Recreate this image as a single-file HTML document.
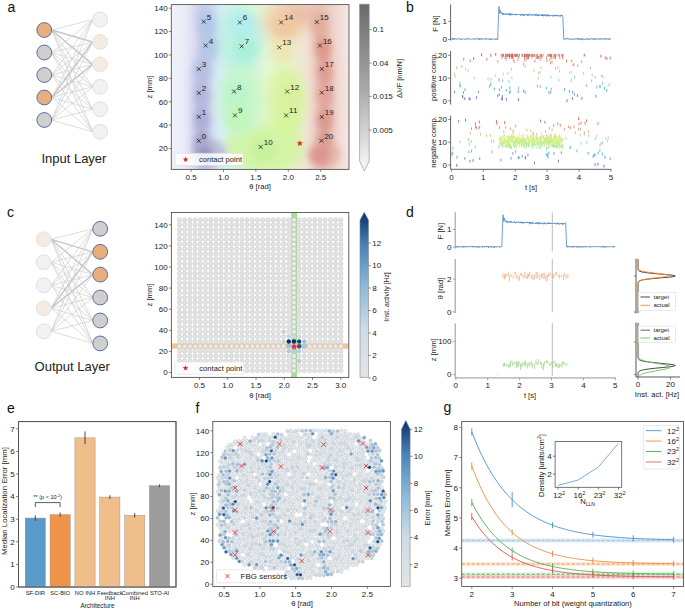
<!DOCTYPE html>
<html><head><meta charset="utf-8"><style>
html,body{margin:0;padding:0;background:#fff;width:685px;height:609px;overflow:hidden;}
svg{display:block;font-family:"Liberation Sans", sans-serif;}
</style></head><body>
<svg width="685" height="609" viewBox="0 0 685 609">
<defs><clipPath id="clipA"><rect x="171.3" y="4.6" width="177.7" height="164.8"/></clipPath>
<filter id="blurA" x="-50%" y="-50%" width="200%" height="200%"><feGaussianBlur stdDeviation="6"/></filter>
<filter id="blurA2" x="-50%" y="-50%" width="200%" height="200%"><feGaussianBlur stdDeviation="3"/></filter>
<linearGradient id="gAbg" x1="171.3" y1="0" x2="349" y2="0" gradientUnits="userSpaceOnUse"><stop offset="0" stop-color="#f0f2fa"/><stop offset="0.08" stop-color="#e9eaf6"/><stop offset="0.17" stop-color="#d6d8ee"/><stop offset="0.27" stop-color="#d6eef6"/><stop offset="0.40" stop-color="#d2f6de"/><stop offset="0.53" stop-color="#e4f7d4"/><stop offset="0.64" stop-color="#e6f4c6"/><stop offset="0.76" stop-color="#f2e4d8"/><stop offset="0.85" stop-color="#ecc8c0"/><stop offset="1" stop-color="#f5e7e3"/></linearGradient>
<linearGradient id="gA" x1="0" y1="0" x2="0" y2="1"><stop offset="0" stop-color="#6a6a6a"/><stop offset="0.5" stop-color="#a8a8a8"/><stop offset="1" stop-color="#fafafa"/></linearGradient>
<clipPath id="clipC"><rect x="171.4" y="212.5" width="177.4" height="164.9"/></clipPath>
<linearGradient id="gC" x1="0" y1="1" x2="0" y2="0"><stop offset="0" stop-color="#e4e4e4"/><stop offset="0.3" stop-color="#cddbe4"/><stop offset="0.55" stop-color="#8cbada"/><stop offset="0.8" stop-color="#4a82b8"/><stop offset="1" stop-color="#08306b"/></linearGradient>
<linearGradient id="gF" x1="0" y1="1" x2="0" y2="0"><stop offset="0" stop-color="#e4e4e4"/><stop offset="0.3" stop-color="#cddbe4"/><stop offset="0.55" stop-color="#8cbada"/><stop offset="0.8" stop-color="#4a82b8"/><stop offset="1" stop-color="#08306b"/></linearGradient>
<clipPath id="clipG"><rect x="461.7" y="421.5" width="221.8" height="165"/></clipPath></defs>
<rect width="685" height="609" fill="#fff"/>
<line x1="51.7" y1="30" x2="92.7" y2="19.6" stroke="#d0d0d0" stroke-width="0.75"/>
<line x1="51.7" y1="30" x2="92.7" y2="42" stroke="#c6c6c6" stroke-width="1.4"/>
<line x1="51.7" y1="30" x2="92.7" y2="64.4" stroke="#c6c6c6" stroke-width="1.4"/>
<line x1="51.7" y1="30" x2="92.7" y2="86.8" stroke="#d0d0d0" stroke-width="0.75"/>
<line x1="51.7" y1="30" x2="92.7" y2="109.2" stroke="#d0d0d0" stroke-width="0.75"/>
<line x1="51.7" y1="30" x2="92.7" y2="131.8" stroke="#d0d0d0" stroke-width="0.75"/>
<line x1="51.7" y1="52.5" x2="92.7" y2="19.6" stroke="#d0d0d0" stroke-width="0.75"/>
<line x1="51.7" y1="52.5" x2="92.7" y2="42" stroke="#d0d0d0" stroke-width="0.75"/>
<line x1="51.7" y1="52.5" x2="92.7" y2="64.4" stroke="#d0d0d0" stroke-width="0.75"/>
<line x1="51.7" y1="52.5" x2="92.7" y2="86.8" stroke="#d0d0d0" stroke-width="0.75"/>
<line x1="51.7" y1="52.5" x2="92.7" y2="109.2" stroke="#d0d0d0" stroke-width="0.75"/>
<line x1="51.7" y1="52.5" x2="92.7" y2="131.8" stroke="#d0d0d0" stroke-width="0.75"/>
<line x1="51.7" y1="75" x2="92.7" y2="19.6" stroke="#d0d0d0" stroke-width="0.75"/>
<line x1="51.7" y1="75" x2="92.7" y2="42" stroke="#d0d0d0" stroke-width="0.75"/>
<line x1="51.7" y1="75" x2="92.7" y2="64.4" stroke="#d0d0d0" stroke-width="0.75"/>
<line x1="51.7" y1="75" x2="92.7" y2="86.8" stroke="#d0d0d0" stroke-width="0.75"/>
<line x1="51.7" y1="75" x2="92.7" y2="109.2" stroke="#d0d0d0" stroke-width="0.75"/>
<line x1="51.7" y1="75" x2="92.7" y2="131.8" stroke="#d0d0d0" stroke-width="0.75"/>
<line x1="51.7" y1="97.5" x2="92.7" y2="19.6" stroke="#d0d0d0" stroke-width="0.75"/>
<line x1="51.7" y1="97.5" x2="92.7" y2="42" stroke="#c6c6c6" stroke-width="1.4"/>
<line x1="51.7" y1="97.5" x2="92.7" y2="64.4" stroke="#c6c6c6" stroke-width="1.4"/>
<line x1="51.7" y1="97.5" x2="92.7" y2="86.8" stroke="#d0d0d0" stroke-width="0.75"/>
<line x1="51.7" y1="97.5" x2="92.7" y2="109.2" stroke="#d0d0d0" stroke-width="0.75"/>
<line x1="51.7" y1="97.5" x2="92.7" y2="131.8" stroke="#d0d0d0" stroke-width="0.75"/>
<line x1="51.7" y1="120" x2="92.7" y2="19.6" stroke="#d0d0d0" stroke-width="0.75"/>
<line x1="51.7" y1="120" x2="92.7" y2="42" stroke="#d0d0d0" stroke-width="0.75"/>
<line x1="51.7" y1="120" x2="92.7" y2="64.4" stroke="#d0d0d0" stroke-width="0.75"/>
<line x1="51.7" y1="120" x2="92.7" y2="86.8" stroke="#d0d0d0" stroke-width="0.75"/>
<line x1="51.7" y1="120" x2="92.7" y2="109.2" stroke="#d0d0d0" stroke-width="0.75"/>
<line x1="51.7" y1="120" x2="92.7" y2="131.8" stroke="#d0d0d0" stroke-width="0.75"/>
<circle cx="44.3" cy="30" r="7.4" fill="#e8ae7e" stroke="#5a6ea6" stroke-width="1"/>
<circle cx="44.3" cy="52.5" r="7.4" fill="#cfcfcf" stroke="#5a6ea6" stroke-width="1"/>
<circle cx="44.3" cy="75" r="7.4" fill="#cfcfcf" stroke="#5a6ea6" stroke-width="1"/>
<circle cx="44.3" cy="97.5" r="7.4" fill="#e8ae7e" stroke="#5a6ea6" stroke-width="1"/>
<circle cx="44.3" cy="120" r="7.4" fill="#cfcfcf" stroke="#5a6ea6" stroke-width="1"/>
<circle cx="100.1" cy="19.6" r="7.4" fill="#f2f2f4" stroke="#dadfea" stroke-width="1"/>
<circle cx="100.1" cy="42" r="7.4" fill="#f4ece2" stroke="#e6e2de" stroke-width="1"/>
<circle cx="100.1" cy="64.4" r="7.4" fill="#f4ece2" stroke="#e6e2de" stroke-width="1"/>
<circle cx="100.1" cy="86.8" r="7.4" fill="#f2f2f4" stroke="#dadfea" stroke-width="1"/>
<circle cx="100.1" cy="109.2" r="7.4" fill="#f2f2f4" stroke="#dadfea" stroke-width="1"/>
<circle cx="100.1" cy="131.8" r="7.4" fill="#f2f2f4" stroke="#dadfea" stroke-width="1"/>
<text x="73.9" y="163.28" font-size="13" text-anchor="middle" fill="#222">Input Layer</text>
<line x1="51.1" y1="239.3" x2="92.8" y2="228.8" stroke="#d0d0d0" stroke-width="0.75"/>
<line x1="51.1" y1="239.3" x2="92.8" y2="251.8" stroke="#c6c6c6" stroke-width="1.4"/>
<line x1="51.1" y1="239.3" x2="92.8" y2="274.6" stroke="#c6c6c6" stroke-width="1.4"/>
<line x1="51.1" y1="239.3" x2="92.8" y2="297.5" stroke="#d0d0d0" stroke-width="0.75"/>
<line x1="51.1" y1="239.3" x2="92.8" y2="320.5" stroke="#d0d0d0" stroke-width="0.75"/>
<line x1="51.1" y1="239.3" x2="92.8" y2="343.4" stroke="#d0d0d0" stroke-width="0.75"/>
<line x1="51.1" y1="262.3" x2="92.8" y2="228.8" stroke="#d0d0d0" stroke-width="0.75"/>
<line x1="51.1" y1="262.3" x2="92.8" y2="251.8" stroke="#d0d0d0" stroke-width="0.75"/>
<line x1="51.1" y1="262.3" x2="92.8" y2="274.6" stroke="#d0d0d0" stroke-width="0.75"/>
<line x1="51.1" y1="262.3" x2="92.8" y2="297.5" stroke="#d0d0d0" stroke-width="0.75"/>
<line x1="51.1" y1="262.3" x2="92.8" y2="320.5" stroke="#d0d0d0" stroke-width="0.75"/>
<line x1="51.1" y1="262.3" x2="92.8" y2="343.4" stroke="#d0d0d0" stroke-width="0.75"/>
<line x1="51.1" y1="285.3" x2="92.8" y2="228.8" stroke="#d0d0d0" stroke-width="0.75"/>
<line x1="51.1" y1="285.3" x2="92.8" y2="251.8" stroke="#d0d0d0" stroke-width="0.75"/>
<line x1="51.1" y1="285.3" x2="92.8" y2="274.6" stroke="#d0d0d0" stroke-width="0.75"/>
<line x1="51.1" y1="285.3" x2="92.8" y2="297.5" stroke="#d0d0d0" stroke-width="0.75"/>
<line x1="51.1" y1="285.3" x2="92.8" y2="320.5" stroke="#d0d0d0" stroke-width="0.75"/>
<line x1="51.1" y1="285.3" x2="92.8" y2="343.4" stroke="#d0d0d0" stroke-width="0.75"/>
<line x1="51.1" y1="308.3" x2="92.8" y2="228.8" stroke="#d0d0d0" stroke-width="0.75"/>
<line x1="51.1" y1="308.3" x2="92.8" y2="251.8" stroke="#c6c6c6" stroke-width="1.4"/>
<line x1="51.1" y1="308.3" x2="92.8" y2="274.6" stroke="#c6c6c6" stroke-width="1.4"/>
<line x1="51.1" y1="308.3" x2="92.8" y2="297.5" stroke="#d0d0d0" stroke-width="0.75"/>
<line x1="51.1" y1="308.3" x2="92.8" y2="320.5" stroke="#d0d0d0" stroke-width="0.75"/>
<line x1="51.1" y1="308.3" x2="92.8" y2="343.4" stroke="#d0d0d0" stroke-width="0.75"/>
<line x1="51.1" y1="331.3" x2="92.8" y2="228.8" stroke="#d0d0d0" stroke-width="0.75"/>
<line x1="51.1" y1="331.3" x2="92.8" y2="251.8" stroke="#d0d0d0" stroke-width="0.75"/>
<line x1="51.1" y1="331.3" x2="92.8" y2="274.6" stroke="#d0d0d0" stroke-width="0.75"/>
<line x1="51.1" y1="331.3" x2="92.8" y2="297.5" stroke="#d0d0d0" stroke-width="0.75"/>
<line x1="51.1" y1="331.3" x2="92.8" y2="320.5" stroke="#d0d0d0" stroke-width="0.75"/>
<line x1="51.1" y1="331.3" x2="92.8" y2="343.4" stroke="#d0d0d0" stroke-width="0.75"/>
<circle cx="43.7" cy="239.3" r="7.4" fill="#f4ece2" stroke="#e6e2de" stroke-width="1"/>
<circle cx="43.7" cy="262.3" r="7.4" fill="#f2f2f4" stroke="#dadfea" stroke-width="1"/>
<circle cx="43.7" cy="285.3" r="7.4" fill="#f2f2f4" stroke="#dadfea" stroke-width="1"/>
<circle cx="43.7" cy="308.3" r="7.4" fill="#f4ece2" stroke="#e6e2de" stroke-width="1"/>
<circle cx="43.7" cy="331.3" r="7.4" fill="#f2f2f4" stroke="#dadfea" stroke-width="1"/>
<circle cx="100.2" cy="228.8" r="7.4" fill="#cfcfcf" stroke="#5a6ea6" stroke-width="1"/>
<circle cx="100.2" cy="251.8" r="7.4" fill="#e8ae7e" stroke="#5a6ea6" stroke-width="1"/>
<circle cx="100.2" cy="274.6" r="7.4" fill="#e8ae7e" stroke="#5a6ea6" stroke-width="1"/>
<circle cx="100.2" cy="297.5" r="7.4" fill="#cfcfcf" stroke="#5a6ea6" stroke-width="1"/>
<circle cx="100.2" cy="320.5" r="7.4" fill="#cfcfcf" stroke="#5a6ea6" stroke-width="1"/>
<circle cx="100.2" cy="343.4" r="7.4" fill="#cfcfcf" stroke="#5a6ea6" stroke-width="1"/>
<text x="72.2" y="371.08" font-size="13" text-anchor="middle" fill="#222">Output Layer</text>
<text x="7.5" y="11.5" font-size="14" fill="#111">a</text>
<text x="7" y="216.5" font-size="14" fill="#111">c</text>
<text x="7" y="412.8" font-size="14" fill="#111">e</text>
<text x="195.5" y="412.8" font-size="14" fill="#111">f</text>
<text x="443.5" y="412" font-size="14" fill="#111">g</text>
<text x="406" y="12" font-size="14" fill="#111">b</text>
<text x="406" y="216.5" font-size="14" fill="#111">d</text>
<g clip-path="url(#clipA)">
<rect x="171.3" y="4.6" width="177.7" height="164.8" fill="url(#gAbg)" stroke="none" stroke-width="0.8"/>
<g filter="url(#blurA)">
<ellipse cx="284" cy="22" rx="22" ry="22" fill="#f2d2b0" fill-opacity="0.9"/>
<ellipse cx="300" cy="14" rx="16" ry="12" fill="#e8b8a0" fill-opacity="0.8"/>
<ellipse cx="265" cy="148" rx="40" ry="24" fill="#d2f4a0" fill-opacity="0.9"/>
<ellipse cx="240" cy="40" rx="24" ry="32" fill="#b8f0e2" fill-opacity="0.85"/>
<ellipse cx="240" cy="100" rx="22" ry="36" fill="#c4f6c8" fill-opacity="0.8"/>
<ellipse cx="286" cy="100" rx="20" ry="34" fill="#d8f49c" fill-opacity="0.8"/>
<path d="M205 4 L206 24 L208 48 L201.5 72 L201.5 96 L201.5 120 L202 144 L205 170" stroke="#b8bce2" stroke-width="15" fill="none" stroke-opacity="0.8"/>
<path d="M318 4 L319.5 25 L322.5 48 L324.5 72 L324.5 96 L324.5 120 L324 144 L322 170" stroke="#e6b6ae" stroke-width="15" fill="none" stroke-opacity="0.8"/>
</g>
<g filter="url(#blurA2)">
<ellipse cx="201.8" cy="143.8" rx="8" ry="12" fill="#9e9cc2" fill-opacity="0.85"/>
<ellipse cx="201.8" cy="119.9" rx="8" ry="12" fill="#aaaad4" fill-opacity="0.85"/>
<ellipse cx="201.8" cy="96" rx="8" ry="12" fill="#b0b4de" fill-opacity="0.85"/>
<ellipse cx="201.8" cy="72" rx="8" ry="12" fill="#b2c0e2" fill-opacity="0.85"/>
<ellipse cx="208.7" cy="48.5" rx="8" ry="12" fill="#b0c8e8" fill-opacity="0.85"/>
<ellipse cx="206.8" cy="24.6" rx="8" ry="12" fill="#acc8ea" fill-opacity="0.85"/>
<ellipse cx="242.8" cy="25.4" rx="12" ry="13" fill="#b0ecf0" fill-opacity="0.85"/>
<ellipse cx="244.7" cy="49.3" rx="12" ry="13" fill="#a8f0d8" fill-opacity="0.85"/>
<ellipse cx="237.1" cy="94.5" rx="12" ry="13" fill="#b8f4c8" fill-opacity="0.85"/>
<ellipse cx="237.9" cy="118.4" rx="12" ry="13" fill="#c0f6b8" fill-opacity="0.85"/>
<ellipse cx="263.7" cy="149.9" rx="12" ry="13" fill="#c6f09c" fill-opacity="0.85"/>
<ellipse cx="289.1" cy="118.4" rx="12" ry="13" fill="#d2f49c" fill-opacity="0.85"/>
<ellipse cx="290.2" cy="94.5" rx="12" ry="13" fill="#daf09c" fill-opacity="0.85"/>
<ellipse cx="282.3" cy="50.4" rx="12" ry="13" fill="#f0e4b4" fill-opacity="0.85"/>
<ellipse cx="284.2" cy="25.4" rx="12" ry="13" fill="#f0c8a0" fill-opacity="0.85"/>
<ellipse cx="319.8" cy="25" rx="8" ry="12" fill="#e4ac98" fill-opacity="0.85"/>
<ellipse cx="322.9" cy="48.5" rx="8" ry="12" fill="#dc9484" fill-opacity="0.85"/>
<ellipse cx="324.8" cy="72" rx="8" ry="12" fill="#dc9890" fill-opacity="0.85"/>
<ellipse cx="324.8" cy="95.6" rx="8" ry="12" fill="#e0a098" fill-opacity="0.85"/>
<ellipse cx="324.8" cy="119.9" rx="8" ry="12" fill="#d8948c" fill-opacity="0.85"/>
<ellipse cx="324.4" cy="143.8" rx="8" ry="12" fill="#d48c84" fill-opacity="0.85"/>
<ellipse cx="209" cy="153" rx="17" ry="14" fill="#b0aed2" fill-opacity="0.7"/>
<ellipse cx="205" cy="156" rx="9" ry="9" fill="#928eb4" fill-opacity="0.8"/>
<ellipse cx="324" cy="154" rx="17" ry="13" fill="#e2aca2" fill-opacity="0.7"/>
<ellipse cx="320" cy="156" rx="10" ry="9" fill="#d8908a" fill-opacity="0.8"/>
</g>
</g>
<rect x="171.3" y="4.6" width="177.7" height="164.8" fill="none" stroke="#555" stroke-width="0.9"/>
<path d="M196.8 138.8 L200.8 142.8 M196.8 142.8 L200.8 138.8" stroke="#222" stroke-width="0.8" fill="none"/>
<text x="201.8" y="138.88" font-size="8" text-anchor="start" fill="#222">0</text>
<path d="M196.8 114.9 L200.8 118.9 M196.8 118.9 L200.8 114.9" stroke="#222" stroke-width="0.8" fill="none"/>
<text x="201.8" y="114.98" font-size="8" text-anchor="start" fill="#222">1</text>
<path d="M196.8 91 L200.8 95 M196.8 95 L200.8 91" stroke="#222" stroke-width="0.8" fill="none"/>
<text x="201.8" y="91.08" font-size="8" text-anchor="start" fill="#222">2</text>
<path d="M196.8 67 L200.8 71 M196.8 71 L200.8 67" stroke="#222" stroke-width="0.8" fill="none"/>
<text x="201.8" y="67.08" font-size="8" text-anchor="start" fill="#222">3</text>
<path d="M203.7 43.5 L207.7 47.5 M203.7 47.5 L207.7 43.5" stroke="#222" stroke-width="0.8" fill="none"/>
<text x="208.7" y="43.58" font-size="8" text-anchor="start" fill="#222">4</text>
<path d="M201.8 19.6 L205.8 23.6 M201.8 23.6 L205.8 19.6" stroke="#222" stroke-width="0.8" fill="none"/>
<text x="206.8" y="19.68" font-size="8" text-anchor="start" fill="#222">5</text>
<path d="M237.8 20.4 L241.8 24.4 M237.8 24.4 L241.8 20.4" stroke="#222" stroke-width="0.8" fill="none"/>
<text x="242.8" y="20.48" font-size="8" text-anchor="start" fill="#222">6</text>
<path d="M239.7 44.3 L243.7 48.3 M239.7 48.3 L243.7 44.3" stroke="#222" stroke-width="0.8" fill="none"/>
<text x="244.7" y="44.38" font-size="8" text-anchor="start" fill="#222">7</text>
<path d="M232.1 89.5 L236.1 93.5 M232.1 93.5 L236.1 89.5" stroke="#222" stroke-width="0.8" fill="none"/>
<text x="237.1" y="89.58" font-size="8" text-anchor="start" fill="#222">8</text>
<path d="M232.9 113.4 L236.9 117.4 M232.9 117.4 L236.9 113.4" stroke="#222" stroke-width="0.8" fill="none"/>
<text x="237.9" y="113.48" font-size="8" text-anchor="start" fill="#222">9</text>
<path d="M258.7 144.9 L262.7 148.9 M258.7 148.9 L262.7 144.9" stroke="#222" stroke-width="0.8" fill="none"/>
<text x="263.7" y="144.98" font-size="8" text-anchor="start" fill="#222">10</text>
<path d="M284.1 113.4 L288.1 117.4 M284.1 117.4 L288.1 113.4" stroke="#222" stroke-width="0.8" fill="none"/>
<text x="289.1" y="113.48" font-size="8" text-anchor="start" fill="#222">11</text>
<path d="M285.2 89.5 L289.2 93.5 M285.2 93.5 L289.2 89.5" stroke="#222" stroke-width="0.8" fill="none"/>
<text x="290.2" y="89.58" font-size="8" text-anchor="start" fill="#222">12</text>
<path d="M277.3 45.4 L281.3 49.4 M277.3 49.4 L281.3 45.4" stroke="#222" stroke-width="0.8" fill="none"/>
<text x="282.3" y="45.48" font-size="8" text-anchor="start" fill="#222">13</text>
<path d="M279.2 20.4 L283.2 24.4 M279.2 24.4 L283.2 20.4" stroke="#222" stroke-width="0.8" fill="none"/>
<text x="284.2" y="20.48" font-size="8" text-anchor="start" fill="#222">14</text>
<path d="M314.8 20 L318.8 24 M314.8 24 L318.8 20" stroke="#222" stroke-width="0.8" fill="none"/>
<text x="319.8" y="20.08" font-size="8" text-anchor="start" fill="#222">15</text>
<path d="M317.9 43.5 L321.9 47.5 M317.9 47.5 L321.9 43.5" stroke="#222" stroke-width="0.8" fill="none"/>
<text x="322.9" y="43.58" font-size="8" text-anchor="start" fill="#222">16</text>
<path d="M319.8 67 L323.8 71 M319.8 71 L323.8 67" stroke="#222" stroke-width="0.8" fill="none"/>
<text x="324.8" y="67.08" font-size="8" text-anchor="start" fill="#222">17</text>
<path d="M319.8 90.6 L323.8 94.6 M319.8 94.6 L323.8 90.6" stroke="#222" stroke-width="0.8" fill="none"/>
<text x="324.8" y="90.68" font-size="8" text-anchor="start" fill="#222">18</text>
<path d="M319.8 114.9 L323.8 118.9 M319.8 118.9 L323.8 114.9" stroke="#222" stroke-width="0.8" fill="none"/>
<text x="324.8" y="114.98" font-size="8" text-anchor="start" fill="#222">19</text>
<path d="M319.4 138.8 L323.4 142.8 M319.4 142.8 L323.4 138.8" stroke="#222" stroke-width="0.8" fill="none"/>
<text x="324.4" y="138.88" font-size="8" text-anchor="start" fill="#222">20</text>
<polygon points="299.8,140 300.61,142.18 302.94,142.28 301.12,143.73 301.74,145.97 299.8,144.69 297.86,145.97 298.48,143.73 296.66,142.28 298.99,142.18" fill="#ee2222"/>
<rect x="175" y="153.3" width="68.5" height="12.3" fill="#ffffff" stroke="#d8d8d8" stroke-width="0.6" rx="1.5" fill-opacity="0.85"/>
<polygon points="185.6,156.5 186.34,158.48 188.45,158.57 186.8,159.89 187.36,161.93 185.6,160.76 183.84,161.93 184.4,159.89 182.75,158.57 184.86,158.48" fill="#ee2222"/>
<text x="199" y="162.14" font-size="7.6" text-anchor="start" fill="#222">contact point</text>
<line x1="168.8" y1="148.5" x2="171.3" y2="148.5" stroke="#555" stroke-width="0.7"/>
<text x="167.6" y="151.38" font-size="8" text-anchor="end" fill="#222">20</text>
<line x1="168.8" y1="125.12" x2="171.3" y2="125.12" stroke="#555" stroke-width="0.7"/>
<text x="167.6" y="128" font-size="8" text-anchor="end" fill="#222">40</text>
<line x1="168.8" y1="101.74" x2="171.3" y2="101.74" stroke="#555" stroke-width="0.7"/>
<text x="167.6" y="104.62" font-size="8" text-anchor="end" fill="#222">60</text>
<line x1="168.8" y1="78.36" x2="171.3" y2="78.36" stroke="#555" stroke-width="0.7"/>
<text x="167.6" y="81.24" font-size="8" text-anchor="end" fill="#222">80</text>
<line x1="168.8" y1="54.98" x2="171.3" y2="54.98" stroke="#555" stroke-width="0.7"/>
<text x="167.6" y="57.86" font-size="8" text-anchor="end" fill="#222">100</text>
<line x1="168.8" y1="31.6" x2="171.3" y2="31.6" stroke="#555" stroke-width="0.7"/>
<text x="167.6" y="34.48" font-size="8" text-anchor="end" fill="#222">120</text>
<line x1="168.8" y1="8.22" x2="171.3" y2="8.22" stroke="#555" stroke-width="0.7"/>
<text x="167.6" y="11.1" font-size="8" text-anchor="end" fill="#222">140</text>
<line x1="191.1" y1="169.4" x2="191.1" y2="171.9" stroke="#555" stroke-width="0.7"/>
<text x="191.1" y="179.78" font-size="8" text-anchor="middle" fill="#222">0.5</text>
<line x1="223.5" y1="169.4" x2="223.5" y2="171.9" stroke="#555" stroke-width="0.7"/>
<text x="223.5" y="179.78" font-size="8" text-anchor="middle" fill="#222">1.0</text>
<line x1="255.9" y1="169.4" x2="255.9" y2="171.9" stroke="#555" stroke-width="0.7"/>
<text x="255.9" y="179.78" font-size="8" text-anchor="middle" fill="#222">1.5</text>
<line x1="288.3" y1="169.4" x2="288.3" y2="171.9" stroke="#555" stroke-width="0.7"/>
<text x="288.3" y="179.78" font-size="8" text-anchor="middle" fill="#222">2.0</text>
<line x1="320.7" y1="169.4" x2="320.7" y2="171.9" stroke="#555" stroke-width="0.7"/>
<text x="320.7" y="179.78" font-size="8" text-anchor="middle" fill="#222">2.5</text>
<text x="149.6" y="89.74" font-size="7.6" text-anchor="middle" fill="#222" transform="rotate(-90 149.6 87)">z [mm]</text>
<text x="260" y="188.74" font-size="7.6" text-anchor="middle" fill="#222">&#952; [rad]</text>
<path d="M359.6 4.2 L369.2 4.2 L369.2 161 L364.4 171 L359.6 161 Z" stroke="#888" stroke-width="0.6" fill="url(#gA)"/>
<line x1="369.2" y1="29.6" x2="371.5" y2="29.6" stroke="#555" stroke-width="0.7"/>
<text x="372.8" y="32.48" font-size="8" text-anchor="start" fill="#222">0.1</text>
<line x1="369.2" y1="63" x2="371.5" y2="63" stroke="#555" stroke-width="0.7"/>
<text x="372.8" y="65.88" font-size="8" text-anchor="start" fill="#222">0.04</text>
<line x1="369.2" y1="96.4" x2="371.5" y2="96.4" stroke="#555" stroke-width="0.7"/>
<text x="372.8" y="99.28" font-size="8" text-anchor="start" fill="#222">0.015</text>
<line x1="369.2" y1="130" x2="371.5" y2="130" stroke="#555" stroke-width="0.7"/>
<text x="372.8" y="132.88" font-size="8" text-anchor="start" fill="#222">0.005</text>
<text x="399.4" y="81.16" font-size="7.4" text-anchor="middle" fill="#222" transform="rotate(-90 399.4 78.5)">&#916;&#955;/F [nm/N]</text>
<line x1="450.6" y1="4.4" x2="450.6" y2="40.5" stroke="#555" stroke-width="0.9"/>
<line x1="448.1" y1="21.4" x2="450.6" y2="21.4" stroke="#555" stroke-width="0.7"/>
<text x="446.9" y="24.28" font-size="8" text-anchor="end" fill="#222">1</text>
<line x1="448.1" y1="39.5" x2="450.6" y2="39.5" stroke="#555" stroke-width="0.7"/>
<text x="446.9" y="42.38" font-size="8" text-anchor="end" fill="#222">0</text>
<text x="435.2" y="26.24" font-size="7.6" text-anchor="middle" fill="#222" transform="rotate(-90 435.2 23.5)">F [N]</text>
<path d="M451.4 39.49 L451.63 38.82 L451.86 38.84 L452.08 38.68 L452.31 39.26 L452.54 38.31 L452.77 39.52 L453 38.77 L453.22 39.1 L453.45 38.93 L453.68 39.44 L453.91 38.38 L454.14 38.9 L454.36 38.88 L454.59 39.34 L454.82 38.67 L455.05 38.95 L455.28 38.74 L455.5 39.01 L455.73 39.17 L455.96 38.67 L456.19 39.34 L456.42 39.27 L456.64 39.15 L456.87 39.27 L457.1 38.79 L457.33 38.96 L457.56 38.72 L457.78 38.92 L458.01 39.16 L458.24 38.79 L458.47 38.88 L458.7 38.79 L458.92 38.75 L459.15 38.8 L459.38 39 L459.61 38.66 L459.84 39.07 L460.06 39.5 L460.29 39.22 L460.52 38.94 L460.75 38.73 L460.98 38.78 L461.2 39.51 L461.43 39.02 L461.66 38.81 L461.89 39.06 L462.12 39.63 L462.34 39.04 L462.57 39.19 L462.8 39.09 L463.03 38.89 L463.26 38.66 L463.48 38.9 L463.71 38.94 L463.94 39.18 L464.17 39.25 L464.4 39.28 L464.62 39.09 L464.85 39.27 L465.08 38.77 L465.31 39.38 L465.54 39.15 L465.76 38.91 L465.99 39.15 L466.22 38.98 L466.45 39.34 L466.68 39.46 L466.9 39.66 L467.13 38.58 L467.36 38.57 L467.59 38.85 L467.82 39.05 L468.04 39.26 L468.27 39.09 L468.5 38.39 L468.73 38.91 L468.96 39.25 L469.18 39.07 L469.41 39.23 L469.64 38.93 L469.87 38.94 L470.1 39.06 L470.32 39.12 L470.55 39.06 L470.78 39.04 L471.01 38.8 L471.24 39.11 L471.46 39.04 L471.69 39.34 L471.92 39.36 L472.15 39.06 L472.38 38.89 L472.6 38.81 L472.83 39.13 L473.06 39.02 L473.29 38.9 L473.52 39.01 L473.74 38.81 L473.97 39.21 L474.2 38.87 L474.43 39.37 L474.66 39.12 L474.88 39.18 L475.11 38.67 L475.34 39.05 L475.57 39.22 L475.8 38.71 L476.02 38.92 L476.25 39.01 L476.48 38.59 L476.71 39.09 L476.94 39.25 L477.16 38.74 L477.39 39.11 L477.62 38.61 L477.85 38.99 L478.08 38.52 L478.3 39.34 L478.53 39.12 L478.76 38.99 L478.99 38.77 L479.22 39.38 L479.44 39.59 L479.67 38.44 L479.9 39.37 L480.13 39.49 L480.36 39.1 L480.58 38.64 L480.81 39.26 L481.04 38.95 L481.27 38.82 L481.5 38.63 L481.72 39.17 L481.95 39.24 L482.18 38.81 L482.41 39.16 L482.64 38.66 L482.86 39.24 L483.09 39.01 L483.32 38.94 L483.55 38.97 L483.78 39.26 L484 39.23 L484.23 39.16 L484.46 39.04 L484.69 39.02 L484.92 39.19 L485.14 39.07 L485.37 39.2 L485.6 38.91 L485.83 38.27 L486.06 39.31 L486.28 39.66 L486.51 39.13 L486.74 38.97 L486.97 38.96 L487.2 38.96 L487.42 39.01 L487.65 38.66 L487.88 38.84 L488.11 38.7 L488.34 39.07 L488.56 38.91 L488.79 39.15 L489.02 38.95 L489.25 39.3 L489.48 39.06 L489.7 39.66 L489.93 38.43 L490.16 38.81 L490.39 39.27 L490.62 39.76 L490.84 38.93 L491.07 39.01 L491.3 38.93 L491.53 39.4 L491.76 38.91 L491.98 39.2 L492.21 38.9 L492.44 38.62 L492.67 39.09 L492.9 39.15 L493.12 39.39 L493.35 38.97 L493.58 38.81 L493.81 39.17 L494.04 39.07 L494.26 39.08 L494.49 38.98 L494.72 39.35 L494.95 39.11 L495.18 39.57 L495.4 39.33 L495.63 39.2 L495.86 38.51 L496.09 39.18 L496.32 39.13 L496.54 39.24 L496.77 39.31 L497 38.88 L497.23 39.25 L497.46 38.83 L497.68 39.59 L497.91 33.17 L498.14 26.9 L498.37 20.64 L498.6 14.38 L498.82 8.12 L499.05 6.39 L499.28 8.39 L499.51 11 L499.74 13.57 L499.96 11.63 L500.19 11.93 L500.42 10.6 L500.65 10.5 L500.88 12.41 L501.1 12.65 L501.33 13.35 L501.56 13.89 L501.79 13.27 L502.02 12.6 L502.24 13.51 L502.47 13.23 L502.7 14.29 L502.93 14.2 L503.16 14.68 L503.38 13.8 L503.61 13.09 L503.84 14.76 L504.07 13.51 L504.3 13.82 L504.52 13.77 L504.75 14.07 L504.98 14.17 L505.21 14.1 L505.44 14.3 L505.66 14.85 L505.89 14.05 L506.12 13.62 L506.35 13.71 L506.58 13.9 L506.8 13.42 L507.03 14.54 L507.26 13.96 L507.49 14.08 L507.72 14.25 L507.94 13.65 L508.17 13.89 L508.4 14.57 L508.63 14.55 L508.86 14.08 L509.08 15.11 L509.31 13.72 L509.54 14.17 L509.77 14.23 L510 13.07 L510.22 15.2 L510.45 14.5 L510.68 13.88 L510.91 15.28 L511.14 14.63 L511.36 14.57 L511.59 14.11 L511.82 14.43 L512.05 13.7 L512.28 14.76 L512.5 14.24 L512.73 14.47 L512.96 14.96 L513.19 14.56 L513.42 14.55 L513.64 14.56 L513.87 14.12 L514.1 14.83 L514.33 15.15 L514.56 14.81 L514.78 14.87 L515.01 14.08 L515.24 14.09 L515.47 13.84 L515.7 15.05 L515.92 14.39 L516.15 15.14 L516.38 14.16 L516.61 14.33 L516.84 14.57 L517.06 14.95 L517.29 14.57 L517.52 14.64 L517.75 14.56 L517.98 14.64 L518.2 14.06 L518.43 14.61 L518.66 14.5 L518.89 14.56 L519.12 14.81 L519.34 14.29 L519.57 14.57 L519.8 14.48 L520.03 14.81 L520.26 14.98 L520.48 14.2 L520.71 14.9 L520.94 15.57 L521.17 13.99 L521.4 14.28 L521.62 14.27 L521.85 14.54 L522.08 15.4 L522.31 14.69 L522.54 14.37 L522.76 14.97 L522.99 14.43 L523.22 15.21 L523.45 14.85 L523.68 15.34 L523.9 14.43 L524.13 16.09 L524.36 15.11 L524.59 15.04 L524.82 14.73 L525.04 14.43 L525.27 14.37 L525.5 14.71 L525.73 14.42 L525.96 14.91 L526.18 14.42 L526.41 15.07 L526.64 15.23 L526.87 14.49 L527.1 15.35 L527.32 14.71 L527.55 15.35 L527.78 15.03 L528.01 15.34 L528.24 14.4 L528.46 14.8 L528.69 15.51 L528.92 14.59 L529.15 13.95 L529.38 14 L529.6 13.75 L529.83 13.94 L530.06 14.71 L530.29 15.48 L530.52 14.71 L530.74 15.06 L530.97 14.87 L531.2 14.93 L531.43 14.86 L531.66 14.86 L531.88 15.15 L532.11 14.42 L532.34 15.41 L532.57 15.38 L532.8 14.88 L533.02 15.34 L533.25 14.67 L533.48 14.75 L533.71 15.07 L533.94 14.92 L534.16 14.81 L534.39 14.71 L534.62 14.77 L534.85 15.45 L535.08 14.16 L535.3 15.2 L535.53 14.94 L535.76 15.38 L535.99 15.29 L536.22 13.81 L536.44 15.33 L536.67 15.22 L536.9 15.09 L537.13 14.88 L537.36 15.48 L537.58 14.92 L537.81 15.93 L538.04 15.37 L538.27 16.08 L538.5 14.77 L538.72 14.34 L538.95 15.46 L539.18 15.53 L539.41 15.17 L539.64 14.47 L539.86 14.96 L540.09 15.45 L540.32 15.1 L540.55 15.13 L540.78 15.11 L541 14.78 L541.23 14.96 L541.46 14.57 L541.69 16.01 L541.92 15.01 L542.14 15.44 L542.37 14.78 L542.6 15.6 L542.83 14.4 L543.06 15.67 L543.28 15.24 L543.51 16.22 L543.74 14.69 L543.97 15.31 L544.2 15.45 L544.42 15.85 L544.65 15.11 L544.88 15.34 L545.11 14.35 L545.34 14.94 L545.56 15.53 L545.79 15.83 L546.02 15.21 L546.25 16.27 L546.48 16.14 L546.7 15.33 L546.93 14.28 L547.16 14.57 L547.39 15.02 L547.62 15.88 L547.84 15.53 L548.07 14.45 L548.3 15.3 L548.53 16.13 L548.76 15.24 L548.98 15.08 L549.21 16.35 L549.44 15.45 L549.67 15.22 L549.9 15.6 L550.12 15.46 L550.35 15.26 L550.58 16.01 L550.81 15.97 L551.04 15.85 L551.26 15.43 L551.49 16 L551.72 15.47 L551.95 15.71 L552.18 15.97 L552.4 15.88 L552.63 16.32 L552.86 15.73 L553.09 14.77 L553.32 15.02 L553.54 16.15 L553.77 15.4 L554 15.73 L554.23 15.18 L554.46 16.02 L554.68 15.4 L554.91 16.24 L555.14 15.35 L555.37 16.1 L555.6 15.9 L555.82 15.28 L556.05 16.11 L556.28 15.21 L556.51 15.26 L556.74 15.96 L556.96 15.36 L557.19 15.38 L557.42 15.5 L557.65 15.21 L557.88 16.13 L558.1 15.94 L558.33 15.65 L558.56 15.63 L558.79 15.89 L559.02 16.49 L559.24 16.09 L559.47 15.48 L559.7 16.06 L559.93 15.67 L560.16 15.64 L560.38 16.57 L560.61 15.55 L560.84 15.53 L561.07 14.87 L561.3 15.13 L561.52 15.97 L561.75 15.46 L561.98 16.01 L562.21 15.28 L562.44 15.44 L562.66 16.1 L562.89 17.93 L563.12 23.22 L563.35 28.51 L563.58 33.8 L563.8 39.44 L564.03 39.18 L564.26 39.36 L564.49 39.51 L564.72 39.31 L564.94 38.72 L565.17 38.97 L565.4 39.19 L565.63 38.88 L565.86 39.14 L566.08 38.53 L566.31 38.75 L566.54 39.16 L566.77 38.33 L567 38.67 L567.22 38.99 L567.45 38.48 L567.68 39.02 L567.91 38.76 L568.14 38.91 L568.36 38.92 L568.59 39.06 L568.82 38.83 L569.05 39.03 L569.28 38.82 L569.5 39.17 L569.73 39.51 L569.96 39.06 L570.19 39.05 L570.42 38.65 L570.64 39.21 L570.87 38.77 L571.1 38.76 L571.33 39.17 L571.56 39.05 L571.78 39.33 L572.01 39.43 L572.24 38.84 L572.47 39.04 L572.7 39.53 L572.92 39.29 L573.15 39.21 L573.38 39.39 L573.61 38.82 L573.84 39.19 L574.06 39.42 L574.29 39.49 L574.52 38.76 L574.75 38.92 L574.98 39.11 L575.2 38.91 L575.43 38.88 L575.66 39.21 L575.89 38.89 L576.12 38.46 L576.34 39.11 L576.57 38.87 L576.8 38.78 L577.03 38.53 L577.26 39.3 L577.48 38.33 L577.71 38.49 L577.94 38.92 L578.17 39.37 L578.4 39.39 L578.62 38.65 L578.85 38.95 L579.08 38.55 L579.31 39.3 L579.54 38.56 L579.76 38.96 L579.99 39.31 L580.22 38.93 L580.45 39.44 L580.68 38.74 L580.9 39.11 L581.13 39.26 L581.36 38.96 L581.59 39.42 L581.82 39.16 L582.04 38.51 L582.27 40.19 L582.5 39.19 L582.73 39.03 L582.96 38.58 L583.18 39.02 L583.41 38.86 L583.64 39.19 L583.87 39.11 L584.1 39.56 L584.32 39.04 L584.55 39.15 L584.78 39.11 L585.01 38.96 L585.24 38.94 L585.46 39.33 L585.69 39.23 L585.92 38.81 L586.15 38.67 L586.38 38.98 L586.6 39.35 L586.83 38.99 L587.06 39.52 L587.29 38.77 L587.52 39.04 L587.74 38.25 L587.97 38.82 L588.2 38.91 L588.43 39.15 L588.66 39.51 L588.88 39.01 L589.11 39.44 L589.34 39.2 L589.57 39.3 L589.8 38.86 L590.02 39.42 L590.25 38.68 L590.48 39.15 L590.71 38.71 L590.94 38.84 L591.16 38.56 L591.39 38.85 L591.62 39.11 L591.85 38.98 L592.08 38.6 L592.3 39.44 L592.53 39.1 L592.76 39.3 L592.99 39.24 L593.22 38.8 L593.44 38.42 L593.67 38.73 L593.9 39.37 L594.13 38.68 L594.36 39.24 L594.58 38.82 L594.81 39.12 L595.04 38.45 L595.27 39.35 L595.5 38.99 L595.72 39.27 L595.95 39.06 L596.18 39.24 L596.41 38.97 L596.64 39.22 L596.86 38.55 L597.09 38.68 L597.32 39.22 L597.55 38.99 L597.78 38.93 L598 38.95 L598.23 39.15 L598.46 38.82 L598.69 39.15 L598.92 38.73 L599.14 38.88 L599.37 39.3 L599.6 39.32 L599.83 38.67 L600.06 39.25 L600.28 38.69 L600.51 39.22 L600.74 38.43 L600.97 38.66 L601.2 38.85 L601.42 38.95 L601.65 39.43 L601.88 39.27 L602.11 39.47 L602.34 39.36 L602.56 38.92 L602.79 38.92 L603.02 39.32 L603.25 39.01 L603.48 38.95 L603.7 38.6 L603.93 38.97 L604.16 38.16 L604.39 38.86 L604.62 38.71 L604.84 39.21 L605.07 38.86 L605.3 38.9 L605.53 39.4 L605.76 38.69 L605.98 39.09 L606.21 38.43 L606.44 39.03 L606.67 39.12 L606.9 39.26 L607.12 38.73 L607.35 39.1 L607.58 39.1 L607.81 38.99 L608.04 39.05 L608.26 39.14 L608.49 39.12 L608.72 38.7 L608.95 38.64 L609.18 39.75 L609.4 39.58 L609.63 38.58 L609.86 39.14 L610.09 39.19 L610.32 39.23 L610.54 39.04 L610.77 38.72 L611 38.95" stroke="#4a86c0" stroke-width="0.8" fill="none"/>
<line x1="450.6" y1="51" x2="450.6" y2="104.5" stroke="#555" stroke-width="0.9"/>
<line x1="448.1" y1="55.3" x2="450.6" y2="55.3" stroke="#555" stroke-width="0.7"/>
<text x="446.9" y="58.18" font-size="8" text-anchor="end" fill="#222">20</text>
<line x1="448.1" y1="78.2" x2="450.6" y2="78.2" stroke="#555" stroke-width="0.7"/>
<text x="446.9" y="81.08" font-size="8" text-anchor="end" fill="#222">10</text>
<line x1="448.1" y1="100.8" x2="450.6" y2="100.8" stroke="#555" stroke-width="0.7"/>
<text x="446.9" y="103.68" font-size="8" text-anchor="end" fill="#222">0</text>
<text x="433" y="79.44" font-size="7.6" text-anchor="middle" fill="#222" transform="rotate(-90 433 76.7)">positive comp.</text>
<line x1="450.6" y1="115.6" x2="450.6" y2="169.3" stroke="#555" stroke-width="0.9"/>
<line x1="450.6" y1="169.3" x2="611.4" y2="169.3" stroke="#555" stroke-width="0.9"/>
<line x1="448.1" y1="119.6" x2="450.6" y2="119.6" stroke="#555" stroke-width="0.7"/>
<text x="446.9" y="122.48" font-size="8" text-anchor="end" fill="#222">20</text>
<line x1="448.1" y1="142.2" x2="450.6" y2="142.2" stroke="#555" stroke-width="0.7"/>
<text x="446.9" y="145.08" font-size="8" text-anchor="end" fill="#222">10</text>
<line x1="448.1" y1="165.1" x2="450.6" y2="165.1" stroke="#555" stroke-width="0.7"/>
<text x="446.9" y="167.98" font-size="8" text-anchor="end" fill="#222">0</text>
<text x="433" y="144.74" font-size="7.6" text-anchor="middle" fill="#222" transform="rotate(-90 433 142)">negative comp.</text>
<line x1="451.4" y1="169.3" x2="451.4" y2="171.8" stroke="#555" stroke-width="0.7"/>
<text x="451.4" y="179.68" font-size="8" text-anchor="middle" fill="#222">0</text>
<line x1="483.3" y1="169.3" x2="483.3" y2="171.8" stroke="#555" stroke-width="0.7"/>
<text x="483.3" y="179.68" font-size="8" text-anchor="middle" fill="#222">1</text>
<line x1="515.2" y1="169.3" x2="515.2" y2="171.8" stroke="#555" stroke-width="0.7"/>
<text x="515.2" y="179.68" font-size="8" text-anchor="middle" fill="#222">2</text>
<line x1="547.1" y1="169.3" x2="547.1" y2="171.8" stroke="#555" stroke-width="0.7"/>
<text x="547.1" y="179.68" font-size="8" text-anchor="middle" fill="#222">3</text>
<line x1="579" y1="169.3" x2="579" y2="171.8" stroke="#555" stroke-width="0.7"/>
<text x="579" y="179.68" font-size="8" text-anchor="middle" fill="#222">4</text>
<line x1="610.9" y1="169.3" x2="610.9" y2="171.8" stroke="#555" stroke-width="0.7"/>
<text x="610.9" y="179.68" font-size="8" text-anchor="middle" fill="#222">5</text>
<text x="531" y="189.54" font-size="7.6" text-anchor="middle" fill="#222">t [s]</text>
<path d="M567.03 99.37 v2.8 M518.42 98.23 v2.8" stroke="#8637d5" stroke-width="0.9" fill="none" stroke-opacity="0.9"/>
<path d="M470.02 97.64 v2.8 M501.86 97.36 v2.8 M476.59 96.06 v2.8 M572.46 97.08 v2.8 M581.91 96.89 v2.8 M506.37 97.96 v2.8 M502.25 97.65 v2.8 M469.21 97.37 v2.8 M464.79 97.25 v2.8" stroke="#7650d5" stroke-width="0.9" fill="none" stroke-opacity="0.9"/>
<path d="M462.57 95.55 v2.8 M502.34 95 v2.8 M462.63 95.13 v2.8 M497.7 94.52 v2.8 M577.42 94.06 v2.8 M595.81 94.7 v2.8" stroke="#6768d3" stroke-width="0.9" fill="none" stroke-opacity="0.9"/>
<path d="M574.3 93.06 v2.8 M499.24 93.14 v2.8" stroke="#577fd1" stroke-width="0.9" fill="none" stroke-opacity="0.9"/>
<path d="M548.96 91.01 v2.8 M509.72 91.1 v2.8 M525.02 90.86 v2.8 M463.36 91.2 v2.8 M454.49 90.66 v2.8 M572.56 90.77 v2.8 M523.62 89.56 v2.8 M550.74 90.94 v2.8 M569.42 89.9 v2.8 M518.18 90.15 v2.8 M510.04 89.87 v2.8 M478.36 90.46 v2.8" stroke="#4794cd" stroke-width="0.9" fill="none" stroke-opacity="0.9"/>
<path d="M499.41 88.4 v2.8 M465.07 88.33 v2.8 M506.22 88.81 v2.8 M564.53 88.11 v2.8 M606.75 89.01 v2.8 M551.12 87.82 v2.8 M494.35 87.51 v2.8" stroke="#37a7c9" stroke-width="0.9" fill="none" stroke-opacity="0.9"/>
<path d="M540.17 85.1 v2.8 M509.85 86.26 v2.8 M596.83 85.8 v2.8 M501.43 85.76 v2.8 M599.86 84.88 v2.8 M489.42 84.9 v2.8 M518.45 86.78 v2.8 M604.51 86.84 v2.8 M546.38 86.87 v2.8 M600.08 85.41 v2.8 M537.35 84.66 v2.8" stroke="#47b7c4" stroke-width="0.9" fill="none" stroke-opacity="0.9"/>
<path d="M460.19 84.63 v2.8 M586.42 84.12 v2.8 M609.16 83.37 v2.8 M490.92 83.42 v2.8 M460.03 84.47 v2.8" stroke="#57c4be" stroke-width="0.9" fill="none" stroke-opacity="0.9"/>
<path d="M602.6 82 v2.8 M508.91 80.19 v2.8 M490.8 82.29 v2.8 M459.85 81.69 v2.8" stroke="#67cdb7" stroke-width="0.9" fill="none" stroke-opacity="0.9"/>
<path d="M499.1 77.79 v2.8 M558.82 78.74 v2.8 M491.02 77.88 v2.8 M571.32 79.1 v2.8 M591.64 79.38 v2.8 M502.5 79.09 v2.8 M499.04 79.17 v2.8" stroke="#76d3af" stroke-width="0.9" fill="none" stroke-opacity="0.9"/>
<path d="M488.03 77.63 v2.8 M574.62 75.99 v2.8 M595.4 76.01 v2.8 M538.23 76.61 v2.8 M474.24 76.63 v2.8 M550.85 75.9 v2.8 M511.93 76.35 v2.8" stroke="#86d5a7" stroke-width="0.9" fill="none" stroke-opacity="0.9"/>
<path d="M455.2 75 v2.8 M495.1 74.22 v2.8 M602.99 75.43 v2.8 M592.24 73.9 v2.8 M601.44 74.6 v2.8" stroke="#96d39e" stroke-width="0.9" fill="none" stroke-opacity="0.9"/>
<path d="M507.88 72.11 v2.8 M503.21 72.77 v2.8 M583.55 72.09 v2.8 M538.45 71.65 v2.8 M454.33 72.91 v2.8 M569.68 71.32 v2.8" stroke="#a6cd94" stroke-width="0.9" fill="none" stroke-opacity="0.9"/>
<path d="M559.6 69.54 v2.8 M468.18 69.38 v2.8 M571.87 70.76 v2.8 M540.23 71.01 v2.8 M533.88 69.05 v2.8" stroke="#b6c48a" stroke-width="0.9" fill="none" stroke-opacity="0.9"/>
<path d="M511.42 67.96 v2.8 M541.12 66.65 v2.8 M590.57 66.58 v2.8 M456.67 66.42 v2.8 M465.7 67.91 v2.8 M555.58 67.02 v2.8" stroke="#c5b77f" stroke-width="0.9" fill="none" stroke-opacity="0.9"/>
<path d="M461.89 65.04 v2.8 M558.03 65.76 v2.8 M577.66 64.26 v2.8 M525.16 64.74 v2.8" stroke="#d5a774" stroke-width="0.9" fill="none" stroke-opacity="0.9"/>
<path d="M573.88 63.34 v2.8 M523.47 62.88 v2.8 M573.01 63.5 v2.8" stroke="#d59468" stroke-width="0.9" fill="none" stroke-opacity="0.9"/>
<path d="M550.54 61.5 v2.8 M581.65 60.3 v2.8 M497.87 59.93 v2.8 M514.26 60.18 v2.8 M551.99 60.58 v2.8" stroke="#d57f5c" stroke-width="0.9" fill="none" stroke-opacity="0.9"/>
<path d="M571.75 59.49 v2.8 M526.89 57.52 v2.8 M566.49 59.57 v2.8 M486.86 58.01 v2.8 M463.66 57.93 v2.8 M546.97 59.51 v2.8 M534.93 59.56 v2.8 M524.88 58.93 v2.8 M470.14 59.54 v2.8" stroke="#d56850" stroke-width="0.9" fill="none" stroke-opacity="0.9"/>
<path d="M549.78 58.42 v2.8 M540.2 58.18 v2.8 M506.08 58.25 v2.8 M513.26 58.5 v2.8 M517.86 58.1 v2.8" stroke="#d89078" stroke-width="0.9" fill="none" stroke-opacity="0.9"/>
<path d="M538.67 55.81 v2.8 M605.31 56.48 v2.8 M473.6 57.24 v2.8 M562.86 56.47 v2.8 M606.94 57.07 v2.8 M610.23 56.65 v2.8" stroke="#d55043" stroke-width="0.9" fill="none" stroke-opacity="0.9"/>
<path d="M526.94 56.07 v2.8 M518.7 55.93 v2.8 M509.44 56 v2.8 M541.92 55.79 v2.8 M524.47 56.07 v2.8 M555.53 56.28 v2.8 M502.01 56.45 v2.8 M555.03 55.96 v2.8 M505.14 56.34 v2.8 M551.79 56.38 v2.8 M528.47 56.33 v2.8 M546.47 56.55 v2.8 M528.02 56.24 v2.8 M509.36 56.13 v2.8 M559.74 56.2 v2.8 M540.24 55.78 v2.8 M512.96 55.78 v2.8 M537.31 56.17 v2.8 M512.62 56.08 v2.8 M524.89 55.88 v2.8 M537.23 56.06 v2.8 M538.19 56.29 v2.8 M506.14 56.19 v2.8 M511.54 56.09 v2.8 M528.49 56.39 v2.8 M532.18 55.82 v2.8 M553.94 56.48 v2.8 M536.05 56.32 v2.8 M551.02 56.11 v2.8" stroke="#cc8070" stroke-width="0.9" fill="none" stroke-opacity="0.9"/>
<path d="M495.71 53.01 v2.8 M509.46 53.55 v2.8 M490.87 54.02 v2.8 M524.34 54.55 v2.8 M601.01 54.77 v2.8 M481.6 53.31 v2.8 M512.25 54.99 v2.8 M584.27 53.74 v2.8" stroke="#d53737" stroke-width="0.9" fill="none" stroke-opacity="0.9"/>
<path d="M527.15 53.89 v2.8 M551.05 54.09 v2.8 M503.65 53.91 v2.8 M513.13 53.84 v2.8 M550.4 54.14 v2.8 M551.78 54.04 v2.8 M512.01 53.72 v2.8 M502.84 53.92 v2.8 M540.98 53.84 v2.8 M549.9 53.9 v2.8 M502.43 54.03 v2.8 M532.59 53.82 v2.8 M508.3 53.95 v2.8 M537.59 53.77 v2.8 M506.42 53.87 v2.8 M507.66 54.09 v2.8 M533.74 54.02 v2.8 M559.67 53.83 v2.8 M501.08 53.79 v2.8 M505.59 53.95 v2.8 M512.14 53.89 v2.8 M551.23 54.14 v2.8 M514.58 53.8 v2.8 M516.61 54.11 v2.8 M526.64 53.77 v2.8 M553.91 54.05 v2.8 M517.13 54.08 v2.8 M529.35 53.74 v2.8 M529.55 53.87 v2.8 M531.12 54.01 v2.8 M527.7 53.86 v2.8 M550.61 53.7 v2.8 M512 54.03 v2.8 M531.43 53.89 v2.8 M507.61 53.74 v2.8 M554.84 53.68 v2.8 M526.36 53.91 v2.8 M562.92 53.8 v2.8 M541.57 54.06 v2.8 M512.27 53.73 v2.8 M558.25 53.66 v2.8 M517.98 54.1 v2.8 M539.98 53.86 v2.8 M548.07 54.08 v2.8 M505.84 53.94 v2.8 M511 54.09 v2.8 M526.47 54.12 v2.8 M522.13 53.69 v2.8 M519.4 53.79 v2.8 M516.49 53.74 v2.8 M522.25 54.13 v2.8 M561.87 54 v2.8 M528.5 54.11 v2.8 M528.46 54.14 v2.8 M515.23 54.05 v2.8 M511.35 54.09 v2.8 M515.67 54.12 v2.8 M555.75 53.95 v2.8 M555.79 54.06 v2.8 M510.14 54.14 v2.8 M524.55 53.89 v2.8 M536.28 53.76 v2.8 M534.56 53.98 v2.8 M512.1 53.68 v2.8 M503.19 53.8 v2.8 M550.08 53.84 v2.8 M507.53 54.05 v2.8 M524.61 53.66 v2.8 M547.88 53.81 v2.8 M542.97 53.8 v2.8 M525.3 53.98 v2.8 M550.25 54.09 v2.8 M562.62 53.89 v2.8" stroke="#c87264" stroke-width="0.9" fill="none" stroke-opacity="0.9"/>
<path d="M597.94 162.83 v2.8 M595.06 163.18 v2.8 M456.73 163.95 v2.8 M604.03 164.77 v2.8" stroke="#8637d5" stroke-width="0.9" fill="none" stroke-opacity="0.9"/>
<path d="M534.54 161.55 v2.8" stroke="#7650d5" stroke-width="0.9" fill="none" stroke-opacity="0.9"/>
<path d="M472.97 159.08 v2.8 M469.95 159.91 v2.8 M500.83 158.65 v2.8 M558.5 159.71 v2.8" stroke="#6768d3" stroke-width="0.9" fill="none" stroke-opacity="0.9"/>
<path d="M610.12 157.43 v2.8 M479.72 157.2 v2.8 M604.93 155.74 v2.8 M518.27 156.4 v2.8 M519.04 156.21 v2.8 M525.27 155.81 v2.8 M511.01 156.93 v2.8 M525.65 156.67 v2.8 M457.01 155.79 v2.8 M464.84 157.05 v2.8" stroke="#577fd1" stroke-width="0.9" fill="none" stroke-opacity="0.9"/>
<path d="M594.11 153.9 v2.8 M548.02 155.67 v2.8 M547.64 153.58 v2.8 M522.2 154.83 v2.8 M527.97 153.47 v2.8 M593.11 155 v2.8" stroke="#4794cd" stroke-width="0.9" fill="none" stroke-opacity="0.9"/>
<path d="M602.38 152.56 v2.8 M588.12 151.87 v2.8 M561.28 151.29 v2.8 M451.92 153.05 v2.8 M594.97 153.31 v2.8 M598.12 151.59 v2.8 M452.34 151.63 v2.8 M553.95 152.03 v2.8 M512.84 152.09 v2.8 M546.42 153.25 v2.8 M548.82 151.61 v2.8" stroke="#37a7c9" stroke-width="0.9" fill="none" stroke-opacity="0.9"/>
<path d="M515.61 150.3 v2.8 M576.9 149.55 v2.8 M491.88 150.35 v2.8 M468.86 150.43 v2.8 M599.84 149.01 v2.8 M471.56 149.7 v2.8" stroke="#47b7c4" stroke-width="0.9" fill="none" stroke-opacity="0.9"/>
<path d="M453.06 146.78 v2.8 M546.69 147.33 v2.8" stroke="#57c4be" stroke-width="0.9" fill="none" stroke-opacity="0.9"/>
<path d="M569.81 146.67 v2.8 M554.08 145.13 v2.8 M556.57 145.12 v2.8 M475.2 145.77 v2.8 M570.48 145.78 v2.8 M553.71 144.33 v2.8 M498.97 145.68 v2.8 M511.34 146.17 v2.8" stroke="#67cdb7" stroke-width="0.9" fill="none" stroke-opacity="0.9"/>
<path d="M506.66 144.08 v2.8 M514.98 146.24 v2.8 M525.98 145.85 v2.8 M539.57 144.3 v2.8 M505.34 145.57 v2.8 M524.15 145.52 v2.8 M519.79 144.86 v2.8 M561.22 144.75 v2.8 M561.08 144.54 v2.8 M546.68 145.75 v2.8 M532.28 144.46 v2.8 M509.74 146.14 v2.8 M559.82 146.58 v2.8 M558.06 146.06 v2.8 M555.56 144.8 v2.8 M502.51 145.19 v2.8 M548.69 145.54 v2.8 M506.01 145.03 v2.8 M557.01 145.64 v2.8 M536.76 146.06 v2.8 M562.29 144.9 v2.8 M526.6 144.65 v2.8 M539.43 146.36 v2.8 M548.78 146.33 v2.8 M515.83 144.13 v2.8 M540.01 145.94 v2.8 M552 144.38 v2.8 M532.51 145.64 v2.8 M526.33 144.87 v2.8 M533.13 146.48 v2.8 M559.6 144.29 v2.8 M563 146.69 v2.8 M542.05 145.03 v2.8 M549.62 144.4 v2.8 M561.88 145.37 v2.8 M508.28 144.25 v2.8" stroke="#b0e8a0" stroke-width="0.9" fill="none" stroke-opacity="0.9"/>
<path d="M534.22 142.98 v2.8 M469.36 142.46 v2.8 M528.59 143.96 v2.8 M599.97 143.61 v2.8" stroke="#76d3af" stroke-width="0.9" fill="none" stroke-opacity="0.9"/>
<path d="M521.68 144.4 v2.8 M529.43 142.22 v2.8 M523.39 142.73 v2.8 M513.41 142.86 v2.8 M513.72 144.18 v2.8 M508.36 142.32 v2.8 M545.79 142.25 v2.8 M507.1 144.7 v2.8 M519.65 141.86 v2.8 M524.24 142.66 v2.8 M501.67 142.96 v2.8 M509.14 142.4 v2.8 M510.14 142.54 v2.8 M548.4 142.05 v2.8 M514.51 144.16 v2.8 M546.92 142.46 v2.8 M521.42 143.63 v2.8 M541.44 142.81 v2.8 M541.01 141.74 v2.8 M514.11 142.47 v2.8 M526.11 144.21 v2.8 M542.41 142.96 v2.8 M537.87 141.99 v2.8 M538.08 144.65 v2.8 M501.77 143.68 v2.8 M557.02 143.69 v2.8 M555.97 144.51 v2.8 M510.65 144.52 v2.8 M524 144.36 v2.8 M557.16 142.93 v2.8 M528.1 142.56 v2.8 M526.89 143.17 v2.8 M544.52 144 v2.8 M509.52 143.25 v2.8 M554.36 142.85 v2.8 M500.13 143.52 v2.8 M503.98 143.65 v2.8 M523.23 144.66 v2.8 M515.16 143.59 v2.8 M531.96 142.91 v2.8 M508.4 144.53 v2.8 M540.19 143.92 v2.8 M533.64 143.02 v2.8 M552.2 143.1 v2.8 M516.42 144.72 v2.8 M510.16 144.62 v2.8 M532.84 141.74 v2.8 M514.68 144.26 v2.8 M528.36 142.81 v2.8 M506.68 142.92 v2.8 M537.52 142.61 v2.8 M552.63 143.57 v2.8 M557.46 142.25 v2.8 M559.9 142.35 v2.8 M536.35 142.37 v2.8 M532.09 143.41 v2.8 M548.8 142.03 v2.8 M542.13 142.66 v2.8 M509.7 144.15 v2.8 M526.53 143.18 v2.8 M509.1 144.59 v2.8 M535.41 143.87 v2.8 M531.73 142.07 v2.8 M528.2 143.07 v2.8 M562.48 143.31 v2.8 M556.68 144.41 v2.8 M508.91 144.49 v2.8 M538.02 141.88 v2.8 M529.76 144.45 v2.8 M552.12 143.79 v2.8 M558.55 143.45 v2.8 M552.13 144.48 v2.8 M500.96 142.94 v2.8" stroke="#bcec90" stroke-width="0.9" fill="none" stroke-opacity="0.9"/>
<path d="M586.76 141.29 v2.8 M471.37 140.15 v2.8 M459.97 140.36 v2.8 M526.47 141.99 v2.8 M601.13 141.9 v2.8 M602.53 141.53 v2.8 M544.99 140.89 v2.8 M581.1 141.86 v2.8 M491.48 140.16 v2.8" stroke="#86d5a7" stroke-width="0.9" fill="none" stroke-opacity="0.9"/>
<path d="M501.63 142.45 v2.8 M551.28 142.03 v2.8 M517.22 140.88 v2.8 M558.28 142.45 v2.8 M558.78 140.66 v2.8 M549.51 140.75 v2.8 M552.01 141.52 v2.8 M518.59 140.24 v2.8 M509.37 140.77 v2.8 M522.63 141.47 v2.8 M524.34 140.18 v2.8 M558.96 140.79 v2.8 M552.2 139.74 v2.8 M552.87 142.3 v2.8 M543.49 141.29 v2.8 M550.16 139.87 v2.8 M528.89 141.12 v2.8 M556.66 139.67 v2.8 M561.16 140.8 v2.8 M525.48 141.96 v2.8 M557.03 141.39 v2.8 M544.71 140.64 v2.8 M540.21 141.38 v2.8 M532.8 142.23 v2.8 M559.49 140.13 v2.8 M522.38 142.14 v2.8 M508.18 140.22 v2.8 M503.1 141.32 v2.8 M550.81 139.89 v2.8 M533.56 140.93 v2.8 M514.52 142.29 v2.8 M521.08 140.8 v2.8 M541.21 141.64 v2.8 M547.01 140.88 v2.8 M504.7 139.62 v2.8 M538.95 140.89 v2.8 M537.79 140.24 v2.8 M549.98 142.37 v2.8 M513.56 141.81 v2.8 M509.56 142.1 v2.8 M547.14 141.19 v2.8 M524 142.39 v2.8 M507 142.14 v2.8 M527.18 140.84 v2.8 M550.18 141.24 v2.8 M521.31 140.34 v2.8 M511.94 140.71 v2.8 M548.1 139.59 v2.8 M503.44 141.63 v2.8 M505.35 140.48 v2.8 M501 140.77 v2.8 M550.4 140.64 v2.8 M521.8 142.04 v2.8 M512.41 140.28 v2.8 M499.41 141.28 v2.8 M516.34 140.11 v2.8 M508.33 140.37 v2.8 M555.05 141.65 v2.8 M506.38 141.02 v2.8 M548.07 140.71 v2.8 M532.23 140.24 v2.8 M501.76 139.64 v2.8 M511.96 139.55 v2.8 M521.13 141.92 v2.8 M522.52 141.51 v2.8 M518.2 141.75 v2.8 M540.21 141.3 v2.8 M505.12 139.62 v2.8 M504.54 141.48 v2.8 M533.65 139.9 v2.8 M519.01 142.35 v2.8 M542.1 142.31 v2.8 M517.23 142.34 v2.8 M542.59 140.75 v2.8 M555.39 141.38 v2.8 M521.36 139.69 v2.8 M515.66 142.11 v2.8 M546.82 141.63 v2.8 M507.99 140.42 v2.8 M532.63 140.97 v2.8 M558.27 140.04 v2.8 M517.88 141.34 v2.8 M547.15 142.42 v2.8 M525.18 140.27 v2.8 M552.75 139.62 v2.8 M546.84 139.73 v2.8 M500.96 140.93 v2.8 M556.29 142.11 v2.8 M510 139.6 v2.8 M555.41 140.94 v2.8 M524.49 140.71 v2.8 M502.59 141.5 v2.8 M555.56 141.31 v2.8 M539.61 141.25 v2.8 M517.74 140.98 v2.8 M554.6 141.02 v2.8 M515.78 139.74 v2.8 M520.26 140.85 v2.8 M534.6 140.25 v2.8 M537.65 140.61 v2.8 M529.27 141.18 v2.8 M549.75 141.8 v2.8 M533.78 141.53 v2.8 M541.51 140.18 v2.8 M504.27 142.05 v2.8 M556.96 141.1 v2.8 M504.41 139.93 v2.8 M543.26 141.36 v2.8 M538.66 142.09 v2.8 M515.62 141.21 v2.8" stroke="#c8f088" stroke-width="0.9" fill="none" stroke-opacity="0.9"/>
<path d="M540.09 138.49 v2.8 M493.74 139.67 v2.8 M468.86 138.73 v2.8 M523.76 139.11 v2.8 M549.03 139.51 v2.8 M562.04 138.69 v2.8 M607.49 139.46 v2.8 M468.19 137.99 v2.8" stroke="#96d39e" stroke-width="0.9" fill="none" stroke-opacity="0.9"/>
<path d="M550.47 138.38 v2.8 M521.48 138.82 v2.8 M543.8 138.93 v2.8 M551.95 139.7 v2.8 M552.96 138.07 v2.8 M515.08 139.59 v2.8 M562.76 138.1 v2.8 M499.52 138.06 v2.8 M525.21 139.7 v2.8 M520.3 137.59 v2.8 M560.13 139.98 v2.8 M535.33 139.24 v2.8 M546.71 138.86 v2.8 M522.38 138.07 v2.8 M511.11 139.24 v2.8 M500.95 139.71 v2.8 M507.53 139.25 v2.8 M521.14 139.66 v2.8 M545.67 138.93 v2.8 M528.77 138.29 v2.8 M543.98 138.58 v2.8 M536.28 138.37 v2.8 M521 139.18 v2.8 M530.34 140.09 v2.8 M530.95 139.71 v2.8 M510.11 137.78 v2.8 M531.67 138.67 v2.8 M558.19 139.9 v2.8 M538.54 140.17 v2.8 M552.23 140.04 v2.8 M559.96 137.43 v2.8 M499.55 138 v2.8 M541.42 139.35 v2.8 M523.77 137.2 v2.8 M556.92 139.32 v2.8 M538.08 137.27 v2.8 M522.55 137.68 v2.8 M506.78 139.31 v2.8 M502.44 140 v2.8 M545.02 137.28 v2.8 M559.79 137.34 v2.8 M524.77 138.9 v2.8 M517.25 138.85 v2.8 M504.07 139.84 v2.8 M546.97 139.79 v2.8 M506.87 139.37 v2.8 M534.63 139.21 v2.8 M533.74 139.62 v2.8 M516.68 139.72 v2.8 M554.59 139.44 v2.8 M527.41 137.79 v2.8 M528.58 138.88 v2.8 M551.24 138.26 v2.8 M550.67 139.04 v2.8 M525.43 140.12 v2.8 M516.22 139.57 v2.8 M546.25 139.96 v2.8 M533.02 138.3 v2.8 M544.14 138.93 v2.8 M560.77 137.57 v2.8 M547.7 137.18 v2.8 M510.89 139.3 v2.8 M528.69 137.75 v2.8 M555.04 139.89 v2.8 M515.67 138.13 v2.8 M549.1 137.62 v2.8 M535.84 140 v2.8 M517.26 137.75 v2.8 M545.18 139.86 v2.8 M504.85 137.61 v2.8 M515.59 138.49 v2.8 M513.92 139.76 v2.8 M513.92 139.74 v2.8 M516.72 139.31 v2.8 M516.97 139.92 v2.8 M560.74 139.56 v2.8 M522.13 139.59 v2.8 M520.54 138.51 v2.8 M546.09 139.05 v2.8 M528.73 139.97 v2.8 M530.73 137.67 v2.8 M552.19 139.42 v2.8 M507.9 138.39 v2.8 M532.36 138.89 v2.8 M501.74 137.43 v2.8 M515.43 139.03 v2.8 M514.54 139.64 v2.8 M522.74 138.6 v2.8 M520.32 140.07 v2.8 M519.35 138.9 v2.8 M562.9 138.14 v2.8 M536.03 139.21 v2.8 M523.14 139.71 v2.8 M532.67 139.44 v2.8 M558.2 137.48 v2.8 M549.26 138.16 v2.8 M529.27 139.83 v2.8 M508.73 139.82 v2.8 M503.91 137.36 v2.8 M499.4 137.7 v2.8 M557.02 138.24 v2.8 M509.94 137.77 v2.8 M546.68 139.04 v2.8 M561.68 139.68 v2.8 M536.46 137.27 v2.8 M553.73 139.76 v2.8 M551.67 137.37 v2.8 M559.33 139.51 v2.8 M546.32 138.4 v2.8 M525.4 138.51 v2.8 M518.9 138.24 v2.8 M532.91 138.37 v2.8 M519.9 139.82 v2.8 M559.53 138.16 v2.8 M504.81 139.2 v2.8 M511.8 139.36 v2.8" stroke="#d0f080" stroke-width="0.9" fill="none" stroke-opacity="0.9"/>
<path d="M566.1 136.78 v2.8 M554.96 136.29 v2.8 M595.4 137.17 v2.8 M545.29 136.89 v2.8 M608.29 136.49 v2.8 M606.01 136.85 v2.8" stroke="#a6cd94" stroke-width="0.9" fill="none" stroke-opacity="0.9"/>
<path d="M523.18 136.88 v2.8 M540.24 137.11 v2.8 M537.29 137.36 v2.8 M517.85 137.83 v2.8 M556.74 137.62 v2.8 M512.43 135.18 v2.8 M530.65 135.5 v2.8 M541.35 137.66 v2.8 M551.57 134.96 v2.8 M531.06 136.85 v2.8 M539.18 136.9 v2.8 M505.03 136.72 v2.8 M501.74 137.16 v2.8 M513.78 136.66 v2.8 M558.44 135.9 v2.8 M515.78 137.12 v2.8 M509.4 136.97 v2.8 M536.76 135.07 v2.8 M508.52 135.67 v2.8 M514.58 135.05 v2.8 M542.34 135.62 v2.8 M500.16 136.11 v2.8 M537.17 136.81 v2.8 M512.53 136.46 v2.8 M513.41 136.26 v2.8 M521.32 135.09 v2.8 M509.2 135.26 v2.8 M559.2 136.68 v2.8 M526.51 137.58 v2.8 M516.44 136.78 v2.8 M537.26 136.19 v2.8 M510.59 136.79 v2.8 M519.47 136.37 v2.8 M552.17 137.77 v2.8 M517.52 135.69 v2.8 M508.96 137.26 v2.8 M512.5 136.74 v2.8 M547.38 136.48 v2.8 M510.46 136.13 v2.8 M547.77 135 v2.8 M533.22 135.69 v2.8 M528.04 135.56 v2.8 M502.97 135.98 v2.8 M555.14 136.56 v2.8 M523.76 136.39 v2.8 M556.56 135.75 v2.8 M555.81 136.21 v2.8 M550.8 135.94 v2.8 M555.01 137.12 v2.8 M561.17 137.08 v2.8 M528.13 136.4 v2.8 M546.3 136.91 v2.8 M511.31 137.14 v2.8 M554.67 134.92 v2.8 M507.19 135.12 v2.8 M554.03 136.43 v2.8 M500.78 137.42 v2.8 M553.86 136.35 v2.8 M548.7 135.34 v2.8 M509.91 137.38 v2.8 M511.48 135.13 v2.8 M551.31 136.65 v2.8 M530.41 134.98 v2.8 M531.79 137.78 v2.8 M523.34 136.34 v2.8 M541.67 135.92 v2.8 M499.91 137.35 v2.8 M554.65 135.82 v2.8 M547.91 137.89 v2.8 M512.9 137.6 v2.8 M543.39 135.62 v2.8 M539.63 136.18 v2.8 M536.32 137.35 v2.8 M527.89 136.6 v2.8 M541.28 136.01 v2.8 M508.92 136.14 v2.8 M533.32 135.47 v2.8 M550.13 137.46 v2.8 M556.3 135.68 v2.8 M532.08 136.65 v2.8 M506.93 136.08 v2.8 M534.2 137.33 v2.8 M541.43 136.15 v2.8" stroke="#d8ec80" stroke-width="0.9" fill="none" stroke-opacity="0.9"/>
<path d="M588.73 134.13 v2.8 M550.85 133.42 v2.8 M536.48 133.03 v2.8 M596.87 134.66 v2.8 M580.07 133.47 v2.8 M490.41 133.93 v2.8 M486.54 134.21 v2.8" stroke="#b6c48a" stroke-width="0.9" fill="none" stroke-opacity="0.9"/>
<path d="M535.03 135.43 v2.8 M555.21 133.68 v2.8 M554.97 133.28 v2.8 M527.47 134.46 v2.8 M541.61 132.64 v2.8 M541.14 135.35 v2.8 M559.48 134.09 v2.8 M536.4 135.24 v2.8 M514.68 135.28 v2.8 M559.76 134.5 v2.8 M555.82 134.56 v2.8 M503.91 135.18 v2.8 M531.21 134.5 v2.8 M543.73 135.17 v2.8 M549.15 135.6 v2.8 M511.74 133.69 v2.8 M547.04 133.6 v2.8 M519.16 133.61 v2.8 M523.99 133.36 v2.8 M504.26 133.45 v2.8 M521.98 133.72 v2.8 M546.4 134.07 v2.8" stroke="#e0e088" stroke-width="0.9" fill="none" stroke-opacity="0.9"/>
<path d="M533.31 132.16 v2.8 M533.07 132.75 v2.8 M480.59 132.82 v2.8 M513.15 131.7 v2.8 M584.17 132.72 v2.8 M584.64 131.33 v2.8 M575.28 131.38 v2.8 M470.4 131.97 v2.8" stroke="#c5b77f" stroke-width="0.9" fill="none" stroke-opacity="0.9"/>
<path d="M552.11 128.51 v2.8 M530.77 129.6 v2.8 M545.7 130.04 v2.8 M503.79 130.47 v2.8 M513.13 129.25 v2.8 M526.92 128.78 v2.8 M588.63 130.19 v2.8" stroke="#d5a774" stroke-width="0.9" fill="none" stroke-opacity="0.9"/>
<path d="M510.43 127.37 v2.8 M570.5 126.54 v2.8 M499.47 126.23 v2.8 M564.36 128.04 v2.8 M549.33 126.95 v2.8 M578.4 127.76 v2.8 M580.42 127.7 v2.8 M478.72 126.82 v2.8 M476.37 126.73 v2.8 M471.51 127.25 v2.8 M505.74 126.13 v2.8" stroke="#d59468" stroke-width="0.9" fill="none" stroke-opacity="0.9"/>
<path d="M479.66 125.69 v2.8 M574 125.59 v2.8 M515.68 124.53 v2.8 M568.67 125.43 v2.8 M476.07 125.88 v2.8 M553.62 123.98 v2.8 M475.44 125.18 v2.8" stroke="#d57f5c" stroke-width="0.9" fill="none" stroke-opacity="0.9"/>
<path d="M578.96 122.41 v2.8 M581.05 121.57 v2.8 M597.97 122.03 v2.8 M475.3 122.34 v2.8 M560.27 123.79 v2.8 M496.92 122.27 v2.8 M557.71 122.43 v2.8 M585.02 122 v2.8" stroke="#d56850" stroke-width="0.9" fill="none" stroke-opacity="0.9"/>
<path d="M544.94 120.76 v2.8 M496.47 120.19 v2.8 M479.34 120.52 v2.8 M540.57 119.59 v2.8 M504.61 121.17 v2.8 M458.42 119.94 v2.8 M586.53 119.42 v2.8" stroke="#d55043" stroke-width="0.9" fill="none" stroke-opacity="0.9"/>
<path d="M578.69 117.36 v2.8 M465.48 118.73 v2.8" stroke="#d53737" stroke-width="0.9" fill="none" stroke-opacity="0.9"/>
<rect x="171.4" y="212.5" width="177.4" height="164.9" fill="#ffffff" stroke="none" stroke-width="0.8"/>
<g clip-path="url(#clipC)">
<rect x="291.2" y="212.5" width="5.8" height="164.9" fill="#a8dc98" stroke="none" stroke-width="0.8"/>
<rect x="171.4" y="343.4" width="177.4" height="5.3" fill="#f0c694" stroke="none" stroke-width="0.8"/>
</g>
<circle cx="179.5" cy="219.9" r="2.2" fill="#e3e3e3" stroke="#c6c6c6" stroke-width="0.5"/>
<circle cx="184.7" cy="219.9" r="2.2" fill="#e3e3e3" stroke="#c6c6c6" stroke-width="0.5"/>
<circle cx="189.91" cy="219.9" r="2.2" fill="#e3e3e3" stroke="#c6c6c6" stroke-width="0.5"/>
<circle cx="195.11" cy="219.9" r="2.2" fill="#e3e3e3" stroke="#c6c6c6" stroke-width="0.5"/>
<circle cx="200.31" cy="219.9" r="2.2" fill="#e3e3e3" stroke="#c6c6c6" stroke-width="0.5"/>
<circle cx="205.52" cy="219.9" r="2.2" fill="#e3e3e3" stroke="#c6c6c6" stroke-width="0.5"/>
<circle cx="210.72" cy="219.9" r="2.2" fill="#e3e3e3" stroke="#c6c6c6" stroke-width="0.5"/>
<circle cx="215.92" cy="219.9" r="2.2" fill="#e3e3e3" stroke="#c6c6c6" stroke-width="0.5"/>
<circle cx="221.13" cy="219.9" r="2.2" fill="#e3e3e3" stroke="#c6c6c6" stroke-width="0.5"/>
<circle cx="226.33" cy="219.9" r="2.2" fill="#e3e3e3" stroke="#c6c6c6" stroke-width="0.5"/>
<circle cx="231.53" cy="219.9" r="2.2" fill="#e3e3e3" stroke="#c6c6c6" stroke-width="0.5"/>
<circle cx="236.74" cy="219.9" r="2.2" fill="#e3e3e3" stroke="#c6c6c6" stroke-width="0.5"/>
<circle cx="241.94" cy="219.9" r="2.2" fill="#e3e3e3" stroke="#c6c6c6" stroke-width="0.5"/>
<circle cx="247.14" cy="219.9" r="2.2" fill="#e3e3e3" stroke="#c6c6c6" stroke-width="0.5"/>
<circle cx="252.35" cy="219.9" r="2.2" fill="#e3e3e3" stroke="#c6c6c6" stroke-width="0.5"/>
<circle cx="257.55" cy="219.9" r="2.2" fill="#e3e3e3" stroke="#c6c6c6" stroke-width="0.5"/>
<circle cx="262.75" cy="219.9" r="2.2" fill="#e3e3e3" stroke="#c6c6c6" stroke-width="0.5"/>
<circle cx="267.95" cy="219.9" r="2.2" fill="#e3e3e3" stroke="#c6c6c6" stroke-width="0.5"/>
<circle cx="273.16" cy="219.9" r="2.2" fill="#e3e3e3" stroke="#c6c6c6" stroke-width="0.5"/>
<circle cx="278.36" cy="219.9" r="2.2" fill="#e3e3e3" stroke="#c6c6c6" stroke-width="0.5"/>
<circle cx="283.56" cy="219.9" r="2.2" fill="#e3e3e3" stroke="#c6c6c6" stroke-width="0.5"/>
<circle cx="288.77" cy="219.9" r="2.2" fill="#e3e3e3" stroke="#c6c6c6" stroke-width="0.5"/>
<circle cx="293.97" cy="219.9" r="2.2" fill="#ebebeb" stroke="#c6c6c6" stroke-width="0.5"/>
<circle cx="299.17" cy="219.9" r="2.2" fill="#e3e3e3" stroke="#c6c6c6" stroke-width="0.5"/>
<circle cx="304.38" cy="219.9" r="2.2" fill="#e3e3e3" stroke="#c6c6c6" stroke-width="0.5"/>
<circle cx="309.58" cy="219.9" r="2.2" fill="#e3e3e3" stroke="#c6c6c6" stroke-width="0.5"/>
<circle cx="314.78" cy="219.9" r="2.2" fill="#e3e3e3" stroke="#c6c6c6" stroke-width="0.5"/>
<circle cx="319.99" cy="219.9" r="2.2" fill="#e3e3e3" stroke="#c6c6c6" stroke-width="0.5"/>
<circle cx="325.19" cy="219.9" r="2.2" fill="#e3e3e3" stroke="#c6c6c6" stroke-width="0.5"/>
<circle cx="330.39" cy="219.9" r="2.2" fill="#e3e3e3" stroke="#c6c6c6" stroke-width="0.5"/>
<circle cx="335.6" cy="219.9" r="2.2" fill="#e3e3e3" stroke="#c6c6c6" stroke-width="0.5"/>
<circle cx="340.8" cy="219.9" r="2.2" fill="#e3e3e3" stroke="#c6c6c6" stroke-width="0.5"/>
<circle cx="179.5" cy="224.76" r="2.2" fill="#e3e3e3" stroke="#c6c6c6" stroke-width="0.5"/>
<circle cx="184.7" cy="224.76" r="2.2" fill="#e3e3e3" stroke="#c6c6c6" stroke-width="0.5"/>
<circle cx="189.91" cy="224.76" r="2.2" fill="#e3e3e3" stroke="#c6c6c6" stroke-width="0.5"/>
<circle cx="195.11" cy="224.76" r="2.2" fill="#e3e3e3" stroke="#c6c6c6" stroke-width="0.5"/>
<circle cx="200.31" cy="224.76" r="2.2" fill="#e3e3e3" stroke="#c6c6c6" stroke-width="0.5"/>
<circle cx="205.52" cy="224.76" r="2.2" fill="#e3e3e3" stroke="#c6c6c6" stroke-width="0.5"/>
<circle cx="210.72" cy="224.76" r="2.2" fill="#e3e3e3" stroke="#c6c6c6" stroke-width="0.5"/>
<circle cx="215.92" cy="224.76" r="2.2" fill="#e3e3e3" stroke="#c6c6c6" stroke-width="0.5"/>
<circle cx="221.13" cy="224.76" r="2.2" fill="#e3e3e3" stroke="#c6c6c6" stroke-width="0.5"/>
<circle cx="226.33" cy="224.76" r="2.2" fill="#e3e3e3" stroke="#c6c6c6" stroke-width="0.5"/>
<circle cx="231.53" cy="224.76" r="2.2" fill="#e3e3e3" stroke="#c6c6c6" stroke-width="0.5"/>
<circle cx="236.74" cy="224.76" r="2.2" fill="#e3e3e3" stroke="#c6c6c6" stroke-width="0.5"/>
<circle cx="241.94" cy="224.76" r="2.2" fill="#e3e3e3" stroke="#c6c6c6" stroke-width="0.5"/>
<circle cx="247.14" cy="224.76" r="2.2" fill="#e3e3e3" stroke="#c6c6c6" stroke-width="0.5"/>
<circle cx="252.35" cy="224.76" r="2.2" fill="#e3e3e3" stroke="#c6c6c6" stroke-width="0.5"/>
<circle cx="257.55" cy="224.76" r="2.2" fill="#e3e3e3" stroke="#c6c6c6" stroke-width="0.5"/>
<circle cx="262.75" cy="224.76" r="2.2" fill="#e3e3e3" stroke="#c6c6c6" stroke-width="0.5"/>
<circle cx="267.95" cy="224.76" r="2.2" fill="#e3e3e3" stroke="#c6c6c6" stroke-width="0.5"/>
<circle cx="273.16" cy="224.76" r="2.2" fill="#e3e3e3" stroke="#c6c6c6" stroke-width="0.5"/>
<circle cx="278.36" cy="224.76" r="2.2" fill="#e3e3e3" stroke="#c6c6c6" stroke-width="0.5"/>
<circle cx="283.56" cy="224.76" r="2.2" fill="#e3e3e3" stroke="#c6c6c6" stroke-width="0.5"/>
<circle cx="288.77" cy="224.76" r="2.2" fill="#e3e3e3" stroke="#c6c6c6" stroke-width="0.5"/>
<circle cx="293.97" cy="224.76" r="2.2" fill="#ebebeb" stroke="#c6c6c6" stroke-width="0.5"/>
<circle cx="299.17" cy="224.76" r="2.2" fill="#e3e3e3" stroke="#c6c6c6" stroke-width="0.5"/>
<circle cx="304.38" cy="224.76" r="2.2" fill="#e3e3e3" stroke="#c6c6c6" stroke-width="0.5"/>
<circle cx="309.58" cy="224.76" r="2.2" fill="#e3e3e3" stroke="#c6c6c6" stroke-width="0.5"/>
<circle cx="314.78" cy="224.76" r="2.2" fill="#e3e3e3" stroke="#c6c6c6" stroke-width="0.5"/>
<circle cx="319.99" cy="224.76" r="2.2" fill="#e3e3e3" stroke="#c6c6c6" stroke-width="0.5"/>
<circle cx="325.19" cy="224.76" r="2.2" fill="#e3e3e3" stroke="#c6c6c6" stroke-width="0.5"/>
<circle cx="330.39" cy="224.76" r="2.2" fill="#e3e3e3" stroke="#c6c6c6" stroke-width="0.5"/>
<circle cx="335.6" cy="224.76" r="2.2" fill="#e3e3e3" stroke="#c6c6c6" stroke-width="0.5"/>
<circle cx="340.8" cy="224.76" r="2.2" fill="#e3e3e3" stroke="#c6c6c6" stroke-width="0.5"/>
<circle cx="179.5" cy="229.62" r="2.2" fill="#e3e3e3" stroke="#c6c6c6" stroke-width="0.5"/>
<circle cx="184.7" cy="229.62" r="2.2" fill="#e3e3e3" stroke="#c6c6c6" stroke-width="0.5"/>
<circle cx="189.91" cy="229.62" r="2.2" fill="#e3e3e3" stroke="#c6c6c6" stroke-width="0.5"/>
<circle cx="195.11" cy="229.62" r="2.2" fill="#e3e3e3" stroke="#c6c6c6" stroke-width="0.5"/>
<circle cx="200.31" cy="229.62" r="2.2" fill="#e3e3e3" stroke="#c6c6c6" stroke-width="0.5"/>
<circle cx="205.52" cy="229.62" r="2.2" fill="#e3e3e3" stroke="#c6c6c6" stroke-width="0.5"/>
<circle cx="210.72" cy="229.62" r="2.2" fill="#e3e3e3" stroke="#c6c6c6" stroke-width="0.5"/>
<circle cx="215.92" cy="229.62" r="2.2" fill="#e3e3e3" stroke="#c6c6c6" stroke-width="0.5"/>
<circle cx="221.13" cy="229.62" r="2.2" fill="#e3e3e3" stroke="#c6c6c6" stroke-width="0.5"/>
<circle cx="226.33" cy="229.62" r="2.2" fill="#e3e3e3" stroke="#c6c6c6" stroke-width="0.5"/>
<circle cx="231.53" cy="229.62" r="2.2" fill="#e3e3e3" stroke="#c6c6c6" stroke-width="0.5"/>
<circle cx="236.74" cy="229.62" r="2.2" fill="#e3e3e3" stroke="#c6c6c6" stroke-width="0.5"/>
<circle cx="241.94" cy="229.62" r="2.2" fill="#e3e3e3" stroke="#c6c6c6" stroke-width="0.5"/>
<circle cx="247.14" cy="229.62" r="2.2" fill="#e3e3e3" stroke="#c6c6c6" stroke-width="0.5"/>
<circle cx="252.35" cy="229.62" r="2.2" fill="#e3e3e3" stroke="#c6c6c6" stroke-width="0.5"/>
<circle cx="257.55" cy="229.62" r="2.2" fill="#e3e3e3" stroke="#c6c6c6" stroke-width="0.5"/>
<circle cx="262.75" cy="229.62" r="2.2" fill="#e3e3e3" stroke="#c6c6c6" stroke-width="0.5"/>
<circle cx="267.95" cy="229.62" r="2.2" fill="#e3e3e3" stroke="#c6c6c6" stroke-width="0.5"/>
<circle cx="273.16" cy="229.62" r="2.2" fill="#e3e3e3" stroke="#c6c6c6" stroke-width="0.5"/>
<circle cx="278.36" cy="229.62" r="2.2" fill="#e3e3e3" stroke="#c6c6c6" stroke-width="0.5"/>
<circle cx="283.56" cy="229.62" r="2.2" fill="#e3e3e3" stroke="#c6c6c6" stroke-width="0.5"/>
<circle cx="288.77" cy="229.62" r="2.2" fill="#e3e3e3" stroke="#c6c6c6" stroke-width="0.5"/>
<circle cx="293.97" cy="229.62" r="2.2" fill="#ebebeb" stroke="#c6c6c6" stroke-width="0.5"/>
<circle cx="299.17" cy="229.62" r="2.2" fill="#e3e3e3" stroke="#c6c6c6" stroke-width="0.5"/>
<circle cx="304.38" cy="229.62" r="2.2" fill="#e3e3e3" stroke="#c6c6c6" stroke-width="0.5"/>
<circle cx="309.58" cy="229.62" r="2.2" fill="#e3e3e3" stroke="#c6c6c6" stroke-width="0.5"/>
<circle cx="314.78" cy="229.62" r="2.2" fill="#e3e3e3" stroke="#c6c6c6" stroke-width="0.5"/>
<circle cx="319.99" cy="229.62" r="2.2" fill="#e3e3e3" stroke="#c6c6c6" stroke-width="0.5"/>
<circle cx="325.19" cy="229.62" r="2.2" fill="#e3e3e3" stroke="#c6c6c6" stroke-width="0.5"/>
<circle cx="330.39" cy="229.62" r="2.2" fill="#e3e3e3" stroke="#c6c6c6" stroke-width="0.5"/>
<circle cx="335.6" cy="229.62" r="2.2" fill="#e3e3e3" stroke="#c6c6c6" stroke-width="0.5"/>
<circle cx="340.8" cy="229.62" r="2.2" fill="#e3e3e3" stroke="#c6c6c6" stroke-width="0.5"/>
<circle cx="179.5" cy="234.48" r="2.2" fill="#e3e3e3" stroke="#c6c6c6" stroke-width="0.5"/>
<circle cx="184.7" cy="234.48" r="2.2" fill="#e3e3e3" stroke="#c6c6c6" stroke-width="0.5"/>
<circle cx="189.91" cy="234.48" r="2.2" fill="#e3e3e3" stroke="#c6c6c6" stroke-width="0.5"/>
<circle cx="195.11" cy="234.48" r="2.2" fill="#e3e3e3" stroke="#c6c6c6" stroke-width="0.5"/>
<circle cx="200.31" cy="234.48" r="2.2" fill="#e3e3e3" stroke="#c6c6c6" stroke-width="0.5"/>
<circle cx="205.52" cy="234.48" r="2.2" fill="#e3e3e3" stroke="#c6c6c6" stroke-width="0.5"/>
<circle cx="210.72" cy="234.48" r="2.2" fill="#e3e3e3" stroke="#c6c6c6" stroke-width="0.5"/>
<circle cx="215.92" cy="234.48" r="2.2" fill="#e3e3e3" stroke="#c6c6c6" stroke-width="0.5"/>
<circle cx="221.13" cy="234.48" r="2.2" fill="#e3e3e3" stroke="#c6c6c6" stroke-width="0.5"/>
<circle cx="226.33" cy="234.48" r="2.2" fill="#e3e3e3" stroke="#c6c6c6" stroke-width="0.5"/>
<circle cx="231.53" cy="234.48" r="2.2" fill="#e3e3e3" stroke="#c6c6c6" stroke-width="0.5"/>
<circle cx="236.74" cy="234.48" r="2.2" fill="#e3e3e3" stroke="#c6c6c6" stroke-width="0.5"/>
<circle cx="241.94" cy="234.48" r="2.2" fill="#e3e3e3" stroke="#c6c6c6" stroke-width="0.5"/>
<circle cx="247.14" cy="234.48" r="2.2" fill="#e3e3e3" stroke="#c6c6c6" stroke-width="0.5"/>
<circle cx="252.35" cy="234.48" r="2.2" fill="#e3e3e3" stroke="#c6c6c6" stroke-width="0.5"/>
<circle cx="257.55" cy="234.48" r="2.2" fill="#e3e3e3" stroke="#c6c6c6" stroke-width="0.5"/>
<circle cx="262.75" cy="234.48" r="2.2" fill="#e3e3e3" stroke="#c6c6c6" stroke-width="0.5"/>
<circle cx="267.95" cy="234.48" r="2.2" fill="#e3e3e3" stroke="#c6c6c6" stroke-width="0.5"/>
<circle cx="273.16" cy="234.48" r="2.2" fill="#e3e3e3" stroke="#c6c6c6" stroke-width="0.5"/>
<circle cx="278.36" cy="234.48" r="2.2" fill="#e3e3e3" stroke="#c6c6c6" stroke-width="0.5"/>
<circle cx="283.56" cy="234.48" r="2.2" fill="#e3e3e3" stroke="#c6c6c6" stroke-width="0.5"/>
<circle cx="288.77" cy="234.48" r="2.2" fill="#e3e3e3" stroke="#c6c6c6" stroke-width="0.5"/>
<circle cx="293.97" cy="234.48" r="2.2" fill="#ebebeb" stroke="#c6c6c6" stroke-width="0.5"/>
<circle cx="299.17" cy="234.48" r="2.2" fill="#e3e3e3" stroke="#c6c6c6" stroke-width="0.5"/>
<circle cx="304.38" cy="234.48" r="2.2" fill="#e3e3e3" stroke="#c6c6c6" stroke-width="0.5"/>
<circle cx="309.58" cy="234.48" r="2.2" fill="#e3e3e3" stroke="#c6c6c6" stroke-width="0.5"/>
<circle cx="314.78" cy="234.48" r="2.2" fill="#e3e3e3" stroke="#c6c6c6" stroke-width="0.5"/>
<circle cx="319.99" cy="234.48" r="2.2" fill="#e3e3e3" stroke="#c6c6c6" stroke-width="0.5"/>
<circle cx="325.19" cy="234.48" r="2.2" fill="#e3e3e3" stroke="#c6c6c6" stroke-width="0.5"/>
<circle cx="330.39" cy="234.48" r="2.2" fill="#e3e3e3" stroke="#c6c6c6" stroke-width="0.5"/>
<circle cx="335.6" cy="234.48" r="2.2" fill="#e3e3e3" stroke="#c6c6c6" stroke-width="0.5"/>
<circle cx="340.8" cy="234.48" r="2.2" fill="#e3e3e3" stroke="#c6c6c6" stroke-width="0.5"/>
<circle cx="179.5" cy="239.35" r="2.2" fill="#e3e3e3" stroke="#c6c6c6" stroke-width="0.5"/>
<circle cx="184.7" cy="239.35" r="2.2" fill="#e3e3e3" stroke="#c6c6c6" stroke-width="0.5"/>
<circle cx="189.91" cy="239.35" r="2.2" fill="#e3e3e3" stroke="#c6c6c6" stroke-width="0.5"/>
<circle cx="195.11" cy="239.35" r="2.2" fill="#e3e3e3" stroke="#c6c6c6" stroke-width="0.5"/>
<circle cx="200.31" cy="239.35" r="2.2" fill="#e3e3e3" stroke="#c6c6c6" stroke-width="0.5"/>
<circle cx="205.52" cy="239.35" r="2.2" fill="#e3e3e3" stroke="#c6c6c6" stroke-width="0.5"/>
<circle cx="210.72" cy="239.35" r="2.2" fill="#e3e3e3" stroke="#c6c6c6" stroke-width="0.5"/>
<circle cx="215.92" cy="239.35" r="2.2" fill="#e3e3e3" stroke="#c6c6c6" stroke-width="0.5"/>
<circle cx="221.13" cy="239.35" r="2.2" fill="#e3e3e3" stroke="#c6c6c6" stroke-width="0.5"/>
<circle cx="226.33" cy="239.35" r="2.2" fill="#e3e3e3" stroke="#c6c6c6" stroke-width="0.5"/>
<circle cx="231.53" cy="239.35" r="2.2" fill="#e3e3e3" stroke="#c6c6c6" stroke-width="0.5"/>
<circle cx="236.74" cy="239.35" r="2.2" fill="#e3e3e3" stroke="#c6c6c6" stroke-width="0.5"/>
<circle cx="241.94" cy="239.35" r="2.2" fill="#e3e3e3" stroke="#c6c6c6" stroke-width="0.5"/>
<circle cx="247.14" cy="239.35" r="2.2" fill="#e3e3e3" stroke="#c6c6c6" stroke-width="0.5"/>
<circle cx="252.35" cy="239.35" r="2.2" fill="#e3e3e3" stroke="#c6c6c6" stroke-width="0.5"/>
<circle cx="257.55" cy="239.35" r="2.2" fill="#e3e3e3" stroke="#c6c6c6" stroke-width="0.5"/>
<circle cx="262.75" cy="239.35" r="2.2" fill="#e3e3e3" stroke="#c6c6c6" stroke-width="0.5"/>
<circle cx="267.95" cy="239.35" r="2.2" fill="#e3e3e3" stroke="#c6c6c6" stroke-width="0.5"/>
<circle cx="273.16" cy="239.35" r="2.2" fill="#e3e3e3" stroke="#c6c6c6" stroke-width="0.5"/>
<circle cx="278.36" cy="239.35" r="2.2" fill="#e3e3e3" stroke="#c6c6c6" stroke-width="0.5"/>
<circle cx="283.56" cy="239.35" r="2.2" fill="#e3e3e3" stroke="#c6c6c6" stroke-width="0.5"/>
<circle cx="288.77" cy="239.35" r="2.2" fill="#e3e3e3" stroke="#c6c6c6" stroke-width="0.5"/>
<circle cx="293.97" cy="239.35" r="2.2" fill="#ebebeb" stroke="#c6c6c6" stroke-width="0.5"/>
<circle cx="299.17" cy="239.35" r="2.2" fill="#e3e3e3" stroke="#c6c6c6" stroke-width="0.5"/>
<circle cx="304.38" cy="239.35" r="2.2" fill="#e3e3e3" stroke="#c6c6c6" stroke-width="0.5"/>
<circle cx="309.58" cy="239.35" r="2.2" fill="#e3e3e3" stroke="#c6c6c6" stroke-width="0.5"/>
<circle cx="314.78" cy="239.35" r="2.2" fill="#e3e3e3" stroke="#c6c6c6" stroke-width="0.5"/>
<circle cx="319.99" cy="239.35" r="2.2" fill="#e3e3e3" stroke="#c6c6c6" stroke-width="0.5"/>
<circle cx="325.19" cy="239.35" r="2.2" fill="#e3e3e3" stroke="#c6c6c6" stroke-width="0.5"/>
<circle cx="330.39" cy="239.35" r="2.2" fill="#e3e3e3" stroke="#c6c6c6" stroke-width="0.5"/>
<circle cx="335.6" cy="239.35" r="2.2" fill="#e3e3e3" stroke="#c6c6c6" stroke-width="0.5"/>
<circle cx="340.8" cy="239.35" r="2.2" fill="#e3e3e3" stroke="#c6c6c6" stroke-width="0.5"/>
<circle cx="179.5" cy="244.21" r="2.2" fill="#e3e3e3" stroke="#c6c6c6" stroke-width="0.5"/>
<circle cx="184.7" cy="244.21" r="2.2" fill="#e3e3e3" stroke="#c6c6c6" stroke-width="0.5"/>
<circle cx="189.91" cy="244.21" r="2.2" fill="#e3e3e3" stroke="#c6c6c6" stroke-width="0.5"/>
<circle cx="195.11" cy="244.21" r="2.2" fill="#e3e3e3" stroke="#c6c6c6" stroke-width="0.5"/>
<circle cx="200.31" cy="244.21" r="2.2" fill="#e3e3e3" stroke="#c6c6c6" stroke-width="0.5"/>
<circle cx="205.52" cy="244.21" r="2.2" fill="#e3e3e3" stroke="#c6c6c6" stroke-width="0.5"/>
<circle cx="210.72" cy="244.21" r="2.2" fill="#e3e3e3" stroke="#c6c6c6" stroke-width="0.5"/>
<circle cx="215.92" cy="244.21" r="2.2" fill="#e3e3e3" stroke="#c6c6c6" stroke-width="0.5"/>
<circle cx="221.13" cy="244.21" r="2.2" fill="#e3e3e3" stroke="#c6c6c6" stroke-width="0.5"/>
<circle cx="226.33" cy="244.21" r="2.2" fill="#e3e3e3" stroke="#c6c6c6" stroke-width="0.5"/>
<circle cx="231.53" cy="244.21" r="2.2" fill="#e3e3e3" stroke="#c6c6c6" stroke-width="0.5"/>
<circle cx="236.74" cy="244.21" r="2.2" fill="#e3e3e3" stroke="#c6c6c6" stroke-width="0.5"/>
<circle cx="241.94" cy="244.21" r="2.2" fill="#e3e3e3" stroke="#c6c6c6" stroke-width="0.5"/>
<circle cx="247.14" cy="244.21" r="2.2" fill="#e3e3e3" stroke="#c6c6c6" stroke-width="0.5"/>
<circle cx="252.35" cy="244.21" r="2.2" fill="#e3e3e3" stroke="#c6c6c6" stroke-width="0.5"/>
<circle cx="257.55" cy="244.21" r="2.2" fill="#e3e3e3" stroke="#c6c6c6" stroke-width="0.5"/>
<circle cx="262.75" cy="244.21" r="2.2" fill="#e3e3e3" stroke="#c6c6c6" stroke-width="0.5"/>
<circle cx="267.95" cy="244.21" r="2.2" fill="#e3e3e3" stroke="#c6c6c6" stroke-width="0.5"/>
<circle cx="273.16" cy="244.21" r="2.2" fill="#e3e3e3" stroke="#c6c6c6" stroke-width="0.5"/>
<circle cx="278.36" cy="244.21" r="2.2" fill="#e3e3e3" stroke="#c6c6c6" stroke-width="0.5"/>
<circle cx="283.56" cy="244.21" r="2.2" fill="#e3e3e3" stroke="#c6c6c6" stroke-width="0.5"/>
<circle cx="288.77" cy="244.21" r="2.2" fill="#e3e3e3" stroke="#c6c6c6" stroke-width="0.5"/>
<circle cx="293.97" cy="244.21" r="2.2" fill="#ebebeb" stroke="#c6c6c6" stroke-width="0.5"/>
<circle cx="299.17" cy="244.21" r="2.2" fill="#e3e3e3" stroke="#c6c6c6" stroke-width="0.5"/>
<circle cx="304.38" cy="244.21" r="2.2" fill="#e3e3e3" stroke="#c6c6c6" stroke-width="0.5"/>
<circle cx="309.58" cy="244.21" r="2.2" fill="#e3e3e3" stroke="#c6c6c6" stroke-width="0.5"/>
<circle cx="314.78" cy="244.21" r="2.2" fill="#e3e3e3" stroke="#c6c6c6" stroke-width="0.5"/>
<circle cx="319.99" cy="244.21" r="2.2" fill="#e3e3e3" stroke="#c6c6c6" stroke-width="0.5"/>
<circle cx="325.19" cy="244.21" r="2.2" fill="#e3e3e3" stroke="#c6c6c6" stroke-width="0.5"/>
<circle cx="330.39" cy="244.21" r="2.2" fill="#e3e3e3" stroke="#c6c6c6" stroke-width="0.5"/>
<circle cx="335.6" cy="244.21" r="2.2" fill="#e3e3e3" stroke="#c6c6c6" stroke-width="0.5"/>
<circle cx="340.8" cy="244.21" r="2.2" fill="#e3e3e3" stroke="#c6c6c6" stroke-width="0.5"/>
<circle cx="179.5" cy="249.07" r="2.2" fill="#e3e3e3" stroke="#c6c6c6" stroke-width="0.5"/>
<circle cx="184.7" cy="249.07" r="2.2" fill="#e3e3e3" stroke="#c6c6c6" stroke-width="0.5"/>
<circle cx="189.91" cy="249.07" r="2.2" fill="#e3e3e3" stroke="#c6c6c6" stroke-width="0.5"/>
<circle cx="195.11" cy="249.07" r="2.2" fill="#e3e3e3" stroke="#c6c6c6" stroke-width="0.5"/>
<circle cx="200.31" cy="249.07" r="2.2" fill="#e3e3e3" stroke="#c6c6c6" stroke-width="0.5"/>
<circle cx="205.52" cy="249.07" r="2.2" fill="#e3e3e3" stroke="#c6c6c6" stroke-width="0.5"/>
<circle cx="210.72" cy="249.07" r="2.2" fill="#e3e3e3" stroke="#c6c6c6" stroke-width="0.5"/>
<circle cx="215.92" cy="249.07" r="2.2" fill="#e3e3e3" stroke="#c6c6c6" stroke-width="0.5"/>
<circle cx="221.13" cy="249.07" r="2.2" fill="#e3e3e3" stroke="#c6c6c6" stroke-width="0.5"/>
<circle cx="226.33" cy="249.07" r="2.2" fill="#e3e3e3" stroke="#c6c6c6" stroke-width="0.5"/>
<circle cx="231.53" cy="249.07" r="2.2" fill="#e3e3e3" stroke="#c6c6c6" stroke-width="0.5"/>
<circle cx="236.74" cy="249.07" r="2.2" fill="#e3e3e3" stroke="#c6c6c6" stroke-width="0.5"/>
<circle cx="241.94" cy="249.07" r="2.2" fill="#e3e3e3" stroke="#c6c6c6" stroke-width="0.5"/>
<circle cx="247.14" cy="249.07" r="2.2" fill="#e3e3e3" stroke="#c6c6c6" stroke-width="0.5"/>
<circle cx="252.35" cy="249.07" r="2.2" fill="#e3e3e3" stroke="#c6c6c6" stroke-width="0.5"/>
<circle cx="257.55" cy="249.07" r="2.2" fill="#e3e3e3" stroke="#c6c6c6" stroke-width="0.5"/>
<circle cx="262.75" cy="249.07" r="2.2" fill="#e3e3e3" stroke="#c6c6c6" stroke-width="0.5"/>
<circle cx="267.95" cy="249.07" r="2.2" fill="#e3e3e3" stroke="#c6c6c6" stroke-width="0.5"/>
<circle cx="273.16" cy="249.07" r="2.2" fill="#e3e3e3" stroke="#c6c6c6" stroke-width="0.5"/>
<circle cx="278.36" cy="249.07" r="2.2" fill="#e3e3e3" stroke="#c6c6c6" stroke-width="0.5"/>
<circle cx="283.56" cy="249.07" r="2.2" fill="#e3e3e3" stroke="#c6c6c6" stroke-width="0.5"/>
<circle cx="288.77" cy="249.07" r="2.2" fill="#e3e3e3" stroke="#c6c6c6" stroke-width="0.5"/>
<circle cx="293.97" cy="249.07" r="2.2" fill="#ebebeb" stroke="#c6c6c6" stroke-width="0.5"/>
<circle cx="299.17" cy="249.07" r="2.2" fill="#e3e3e3" stroke="#c6c6c6" stroke-width="0.5"/>
<circle cx="304.38" cy="249.07" r="2.2" fill="#e3e3e3" stroke="#c6c6c6" stroke-width="0.5"/>
<circle cx="309.58" cy="249.07" r="2.2" fill="#e3e3e3" stroke="#c6c6c6" stroke-width="0.5"/>
<circle cx="314.78" cy="249.07" r="2.2" fill="#e3e3e3" stroke="#c6c6c6" stroke-width="0.5"/>
<circle cx="319.99" cy="249.07" r="2.2" fill="#e3e3e3" stroke="#c6c6c6" stroke-width="0.5"/>
<circle cx="325.19" cy="249.07" r="2.2" fill="#e3e3e3" stroke="#c6c6c6" stroke-width="0.5"/>
<circle cx="330.39" cy="249.07" r="2.2" fill="#e3e3e3" stroke="#c6c6c6" stroke-width="0.5"/>
<circle cx="335.6" cy="249.07" r="2.2" fill="#e3e3e3" stroke="#c6c6c6" stroke-width="0.5"/>
<circle cx="340.8" cy="249.07" r="2.2" fill="#e3e3e3" stroke="#c6c6c6" stroke-width="0.5"/>
<circle cx="179.5" cy="253.93" r="2.2" fill="#e3e3e3" stroke="#c6c6c6" stroke-width="0.5"/>
<circle cx="184.7" cy="253.93" r="2.2" fill="#e3e3e3" stroke="#c6c6c6" stroke-width="0.5"/>
<circle cx="189.91" cy="253.93" r="2.2" fill="#e3e3e3" stroke="#c6c6c6" stroke-width="0.5"/>
<circle cx="195.11" cy="253.93" r="2.2" fill="#e3e3e3" stroke="#c6c6c6" stroke-width="0.5"/>
<circle cx="200.31" cy="253.93" r="2.2" fill="#e3e3e3" stroke="#c6c6c6" stroke-width="0.5"/>
<circle cx="205.52" cy="253.93" r="2.2" fill="#e3e3e3" stroke="#c6c6c6" stroke-width="0.5"/>
<circle cx="210.72" cy="253.93" r="2.2" fill="#e3e3e3" stroke="#c6c6c6" stroke-width="0.5"/>
<circle cx="215.92" cy="253.93" r="2.2" fill="#e3e3e3" stroke="#c6c6c6" stroke-width="0.5"/>
<circle cx="221.13" cy="253.93" r="2.2" fill="#e3e3e3" stroke="#c6c6c6" stroke-width="0.5"/>
<circle cx="226.33" cy="253.93" r="2.2" fill="#e3e3e3" stroke="#c6c6c6" stroke-width="0.5"/>
<circle cx="231.53" cy="253.93" r="2.2" fill="#e3e3e3" stroke="#c6c6c6" stroke-width="0.5"/>
<circle cx="236.74" cy="253.93" r="2.2" fill="#e3e3e3" stroke="#c6c6c6" stroke-width="0.5"/>
<circle cx="241.94" cy="253.93" r="2.2" fill="#e3e3e3" stroke="#c6c6c6" stroke-width="0.5"/>
<circle cx="247.14" cy="253.93" r="2.2" fill="#e3e3e3" stroke="#c6c6c6" stroke-width="0.5"/>
<circle cx="252.35" cy="253.93" r="2.2" fill="#e3e3e3" stroke="#c6c6c6" stroke-width="0.5"/>
<circle cx="257.55" cy="253.93" r="2.2" fill="#e3e3e3" stroke="#c6c6c6" stroke-width="0.5"/>
<circle cx="262.75" cy="253.93" r="2.2" fill="#e3e3e3" stroke="#c6c6c6" stroke-width="0.5"/>
<circle cx="267.95" cy="253.93" r="2.2" fill="#e3e3e3" stroke="#c6c6c6" stroke-width="0.5"/>
<circle cx="273.16" cy="253.93" r="2.2" fill="#e3e3e3" stroke="#c6c6c6" stroke-width="0.5"/>
<circle cx="278.36" cy="253.93" r="2.2" fill="#e3e3e3" stroke="#c6c6c6" stroke-width="0.5"/>
<circle cx="283.56" cy="253.93" r="2.2" fill="#e3e3e3" stroke="#c6c6c6" stroke-width="0.5"/>
<circle cx="288.77" cy="253.93" r="2.2" fill="#e3e3e3" stroke="#c6c6c6" stroke-width="0.5"/>
<circle cx="293.97" cy="253.93" r="2.2" fill="#ebebeb" stroke="#c6c6c6" stroke-width="0.5"/>
<circle cx="299.17" cy="253.93" r="2.2" fill="#e3e3e3" stroke="#c6c6c6" stroke-width="0.5"/>
<circle cx="304.38" cy="253.93" r="2.2" fill="#e3e3e3" stroke="#c6c6c6" stroke-width="0.5"/>
<circle cx="309.58" cy="253.93" r="2.2" fill="#e3e3e3" stroke="#c6c6c6" stroke-width="0.5"/>
<circle cx="314.78" cy="253.93" r="2.2" fill="#e3e3e3" stroke="#c6c6c6" stroke-width="0.5"/>
<circle cx="319.99" cy="253.93" r="2.2" fill="#e3e3e3" stroke="#c6c6c6" stroke-width="0.5"/>
<circle cx="325.19" cy="253.93" r="2.2" fill="#e3e3e3" stroke="#c6c6c6" stroke-width="0.5"/>
<circle cx="330.39" cy="253.93" r="2.2" fill="#e3e3e3" stroke="#c6c6c6" stroke-width="0.5"/>
<circle cx="335.6" cy="253.93" r="2.2" fill="#e3e3e3" stroke="#c6c6c6" stroke-width="0.5"/>
<circle cx="340.8" cy="253.93" r="2.2" fill="#e3e3e3" stroke="#c6c6c6" stroke-width="0.5"/>
<circle cx="179.5" cy="258.79" r="2.2" fill="#e3e3e3" stroke="#c6c6c6" stroke-width="0.5"/>
<circle cx="184.7" cy="258.79" r="2.2" fill="#e3e3e3" stroke="#c6c6c6" stroke-width="0.5"/>
<circle cx="189.91" cy="258.79" r="2.2" fill="#e3e3e3" stroke="#c6c6c6" stroke-width="0.5"/>
<circle cx="195.11" cy="258.79" r="2.2" fill="#e3e3e3" stroke="#c6c6c6" stroke-width="0.5"/>
<circle cx="200.31" cy="258.79" r="2.2" fill="#e3e3e3" stroke="#c6c6c6" stroke-width="0.5"/>
<circle cx="205.52" cy="258.79" r="2.2" fill="#e3e3e3" stroke="#c6c6c6" stroke-width="0.5"/>
<circle cx="210.72" cy="258.79" r="2.2" fill="#e3e3e3" stroke="#c6c6c6" stroke-width="0.5"/>
<circle cx="215.92" cy="258.79" r="2.2" fill="#e3e3e3" stroke="#c6c6c6" stroke-width="0.5"/>
<circle cx="221.13" cy="258.79" r="2.2" fill="#e3e3e3" stroke="#c6c6c6" stroke-width="0.5"/>
<circle cx="226.33" cy="258.79" r="2.2" fill="#e3e3e3" stroke="#c6c6c6" stroke-width="0.5"/>
<circle cx="231.53" cy="258.79" r="2.2" fill="#e3e3e3" stroke="#c6c6c6" stroke-width="0.5"/>
<circle cx="236.74" cy="258.79" r="2.2" fill="#e3e3e3" stroke="#c6c6c6" stroke-width="0.5"/>
<circle cx="241.94" cy="258.79" r="2.2" fill="#e3e3e3" stroke="#c6c6c6" stroke-width="0.5"/>
<circle cx="247.14" cy="258.79" r="2.2" fill="#e3e3e3" stroke="#c6c6c6" stroke-width="0.5"/>
<circle cx="252.35" cy="258.79" r="2.2" fill="#e3e3e3" stroke="#c6c6c6" stroke-width="0.5"/>
<circle cx="257.55" cy="258.79" r="2.2" fill="#e3e3e3" stroke="#c6c6c6" stroke-width="0.5"/>
<circle cx="262.75" cy="258.79" r="2.2" fill="#e3e3e3" stroke="#c6c6c6" stroke-width="0.5"/>
<circle cx="267.95" cy="258.79" r="2.2" fill="#e3e3e3" stroke="#c6c6c6" stroke-width="0.5"/>
<circle cx="273.16" cy="258.79" r="2.2" fill="#e3e3e3" stroke="#c6c6c6" stroke-width="0.5"/>
<circle cx="278.36" cy="258.79" r="2.2" fill="#e3e3e3" stroke="#c6c6c6" stroke-width="0.5"/>
<circle cx="283.56" cy="258.79" r="2.2" fill="#e3e3e3" stroke="#c6c6c6" stroke-width="0.5"/>
<circle cx="288.77" cy="258.79" r="2.2" fill="#e3e3e3" stroke="#c6c6c6" stroke-width="0.5"/>
<circle cx="293.97" cy="258.79" r="2.2" fill="#ebebeb" stroke="#c6c6c6" stroke-width="0.5"/>
<circle cx="299.17" cy="258.79" r="2.2" fill="#e3e3e3" stroke="#c6c6c6" stroke-width="0.5"/>
<circle cx="304.38" cy="258.79" r="2.2" fill="#e3e3e3" stroke="#c6c6c6" stroke-width="0.5"/>
<circle cx="309.58" cy="258.79" r="2.2" fill="#e3e3e3" stroke="#c6c6c6" stroke-width="0.5"/>
<circle cx="314.78" cy="258.79" r="2.2" fill="#e3e3e3" stroke="#c6c6c6" stroke-width="0.5"/>
<circle cx="319.99" cy="258.79" r="2.2" fill="#e3e3e3" stroke="#c6c6c6" stroke-width="0.5"/>
<circle cx="325.19" cy="258.79" r="2.2" fill="#e3e3e3" stroke="#c6c6c6" stroke-width="0.5"/>
<circle cx="330.39" cy="258.79" r="2.2" fill="#e3e3e3" stroke="#c6c6c6" stroke-width="0.5"/>
<circle cx="335.6" cy="258.79" r="2.2" fill="#e3e3e3" stroke="#c6c6c6" stroke-width="0.5"/>
<circle cx="340.8" cy="258.79" r="2.2" fill="#e3e3e3" stroke="#c6c6c6" stroke-width="0.5"/>
<circle cx="179.5" cy="263.65" r="2.2" fill="#e3e3e3" stroke="#c6c6c6" stroke-width="0.5"/>
<circle cx="184.7" cy="263.65" r="2.2" fill="#e3e3e3" stroke="#c6c6c6" stroke-width="0.5"/>
<circle cx="189.91" cy="263.65" r="2.2" fill="#e3e3e3" stroke="#c6c6c6" stroke-width="0.5"/>
<circle cx="195.11" cy="263.65" r="2.2" fill="#e3e3e3" stroke="#c6c6c6" stroke-width="0.5"/>
<circle cx="200.31" cy="263.65" r="2.2" fill="#e3e3e3" stroke="#c6c6c6" stroke-width="0.5"/>
<circle cx="205.52" cy="263.65" r="2.2" fill="#e3e3e3" stroke="#c6c6c6" stroke-width="0.5"/>
<circle cx="210.72" cy="263.65" r="2.2" fill="#e3e3e3" stroke="#c6c6c6" stroke-width="0.5"/>
<circle cx="215.92" cy="263.65" r="2.2" fill="#e3e3e3" stroke="#c6c6c6" stroke-width="0.5"/>
<circle cx="221.13" cy="263.65" r="2.2" fill="#e3e3e3" stroke="#c6c6c6" stroke-width="0.5"/>
<circle cx="226.33" cy="263.65" r="2.2" fill="#e3e3e3" stroke="#c6c6c6" stroke-width="0.5"/>
<circle cx="231.53" cy="263.65" r="2.2" fill="#e3e3e3" stroke="#c6c6c6" stroke-width="0.5"/>
<circle cx="236.74" cy="263.65" r="2.2" fill="#e3e3e3" stroke="#c6c6c6" stroke-width="0.5"/>
<circle cx="241.94" cy="263.65" r="2.2" fill="#e3e3e3" stroke="#c6c6c6" stroke-width="0.5"/>
<circle cx="247.14" cy="263.65" r="2.2" fill="#e3e3e3" stroke="#c6c6c6" stroke-width="0.5"/>
<circle cx="252.35" cy="263.65" r="2.2" fill="#e3e3e3" stroke="#c6c6c6" stroke-width="0.5"/>
<circle cx="257.55" cy="263.65" r="2.2" fill="#e3e3e3" stroke="#c6c6c6" stroke-width="0.5"/>
<circle cx="262.75" cy="263.65" r="2.2" fill="#e3e3e3" stroke="#c6c6c6" stroke-width="0.5"/>
<circle cx="267.95" cy="263.65" r="2.2" fill="#e3e3e3" stroke="#c6c6c6" stroke-width="0.5"/>
<circle cx="273.16" cy="263.65" r="2.2" fill="#e3e3e3" stroke="#c6c6c6" stroke-width="0.5"/>
<circle cx="278.36" cy="263.65" r="2.2" fill="#e3e3e3" stroke="#c6c6c6" stroke-width="0.5"/>
<circle cx="283.56" cy="263.65" r="2.2" fill="#e3e3e3" stroke="#c6c6c6" stroke-width="0.5"/>
<circle cx="288.77" cy="263.65" r="2.2" fill="#e3e3e3" stroke="#c6c6c6" stroke-width="0.5"/>
<circle cx="293.97" cy="263.65" r="2.2" fill="#ebebeb" stroke="#c6c6c6" stroke-width="0.5"/>
<circle cx="299.17" cy="263.65" r="2.2" fill="#e3e3e3" stroke="#c6c6c6" stroke-width="0.5"/>
<circle cx="304.38" cy="263.65" r="2.2" fill="#e3e3e3" stroke="#c6c6c6" stroke-width="0.5"/>
<circle cx="309.58" cy="263.65" r="2.2" fill="#e3e3e3" stroke="#c6c6c6" stroke-width="0.5"/>
<circle cx="314.78" cy="263.65" r="2.2" fill="#e3e3e3" stroke="#c6c6c6" stroke-width="0.5"/>
<circle cx="319.99" cy="263.65" r="2.2" fill="#e3e3e3" stroke="#c6c6c6" stroke-width="0.5"/>
<circle cx="325.19" cy="263.65" r="2.2" fill="#e3e3e3" stroke="#c6c6c6" stroke-width="0.5"/>
<circle cx="330.39" cy="263.65" r="2.2" fill="#e3e3e3" stroke="#c6c6c6" stroke-width="0.5"/>
<circle cx="335.6" cy="263.65" r="2.2" fill="#e3e3e3" stroke="#c6c6c6" stroke-width="0.5"/>
<circle cx="340.8" cy="263.65" r="2.2" fill="#e3e3e3" stroke="#c6c6c6" stroke-width="0.5"/>
<circle cx="179.5" cy="268.51" r="2.2" fill="#e3e3e3" stroke="#c6c6c6" stroke-width="0.5"/>
<circle cx="184.7" cy="268.51" r="2.2" fill="#e3e3e3" stroke="#c6c6c6" stroke-width="0.5"/>
<circle cx="189.91" cy="268.51" r="2.2" fill="#e3e3e3" stroke="#c6c6c6" stroke-width="0.5"/>
<circle cx="195.11" cy="268.51" r="2.2" fill="#e3e3e3" stroke="#c6c6c6" stroke-width="0.5"/>
<circle cx="200.31" cy="268.51" r="2.2" fill="#e3e3e3" stroke="#c6c6c6" stroke-width="0.5"/>
<circle cx="205.52" cy="268.51" r="2.2" fill="#e3e3e3" stroke="#c6c6c6" stroke-width="0.5"/>
<circle cx="210.72" cy="268.51" r="2.2" fill="#e3e3e3" stroke="#c6c6c6" stroke-width="0.5"/>
<circle cx="215.92" cy="268.51" r="2.2" fill="#e3e3e3" stroke="#c6c6c6" stroke-width="0.5"/>
<circle cx="221.13" cy="268.51" r="2.2" fill="#e3e3e3" stroke="#c6c6c6" stroke-width="0.5"/>
<circle cx="226.33" cy="268.51" r="2.2" fill="#e3e3e3" stroke="#c6c6c6" stroke-width="0.5"/>
<circle cx="231.53" cy="268.51" r="2.2" fill="#e3e3e3" stroke="#c6c6c6" stroke-width="0.5"/>
<circle cx="236.74" cy="268.51" r="2.2" fill="#e3e3e3" stroke="#c6c6c6" stroke-width="0.5"/>
<circle cx="241.94" cy="268.51" r="2.2" fill="#e3e3e3" stroke="#c6c6c6" stroke-width="0.5"/>
<circle cx="247.14" cy="268.51" r="2.2" fill="#e3e3e3" stroke="#c6c6c6" stroke-width="0.5"/>
<circle cx="252.35" cy="268.51" r="2.2" fill="#e3e3e3" stroke="#c6c6c6" stroke-width="0.5"/>
<circle cx="257.55" cy="268.51" r="2.2" fill="#e3e3e3" stroke="#c6c6c6" stroke-width="0.5"/>
<circle cx="262.75" cy="268.51" r="2.2" fill="#e3e3e3" stroke="#c6c6c6" stroke-width="0.5"/>
<circle cx="267.95" cy="268.51" r="2.2" fill="#e3e3e3" stroke="#c6c6c6" stroke-width="0.5"/>
<circle cx="273.16" cy="268.51" r="2.2" fill="#e3e3e3" stroke="#c6c6c6" stroke-width="0.5"/>
<circle cx="278.36" cy="268.51" r="2.2" fill="#e3e3e3" stroke="#c6c6c6" stroke-width="0.5"/>
<circle cx="283.56" cy="268.51" r="2.2" fill="#e3e3e3" stroke="#c6c6c6" stroke-width="0.5"/>
<circle cx="288.77" cy="268.51" r="2.2" fill="#e3e3e3" stroke="#c6c6c6" stroke-width="0.5"/>
<circle cx="293.97" cy="268.51" r="2.2" fill="#ebebeb" stroke="#c6c6c6" stroke-width="0.5"/>
<circle cx="299.17" cy="268.51" r="2.2" fill="#e3e3e3" stroke="#c6c6c6" stroke-width="0.5"/>
<circle cx="304.38" cy="268.51" r="2.2" fill="#e3e3e3" stroke="#c6c6c6" stroke-width="0.5"/>
<circle cx="309.58" cy="268.51" r="2.2" fill="#e3e3e3" stroke="#c6c6c6" stroke-width="0.5"/>
<circle cx="314.78" cy="268.51" r="2.2" fill="#e3e3e3" stroke="#c6c6c6" stroke-width="0.5"/>
<circle cx="319.99" cy="268.51" r="2.2" fill="#e3e3e3" stroke="#c6c6c6" stroke-width="0.5"/>
<circle cx="325.19" cy="268.51" r="2.2" fill="#e3e3e3" stroke="#c6c6c6" stroke-width="0.5"/>
<circle cx="330.39" cy="268.51" r="2.2" fill="#e3e3e3" stroke="#c6c6c6" stroke-width="0.5"/>
<circle cx="335.6" cy="268.51" r="2.2" fill="#e3e3e3" stroke="#c6c6c6" stroke-width="0.5"/>
<circle cx="340.8" cy="268.51" r="2.2" fill="#e3e3e3" stroke="#c6c6c6" stroke-width="0.5"/>
<circle cx="179.5" cy="273.37" r="2.2" fill="#e3e3e3" stroke="#c6c6c6" stroke-width="0.5"/>
<circle cx="184.7" cy="273.37" r="2.2" fill="#e3e3e3" stroke="#c6c6c6" stroke-width="0.5"/>
<circle cx="189.91" cy="273.37" r="2.2" fill="#e3e3e3" stroke="#c6c6c6" stroke-width="0.5"/>
<circle cx="195.11" cy="273.37" r="2.2" fill="#e3e3e3" stroke="#c6c6c6" stroke-width="0.5"/>
<circle cx="200.31" cy="273.37" r="2.2" fill="#e3e3e3" stroke="#c6c6c6" stroke-width="0.5"/>
<circle cx="205.52" cy="273.37" r="2.2" fill="#e3e3e3" stroke="#c6c6c6" stroke-width="0.5"/>
<circle cx="210.72" cy="273.37" r="2.2" fill="#e3e3e3" stroke="#c6c6c6" stroke-width="0.5"/>
<circle cx="215.92" cy="273.37" r="2.2" fill="#e3e3e3" stroke="#c6c6c6" stroke-width="0.5"/>
<circle cx="221.13" cy="273.37" r="2.2" fill="#e3e3e3" stroke="#c6c6c6" stroke-width="0.5"/>
<circle cx="226.33" cy="273.37" r="2.2" fill="#e3e3e3" stroke="#c6c6c6" stroke-width="0.5"/>
<circle cx="231.53" cy="273.37" r="2.2" fill="#e3e3e3" stroke="#c6c6c6" stroke-width="0.5"/>
<circle cx="236.74" cy="273.37" r="2.2" fill="#e3e3e3" stroke="#c6c6c6" stroke-width="0.5"/>
<circle cx="241.94" cy="273.37" r="2.2" fill="#e3e3e3" stroke="#c6c6c6" stroke-width="0.5"/>
<circle cx="247.14" cy="273.37" r="2.2" fill="#e3e3e3" stroke="#c6c6c6" stroke-width="0.5"/>
<circle cx="252.35" cy="273.37" r="2.2" fill="#e3e3e3" stroke="#c6c6c6" stroke-width="0.5"/>
<circle cx="257.55" cy="273.37" r="2.2" fill="#e3e3e3" stroke="#c6c6c6" stroke-width="0.5"/>
<circle cx="262.75" cy="273.37" r="2.2" fill="#e3e3e3" stroke="#c6c6c6" stroke-width="0.5"/>
<circle cx="267.95" cy="273.37" r="2.2" fill="#e3e3e3" stroke="#c6c6c6" stroke-width="0.5"/>
<circle cx="273.16" cy="273.37" r="2.2" fill="#e3e3e3" stroke="#c6c6c6" stroke-width="0.5"/>
<circle cx="278.36" cy="273.37" r="2.2" fill="#e3e3e3" stroke="#c6c6c6" stroke-width="0.5"/>
<circle cx="283.56" cy="273.37" r="2.2" fill="#e3e3e3" stroke="#c6c6c6" stroke-width="0.5"/>
<circle cx="288.77" cy="273.37" r="2.2" fill="#e3e3e3" stroke="#c6c6c6" stroke-width="0.5"/>
<circle cx="293.97" cy="273.37" r="2.2" fill="#ebebeb" stroke="#c6c6c6" stroke-width="0.5"/>
<circle cx="299.17" cy="273.37" r="2.2" fill="#e3e3e3" stroke="#c6c6c6" stroke-width="0.5"/>
<circle cx="304.38" cy="273.37" r="2.2" fill="#e3e3e3" stroke="#c6c6c6" stroke-width="0.5"/>
<circle cx="309.58" cy="273.37" r="2.2" fill="#e3e3e3" stroke="#c6c6c6" stroke-width="0.5"/>
<circle cx="314.78" cy="273.37" r="2.2" fill="#e3e3e3" stroke="#c6c6c6" stroke-width="0.5"/>
<circle cx="319.99" cy="273.37" r="2.2" fill="#e3e3e3" stroke="#c6c6c6" stroke-width="0.5"/>
<circle cx="325.19" cy="273.37" r="2.2" fill="#e3e3e3" stroke="#c6c6c6" stroke-width="0.5"/>
<circle cx="330.39" cy="273.37" r="2.2" fill="#e3e3e3" stroke="#c6c6c6" stroke-width="0.5"/>
<circle cx="335.6" cy="273.37" r="2.2" fill="#e3e3e3" stroke="#c6c6c6" stroke-width="0.5"/>
<circle cx="340.8" cy="273.37" r="2.2" fill="#e3e3e3" stroke="#c6c6c6" stroke-width="0.5"/>
<circle cx="179.5" cy="278.24" r="2.2" fill="#e3e3e3" stroke="#c6c6c6" stroke-width="0.5"/>
<circle cx="184.7" cy="278.24" r="2.2" fill="#e3e3e3" stroke="#c6c6c6" stroke-width="0.5"/>
<circle cx="189.91" cy="278.24" r="2.2" fill="#e3e3e3" stroke="#c6c6c6" stroke-width="0.5"/>
<circle cx="195.11" cy="278.24" r="2.2" fill="#e3e3e3" stroke="#c6c6c6" stroke-width="0.5"/>
<circle cx="200.31" cy="278.24" r="2.2" fill="#e3e3e3" stroke="#c6c6c6" stroke-width="0.5"/>
<circle cx="205.52" cy="278.24" r="2.2" fill="#e3e3e3" stroke="#c6c6c6" stroke-width="0.5"/>
<circle cx="210.72" cy="278.24" r="2.2" fill="#e3e3e3" stroke="#c6c6c6" stroke-width="0.5"/>
<circle cx="215.92" cy="278.24" r="2.2" fill="#e3e3e3" stroke="#c6c6c6" stroke-width="0.5"/>
<circle cx="221.13" cy="278.24" r="2.2" fill="#e3e3e3" stroke="#c6c6c6" stroke-width="0.5"/>
<circle cx="226.33" cy="278.24" r="2.2" fill="#e3e3e3" stroke="#c6c6c6" stroke-width="0.5"/>
<circle cx="231.53" cy="278.24" r="2.2" fill="#e3e3e3" stroke="#c6c6c6" stroke-width="0.5"/>
<circle cx="236.74" cy="278.24" r="2.2" fill="#e3e3e3" stroke="#c6c6c6" stroke-width="0.5"/>
<circle cx="241.94" cy="278.24" r="2.2" fill="#e3e3e3" stroke="#c6c6c6" stroke-width="0.5"/>
<circle cx="247.14" cy="278.24" r="2.2" fill="#e3e3e3" stroke="#c6c6c6" stroke-width="0.5"/>
<circle cx="252.35" cy="278.24" r="2.2" fill="#e3e3e3" stroke="#c6c6c6" stroke-width="0.5"/>
<circle cx="257.55" cy="278.24" r="2.2" fill="#e3e3e3" stroke="#c6c6c6" stroke-width="0.5"/>
<circle cx="262.75" cy="278.24" r="2.2" fill="#e3e3e3" stroke="#c6c6c6" stroke-width="0.5"/>
<circle cx="267.95" cy="278.24" r="2.2" fill="#e3e3e3" stroke="#c6c6c6" stroke-width="0.5"/>
<circle cx="273.16" cy="278.24" r="2.2" fill="#e3e3e3" stroke="#c6c6c6" stroke-width="0.5"/>
<circle cx="278.36" cy="278.24" r="2.2" fill="#e3e3e3" stroke="#c6c6c6" stroke-width="0.5"/>
<circle cx="283.56" cy="278.24" r="2.2" fill="#e3e3e3" stroke="#c6c6c6" stroke-width="0.5"/>
<circle cx="288.77" cy="278.24" r="2.2" fill="#e3e3e3" stroke="#c6c6c6" stroke-width="0.5"/>
<circle cx="293.97" cy="278.24" r="2.2" fill="#ebebeb" stroke="#c6c6c6" stroke-width="0.5"/>
<circle cx="299.17" cy="278.24" r="2.2" fill="#e3e3e3" stroke="#c6c6c6" stroke-width="0.5"/>
<circle cx="304.38" cy="278.24" r="2.2" fill="#e3e3e3" stroke="#c6c6c6" stroke-width="0.5"/>
<circle cx="309.58" cy="278.24" r="2.2" fill="#e3e3e3" stroke="#c6c6c6" stroke-width="0.5"/>
<circle cx="314.78" cy="278.24" r="2.2" fill="#e3e3e3" stroke="#c6c6c6" stroke-width="0.5"/>
<circle cx="319.99" cy="278.24" r="2.2" fill="#e3e3e3" stroke="#c6c6c6" stroke-width="0.5"/>
<circle cx="325.19" cy="278.24" r="2.2" fill="#e3e3e3" stroke="#c6c6c6" stroke-width="0.5"/>
<circle cx="330.39" cy="278.24" r="2.2" fill="#e3e3e3" stroke="#c6c6c6" stroke-width="0.5"/>
<circle cx="335.6" cy="278.24" r="2.2" fill="#e3e3e3" stroke="#c6c6c6" stroke-width="0.5"/>
<circle cx="340.8" cy="278.24" r="2.2" fill="#e3e3e3" stroke="#c6c6c6" stroke-width="0.5"/>
<circle cx="179.5" cy="283.1" r="2.2" fill="#e3e3e3" stroke="#c6c6c6" stroke-width="0.5"/>
<circle cx="184.7" cy="283.1" r="2.2" fill="#e3e3e3" stroke="#c6c6c6" stroke-width="0.5"/>
<circle cx="189.91" cy="283.1" r="2.2" fill="#e3e3e3" stroke="#c6c6c6" stroke-width="0.5"/>
<circle cx="195.11" cy="283.1" r="2.2" fill="#e3e3e3" stroke="#c6c6c6" stroke-width="0.5"/>
<circle cx="200.31" cy="283.1" r="2.2" fill="#e3e3e3" stroke="#c6c6c6" stroke-width="0.5"/>
<circle cx="205.52" cy="283.1" r="2.2" fill="#e3e3e3" stroke="#c6c6c6" stroke-width="0.5"/>
<circle cx="210.72" cy="283.1" r="2.2" fill="#e3e3e3" stroke="#c6c6c6" stroke-width="0.5"/>
<circle cx="215.92" cy="283.1" r="2.2" fill="#e3e3e3" stroke="#c6c6c6" stroke-width="0.5"/>
<circle cx="221.13" cy="283.1" r="2.2" fill="#e3e3e3" stroke="#c6c6c6" stroke-width="0.5"/>
<circle cx="226.33" cy="283.1" r="2.2" fill="#e3e3e3" stroke="#c6c6c6" stroke-width="0.5"/>
<circle cx="231.53" cy="283.1" r="2.2" fill="#e3e3e3" stroke="#c6c6c6" stroke-width="0.5"/>
<circle cx="236.74" cy="283.1" r="2.2" fill="#e3e3e3" stroke="#c6c6c6" stroke-width="0.5"/>
<circle cx="241.94" cy="283.1" r="2.2" fill="#e3e3e3" stroke="#c6c6c6" stroke-width="0.5"/>
<circle cx="247.14" cy="283.1" r="2.2" fill="#e3e3e3" stroke="#c6c6c6" stroke-width="0.5"/>
<circle cx="252.35" cy="283.1" r="2.2" fill="#e3e3e3" stroke="#c6c6c6" stroke-width="0.5"/>
<circle cx="257.55" cy="283.1" r="2.2" fill="#e3e3e3" stroke="#c6c6c6" stroke-width="0.5"/>
<circle cx="262.75" cy="283.1" r="2.2" fill="#e3e3e3" stroke="#c6c6c6" stroke-width="0.5"/>
<circle cx="267.95" cy="283.1" r="2.2" fill="#e3e3e3" stroke="#c6c6c6" stroke-width="0.5"/>
<circle cx="273.16" cy="283.1" r="2.2" fill="#e3e3e3" stroke="#c6c6c6" stroke-width="0.5"/>
<circle cx="278.36" cy="283.1" r="2.2" fill="#e3e3e3" stroke="#c6c6c6" stroke-width="0.5"/>
<circle cx="283.56" cy="283.1" r="2.2" fill="#e3e3e3" stroke="#c6c6c6" stroke-width="0.5"/>
<circle cx="288.77" cy="283.1" r="2.2" fill="#e3e3e3" stroke="#c6c6c6" stroke-width="0.5"/>
<circle cx="293.97" cy="283.1" r="2.2" fill="#ebebeb" stroke="#c6c6c6" stroke-width="0.5"/>
<circle cx="299.17" cy="283.1" r="2.2" fill="#e3e3e3" stroke="#c6c6c6" stroke-width="0.5"/>
<circle cx="304.38" cy="283.1" r="2.2" fill="#e3e3e3" stroke="#c6c6c6" stroke-width="0.5"/>
<circle cx="309.58" cy="283.1" r="2.2" fill="#e3e3e3" stroke="#c6c6c6" stroke-width="0.5"/>
<circle cx="314.78" cy="283.1" r="2.2" fill="#e3e3e3" stroke="#c6c6c6" stroke-width="0.5"/>
<circle cx="319.99" cy="283.1" r="2.2" fill="#e3e3e3" stroke="#c6c6c6" stroke-width="0.5"/>
<circle cx="325.19" cy="283.1" r="2.2" fill="#e3e3e3" stroke="#c6c6c6" stroke-width="0.5"/>
<circle cx="330.39" cy="283.1" r="2.2" fill="#e3e3e3" stroke="#c6c6c6" stroke-width="0.5"/>
<circle cx="335.6" cy="283.1" r="2.2" fill="#e3e3e3" stroke="#c6c6c6" stroke-width="0.5"/>
<circle cx="340.8" cy="283.1" r="2.2" fill="#e3e3e3" stroke="#c6c6c6" stroke-width="0.5"/>
<circle cx="179.5" cy="287.96" r="2.2" fill="#e3e3e3" stroke="#c6c6c6" stroke-width="0.5"/>
<circle cx="184.7" cy="287.96" r="2.2" fill="#e3e3e3" stroke="#c6c6c6" stroke-width="0.5"/>
<circle cx="189.91" cy="287.96" r="2.2" fill="#e3e3e3" stroke="#c6c6c6" stroke-width="0.5"/>
<circle cx="195.11" cy="287.96" r="2.2" fill="#e3e3e3" stroke="#c6c6c6" stroke-width="0.5"/>
<circle cx="200.31" cy="287.96" r="2.2" fill="#e3e3e3" stroke="#c6c6c6" stroke-width="0.5"/>
<circle cx="205.52" cy="287.96" r="2.2" fill="#e3e3e3" stroke="#c6c6c6" stroke-width="0.5"/>
<circle cx="210.72" cy="287.96" r="2.2" fill="#e3e3e3" stroke="#c6c6c6" stroke-width="0.5"/>
<circle cx="215.92" cy="287.96" r="2.2" fill="#e3e3e3" stroke="#c6c6c6" stroke-width="0.5"/>
<circle cx="221.13" cy="287.96" r="2.2" fill="#e3e3e3" stroke="#c6c6c6" stroke-width="0.5"/>
<circle cx="226.33" cy="287.96" r="2.2" fill="#e3e3e3" stroke="#c6c6c6" stroke-width="0.5"/>
<circle cx="231.53" cy="287.96" r="2.2" fill="#e3e3e3" stroke="#c6c6c6" stroke-width="0.5"/>
<circle cx="236.74" cy="287.96" r="2.2" fill="#e3e3e3" stroke="#c6c6c6" stroke-width="0.5"/>
<circle cx="241.94" cy="287.96" r="2.2" fill="#e3e3e3" stroke="#c6c6c6" stroke-width="0.5"/>
<circle cx="247.14" cy="287.96" r="2.2" fill="#e3e3e3" stroke="#c6c6c6" stroke-width="0.5"/>
<circle cx="252.35" cy="287.96" r="2.2" fill="#e3e3e3" stroke="#c6c6c6" stroke-width="0.5"/>
<circle cx="257.55" cy="287.96" r="2.2" fill="#e3e3e3" stroke="#c6c6c6" stroke-width="0.5"/>
<circle cx="262.75" cy="287.96" r="2.2" fill="#e3e3e3" stroke="#c6c6c6" stroke-width="0.5"/>
<circle cx="267.95" cy="287.96" r="2.2" fill="#e3e3e3" stroke="#c6c6c6" stroke-width="0.5"/>
<circle cx="273.16" cy="287.96" r="2.2" fill="#e3e3e3" stroke="#c6c6c6" stroke-width="0.5"/>
<circle cx="278.36" cy="287.96" r="2.2" fill="#e3e3e3" stroke="#c6c6c6" stroke-width="0.5"/>
<circle cx="283.56" cy="287.96" r="2.2" fill="#e3e3e3" stroke="#c6c6c6" stroke-width="0.5"/>
<circle cx="288.77" cy="287.96" r="2.2" fill="#e3e3e3" stroke="#c6c6c6" stroke-width="0.5"/>
<circle cx="293.97" cy="287.96" r="2.2" fill="#ebebeb" stroke="#c6c6c6" stroke-width="0.5"/>
<circle cx="299.17" cy="287.96" r="2.2" fill="#e3e3e3" stroke="#c6c6c6" stroke-width="0.5"/>
<circle cx="304.38" cy="287.96" r="2.2" fill="#e3e3e3" stroke="#c6c6c6" stroke-width="0.5"/>
<circle cx="309.58" cy="287.96" r="2.2" fill="#e3e3e3" stroke="#c6c6c6" stroke-width="0.5"/>
<circle cx="314.78" cy="287.96" r="2.2" fill="#e3e3e3" stroke="#c6c6c6" stroke-width="0.5"/>
<circle cx="319.99" cy="287.96" r="2.2" fill="#e3e3e3" stroke="#c6c6c6" stroke-width="0.5"/>
<circle cx="325.19" cy="287.96" r="2.2" fill="#e3e3e3" stroke="#c6c6c6" stroke-width="0.5"/>
<circle cx="330.39" cy="287.96" r="2.2" fill="#e3e3e3" stroke="#c6c6c6" stroke-width="0.5"/>
<circle cx="335.6" cy="287.96" r="2.2" fill="#e3e3e3" stroke="#c6c6c6" stroke-width="0.5"/>
<circle cx="340.8" cy="287.96" r="2.2" fill="#e3e3e3" stroke="#c6c6c6" stroke-width="0.5"/>
<circle cx="179.5" cy="292.82" r="2.2" fill="#e3e3e3" stroke="#c6c6c6" stroke-width="0.5"/>
<circle cx="184.7" cy="292.82" r="2.2" fill="#e3e3e3" stroke="#c6c6c6" stroke-width="0.5"/>
<circle cx="189.91" cy="292.82" r="2.2" fill="#e3e3e3" stroke="#c6c6c6" stroke-width="0.5"/>
<circle cx="195.11" cy="292.82" r="2.2" fill="#e3e3e3" stroke="#c6c6c6" stroke-width="0.5"/>
<circle cx="200.31" cy="292.82" r="2.2" fill="#e3e3e3" stroke="#c6c6c6" stroke-width="0.5"/>
<circle cx="205.52" cy="292.82" r="2.2" fill="#e3e3e3" stroke="#c6c6c6" stroke-width="0.5"/>
<circle cx="210.72" cy="292.82" r="2.2" fill="#e3e3e3" stroke="#c6c6c6" stroke-width="0.5"/>
<circle cx="215.92" cy="292.82" r="2.2" fill="#e3e3e3" stroke="#c6c6c6" stroke-width="0.5"/>
<circle cx="221.13" cy="292.82" r="2.2" fill="#e3e3e3" stroke="#c6c6c6" stroke-width="0.5"/>
<circle cx="226.33" cy="292.82" r="2.2" fill="#e3e3e3" stroke="#c6c6c6" stroke-width="0.5"/>
<circle cx="231.53" cy="292.82" r="2.2" fill="#e3e3e3" stroke="#c6c6c6" stroke-width="0.5"/>
<circle cx="236.74" cy="292.82" r="2.2" fill="#e3e3e3" stroke="#c6c6c6" stroke-width="0.5"/>
<circle cx="241.94" cy="292.82" r="2.2" fill="#e3e3e3" stroke="#c6c6c6" stroke-width="0.5"/>
<circle cx="247.14" cy="292.82" r="2.2" fill="#e3e3e3" stroke="#c6c6c6" stroke-width="0.5"/>
<circle cx="252.35" cy="292.82" r="2.2" fill="#e3e3e3" stroke="#c6c6c6" stroke-width="0.5"/>
<circle cx="257.55" cy="292.82" r="2.2" fill="#e3e3e3" stroke="#c6c6c6" stroke-width="0.5"/>
<circle cx="262.75" cy="292.82" r="2.2" fill="#e3e3e3" stroke="#c6c6c6" stroke-width="0.5"/>
<circle cx="267.95" cy="292.82" r="2.2" fill="#e3e3e3" stroke="#c6c6c6" stroke-width="0.5"/>
<circle cx="273.16" cy="292.82" r="2.2" fill="#e3e3e3" stroke="#c6c6c6" stroke-width="0.5"/>
<circle cx="278.36" cy="292.82" r="2.2" fill="#e3e3e3" stroke="#c6c6c6" stroke-width="0.5"/>
<circle cx="283.56" cy="292.82" r="2.2" fill="#e3e3e3" stroke="#c6c6c6" stroke-width="0.5"/>
<circle cx="288.77" cy="292.82" r="2.2" fill="#e3e3e3" stroke="#c6c6c6" stroke-width="0.5"/>
<circle cx="293.97" cy="292.82" r="2.2" fill="#ebebeb" stroke="#c6c6c6" stroke-width="0.5"/>
<circle cx="299.17" cy="292.82" r="2.2" fill="#e3e3e3" stroke="#c6c6c6" stroke-width="0.5"/>
<circle cx="304.38" cy="292.82" r="2.2" fill="#e3e3e3" stroke="#c6c6c6" stroke-width="0.5"/>
<circle cx="309.58" cy="292.82" r="2.2" fill="#e3e3e3" stroke="#c6c6c6" stroke-width="0.5"/>
<circle cx="314.78" cy="292.82" r="2.2" fill="#e3e3e3" stroke="#c6c6c6" stroke-width="0.5"/>
<circle cx="319.99" cy="292.82" r="2.2" fill="#e3e3e3" stroke="#c6c6c6" stroke-width="0.5"/>
<circle cx="325.19" cy="292.82" r="2.2" fill="#e3e3e3" stroke="#c6c6c6" stroke-width="0.5"/>
<circle cx="330.39" cy="292.82" r="2.2" fill="#e3e3e3" stroke="#c6c6c6" stroke-width="0.5"/>
<circle cx="335.6" cy="292.82" r="2.2" fill="#e3e3e3" stroke="#c6c6c6" stroke-width="0.5"/>
<circle cx="340.8" cy="292.82" r="2.2" fill="#e3e3e3" stroke="#c6c6c6" stroke-width="0.5"/>
<circle cx="179.5" cy="297.68" r="2.2" fill="#e3e3e3" stroke="#c6c6c6" stroke-width="0.5"/>
<circle cx="184.7" cy="297.68" r="2.2" fill="#e3e3e3" stroke="#c6c6c6" stroke-width="0.5"/>
<circle cx="189.91" cy="297.68" r="2.2" fill="#e3e3e3" stroke="#c6c6c6" stroke-width="0.5"/>
<circle cx="195.11" cy="297.68" r="2.2" fill="#e3e3e3" stroke="#c6c6c6" stroke-width="0.5"/>
<circle cx="200.31" cy="297.68" r="2.2" fill="#e3e3e3" stroke="#c6c6c6" stroke-width="0.5"/>
<circle cx="205.52" cy="297.68" r="2.2" fill="#e3e3e3" stroke="#c6c6c6" stroke-width="0.5"/>
<circle cx="210.72" cy="297.68" r="2.2" fill="#e3e3e3" stroke="#c6c6c6" stroke-width="0.5"/>
<circle cx="215.92" cy="297.68" r="2.2" fill="#e3e3e3" stroke="#c6c6c6" stroke-width="0.5"/>
<circle cx="221.13" cy="297.68" r="2.2" fill="#e3e3e3" stroke="#c6c6c6" stroke-width="0.5"/>
<circle cx="226.33" cy="297.68" r="2.2" fill="#e3e3e3" stroke="#c6c6c6" stroke-width="0.5"/>
<circle cx="231.53" cy="297.68" r="2.2" fill="#e3e3e3" stroke="#c6c6c6" stroke-width="0.5"/>
<circle cx="236.74" cy="297.68" r="2.2" fill="#e3e3e3" stroke="#c6c6c6" stroke-width="0.5"/>
<circle cx="241.94" cy="297.68" r="2.2" fill="#e3e3e3" stroke="#c6c6c6" stroke-width="0.5"/>
<circle cx="247.14" cy="297.68" r="2.2" fill="#e3e3e3" stroke="#c6c6c6" stroke-width="0.5"/>
<circle cx="252.35" cy="297.68" r="2.2" fill="#e3e3e3" stroke="#c6c6c6" stroke-width="0.5"/>
<circle cx="257.55" cy="297.68" r="2.2" fill="#e3e3e3" stroke="#c6c6c6" stroke-width="0.5"/>
<circle cx="262.75" cy="297.68" r="2.2" fill="#e3e3e3" stroke="#c6c6c6" stroke-width="0.5"/>
<circle cx="267.95" cy="297.68" r="2.2" fill="#e3e3e3" stroke="#c6c6c6" stroke-width="0.5"/>
<circle cx="273.16" cy="297.68" r="2.2" fill="#e3e3e3" stroke="#c6c6c6" stroke-width="0.5"/>
<circle cx="278.36" cy="297.68" r="2.2" fill="#e3e3e3" stroke="#c6c6c6" stroke-width="0.5"/>
<circle cx="283.56" cy="297.68" r="2.2" fill="#e3e3e3" stroke="#c6c6c6" stroke-width="0.5"/>
<circle cx="288.77" cy="297.68" r="2.2" fill="#e3e3e3" stroke="#c6c6c6" stroke-width="0.5"/>
<circle cx="293.97" cy="297.68" r="2.2" fill="#ebebeb" stroke="#c6c6c6" stroke-width="0.5"/>
<circle cx="299.17" cy="297.68" r="2.2" fill="#e3e3e3" stroke="#c6c6c6" stroke-width="0.5"/>
<circle cx="304.38" cy="297.68" r="2.2" fill="#e3e3e3" stroke="#c6c6c6" stroke-width="0.5"/>
<circle cx="309.58" cy="297.68" r="2.2" fill="#e3e3e3" stroke="#c6c6c6" stroke-width="0.5"/>
<circle cx="314.78" cy="297.68" r="2.2" fill="#e3e3e3" stroke="#c6c6c6" stroke-width="0.5"/>
<circle cx="319.99" cy="297.68" r="2.2" fill="#e3e3e3" stroke="#c6c6c6" stroke-width="0.5"/>
<circle cx="325.19" cy="297.68" r="2.2" fill="#e3e3e3" stroke="#c6c6c6" stroke-width="0.5"/>
<circle cx="330.39" cy="297.68" r="2.2" fill="#e3e3e3" stroke="#c6c6c6" stroke-width="0.5"/>
<circle cx="335.6" cy="297.68" r="2.2" fill="#e3e3e3" stroke="#c6c6c6" stroke-width="0.5"/>
<circle cx="340.8" cy="297.68" r="2.2" fill="#e3e3e3" stroke="#c6c6c6" stroke-width="0.5"/>
<circle cx="179.5" cy="302.54" r="2.2" fill="#e3e3e3" stroke="#c6c6c6" stroke-width="0.5"/>
<circle cx="184.7" cy="302.54" r="2.2" fill="#e3e3e3" stroke="#c6c6c6" stroke-width="0.5"/>
<circle cx="189.91" cy="302.54" r="2.2" fill="#e3e3e3" stroke="#c6c6c6" stroke-width="0.5"/>
<circle cx="195.11" cy="302.54" r="2.2" fill="#e3e3e3" stroke="#c6c6c6" stroke-width="0.5"/>
<circle cx="200.31" cy="302.54" r="2.2" fill="#e3e3e3" stroke="#c6c6c6" stroke-width="0.5"/>
<circle cx="205.52" cy="302.54" r="2.2" fill="#e3e3e3" stroke="#c6c6c6" stroke-width="0.5"/>
<circle cx="210.72" cy="302.54" r="2.2" fill="#e3e3e3" stroke="#c6c6c6" stroke-width="0.5"/>
<circle cx="215.92" cy="302.54" r="2.2" fill="#e3e3e3" stroke="#c6c6c6" stroke-width="0.5"/>
<circle cx="221.13" cy="302.54" r="2.2" fill="#e3e3e3" stroke="#c6c6c6" stroke-width="0.5"/>
<circle cx="226.33" cy="302.54" r="2.2" fill="#e3e3e3" stroke="#c6c6c6" stroke-width="0.5"/>
<circle cx="231.53" cy="302.54" r="2.2" fill="#e3e3e3" stroke="#c6c6c6" stroke-width="0.5"/>
<circle cx="236.74" cy="302.54" r="2.2" fill="#e3e3e3" stroke="#c6c6c6" stroke-width="0.5"/>
<circle cx="241.94" cy="302.54" r="2.2" fill="#e3e3e3" stroke="#c6c6c6" stroke-width="0.5"/>
<circle cx="247.14" cy="302.54" r="2.2" fill="#e3e3e3" stroke="#c6c6c6" stroke-width="0.5"/>
<circle cx="252.35" cy="302.54" r="2.2" fill="#e3e3e3" stroke="#c6c6c6" stroke-width="0.5"/>
<circle cx="257.55" cy="302.54" r="2.2" fill="#e3e3e3" stroke="#c6c6c6" stroke-width="0.5"/>
<circle cx="262.75" cy="302.54" r="2.2" fill="#e3e3e3" stroke="#c6c6c6" stroke-width="0.5"/>
<circle cx="267.95" cy="302.54" r="2.2" fill="#e3e3e3" stroke="#c6c6c6" stroke-width="0.5"/>
<circle cx="273.16" cy="302.54" r="2.2" fill="#e3e3e3" stroke="#c6c6c6" stroke-width="0.5"/>
<circle cx="278.36" cy="302.54" r="2.2" fill="#e3e3e3" stroke="#c6c6c6" stroke-width="0.5"/>
<circle cx="283.56" cy="302.54" r="2.2" fill="#e3e3e3" stroke="#c6c6c6" stroke-width="0.5"/>
<circle cx="288.77" cy="302.54" r="2.2" fill="#e3e3e3" stroke="#c6c6c6" stroke-width="0.5"/>
<circle cx="293.97" cy="302.54" r="2.2" fill="#ebebeb" stroke="#c6c6c6" stroke-width="0.5"/>
<circle cx="299.17" cy="302.54" r="2.2" fill="#e3e3e3" stroke="#c6c6c6" stroke-width="0.5"/>
<circle cx="304.38" cy="302.54" r="2.2" fill="#e3e3e3" stroke="#c6c6c6" stroke-width="0.5"/>
<circle cx="309.58" cy="302.54" r="2.2" fill="#e3e3e3" stroke="#c6c6c6" stroke-width="0.5"/>
<circle cx="314.78" cy="302.54" r="2.2" fill="#e3e3e3" stroke="#c6c6c6" stroke-width="0.5"/>
<circle cx="319.99" cy="302.54" r="2.2" fill="#e3e3e3" stroke="#c6c6c6" stroke-width="0.5"/>
<circle cx="325.19" cy="302.54" r="2.2" fill="#e3e3e3" stroke="#c6c6c6" stroke-width="0.5"/>
<circle cx="330.39" cy="302.54" r="2.2" fill="#e3e3e3" stroke="#c6c6c6" stroke-width="0.5"/>
<circle cx="335.6" cy="302.54" r="2.2" fill="#e3e3e3" stroke="#c6c6c6" stroke-width="0.5"/>
<circle cx="340.8" cy="302.54" r="2.2" fill="#e3e3e3" stroke="#c6c6c6" stroke-width="0.5"/>
<circle cx="179.5" cy="307.4" r="2.2" fill="#e3e3e3" stroke="#c6c6c6" stroke-width="0.5"/>
<circle cx="184.7" cy="307.4" r="2.2" fill="#e3e3e3" stroke="#c6c6c6" stroke-width="0.5"/>
<circle cx="189.91" cy="307.4" r="2.2" fill="#e3e3e3" stroke="#c6c6c6" stroke-width="0.5"/>
<circle cx="195.11" cy="307.4" r="2.2" fill="#e3e3e3" stroke="#c6c6c6" stroke-width="0.5"/>
<circle cx="200.31" cy="307.4" r="2.2" fill="#e3e3e3" stroke="#c6c6c6" stroke-width="0.5"/>
<circle cx="205.52" cy="307.4" r="2.2" fill="#e3e3e3" stroke="#c6c6c6" stroke-width="0.5"/>
<circle cx="210.72" cy="307.4" r="2.2" fill="#e3e3e3" stroke="#c6c6c6" stroke-width="0.5"/>
<circle cx="215.92" cy="307.4" r="2.2" fill="#e3e3e3" stroke="#c6c6c6" stroke-width="0.5"/>
<circle cx="221.13" cy="307.4" r="2.2" fill="#e3e3e3" stroke="#c6c6c6" stroke-width="0.5"/>
<circle cx="226.33" cy="307.4" r="2.2" fill="#e3e3e3" stroke="#c6c6c6" stroke-width="0.5"/>
<circle cx="231.53" cy="307.4" r="2.2" fill="#e3e3e3" stroke="#c6c6c6" stroke-width="0.5"/>
<circle cx="236.74" cy="307.4" r="2.2" fill="#e3e3e3" stroke="#c6c6c6" stroke-width="0.5"/>
<circle cx="241.94" cy="307.4" r="2.2" fill="#e3e3e3" stroke="#c6c6c6" stroke-width="0.5"/>
<circle cx="247.14" cy="307.4" r="2.2" fill="#e3e3e3" stroke="#c6c6c6" stroke-width="0.5"/>
<circle cx="252.35" cy="307.4" r="2.2" fill="#e3e3e3" stroke="#c6c6c6" stroke-width="0.5"/>
<circle cx="257.55" cy="307.4" r="2.2" fill="#e3e3e3" stroke="#c6c6c6" stroke-width="0.5"/>
<circle cx="262.75" cy="307.4" r="2.2" fill="#e3e3e3" stroke="#c6c6c6" stroke-width="0.5"/>
<circle cx="267.95" cy="307.4" r="2.2" fill="#e3e3e3" stroke="#c6c6c6" stroke-width="0.5"/>
<circle cx="273.16" cy="307.4" r="2.2" fill="#e3e3e3" stroke="#c6c6c6" stroke-width="0.5"/>
<circle cx="278.36" cy="307.4" r="2.2" fill="#e3e3e3" stroke="#c6c6c6" stroke-width="0.5"/>
<circle cx="283.56" cy="307.4" r="2.2" fill="#e3e3e3" stroke="#c6c6c6" stroke-width="0.5"/>
<circle cx="288.77" cy="307.4" r="2.2" fill="#e3e3e3" stroke="#c6c6c6" stroke-width="0.5"/>
<circle cx="293.97" cy="307.4" r="2.2" fill="#ebebeb" stroke="#c6c6c6" stroke-width="0.5"/>
<circle cx="299.17" cy="307.4" r="2.2" fill="#e3e3e3" stroke="#c6c6c6" stroke-width="0.5"/>
<circle cx="304.38" cy="307.4" r="2.2" fill="#e3e3e3" stroke="#c6c6c6" stroke-width="0.5"/>
<circle cx="309.58" cy="307.4" r="2.2" fill="#e3e3e3" stroke="#c6c6c6" stroke-width="0.5"/>
<circle cx="314.78" cy="307.4" r="2.2" fill="#e3e3e3" stroke="#c6c6c6" stroke-width="0.5"/>
<circle cx="319.99" cy="307.4" r="2.2" fill="#e3e3e3" stroke="#c6c6c6" stroke-width="0.5"/>
<circle cx="325.19" cy="307.4" r="2.2" fill="#e3e3e3" stroke="#c6c6c6" stroke-width="0.5"/>
<circle cx="330.39" cy="307.4" r="2.2" fill="#e3e3e3" stroke="#c6c6c6" stroke-width="0.5"/>
<circle cx="335.6" cy="307.4" r="2.2" fill="#e3e3e3" stroke="#c6c6c6" stroke-width="0.5"/>
<circle cx="340.8" cy="307.4" r="2.2" fill="#e3e3e3" stroke="#c6c6c6" stroke-width="0.5"/>
<circle cx="179.5" cy="312.26" r="2.2" fill="#e3e3e3" stroke="#c6c6c6" stroke-width="0.5"/>
<circle cx="184.7" cy="312.26" r="2.2" fill="#e3e3e3" stroke="#c6c6c6" stroke-width="0.5"/>
<circle cx="189.91" cy="312.26" r="2.2" fill="#e3e3e3" stroke="#c6c6c6" stroke-width="0.5"/>
<circle cx="195.11" cy="312.26" r="2.2" fill="#e3e3e3" stroke="#c6c6c6" stroke-width="0.5"/>
<circle cx="200.31" cy="312.26" r="2.2" fill="#e3e3e3" stroke="#c6c6c6" stroke-width="0.5"/>
<circle cx="205.52" cy="312.26" r="2.2" fill="#e3e3e3" stroke="#c6c6c6" stroke-width="0.5"/>
<circle cx="210.72" cy="312.26" r="2.2" fill="#e3e3e3" stroke="#c6c6c6" stroke-width="0.5"/>
<circle cx="215.92" cy="312.26" r="2.2" fill="#e3e3e3" stroke="#c6c6c6" stroke-width="0.5"/>
<circle cx="221.13" cy="312.26" r="2.2" fill="#e3e3e3" stroke="#c6c6c6" stroke-width="0.5"/>
<circle cx="226.33" cy="312.26" r="2.2" fill="#e3e3e3" stroke="#c6c6c6" stroke-width="0.5"/>
<circle cx="231.53" cy="312.26" r="2.2" fill="#e3e3e3" stroke="#c6c6c6" stroke-width="0.5"/>
<circle cx="236.74" cy="312.26" r="2.2" fill="#e3e3e3" stroke="#c6c6c6" stroke-width="0.5"/>
<circle cx="241.94" cy="312.26" r="2.2" fill="#e3e3e3" stroke="#c6c6c6" stroke-width="0.5"/>
<circle cx="247.14" cy="312.26" r="2.2" fill="#e3e3e3" stroke="#c6c6c6" stroke-width="0.5"/>
<circle cx="252.35" cy="312.26" r="2.2" fill="#e3e3e3" stroke="#c6c6c6" stroke-width="0.5"/>
<circle cx="257.55" cy="312.26" r="2.2" fill="#e3e3e3" stroke="#c6c6c6" stroke-width="0.5"/>
<circle cx="262.75" cy="312.26" r="2.2" fill="#e3e3e3" stroke="#c6c6c6" stroke-width="0.5"/>
<circle cx="267.95" cy="312.26" r="2.2" fill="#e3e3e3" stroke="#c6c6c6" stroke-width="0.5"/>
<circle cx="273.16" cy="312.26" r="2.2" fill="#e3e3e3" stroke="#c6c6c6" stroke-width="0.5"/>
<circle cx="278.36" cy="312.26" r="2.2" fill="#e3e3e3" stroke="#c6c6c6" stroke-width="0.5"/>
<circle cx="283.56" cy="312.26" r="2.2" fill="#e3e3e3" stroke="#c6c6c6" stroke-width="0.5"/>
<circle cx="288.77" cy="312.26" r="2.2" fill="#e3e3e3" stroke="#c6c6c6" stroke-width="0.5"/>
<circle cx="293.97" cy="312.26" r="2.2" fill="#ebebeb" stroke="#c6c6c6" stroke-width="0.5"/>
<circle cx="299.17" cy="312.26" r="2.2" fill="#e3e3e3" stroke="#c6c6c6" stroke-width="0.5"/>
<circle cx="304.38" cy="312.26" r="2.2" fill="#e3e3e3" stroke="#c6c6c6" stroke-width="0.5"/>
<circle cx="309.58" cy="312.26" r="2.2" fill="#e3e3e3" stroke="#c6c6c6" stroke-width="0.5"/>
<circle cx="314.78" cy="312.26" r="2.2" fill="#e3e3e3" stroke="#c6c6c6" stroke-width="0.5"/>
<circle cx="319.99" cy="312.26" r="2.2" fill="#e3e3e3" stroke="#c6c6c6" stroke-width="0.5"/>
<circle cx="325.19" cy="312.26" r="2.2" fill="#e3e3e3" stroke="#c6c6c6" stroke-width="0.5"/>
<circle cx="330.39" cy="312.26" r="2.2" fill="#e3e3e3" stroke="#c6c6c6" stroke-width="0.5"/>
<circle cx="335.6" cy="312.26" r="2.2" fill="#e3e3e3" stroke="#c6c6c6" stroke-width="0.5"/>
<circle cx="340.8" cy="312.26" r="2.2" fill="#e3e3e3" stroke="#c6c6c6" stroke-width="0.5"/>
<circle cx="179.5" cy="317.13" r="2.2" fill="#e3e3e3" stroke="#c6c6c6" stroke-width="0.5"/>
<circle cx="184.7" cy="317.13" r="2.2" fill="#e3e3e3" stroke="#c6c6c6" stroke-width="0.5"/>
<circle cx="189.91" cy="317.13" r="2.2" fill="#e3e3e3" stroke="#c6c6c6" stroke-width="0.5"/>
<circle cx="195.11" cy="317.13" r="2.2" fill="#e3e3e3" stroke="#c6c6c6" stroke-width="0.5"/>
<circle cx="200.31" cy="317.13" r="2.2" fill="#e3e3e3" stroke="#c6c6c6" stroke-width="0.5"/>
<circle cx="205.52" cy="317.13" r="2.2" fill="#e3e3e3" stroke="#c6c6c6" stroke-width="0.5"/>
<circle cx="210.72" cy="317.13" r="2.2" fill="#e3e3e3" stroke="#c6c6c6" stroke-width="0.5"/>
<circle cx="215.92" cy="317.13" r="2.2" fill="#e3e3e3" stroke="#c6c6c6" stroke-width="0.5"/>
<circle cx="221.13" cy="317.13" r="2.2" fill="#e3e3e3" stroke="#c6c6c6" stroke-width="0.5"/>
<circle cx="226.33" cy="317.13" r="2.2" fill="#e3e3e3" stroke="#c6c6c6" stroke-width="0.5"/>
<circle cx="231.53" cy="317.13" r="2.2" fill="#e3e3e3" stroke="#c6c6c6" stroke-width="0.5"/>
<circle cx="236.74" cy="317.13" r="2.2" fill="#e3e3e3" stroke="#c6c6c6" stroke-width="0.5"/>
<circle cx="241.94" cy="317.13" r="2.2" fill="#e3e3e3" stroke="#c6c6c6" stroke-width="0.5"/>
<circle cx="247.14" cy="317.13" r="2.2" fill="#e3e3e3" stroke="#c6c6c6" stroke-width="0.5"/>
<circle cx="252.35" cy="317.13" r="2.2" fill="#e3e3e3" stroke="#c6c6c6" stroke-width="0.5"/>
<circle cx="257.55" cy="317.13" r="2.2" fill="#e3e3e3" stroke="#c6c6c6" stroke-width="0.5"/>
<circle cx="262.75" cy="317.13" r="2.2" fill="#e3e3e3" stroke="#c6c6c6" stroke-width="0.5"/>
<circle cx="267.95" cy="317.13" r="2.2" fill="#e3e3e3" stroke="#c6c6c6" stroke-width="0.5"/>
<circle cx="273.16" cy="317.13" r="2.2" fill="#e3e3e3" stroke="#c6c6c6" stroke-width="0.5"/>
<circle cx="278.36" cy="317.13" r="2.2" fill="#e3e3e3" stroke="#c6c6c6" stroke-width="0.5"/>
<circle cx="283.56" cy="317.13" r="2.2" fill="#e3e3e3" stroke="#c6c6c6" stroke-width="0.5"/>
<circle cx="288.77" cy="317.13" r="2.2" fill="#e3e3e3" stroke="#c6c6c6" stroke-width="0.5"/>
<circle cx="293.97" cy="317.13" r="2.2" fill="#ebebeb" stroke="#c6c6c6" stroke-width="0.5"/>
<circle cx="299.17" cy="317.13" r="2.2" fill="#e3e3e3" stroke="#c6c6c6" stroke-width="0.5"/>
<circle cx="304.38" cy="317.13" r="2.2" fill="#e3e3e3" stroke="#c6c6c6" stroke-width="0.5"/>
<circle cx="309.58" cy="317.13" r="2.2" fill="#e3e3e3" stroke="#c6c6c6" stroke-width="0.5"/>
<circle cx="314.78" cy="317.13" r="2.2" fill="#e3e3e3" stroke="#c6c6c6" stroke-width="0.5"/>
<circle cx="319.99" cy="317.13" r="2.2" fill="#e3e3e3" stroke="#c6c6c6" stroke-width="0.5"/>
<circle cx="325.19" cy="317.13" r="2.2" fill="#e3e3e3" stroke="#c6c6c6" stroke-width="0.5"/>
<circle cx="330.39" cy="317.13" r="2.2" fill="#e3e3e3" stroke="#c6c6c6" stroke-width="0.5"/>
<circle cx="335.6" cy="317.13" r="2.2" fill="#e3e3e3" stroke="#c6c6c6" stroke-width="0.5"/>
<circle cx="340.8" cy="317.13" r="2.2" fill="#e3e3e3" stroke="#c6c6c6" stroke-width="0.5"/>
<circle cx="179.5" cy="321.99" r="2.2" fill="#e3e3e3" stroke="#c6c6c6" stroke-width="0.5"/>
<circle cx="184.7" cy="321.99" r="2.2" fill="#e3e3e3" stroke="#c6c6c6" stroke-width="0.5"/>
<circle cx="189.91" cy="321.99" r="2.2" fill="#e3e3e3" stroke="#c6c6c6" stroke-width="0.5"/>
<circle cx="195.11" cy="321.99" r="2.2" fill="#e3e3e3" stroke="#c6c6c6" stroke-width="0.5"/>
<circle cx="200.31" cy="321.99" r="2.2" fill="#e3e3e3" stroke="#c6c6c6" stroke-width="0.5"/>
<circle cx="205.52" cy="321.99" r="2.2" fill="#e3e3e3" stroke="#c6c6c6" stroke-width="0.5"/>
<circle cx="210.72" cy="321.99" r="2.2" fill="#e3e3e3" stroke="#c6c6c6" stroke-width="0.5"/>
<circle cx="215.92" cy="321.99" r="2.2" fill="#e3e3e3" stroke="#c6c6c6" stroke-width="0.5"/>
<circle cx="221.13" cy="321.99" r="2.2" fill="#e3e3e3" stroke="#c6c6c6" stroke-width="0.5"/>
<circle cx="226.33" cy="321.99" r="2.2" fill="#e3e3e3" stroke="#c6c6c6" stroke-width="0.5"/>
<circle cx="231.53" cy="321.99" r="2.2" fill="#e3e3e3" stroke="#c6c6c6" stroke-width="0.5"/>
<circle cx="236.74" cy="321.99" r="2.2" fill="#e3e3e3" stroke="#c6c6c6" stroke-width="0.5"/>
<circle cx="241.94" cy="321.99" r="2.2" fill="#e3e3e3" stroke="#c6c6c6" stroke-width="0.5"/>
<circle cx="247.14" cy="321.99" r="2.2" fill="#e3e3e3" stroke="#c6c6c6" stroke-width="0.5"/>
<circle cx="252.35" cy="321.99" r="2.2" fill="#e3e3e3" stroke="#c6c6c6" stroke-width="0.5"/>
<circle cx="257.55" cy="321.99" r="2.2" fill="#e3e3e3" stroke="#c6c6c6" stroke-width="0.5"/>
<circle cx="262.75" cy="321.99" r="2.2" fill="#e3e3e3" stroke="#c6c6c6" stroke-width="0.5"/>
<circle cx="267.95" cy="321.99" r="2.2" fill="#e3e3e3" stroke="#c6c6c6" stroke-width="0.5"/>
<circle cx="273.16" cy="321.99" r="2.2" fill="#e3e3e3" stroke="#c6c6c6" stroke-width="0.5"/>
<circle cx="278.36" cy="321.99" r="2.2" fill="#e3e3e3" stroke="#c6c6c6" stroke-width="0.5"/>
<circle cx="283.56" cy="321.99" r="2.2" fill="#e3e3e3" stroke="#c6c6c6" stroke-width="0.5"/>
<circle cx="288.77" cy="321.99" r="2.2" fill="#e3e3e3" stroke="#c6c6c6" stroke-width="0.5"/>
<circle cx="293.97" cy="321.99" r="2.2" fill="#ebebeb" stroke="#c6c6c6" stroke-width="0.5"/>
<circle cx="299.17" cy="321.99" r="2.2" fill="#e3e3e3" stroke="#c6c6c6" stroke-width="0.5"/>
<circle cx="304.38" cy="321.99" r="2.2" fill="#e3e3e3" stroke="#c6c6c6" stroke-width="0.5"/>
<circle cx="309.58" cy="321.99" r="2.2" fill="#e3e3e3" stroke="#c6c6c6" stroke-width="0.5"/>
<circle cx="314.78" cy="321.99" r="2.2" fill="#e3e3e3" stroke="#c6c6c6" stroke-width="0.5"/>
<circle cx="319.99" cy="321.99" r="2.2" fill="#e3e3e3" stroke="#c6c6c6" stroke-width="0.5"/>
<circle cx="325.19" cy="321.99" r="2.2" fill="#e3e3e3" stroke="#c6c6c6" stroke-width="0.5"/>
<circle cx="330.39" cy="321.99" r="2.2" fill="#e3e3e3" stroke="#c6c6c6" stroke-width="0.5"/>
<circle cx="335.6" cy="321.99" r="2.2" fill="#e3e3e3" stroke="#c6c6c6" stroke-width="0.5"/>
<circle cx="340.8" cy="321.99" r="2.2" fill="#e3e3e3" stroke="#c6c6c6" stroke-width="0.5"/>
<circle cx="179.5" cy="326.85" r="2.2" fill="#e3e3e3" stroke="#c6c6c6" stroke-width="0.5"/>
<circle cx="184.7" cy="326.85" r="2.2" fill="#e3e3e3" stroke="#c6c6c6" stroke-width="0.5"/>
<circle cx="189.91" cy="326.85" r="2.2" fill="#e3e3e3" stroke="#c6c6c6" stroke-width="0.5"/>
<circle cx="195.11" cy="326.85" r="2.2" fill="#e3e3e3" stroke="#c6c6c6" stroke-width="0.5"/>
<circle cx="200.31" cy="326.85" r="2.2" fill="#e3e3e3" stroke="#c6c6c6" stroke-width="0.5"/>
<circle cx="205.52" cy="326.85" r="2.2" fill="#e3e3e3" stroke="#c6c6c6" stroke-width="0.5"/>
<circle cx="210.72" cy="326.85" r="2.2" fill="#e3e3e3" stroke="#c6c6c6" stroke-width="0.5"/>
<circle cx="215.92" cy="326.85" r="2.2" fill="#e3e3e3" stroke="#c6c6c6" stroke-width="0.5"/>
<circle cx="221.13" cy="326.85" r="2.2" fill="#e3e3e3" stroke="#c6c6c6" stroke-width="0.5"/>
<circle cx="226.33" cy="326.85" r="2.2" fill="#e3e3e3" stroke="#c6c6c6" stroke-width="0.5"/>
<circle cx="231.53" cy="326.85" r="2.2" fill="#e3e3e3" stroke="#c6c6c6" stroke-width="0.5"/>
<circle cx="236.74" cy="326.85" r="2.2" fill="#e3e3e3" stroke="#c6c6c6" stroke-width="0.5"/>
<circle cx="241.94" cy="326.85" r="2.2" fill="#e3e3e3" stroke="#c6c6c6" stroke-width="0.5"/>
<circle cx="247.14" cy="326.85" r="2.2" fill="#e3e3e3" stroke="#c6c6c6" stroke-width="0.5"/>
<circle cx="252.35" cy="326.85" r="2.2" fill="#e3e3e3" stroke="#c6c6c6" stroke-width="0.5"/>
<circle cx="257.55" cy="326.85" r="2.2" fill="#e3e3e3" stroke="#c6c6c6" stroke-width="0.5"/>
<circle cx="262.75" cy="326.85" r="2.2" fill="#e3e3e3" stroke="#c6c6c6" stroke-width="0.5"/>
<circle cx="267.95" cy="326.85" r="2.2" fill="#e3e3e3" stroke="#c6c6c6" stroke-width="0.5"/>
<circle cx="273.16" cy="326.85" r="2.2" fill="#e3e3e3" stroke="#c6c6c6" stroke-width="0.5"/>
<circle cx="278.36" cy="326.85" r="2.2" fill="#e3e3e3" stroke="#c6c6c6" stroke-width="0.5"/>
<circle cx="283.56" cy="326.85" r="2.2" fill="#e3e3e3" stroke="#c6c6c6" stroke-width="0.5"/>
<circle cx="288.77" cy="326.85" r="2.2" fill="#e3e3e3" stroke="#c6c6c6" stroke-width="0.5"/>
<circle cx="293.97" cy="326.85" r="2.2" fill="#ebebeb" stroke="#c6c6c6" stroke-width="0.5"/>
<circle cx="299.17" cy="326.85" r="2.2" fill="#e3e3e3" stroke="#c6c6c6" stroke-width="0.5"/>
<circle cx="304.38" cy="326.85" r="2.2" fill="#e3e3e3" stroke="#c6c6c6" stroke-width="0.5"/>
<circle cx="309.58" cy="326.85" r="2.2" fill="#e3e3e3" stroke="#c6c6c6" stroke-width="0.5"/>
<circle cx="314.78" cy="326.85" r="2.2" fill="#e3e3e3" stroke="#c6c6c6" stroke-width="0.5"/>
<circle cx="319.99" cy="326.85" r="2.2" fill="#e3e3e3" stroke="#c6c6c6" stroke-width="0.5"/>
<circle cx="325.19" cy="326.85" r="2.2" fill="#e3e3e3" stroke="#c6c6c6" stroke-width="0.5"/>
<circle cx="330.39" cy="326.85" r="2.2" fill="#e3e3e3" stroke="#c6c6c6" stroke-width="0.5"/>
<circle cx="335.6" cy="326.85" r="2.2" fill="#e3e3e3" stroke="#c6c6c6" stroke-width="0.5"/>
<circle cx="340.8" cy="326.85" r="2.2" fill="#e3e3e3" stroke="#c6c6c6" stroke-width="0.5"/>
<circle cx="179.5" cy="331.71" r="2.2" fill="#e3e3e3" stroke="#c6c6c6" stroke-width="0.5"/>
<circle cx="184.7" cy="331.71" r="2.2" fill="#e3e3e3" stroke="#c6c6c6" stroke-width="0.5"/>
<circle cx="189.91" cy="331.71" r="2.2" fill="#e3e3e3" stroke="#c6c6c6" stroke-width="0.5"/>
<circle cx="195.11" cy="331.71" r="2.2" fill="#e3e3e3" stroke="#c6c6c6" stroke-width="0.5"/>
<circle cx="200.31" cy="331.71" r="2.2" fill="#e3e3e3" stroke="#c6c6c6" stroke-width="0.5"/>
<circle cx="205.52" cy="331.71" r="2.2" fill="#e3e3e3" stroke="#c6c6c6" stroke-width="0.5"/>
<circle cx="210.72" cy="331.71" r="2.2" fill="#e3e3e3" stroke="#c6c6c6" stroke-width="0.5"/>
<circle cx="215.92" cy="331.71" r="2.2" fill="#e3e3e3" stroke="#c6c6c6" stroke-width="0.5"/>
<circle cx="221.13" cy="331.71" r="2.2" fill="#e3e3e3" stroke="#c6c6c6" stroke-width="0.5"/>
<circle cx="226.33" cy="331.71" r="2.2" fill="#e3e3e3" stroke="#c6c6c6" stroke-width="0.5"/>
<circle cx="231.53" cy="331.71" r="2.2" fill="#e3e3e3" stroke="#c6c6c6" stroke-width="0.5"/>
<circle cx="236.74" cy="331.71" r="2.2" fill="#e3e3e3" stroke="#c6c6c6" stroke-width="0.5"/>
<circle cx="241.94" cy="331.71" r="2.2" fill="#e3e3e3" stroke="#c6c6c6" stroke-width="0.5"/>
<circle cx="247.14" cy="331.71" r="2.2" fill="#e3e3e3" stroke="#c6c6c6" stroke-width="0.5"/>
<circle cx="252.35" cy="331.71" r="2.2" fill="#e3e3e3" stroke="#c6c6c6" stroke-width="0.5"/>
<circle cx="257.55" cy="331.71" r="2.2" fill="#e3e3e3" stroke="#c6c6c6" stroke-width="0.5"/>
<circle cx="262.75" cy="331.71" r="2.2" fill="#e3e3e3" stroke="#c6c6c6" stroke-width="0.5"/>
<circle cx="267.95" cy="331.71" r="2.2" fill="#e3e3e3" stroke="#c6c6c6" stroke-width="0.5"/>
<circle cx="273.16" cy="331.71" r="2.2" fill="#e3e3e3" stroke="#c6c6c6" stroke-width="0.5"/>
<circle cx="278.36" cy="331.71" r="2.2" fill="#e3e3e3" stroke="#c6c6c6" stroke-width="0.5"/>
<circle cx="283.56" cy="331.71" r="2.2" fill="#bfd5e3" stroke="none" stroke-width="0.5"/>
<circle cx="288.77" cy="331.71" r="2.2" fill="#e3e3e3" stroke="#c6c6c6" stroke-width="0.5"/>
<circle cx="293.97" cy="331.71" r="2.2" fill="#ebebeb" stroke="#c6c6c6" stroke-width="0.5"/>
<circle cx="299.17" cy="331.71" r="2.2" fill="#e3e3e3" stroke="#c6c6c6" stroke-width="0.5"/>
<circle cx="304.38" cy="331.71" r="2.2" fill="#e3e3e3" stroke="#c6c6c6" stroke-width="0.5"/>
<circle cx="309.58" cy="331.71" r="2.2" fill="#e3e3e3" stroke="#c6c6c6" stroke-width="0.5"/>
<circle cx="314.78" cy="331.71" r="2.2" fill="#e3e3e3" stroke="#c6c6c6" stroke-width="0.5"/>
<circle cx="319.99" cy="331.71" r="2.2" fill="#e3e3e3" stroke="#c6c6c6" stroke-width="0.5"/>
<circle cx="325.19" cy="331.71" r="2.2" fill="#e3e3e3" stroke="#c6c6c6" stroke-width="0.5"/>
<circle cx="330.39" cy="331.71" r="2.2" fill="#e3e3e3" stroke="#c6c6c6" stroke-width="0.5"/>
<circle cx="335.6" cy="331.71" r="2.2" fill="#e3e3e3" stroke="#c6c6c6" stroke-width="0.5"/>
<circle cx="340.8" cy="331.71" r="2.2" fill="#e3e3e3" stroke="#c6c6c6" stroke-width="0.5"/>
<circle cx="179.5" cy="336.57" r="2.2" fill="#e3e3e3" stroke="#c6c6c6" stroke-width="0.5"/>
<circle cx="184.7" cy="336.57" r="2.2" fill="#e3e3e3" stroke="#c6c6c6" stroke-width="0.5"/>
<circle cx="189.91" cy="336.57" r="2.2" fill="#e3e3e3" stroke="#c6c6c6" stroke-width="0.5"/>
<circle cx="195.11" cy="336.57" r="2.2" fill="#e3e3e3" stroke="#c6c6c6" stroke-width="0.5"/>
<circle cx="200.31" cy="336.57" r="2.2" fill="#e3e3e3" stroke="#c6c6c6" stroke-width="0.5"/>
<circle cx="205.52" cy="336.57" r="2.2" fill="#e3e3e3" stroke="#c6c6c6" stroke-width="0.5"/>
<circle cx="210.72" cy="336.57" r="2.2" fill="#e3e3e3" stroke="#c6c6c6" stroke-width="0.5"/>
<circle cx="215.92" cy="336.57" r="2.2" fill="#e3e3e3" stroke="#c6c6c6" stroke-width="0.5"/>
<circle cx="221.13" cy="336.57" r="2.2" fill="#e3e3e3" stroke="#c6c6c6" stroke-width="0.5"/>
<circle cx="226.33" cy="336.57" r="2.2" fill="#e3e3e3" stroke="#c6c6c6" stroke-width="0.5"/>
<circle cx="231.53" cy="336.57" r="2.2" fill="#e3e3e3" stroke="#c6c6c6" stroke-width="0.5"/>
<circle cx="236.74" cy="336.57" r="2.2" fill="#e3e3e3" stroke="#c6c6c6" stroke-width="0.5"/>
<circle cx="241.94" cy="336.57" r="2.2" fill="#e3e3e3" stroke="#c6c6c6" stroke-width="0.5"/>
<circle cx="247.14" cy="336.57" r="2.2" fill="#e3e3e3" stroke="#c6c6c6" stroke-width="0.5"/>
<circle cx="252.35" cy="336.57" r="2.2" fill="#e3e3e3" stroke="#c6c6c6" stroke-width="0.5"/>
<circle cx="257.55" cy="336.57" r="2.2" fill="#e3e3e3" stroke="#c6c6c6" stroke-width="0.5"/>
<circle cx="262.75" cy="336.57" r="2.2" fill="#e3e3e3" stroke="#c6c6c6" stroke-width="0.5"/>
<circle cx="267.95" cy="336.57" r="2.2" fill="#e3e3e3" stroke="#c6c6c6" stroke-width="0.5"/>
<circle cx="273.16" cy="336.57" r="2.2" fill="#e3e3e3" stroke="#c6c6c6" stroke-width="0.5"/>
<circle cx="278.36" cy="336.57" r="2.2" fill="#e3e3e3" stroke="#c6c6c6" stroke-width="0.5"/>
<circle cx="283.56" cy="336.57" r="2.2" fill="#e3e3e3" stroke="#c6c6c6" stroke-width="0.5"/>
<circle cx="288.77" cy="336.57" r="2.2" fill="#bfd5e3" stroke="none" stroke-width="0.5"/>
<circle cx="293.97" cy="336.57" r="2.2" fill="#ccdbe6" stroke="none" stroke-width="0.5"/>
<circle cx="299.17" cy="336.57" r="2.2" fill="#ccdbe6" stroke="none" stroke-width="0.5"/>
<circle cx="304.38" cy="336.57" r="2.2" fill="#e3e3e3" stroke="#c6c6c6" stroke-width="0.5"/>
<circle cx="309.58" cy="336.57" r="2.2" fill="#e3e3e3" stroke="#c6c6c6" stroke-width="0.5"/>
<circle cx="314.78" cy="336.57" r="2.2" fill="#e3e3e3" stroke="#c6c6c6" stroke-width="0.5"/>
<circle cx="319.99" cy="336.57" r="2.2" fill="#e3e3e3" stroke="#c6c6c6" stroke-width="0.5"/>
<circle cx="325.19" cy="336.57" r="2.2" fill="#e3e3e3" stroke="#c6c6c6" stroke-width="0.5"/>
<circle cx="330.39" cy="336.57" r="2.2" fill="#e3e3e3" stroke="#c6c6c6" stroke-width="0.5"/>
<circle cx="335.6" cy="336.57" r="2.2" fill="#e3e3e3" stroke="#c6c6c6" stroke-width="0.5"/>
<circle cx="340.8" cy="336.57" r="2.2" fill="#e3e3e3" stroke="#c6c6c6" stroke-width="0.5"/>
<circle cx="179.5" cy="341.43" r="2.2" fill="#e3e3e3" stroke="#c6c6c6" stroke-width="0.5"/>
<circle cx="184.7" cy="341.43" r="2.2" fill="#e3e3e3" stroke="#c6c6c6" stroke-width="0.5"/>
<circle cx="189.91" cy="341.43" r="2.2" fill="#e3e3e3" stroke="#c6c6c6" stroke-width="0.5"/>
<circle cx="195.11" cy="341.43" r="2.2" fill="#e3e3e3" stroke="#c6c6c6" stroke-width="0.5"/>
<circle cx="200.31" cy="341.43" r="2.2" fill="#e3e3e3" stroke="#c6c6c6" stroke-width="0.5"/>
<circle cx="205.52" cy="341.43" r="2.2" fill="#e3e3e3" stroke="#c6c6c6" stroke-width="0.5"/>
<circle cx="210.72" cy="341.43" r="2.2" fill="#e3e3e3" stroke="#c6c6c6" stroke-width="0.5"/>
<circle cx="215.92" cy="341.43" r="2.2" fill="#e3e3e3" stroke="#c6c6c6" stroke-width="0.5"/>
<circle cx="221.13" cy="341.43" r="2.2" fill="#e3e3e3" stroke="#c6c6c6" stroke-width="0.5"/>
<circle cx="226.33" cy="341.43" r="2.2" fill="#e3e3e3" stroke="#c6c6c6" stroke-width="0.5"/>
<circle cx="231.53" cy="341.43" r="2.2" fill="#e3e3e3" stroke="#c6c6c6" stroke-width="0.5"/>
<circle cx="236.74" cy="341.43" r="2.2" fill="#e3e3e3" stroke="#c6c6c6" stroke-width="0.5"/>
<circle cx="241.94" cy="341.43" r="2.2" fill="#e3e3e3" stroke="#c6c6c6" stroke-width="0.5"/>
<circle cx="247.14" cy="341.43" r="2.2" fill="#e3e3e3" stroke="#c6c6c6" stroke-width="0.5"/>
<circle cx="252.35" cy="341.43" r="2.2" fill="#e3e3e3" stroke="#c6c6c6" stroke-width="0.5"/>
<circle cx="257.55" cy="341.43" r="2.2" fill="#e3e3e3" stroke="#c6c6c6" stroke-width="0.5"/>
<circle cx="262.75" cy="341.43" r="2.2" fill="#e3e3e3" stroke="#c6c6c6" stroke-width="0.5"/>
<circle cx="267.95" cy="341.43" r="2.2" fill="#e3e3e3" stroke="#c6c6c6" stroke-width="0.5"/>
<circle cx="273.16" cy="341.43" r="2.2" fill="#e3e3e3" stroke="#c6c6c6" stroke-width="0.5"/>
<circle cx="278.36" cy="341.43" r="2.2" fill="#e3e3e3" stroke="#c6c6c6" stroke-width="0.5"/>
<circle cx="283.56" cy="341.43" r="2.2" fill="#bfd5e3" stroke="none" stroke-width="0.5"/>
<circle cx="288.77" cy="341.43" r="2.2" fill="#08306b" stroke="none" stroke-width="0.5"/>
<circle cx="293.97" cy="341.43" r="2.2" fill="#08306b" stroke="none" stroke-width="0.5"/>
<circle cx="299.17" cy="341.43" r="2.2" fill="#164480" stroke="none" stroke-width="0.5"/>
<circle cx="304.38" cy="341.43" r="2.2" fill="#99c1dd" stroke="none" stroke-width="0.5"/>
<circle cx="309.58" cy="341.43" r="2.2" fill="#e3e3e3" stroke="#c6c6c6" stroke-width="0.5"/>
<circle cx="314.78" cy="341.43" r="2.2" fill="#e3e3e3" stroke="#c6c6c6" stroke-width="0.5"/>
<circle cx="319.99" cy="341.43" r="2.2" fill="#e3e3e3" stroke="#c6c6c6" stroke-width="0.5"/>
<circle cx="325.19" cy="341.43" r="2.2" fill="#e3e3e3" stroke="#c6c6c6" stroke-width="0.5"/>
<circle cx="330.39" cy="341.43" r="2.2" fill="#e3e3e3" stroke="#c6c6c6" stroke-width="0.5"/>
<circle cx="335.6" cy="341.43" r="2.2" fill="#e3e3e3" stroke="#c6c6c6" stroke-width="0.5"/>
<circle cx="340.8" cy="341.43" r="2.2" fill="#e3e3e3" stroke="#c6c6c6" stroke-width="0.5"/>
<circle cx="179.5" cy="346.29" r="2.2" fill="#ebebeb" stroke="#c6c6c6" stroke-width="0.5"/>
<circle cx="184.7" cy="346.29" r="2.2" fill="#ebebeb" stroke="#c6c6c6" stroke-width="0.5"/>
<circle cx="189.91" cy="346.29" r="2.2" fill="#ebebeb" stroke="#c6c6c6" stroke-width="0.5"/>
<circle cx="195.11" cy="346.29" r="2.2" fill="#ebebeb" stroke="#c6c6c6" stroke-width="0.5"/>
<circle cx="200.31" cy="346.29" r="2.2" fill="#ebebeb" stroke="#c6c6c6" stroke-width="0.5"/>
<circle cx="205.52" cy="346.29" r="2.2" fill="#ebebeb" stroke="#c6c6c6" stroke-width="0.5"/>
<circle cx="210.72" cy="346.29" r="2.2" fill="#ebebeb" stroke="#c6c6c6" stroke-width="0.5"/>
<circle cx="215.92" cy="346.29" r="2.2" fill="#ebebeb" stroke="#c6c6c6" stroke-width="0.5"/>
<circle cx="221.13" cy="346.29" r="2.2" fill="#ebebeb" stroke="#c6c6c6" stroke-width="0.5"/>
<circle cx="226.33" cy="346.29" r="2.2" fill="#ebebeb" stroke="#c6c6c6" stroke-width="0.5"/>
<circle cx="231.53" cy="346.29" r="2.2" fill="#ebebeb" stroke="#c6c6c6" stroke-width="0.5"/>
<circle cx="236.74" cy="346.29" r="2.2" fill="#ebebeb" stroke="#c6c6c6" stroke-width="0.5"/>
<circle cx="241.94" cy="346.29" r="2.2" fill="#ebebeb" stroke="#c6c6c6" stroke-width="0.5"/>
<circle cx="247.14" cy="346.29" r="2.2" fill="#ebebeb" stroke="#c6c6c6" stroke-width="0.5"/>
<circle cx="252.35" cy="346.29" r="2.2" fill="#ebebeb" stroke="#c6c6c6" stroke-width="0.5"/>
<circle cx="257.55" cy="346.29" r="2.2" fill="#ebebeb" stroke="#c6c6c6" stroke-width="0.5"/>
<circle cx="262.75" cy="346.29" r="2.2" fill="#ebebeb" stroke="#c6c6c6" stroke-width="0.5"/>
<circle cx="267.95" cy="346.29" r="2.2" fill="#ebebeb" stroke="#c6c6c6" stroke-width="0.5"/>
<circle cx="273.16" cy="346.29" r="2.2" fill="#ebebeb" stroke="#c6c6c6" stroke-width="0.5"/>
<circle cx="278.36" cy="346.29" r="2.2" fill="#ebebeb" stroke="#c6c6c6" stroke-width="0.5"/>
<circle cx="283.56" cy="346.29" r="2.2" fill="#ebebeb" stroke="#c6c6c6" stroke-width="0.5"/>
<circle cx="288.77" cy="346.29" r="2.2" fill="#99c1dd" stroke="none" stroke-width="0.5"/>
<circle cx="293.97" cy="346.29" r="2.2" fill="#7daed6" stroke="none" stroke-width="0.5"/>
<circle cx="299.17" cy="346.29" r="2.2" fill="#245895" stroke="none" stroke-width="0.5"/>
<circle cx="304.38" cy="346.29" r="2.2" fill="#a6c7df" stroke="none" stroke-width="0.5"/>
<circle cx="309.58" cy="346.29" r="2.2" fill="#ebebeb" stroke="#c6c6c6" stroke-width="0.5"/>
<circle cx="314.78" cy="346.29" r="2.2" fill="#ebebeb" stroke="#c6c6c6" stroke-width="0.5"/>
<circle cx="319.99" cy="346.29" r="2.2" fill="#ebebeb" stroke="#c6c6c6" stroke-width="0.5"/>
<circle cx="325.19" cy="346.29" r="2.2" fill="#ebebeb" stroke="#c6c6c6" stroke-width="0.5"/>
<circle cx="330.39" cy="346.29" r="2.2" fill="#ebebeb" stroke="#c6c6c6" stroke-width="0.5"/>
<circle cx="335.6" cy="346.29" r="2.2" fill="#ebebeb" stroke="#c6c6c6" stroke-width="0.5"/>
<circle cx="340.8" cy="346.29" r="2.2" fill="#ebebeb" stroke="#c6c6c6" stroke-width="0.5"/>
<circle cx="179.5" cy="351.15" r="2.2" fill="#e3e3e3" stroke="#c6c6c6" stroke-width="0.5"/>
<circle cx="184.7" cy="351.15" r="2.2" fill="#e3e3e3" stroke="#c6c6c6" stroke-width="0.5"/>
<circle cx="189.91" cy="351.15" r="2.2" fill="#e3e3e3" stroke="#c6c6c6" stroke-width="0.5"/>
<circle cx="195.11" cy="351.15" r="2.2" fill="#e3e3e3" stroke="#c6c6c6" stroke-width="0.5"/>
<circle cx="200.31" cy="351.15" r="2.2" fill="#e3e3e3" stroke="#c6c6c6" stroke-width="0.5"/>
<circle cx="205.52" cy="351.15" r="2.2" fill="#e3e3e3" stroke="#c6c6c6" stroke-width="0.5"/>
<circle cx="210.72" cy="351.15" r="2.2" fill="#e3e3e3" stroke="#c6c6c6" stroke-width="0.5"/>
<circle cx="215.92" cy="351.15" r="2.2" fill="#e3e3e3" stroke="#c6c6c6" stroke-width="0.5"/>
<circle cx="221.13" cy="351.15" r="2.2" fill="#e3e3e3" stroke="#c6c6c6" stroke-width="0.5"/>
<circle cx="226.33" cy="351.15" r="2.2" fill="#e3e3e3" stroke="#c6c6c6" stroke-width="0.5"/>
<circle cx="231.53" cy="351.15" r="2.2" fill="#e3e3e3" stroke="#c6c6c6" stroke-width="0.5"/>
<circle cx="236.74" cy="351.15" r="2.2" fill="#e3e3e3" stroke="#c6c6c6" stroke-width="0.5"/>
<circle cx="241.94" cy="351.15" r="2.2" fill="#e3e3e3" stroke="#c6c6c6" stroke-width="0.5"/>
<circle cx="247.14" cy="351.15" r="2.2" fill="#e3e3e3" stroke="#c6c6c6" stroke-width="0.5"/>
<circle cx="252.35" cy="351.15" r="2.2" fill="#e3e3e3" stroke="#c6c6c6" stroke-width="0.5"/>
<circle cx="257.55" cy="351.15" r="2.2" fill="#e3e3e3" stroke="#c6c6c6" stroke-width="0.5"/>
<circle cx="262.75" cy="351.15" r="2.2" fill="#e3e3e3" stroke="#c6c6c6" stroke-width="0.5"/>
<circle cx="267.95" cy="351.15" r="2.2" fill="#e3e3e3" stroke="#c6c6c6" stroke-width="0.5"/>
<circle cx="273.16" cy="351.15" r="2.2" fill="#e3e3e3" stroke="#c6c6c6" stroke-width="0.5"/>
<circle cx="278.36" cy="351.15" r="2.2" fill="#e3e3e3" stroke="#c6c6c6" stroke-width="0.5"/>
<circle cx="283.56" cy="351.15" r="2.2" fill="#e3e3e3" stroke="#c6c6c6" stroke-width="0.5"/>
<circle cx="288.77" cy="351.15" r="2.2" fill="#a6c7df" stroke="none" stroke-width="0.5"/>
<circle cx="293.97" cy="351.15" r="2.2" fill="#b3cee1" stroke="none" stroke-width="0.5"/>
<circle cx="299.17" cy="351.15" r="2.2" fill="#b3cee1" stroke="none" stroke-width="0.5"/>
<circle cx="304.38" cy="351.15" r="2.2" fill="#e3e3e3" stroke="#c6c6c6" stroke-width="0.5"/>
<circle cx="309.58" cy="351.15" r="2.2" fill="#e3e3e3" stroke="#c6c6c6" stroke-width="0.5"/>
<circle cx="314.78" cy="351.15" r="2.2" fill="#e3e3e3" stroke="#c6c6c6" stroke-width="0.5"/>
<circle cx="319.99" cy="351.15" r="2.2" fill="#e3e3e3" stroke="#c6c6c6" stroke-width="0.5"/>
<circle cx="325.19" cy="351.15" r="2.2" fill="#e3e3e3" stroke="#c6c6c6" stroke-width="0.5"/>
<circle cx="330.39" cy="351.15" r="2.2" fill="#e3e3e3" stroke="#c6c6c6" stroke-width="0.5"/>
<circle cx="335.6" cy="351.15" r="2.2" fill="#e3e3e3" stroke="#c6c6c6" stroke-width="0.5"/>
<circle cx="340.8" cy="351.15" r="2.2" fill="#e3e3e3" stroke="#c6c6c6" stroke-width="0.5"/>
<circle cx="179.5" cy="356.02" r="2.2" fill="#e3e3e3" stroke="#c6c6c6" stroke-width="0.5"/>
<circle cx="184.7" cy="356.02" r="2.2" fill="#e3e3e3" stroke="#c6c6c6" stroke-width="0.5"/>
<circle cx="189.91" cy="356.02" r="2.2" fill="#e3e3e3" stroke="#c6c6c6" stroke-width="0.5"/>
<circle cx="195.11" cy="356.02" r="2.2" fill="#e3e3e3" stroke="#c6c6c6" stroke-width="0.5"/>
<circle cx="200.31" cy="356.02" r="2.2" fill="#e3e3e3" stroke="#c6c6c6" stroke-width="0.5"/>
<circle cx="205.52" cy="356.02" r="2.2" fill="#e3e3e3" stroke="#c6c6c6" stroke-width="0.5"/>
<circle cx="210.72" cy="356.02" r="2.2" fill="#e3e3e3" stroke="#c6c6c6" stroke-width="0.5"/>
<circle cx="215.92" cy="356.02" r="2.2" fill="#e3e3e3" stroke="#c6c6c6" stroke-width="0.5"/>
<circle cx="221.13" cy="356.02" r="2.2" fill="#e3e3e3" stroke="#c6c6c6" stroke-width="0.5"/>
<circle cx="226.33" cy="356.02" r="2.2" fill="#e3e3e3" stroke="#c6c6c6" stroke-width="0.5"/>
<circle cx="231.53" cy="356.02" r="2.2" fill="#e3e3e3" stroke="#c6c6c6" stroke-width="0.5"/>
<circle cx="236.74" cy="356.02" r="2.2" fill="#e3e3e3" stroke="#c6c6c6" stroke-width="0.5"/>
<circle cx="241.94" cy="356.02" r="2.2" fill="#e3e3e3" stroke="#c6c6c6" stroke-width="0.5"/>
<circle cx="247.14" cy="356.02" r="2.2" fill="#e3e3e3" stroke="#c6c6c6" stroke-width="0.5"/>
<circle cx="252.35" cy="356.02" r="2.2" fill="#e3e3e3" stroke="#c6c6c6" stroke-width="0.5"/>
<circle cx="257.55" cy="356.02" r="2.2" fill="#e3e3e3" stroke="#c6c6c6" stroke-width="0.5"/>
<circle cx="262.75" cy="356.02" r="2.2" fill="#e3e3e3" stroke="#c6c6c6" stroke-width="0.5"/>
<circle cx="267.95" cy="356.02" r="2.2" fill="#e3e3e3" stroke="#c6c6c6" stroke-width="0.5"/>
<circle cx="273.16" cy="356.02" r="2.2" fill="#e3e3e3" stroke="#c6c6c6" stroke-width="0.5"/>
<circle cx="278.36" cy="356.02" r="2.2" fill="#e3e3e3" stroke="#c6c6c6" stroke-width="0.5"/>
<circle cx="283.56" cy="356.02" r="2.2" fill="#e3e3e3" stroke="#c6c6c6" stroke-width="0.5"/>
<circle cx="288.77" cy="356.02" r="2.2" fill="#e3e3e3" stroke="#c6c6c6" stroke-width="0.5"/>
<circle cx="293.97" cy="356.02" r="2.2" fill="#ebebeb" stroke="#c6c6c6" stroke-width="0.5"/>
<circle cx="299.17" cy="356.02" r="2.2" fill="#e3e3e3" stroke="#c6c6c6" stroke-width="0.5"/>
<circle cx="304.38" cy="356.02" r="2.2" fill="#ccdbe6" stroke="none" stroke-width="0.5"/>
<circle cx="309.58" cy="356.02" r="2.2" fill="#e3e3e3" stroke="#c6c6c6" stroke-width="0.5"/>
<circle cx="314.78" cy="356.02" r="2.2" fill="#e3e3e3" stroke="#c6c6c6" stroke-width="0.5"/>
<circle cx="319.99" cy="356.02" r="2.2" fill="#e3e3e3" stroke="#c6c6c6" stroke-width="0.5"/>
<circle cx="325.19" cy="356.02" r="2.2" fill="#e3e3e3" stroke="#c6c6c6" stroke-width="0.5"/>
<circle cx="330.39" cy="356.02" r="2.2" fill="#e3e3e3" stroke="#c6c6c6" stroke-width="0.5"/>
<circle cx="335.6" cy="356.02" r="2.2" fill="#e3e3e3" stroke="#c6c6c6" stroke-width="0.5"/>
<circle cx="340.8" cy="356.02" r="2.2" fill="#e3e3e3" stroke="#c6c6c6" stroke-width="0.5"/>
<circle cx="179.5" cy="360.88" r="2.2" fill="#e3e3e3" stroke="#c6c6c6" stroke-width="0.5"/>
<circle cx="184.7" cy="360.88" r="2.2" fill="#e3e3e3" stroke="#c6c6c6" stroke-width="0.5"/>
<circle cx="189.91" cy="360.88" r="2.2" fill="#e3e3e3" stroke="#c6c6c6" stroke-width="0.5"/>
<circle cx="195.11" cy="360.88" r="2.2" fill="#e3e3e3" stroke="#c6c6c6" stroke-width="0.5"/>
<circle cx="200.31" cy="360.88" r="2.2" fill="#e3e3e3" stroke="#c6c6c6" stroke-width="0.5"/>
<circle cx="205.52" cy="360.88" r="2.2" fill="#e3e3e3" stroke="#c6c6c6" stroke-width="0.5"/>
<circle cx="210.72" cy="360.88" r="2.2" fill="#e3e3e3" stroke="#c6c6c6" stroke-width="0.5"/>
<circle cx="215.92" cy="360.88" r="2.2" fill="#e3e3e3" stroke="#c6c6c6" stroke-width="0.5"/>
<circle cx="221.13" cy="360.88" r="2.2" fill="#e3e3e3" stroke="#c6c6c6" stroke-width="0.5"/>
<circle cx="226.33" cy="360.88" r="2.2" fill="#e3e3e3" stroke="#c6c6c6" stroke-width="0.5"/>
<circle cx="231.53" cy="360.88" r="2.2" fill="#e3e3e3" stroke="#c6c6c6" stroke-width="0.5"/>
<circle cx="236.74" cy="360.88" r="2.2" fill="#e3e3e3" stroke="#c6c6c6" stroke-width="0.5"/>
<circle cx="241.94" cy="360.88" r="2.2" fill="#e3e3e3" stroke="#c6c6c6" stroke-width="0.5"/>
<circle cx="247.14" cy="360.88" r="2.2" fill="#e3e3e3" stroke="#c6c6c6" stroke-width="0.5"/>
<circle cx="252.35" cy="360.88" r="2.2" fill="#e3e3e3" stroke="#c6c6c6" stroke-width="0.5"/>
<circle cx="257.55" cy="360.88" r="2.2" fill="#e3e3e3" stroke="#c6c6c6" stroke-width="0.5"/>
<circle cx="262.75" cy="360.88" r="2.2" fill="#e3e3e3" stroke="#c6c6c6" stroke-width="0.5"/>
<circle cx="267.95" cy="360.88" r="2.2" fill="#e3e3e3" stroke="#c6c6c6" stroke-width="0.5"/>
<circle cx="273.16" cy="360.88" r="2.2" fill="#e3e3e3" stroke="#c6c6c6" stroke-width="0.5"/>
<circle cx="278.36" cy="360.88" r="2.2" fill="#e3e3e3" stroke="#c6c6c6" stroke-width="0.5"/>
<circle cx="283.56" cy="360.88" r="2.2" fill="#e3e3e3" stroke="#c6c6c6" stroke-width="0.5"/>
<circle cx="288.77" cy="360.88" r="2.2" fill="#e3e3e3" stroke="#c6c6c6" stroke-width="0.5"/>
<circle cx="293.97" cy="360.88" r="2.2" fill="#ebebeb" stroke="#c6c6c6" stroke-width="0.5"/>
<circle cx="299.17" cy="360.88" r="2.2" fill="#b3cee1" stroke="none" stroke-width="0.5"/>
<circle cx="304.38" cy="360.88" r="2.2" fill="#e3e3e3" stroke="#c6c6c6" stroke-width="0.5"/>
<circle cx="309.58" cy="360.88" r="2.2" fill="#e3e3e3" stroke="#c6c6c6" stroke-width="0.5"/>
<circle cx="314.78" cy="360.88" r="2.2" fill="#e3e3e3" stroke="#c6c6c6" stroke-width="0.5"/>
<circle cx="319.99" cy="360.88" r="2.2" fill="#e3e3e3" stroke="#c6c6c6" stroke-width="0.5"/>
<circle cx="325.19" cy="360.88" r="2.2" fill="#e3e3e3" stroke="#c6c6c6" stroke-width="0.5"/>
<circle cx="330.39" cy="360.88" r="2.2" fill="#e3e3e3" stroke="#c6c6c6" stroke-width="0.5"/>
<circle cx="335.6" cy="360.88" r="2.2" fill="#e3e3e3" stroke="#c6c6c6" stroke-width="0.5"/>
<circle cx="340.8" cy="360.88" r="2.2" fill="#e3e3e3" stroke="#c6c6c6" stroke-width="0.5"/>
<circle cx="179.5" cy="365.74" r="2.2" fill="#e3e3e3" stroke="#c6c6c6" stroke-width="0.5"/>
<circle cx="184.7" cy="365.74" r="2.2" fill="#e3e3e3" stroke="#c6c6c6" stroke-width="0.5"/>
<circle cx="189.91" cy="365.74" r="2.2" fill="#e3e3e3" stroke="#c6c6c6" stroke-width="0.5"/>
<circle cx="195.11" cy="365.74" r="2.2" fill="#e3e3e3" stroke="#c6c6c6" stroke-width="0.5"/>
<circle cx="200.31" cy="365.74" r="2.2" fill="#e3e3e3" stroke="#c6c6c6" stroke-width="0.5"/>
<circle cx="205.52" cy="365.74" r="2.2" fill="#e3e3e3" stroke="#c6c6c6" stroke-width="0.5"/>
<circle cx="210.72" cy="365.74" r="2.2" fill="#e3e3e3" stroke="#c6c6c6" stroke-width="0.5"/>
<circle cx="215.92" cy="365.74" r="2.2" fill="#e3e3e3" stroke="#c6c6c6" stroke-width="0.5"/>
<circle cx="221.13" cy="365.74" r="2.2" fill="#e3e3e3" stroke="#c6c6c6" stroke-width="0.5"/>
<circle cx="226.33" cy="365.74" r="2.2" fill="#e3e3e3" stroke="#c6c6c6" stroke-width="0.5"/>
<circle cx="231.53" cy="365.74" r="2.2" fill="#e3e3e3" stroke="#c6c6c6" stroke-width="0.5"/>
<circle cx="236.74" cy="365.74" r="2.2" fill="#e3e3e3" stroke="#c6c6c6" stroke-width="0.5"/>
<circle cx="241.94" cy="365.74" r="2.2" fill="#e3e3e3" stroke="#c6c6c6" stroke-width="0.5"/>
<circle cx="247.14" cy="365.74" r="2.2" fill="#e3e3e3" stroke="#c6c6c6" stroke-width="0.5"/>
<circle cx="252.35" cy="365.74" r="2.2" fill="#e3e3e3" stroke="#c6c6c6" stroke-width="0.5"/>
<circle cx="257.55" cy="365.74" r="2.2" fill="#e3e3e3" stroke="#c6c6c6" stroke-width="0.5"/>
<circle cx="262.75" cy="365.74" r="2.2" fill="#e3e3e3" stroke="#c6c6c6" stroke-width="0.5"/>
<circle cx="267.95" cy="365.74" r="2.2" fill="#e3e3e3" stroke="#c6c6c6" stroke-width="0.5"/>
<circle cx="273.16" cy="365.74" r="2.2" fill="#e3e3e3" stroke="#c6c6c6" stroke-width="0.5"/>
<circle cx="278.36" cy="365.74" r="2.2" fill="#e3e3e3" stroke="#c6c6c6" stroke-width="0.5"/>
<circle cx="283.56" cy="365.74" r="2.2" fill="#e3e3e3" stroke="#c6c6c6" stroke-width="0.5"/>
<circle cx="288.77" cy="365.74" r="2.2" fill="#e3e3e3" stroke="#c6c6c6" stroke-width="0.5"/>
<circle cx="293.97" cy="365.74" r="2.2" fill="#ebebeb" stroke="#c6c6c6" stroke-width="0.5"/>
<circle cx="299.17" cy="365.74" r="2.2" fill="#e3e3e3" stroke="#c6c6c6" stroke-width="0.5"/>
<circle cx="304.38" cy="365.74" r="2.2" fill="#e3e3e3" stroke="#c6c6c6" stroke-width="0.5"/>
<circle cx="309.58" cy="365.74" r="2.2" fill="#e3e3e3" stroke="#c6c6c6" stroke-width="0.5"/>
<circle cx="314.78" cy="365.74" r="2.2" fill="#e3e3e3" stroke="#c6c6c6" stroke-width="0.5"/>
<circle cx="319.99" cy="365.74" r="2.2" fill="#e3e3e3" stroke="#c6c6c6" stroke-width="0.5"/>
<circle cx="325.19" cy="365.74" r="2.2" fill="#e3e3e3" stroke="#c6c6c6" stroke-width="0.5"/>
<circle cx="330.39" cy="365.74" r="2.2" fill="#e3e3e3" stroke="#c6c6c6" stroke-width="0.5"/>
<circle cx="335.6" cy="365.74" r="2.2" fill="#e3e3e3" stroke="#c6c6c6" stroke-width="0.5"/>
<circle cx="340.8" cy="365.74" r="2.2" fill="#e3e3e3" stroke="#c6c6c6" stroke-width="0.5"/>
<circle cx="179.5" cy="370.6" r="2.2" fill="#e3e3e3" stroke="#c6c6c6" stroke-width="0.5"/>
<circle cx="184.7" cy="370.6" r="2.2" fill="#e3e3e3" stroke="#c6c6c6" stroke-width="0.5"/>
<circle cx="189.91" cy="370.6" r="2.2" fill="#e3e3e3" stroke="#c6c6c6" stroke-width="0.5"/>
<circle cx="195.11" cy="370.6" r="2.2" fill="#e3e3e3" stroke="#c6c6c6" stroke-width="0.5"/>
<circle cx="200.31" cy="370.6" r="2.2" fill="#e3e3e3" stroke="#c6c6c6" stroke-width="0.5"/>
<circle cx="205.52" cy="370.6" r="2.2" fill="#e3e3e3" stroke="#c6c6c6" stroke-width="0.5"/>
<circle cx="210.72" cy="370.6" r="2.2" fill="#e3e3e3" stroke="#c6c6c6" stroke-width="0.5"/>
<circle cx="215.92" cy="370.6" r="2.2" fill="#e3e3e3" stroke="#c6c6c6" stroke-width="0.5"/>
<circle cx="221.13" cy="370.6" r="2.2" fill="#e3e3e3" stroke="#c6c6c6" stroke-width="0.5"/>
<circle cx="226.33" cy="370.6" r="2.2" fill="#e3e3e3" stroke="#c6c6c6" stroke-width="0.5"/>
<circle cx="231.53" cy="370.6" r="2.2" fill="#e3e3e3" stroke="#c6c6c6" stroke-width="0.5"/>
<circle cx="236.74" cy="370.6" r="2.2" fill="#e3e3e3" stroke="#c6c6c6" stroke-width="0.5"/>
<circle cx="241.94" cy="370.6" r="2.2" fill="#e3e3e3" stroke="#c6c6c6" stroke-width="0.5"/>
<circle cx="247.14" cy="370.6" r="2.2" fill="#e3e3e3" stroke="#c6c6c6" stroke-width="0.5"/>
<circle cx="252.35" cy="370.6" r="2.2" fill="#e3e3e3" stroke="#c6c6c6" stroke-width="0.5"/>
<circle cx="257.55" cy="370.6" r="2.2" fill="#e3e3e3" stroke="#c6c6c6" stroke-width="0.5"/>
<circle cx="262.75" cy="370.6" r="2.2" fill="#e3e3e3" stroke="#c6c6c6" stroke-width="0.5"/>
<circle cx="267.95" cy="370.6" r="2.2" fill="#e3e3e3" stroke="#c6c6c6" stroke-width="0.5"/>
<circle cx="273.16" cy="370.6" r="2.2" fill="#e3e3e3" stroke="#c6c6c6" stroke-width="0.5"/>
<circle cx="278.36" cy="370.6" r="2.2" fill="#e3e3e3" stroke="#c6c6c6" stroke-width="0.5"/>
<circle cx="283.56" cy="370.6" r="2.2" fill="#e3e3e3" stroke="#c6c6c6" stroke-width="0.5"/>
<circle cx="288.77" cy="370.6" r="2.2" fill="#e3e3e3" stroke="#c6c6c6" stroke-width="0.5"/>
<circle cx="293.97" cy="370.6" r="2.2" fill="#ebebeb" stroke="#c6c6c6" stroke-width="0.5"/>
<circle cx="299.17" cy="370.6" r="2.2" fill="#e3e3e3" stroke="#c6c6c6" stroke-width="0.5"/>
<circle cx="304.38" cy="370.6" r="2.2" fill="#e3e3e3" stroke="#c6c6c6" stroke-width="0.5"/>
<circle cx="309.58" cy="370.6" r="2.2" fill="#e3e3e3" stroke="#c6c6c6" stroke-width="0.5"/>
<circle cx="314.78" cy="370.6" r="2.2" fill="#e3e3e3" stroke="#c6c6c6" stroke-width="0.5"/>
<circle cx="319.99" cy="370.6" r="2.2" fill="#e3e3e3" stroke="#c6c6c6" stroke-width="0.5"/>
<circle cx="325.19" cy="370.6" r="2.2" fill="#e3e3e3" stroke="#c6c6c6" stroke-width="0.5"/>
<circle cx="330.39" cy="370.6" r="2.2" fill="#e3e3e3" stroke="#c6c6c6" stroke-width="0.5"/>
<circle cx="335.6" cy="370.6" r="2.2" fill="#e3e3e3" stroke="#c6c6c6" stroke-width="0.5"/>
<circle cx="340.8" cy="370.6" r="2.2" fill="#e3e3e3" stroke="#c6c6c6" stroke-width="0.5"/>
<polygon points="294.1,343.5 294.94,345.74 297.33,345.85 295.46,347.34 296.1,349.65 294.1,348.33 292.1,349.65 292.74,347.34 290.87,345.85 293.26,345.74" fill="#ee2222"/>
<rect x="171.4" y="212.5" width="177.4" height="164.9" fill="none" stroke="#555" stroke-width="0.9"/>
<rect x="175" y="361.8" width="69" height="12.3" fill="#ffffff" stroke="#d8d8d8" stroke-width="0.6" rx="1.5" fill-opacity="0.9"/>
<polygon points="185.5,365 186.24,366.98 188.35,367.07 186.7,368.39 187.26,370.43 185.5,369.26 183.74,370.43 184.3,368.39 182.65,367.07 184.76,366.98" fill="#ee2222"/>
<text x="199.3" y="370.54" font-size="7.6" text-anchor="start" fill="#222">contact point</text>
<line x1="168.9" y1="372.5" x2="171.4" y2="372.5" stroke="#555" stroke-width="0.7"/>
<text x="167.7" y="375.38" font-size="8" text-anchor="end" fill="#222">0</text>
<line x1="168.9" y1="351.4" x2="171.4" y2="351.4" stroke="#555" stroke-width="0.7"/>
<text x="167.7" y="354.28" font-size="8" text-anchor="end" fill="#222">20</text>
<line x1="168.9" y1="330.3" x2="171.4" y2="330.3" stroke="#555" stroke-width="0.7"/>
<text x="167.7" y="333.18" font-size="8" text-anchor="end" fill="#222">40</text>
<line x1="168.9" y1="309.2" x2="171.4" y2="309.2" stroke="#555" stroke-width="0.7"/>
<text x="167.7" y="312.08" font-size="8" text-anchor="end" fill="#222">60</text>
<line x1="168.9" y1="288.1" x2="171.4" y2="288.1" stroke="#555" stroke-width="0.7"/>
<text x="167.7" y="290.98" font-size="8" text-anchor="end" fill="#222">80</text>
<line x1="168.9" y1="267" x2="171.4" y2="267" stroke="#555" stroke-width="0.7"/>
<text x="167.7" y="269.88" font-size="8" text-anchor="end" fill="#222">100</text>
<line x1="168.9" y1="245.9" x2="171.4" y2="245.9" stroke="#555" stroke-width="0.7"/>
<text x="167.7" y="248.78" font-size="8" text-anchor="end" fill="#222">120</text>
<line x1="168.9" y1="224.8" x2="171.4" y2="224.8" stroke="#555" stroke-width="0.7"/>
<text x="167.7" y="227.68" font-size="8" text-anchor="end" fill="#222">140</text>
<line x1="199.5" y1="377.4" x2="199.5" y2="379.9" stroke="#555" stroke-width="0.7"/>
<text x="199.5" y="387.78" font-size="8" text-anchor="middle" fill="#222">0.5</text>
<line x1="227.75" y1="377.4" x2="227.75" y2="379.9" stroke="#555" stroke-width="0.7"/>
<text x="227.75" y="387.78" font-size="8" text-anchor="middle" fill="#222">1.0</text>
<line x1="256" y1="377.4" x2="256" y2="379.9" stroke="#555" stroke-width="0.7"/>
<text x="256" y="387.78" font-size="8" text-anchor="middle" fill="#222">1.5</text>
<line x1="284.25" y1="377.4" x2="284.25" y2="379.9" stroke="#555" stroke-width="0.7"/>
<text x="284.25" y="387.78" font-size="8" text-anchor="middle" fill="#222">2.0</text>
<line x1="312.5" y1="377.4" x2="312.5" y2="379.9" stroke="#555" stroke-width="0.7"/>
<text x="312.5" y="387.78" font-size="8" text-anchor="middle" fill="#222">2.5</text>
<line x1="340.75" y1="377.4" x2="340.75" y2="379.9" stroke="#555" stroke-width="0.7"/>
<text x="340.75" y="387.78" font-size="8" text-anchor="middle" fill="#222">3.0</text>
<text x="149.6" y="297.74" font-size="7.6" text-anchor="middle" fill="#222" transform="rotate(-90 149.6 295)">z [mm]</text>
<text x="260" y="397.74" font-size="7.6" text-anchor="middle" fill="#222">&#952; [rad]</text>
<path d="M360 377.4 L360 220.1 L364.25 212.3 L368.5 220.1 L368.5 377.4 Z" stroke="#888" stroke-width="0.6" fill="url(#gC)"/>
<line x1="368.5" y1="378" x2="370.8" y2="378" stroke="#555" stroke-width="0.7"/>
<text x="372.3" y="380.88" font-size="8" text-anchor="start" fill="#222">0</text>
<line x1="368.5" y1="355.5" x2="370.8" y2="355.5" stroke="#555" stroke-width="0.7"/>
<text x="372.3" y="358.38" font-size="8" text-anchor="start" fill="#222">2</text>
<line x1="368.5" y1="333" x2="370.8" y2="333" stroke="#555" stroke-width="0.7"/>
<text x="372.3" y="335.88" font-size="8" text-anchor="start" fill="#222">4</text>
<line x1="368.5" y1="310.5" x2="370.8" y2="310.5" stroke="#555" stroke-width="0.7"/>
<text x="372.3" y="313.38" font-size="8" text-anchor="start" fill="#222">6</text>
<line x1="368.5" y1="288" x2="370.8" y2="288" stroke="#555" stroke-width="0.7"/>
<text x="372.3" y="290.88" font-size="8" text-anchor="start" fill="#222">8</text>
<line x1="368.5" y1="265.5" x2="370.8" y2="265.5" stroke="#555" stroke-width="0.7"/>
<text x="372.3" y="268.38" font-size="8" text-anchor="start" fill="#222">10</text>
<line x1="368.5" y1="243" x2="370.8" y2="243" stroke="#555" stroke-width="0.7"/>
<text x="372.3" y="245.88" font-size="8" text-anchor="start" fill="#222">12</text>
<text x="386.3" y="299.45" font-size="6.8" text-anchor="middle" fill="#222" transform="rotate(-90 386.3 297)">Inst. activity [Hz]</text>
<line x1="455.2" y1="212.2" x2="455.2" y2="248.5" stroke="#8a8a8a" stroke-width="0.9"/>
<line x1="452.7" y1="229.5" x2="455.2" y2="229.5" stroke="#8a8a8a" stroke-width="0.7"/>
<text x="451.5" y="232.38" font-size="8" text-anchor="end" fill="#222">1</text>
<line x1="452.7" y1="247.1" x2="455.2" y2="247.1" stroke="#8a8a8a" stroke-width="0.7"/>
<text x="451.5" y="249.98" font-size="8" text-anchor="end" fill="#222">0</text>
<text x="440.3" y="233.74" font-size="7.6" text-anchor="middle" fill="#222" transform="rotate(-90 440.3 231)">F [N]</text>
<path d="M455.8 246.67 L456.03 246.78 L456.25 246.16 L456.48 247.29 L456.71 246.26 L456.94 246.55 L457.16 246.95 L457.39 246.43 L457.62 246.48 L457.84 246.53 L458.07 246.97 L458.3 247.49 L458.52 246.81 L458.75 246.46 L458.98 246.96 L459.2 246.62 L459.43 246.79 L459.66 247.15 L459.89 246.58 L460.11 246.8 L460.34 246.54 L460.57 246.75 L460.79 246.88 L461.02 246.5 L461.25 246.7 L461.48 246.73 L461.7 246.61 L461.93 246.44 L462.16 246.37 L462.38 246.75 L462.61 246.72 L462.84 247.47 L463.06 246.07 L463.29 246.83 L463.52 246.91 L463.75 247.21 L463.97 246.95 L464.2 246.55 L464.43 246.8 L464.65 246.96 L464.88 246.71 L465.11 247.03 L465.33 246.24 L465.56 247.32 L465.79 247.24 L466.01 246.7 L466.24 246.98 L466.47 246.81 L466.7 246.55 L466.92 246.83 L467.15 247.1 L467.38 246.69 L467.6 246.69 L467.83 246.78 L468.06 246.93 L468.29 247.18 L468.51 246.61 L468.74 246.95 L468.97 246.86 L469.19 246.24 L469.42 246.67 L469.65 246.76 L469.87 246.79 L470.1 246.9 L470.33 246.19 L470.56 246.81 L470.78 246.6 L471.01 246.37 L471.24 246.96 L471.46 247.02 L471.69 246.6 L471.92 247.05 L472.14 246.69 L472.37 246.82 L472.6 246.47 L472.82 247.28 L473.05 246 L473.28 246.77 L473.51 247.01 L473.73 246.19 L473.96 246.74 L474.19 246.78 L474.41 247.05 L474.64 247.17 L474.87 246.68 L475.1 246.38 L475.32 247.21 L475.55 247.17 L475.78 246.66 L476 246.91 L476.23 246.91 L476.46 246.97 L476.68 246.86 L476.91 247.22 L477.14 246.28 L477.37 247.11 L477.59 246.91 L477.82 246.73 L478.05 247.15 L478.27 246.1 L478.5 247.15 L478.73 246.92 L478.95 246.46 L479.18 246.93 L479.41 246.71 L479.63 247.58 L479.86 247.35 L480.09 246.93 L480.32 246.58 L480.54 246.62 L480.77 246.7 L481 246.63 L481.22 246.53 L481.45 246.62 L481.68 246.72 L481.91 246.64 L482.13 246.59 L482.36 246.52 L482.59 247.57 L482.81 246.36 L483.04 246.49 L483.27 246.93 L483.49 246.7 L483.72 246.93 L483.95 247.04 L484.18 247.18 L484.4 247.03 L484.63 246.5 L484.86 247.13 L485.08 246.27 L485.31 246.77 L485.54 246.65 L485.76 246.48 L485.99 246.98 L486.22 246.75 L486.44 247.11 L486.67 246.36 L486.9 247.05 L487.13 246.95 L487.35 246.84 L487.58 246.37 L487.81 246.72 L488.03 246.34 L488.26 246.18 L488.49 247.78 L488.72 247.09 L488.94 247.34 L489.17 246.67 L489.4 247.01 L489.62 247.01 L489.85 246.98 L490.08 246.8 L490.3 246.73 L490.53 246.18 L490.76 246.98 L490.99 246.93 L491.21 247.14 L491.44 246.72 L491.67 247.32 L491.89 246.67 L492.12 246.42 L492.35 247.08 L492.57 246.66 L492.8 246.42 L493.03 246.84 L493.25 247.03 L493.48 246.87 L493.71 246.95 L493.94 248.03 L494.16 247.05 L494.39 247.26 L494.62 246.2 L494.84 246.91 L495.07 247.03 L495.3 246.69 L495.53 246.54 L495.75 246.92 L495.98 246.71 L496.21 246.62 L496.43 247.14 L496.66 247.2 L496.89 246.89 L497.11 246.66 L497.34 246.95 L497.57 247.05 L497.8 246.99 L498.02 246.36 L498.25 246.7 L498.48 246.91 L498.7 246.99 L498.93 247.09 L499.16 247.03 L499.38 246.46 L499.61 246.59 L499.84 246.43 L500.06 247.34 L500.29 246.85 L500.52 246.97 L500.75 247.11 L500.97 246.7 L501.2 246.45 L501.43 246.67 L501.65 246.76 L501.88 244.59 L502.11 238.38 L502.34 232.18 L502.56 225.99 L502.79 219.79 L503.02 214.78 L503.24 216.17 L503.47 217.69 L503.7 221.03 L503.92 221.51 L504.15 219.15 L504.38 218.8 L504.61 217.98 L504.83 219.51 L505.06 220.12 L505.29 220.68 L505.51 221.67 L505.74 221.39 L505.97 220.64 L506.19 220.93 L506.42 221.21 L506.65 220.92 L506.88 221.56 L507.1 223.07 L507.33 221.95 L507.56 221.32 L507.78 221.67 L508.01 221.08 L508.24 222.31 L508.46 222.13 L508.69 222.62 L508.92 222.53 L509.15 222.22 L509.37 222.44 L509.6 222.1 L509.83 221.76 L510.05 221.67 L510.28 222 L510.51 221.1 L510.73 223.02 L510.96 221.41 L511.19 222.15 L511.42 221.61 L511.64 221.32 L511.87 222.22 L512.1 222.15 L512.32 222.21 L512.55 222.52 L512.78 222 L513 222.46 L513.23 222.53 L513.46 222.17 L513.69 222.2 L513.91 222.58 L514.14 222.36 L514.37 222.41 L514.59 221.28 L514.82 222.38 L515.05 222.54 L515.27 222.32 L515.5 222.54 L515.73 223.25 L515.96 222.43 L516.18 222.7 L516.41 222.02 L516.64 222.03 L516.86 222.21 L517.09 221.97 L517.32 222.43 L517.54 222.02 L517.77 222.37 L518 221.81 L518.23 221.72 L518.45 222.16 L518.68 222 L518.91 222.19 L519.13 222.21 L519.36 222.34 L519.59 222.97 L519.81 223.12 L520.04 222.84 L520.27 222.36 L520.5 223.2 L520.72 221.84 L520.95 221.63 L521.18 222.67 L521.4 222.55 L521.63 222.5 L521.86 222.58 L522.08 221.83 L522.31 222.06 L522.54 223.14 L522.76 223.05 L522.99 222.27 L523.22 223.47 L523.45 222.13 L523.67 222.36 L523.9 222.75 L524.13 222.09 L524.35 222.42 L524.58 222.56 L524.81 222.47 L525.04 223.05 L525.26 222.93 L525.49 222.17 L525.72 222.37 L525.94 222.76 L526.17 222.66 L526.4 222.34 L526.62 222.89 L526.85 223.07 L527.08 222.43 L527.31 223.07 L527.53 222 L527.76 222.01 L527.99 222.96 L528.21 222.37 L528.44 222.3 L528.67 222.64 L528.89 222.46 L529.12 222.92 L529.35 222.12 L529.58 222.62 L529.8 224.21 L530.03 222.84 L530.26 221.94 L530.48 223.08 L530.71 223.06 L530.94 223.44 L531.16 222.89 L531.39 222.54 L531.62 223.47 L531.85 223.17 L532.07 222.04 L532.3 223.2 L532.53 222.76 L532.75 223.37 L532.98 222.71 L533.21 223.24 L533.43 222.98 L533.66 223.16 L533.89 222.89 L534.12 222.72 L534.34 222.95 L534.57 223.21 L534.8 223.12 L535.02 223.66 L535.25 223.13 L535.48 223.23 L535.7 223.9 L535.93 222.99 L536.16 223.21 L536.38 222.7 L536.61 223 L536.84 223.73 L537.07 223.13 L537.29 223.65 L537.52 222.53 L537.75 222.38 L537.97 223.16 L538.2 222.41 L538.43 224.23 L538.65 223.6 L538.88 222.48 L539.11 222.98 L539.34 222.8 L539.56 223.25 L539.79 223.04 L540.02 223.5 L540.24 223.74 L540.47 222.99 L540.7 222.57 L540.93 223.36 L541.15 223.03 L541.38 223.63 L541.61 223.05 L541.83 223.5 L542.06 223.29 L542.29 223.06 L542.51 222.94 L542.74 223.47 L542.97 224.3 L543.2 223.54 L543.42 223.11 L543.65 223.5 L543.88 223.24 L544.1 222.62 L544.33 223.34 L544.56 223.9 L544.78 223.07 L545.01 222.71 L545.24 223.44 L545.47 224.05 L545.69 223.66 L545.92 223.7 L546.15 224.29 L546.37 223.99 L546.6 223.58 L546.83 223.17 L547.05 223.34 L547.28 223.23 L547.51 223.67 L547.74 222.9 L547.96 224 L548.19 223.37 L548.42 223.13 L548.64 223.69 L548.87 222.39 L549.1 222.96 L549.32 223.04 L549.55 223.71 L549.78 223.13 L550 224 L550.23 223.16 L550.46 223.61 L550.69 223.06 L550.91 223.9 L551.14 223.28 L551.37 223.63 L551.59 223.18 L551.82 222.92 L552.05 223.31 L552.28 223.92 L552.5 222.97 L552.73 222.75 L552.96 223.3 L553.18 223.8 L553.41 222.98 L553.64 223.22 L553.86 223.55 L554.09 223.32 L554.32 223.61 L554.55 224.02 L554.77 223.5 L555 223.47 L555.23 223.85 L555.45 223.48 L555.68 223.09 L555.91 223.07 L556.13 223.03 L556.36 224.4 L556.59 223.52 L556.82 223.81 L557.04 223.88 L557.27 223.14 L557.5 223.85 L557.72 223.32 L557.95 222.64 L558.18 223.49 L558.4 223.11 L558.63 223.45 L558.86 223.76 L559.09 224.64 L559.31 223.4 L559.54 223.55 L559.77 223.8 L559.99 223.72 L560.22 223.57 L560.45 223.16 L560.67 223.23 L560.9 223.58 L561.13 223.15 L561.36 223.38 L561.58 223.12 L561.81 224.2 L562.04 223.02 L562.26 224.56 L562.49 223.45 L562.72 223.24 L562.94 223.19 L563.17 224.08 L563.4 224.2 L563.62 223.36 L563.85 223.9 L564.08 223.69 L564.31 223.65 L564.53 223.84 L564.76 224.12 L564.99 222.92 L565.21 222.78 L565.44 223.89 L565.67 223.77 L565.89 228.28 L566.12 233.51 L566.35 238.73 L566.58 243.95 L566.8 247.01 L567.03 246.29 L567.26 246.5 L567.48 247.26 L567.71 246.41 L567.94 246.91 L568.17 246.56 L568.39 246.68 L568.62 246.39 L568.85 247.16 L569.07 246.23 L569.3 246.44 L569.53 246.53 L569.75 247.15 L569.98 246.89 L570.21 247 L570.44 246.79 L570.66 246.87 L570.89 246.95 L571.12 247.26 L571.34 246.87 L571.57 246.36 L571.8 247.14 L572.02 246.83 L572.25 246.47 L572.48 246.75 L572.71 246.51 L572.93 247.43 L573.16 246.7 L573.39 246.2 L573.61 246.89 L573.84 246.55 L574.07 247.19 L574.29 246.84 L574.52 246.27 L574.75 246.65 L574.98 246.47 L575.2 246.57 L575.43 246.61 L575.66 246.2 L575.88 246.86 L576.11 246.54 L576.34 246.53 L576.56 247.03 L576.79 247.37 L577.02 246.61 L577.25 247.34 L577.47 246.18 L577.7 246.97 L577.93 246.63 L578.15 246.78 L578.38 246.5 L578.61 246.62 L578.83 246.71 L579.06 246.7 L579.29 246.92 L579.51 247.5 L579.74 246.61 L579.97 246.75 L580.2 246.28 L580.42 246.04 L580.65 247.22 L580.88 246.4 L581.1 246.58 L581.33 246.81 L581.56 247.07 L581.79 246.89 L582.01 247.36 L582.24 246.75 L582.47 246.25 L582.69 246.84 L582.92 246.84 L583.15 246.55 L583.37 246.7 L583.6 246.62 L583.83 247.32 L584.06 246.62 L584.28 246.38 L584.51 246.88 L584.74 246.25 L584.96 246.93 L585.19 246.92 L585.42 246.55 L585.64 246.63 L585.87 246.62 L586.1 247.28 L586.33 246.92 L586.55 246.44 L586.78 246.43 L587.01 246.78 L587.23 246.8 L587.46 246.57 L587.69 246.89 L587.91 246.74 L588.14 247.12 L588.37 246.93 L588.6 246.77 L588.82 246.84 L589.05 246.54 L589.28 247.07 L589.5 246.91 L589.73 246.67 L589.96 246.84 L590.18 246.64 L590.41 247.55 L590.64 246.66 L590.87 246.96 L591.09 246.91 L591.32 246.56 L591.55 246.8 L591.77 246.7 L592 246.87 L592.23 246.88 L592.45 247.03 L592.68 247.03 L592.91 246.68 L593.13 246.64 L593.36 246.62 L593.59 246.54 L593.82 246.28 L594.04 246.98 L594.27 246.78 L594.5 246.74 L594.72 246.3 L594.95 246.35 L595.18 246.05 L595.4 246.77 L595.63 247 L595.86 246.98 L596.09 246.78 L596.31 246.48 L596.54 246.8 L596.77 246.8 L596.99 247.01 L597.22 247.03 L597.45 246.72 L597.68 246.79 L597.9 247.01 L598.13 246.94 L598.36 246.75 L598.58 246.15 L598.81 246.6 L599.04 247.05 L599.26 246.84 L599.49 247.09 L599.72 246.7 L599.95 246.82 L600.17 247.04 L600.4 247.01 L600.63 246.92 L600.85 247.13 L601.08 247.2 L601.31 247.22 L601.53 246.3 L601.76 246.65 L601.99 246.7 L602.22 246.69 L602.44 246.31 L602.67 247.19 L602.9 246.5 L603.12 246.83 L603.35 246.08 L603.58 246.65 L603.8 246.72 L604.03 246.52 L604.26 247.02 L604.49 247.51 L604.71 246.54 L604.94 246.54 L605.17 247.33 L605.39 246.97 L605.62 246.71 L605.85 246.42 L606.07 247.02 L606.3 246.86 L606.53 247.27 L606.76 246.54 L606.98 246.75 L607.21 246.71 L607.44 246.73 L607.66 247.12 L607.89 247.05 L608.12 246.61 L608.34 246.77 L608.57 246.73 L608.8 247.07 L609.03 246.75 L609.25 246.46 L609.48 246.7 L609.71 246.79 L609.93 247.08 L610.16 247.18 L610.39 247.19 L610.61 246.91 L610.84 246.64 L611.07 246.97 L611.3 246.74 L611.52 246.61 L611.75 246.89 L611.98 246.92 L612.2 247.06 L612.43 246.53 L612.66 246.3 L612.88 246.95 L613.11 246.51 L613.34 247.1 L613.57 246.47 L613.79 246.62 L614.02 246.25 L614.25 247.41 L614.47 246.66 L614.7 246.77" stroke="#4a86c0" stroke-width="0.8" fill="none"/>
<line x1="455.2" y1="259" x2="455.2" y2="313" stroke="#8a8a8a" stroke-width="0.9"/>
<line x1="452.7" y1="279.1" x2="455.2" y2="279.1" stroke="#8a8a8a" stroke-width="0.7"/>
<text x="451.5" y="281.98" font-size="8" text-anchor="end" fill="#222">2</text>
<line x1="452.7" y1="311.9" x2="455.2" y2="311.9" stroke="#8a8a8a" stroke-width="0.7"/>
<text x="451.5" y="314.78" font-size="8" text-anchor="end" fill="#222">0</text>
<text x="440.3" y="291.24" font-size="7.6" text-anchor="middle" fill="#222" transform="rotate(-90 440.3 288.5)">&#952; [rad]</text>
<line x1="455.2" y1="323.3" x2="455.2" y2="377.9" stroke="#8a8a8a" stroke-width="0.9"/>
<line x1="455.2" y1="377.9" x2="615.8" y2="377.9" stroke="#8a8a8a" stroke-width="0.9"/>
<line x1="452.7" y1="341.4" x2="455.2" y2="341.4" stroke="#8a8a8a" stroke-width="0.7"/>
<text x="451.5" y="344.28" font-size="8" text-anchor="end" fill="#222">100</text>
<line x1="452.7" y1="374.3" x2="455.2" y2="374.3" stroke="#8a8a8a" stroke-width="0.7"/>
<text x="451.5" y="377.18" font-size="8" text-anchor="end" fill="#222">0</text>
<text x="433.2" y="352.54" font-size="7.6" text-anchor="middle" fill="#222" transform="rotate(-90 433.2 349.8)">z [mm]</text>
<line x1="455.8" y1="377.9" x2="455.8" y2="380.4" stroke="#8a8a8a" stroke-width="0.7"/>
<text x="455.8" y="388.28" font-size="8" text-anchor="middle" fill="#222">0</text>
<line x1="487.7" y1="377.9" x2="487.7" y2="380.4" stroke="#8a8a8a" stroke-width="0.7"/>
<text x="487.7" y="388.28" font-size="8" text-anchor="middle" fill="#222">1</text>
<line x1="519.6" y1="377.9" x2="519.6" y2="380.4" stroke="#8a8a8a" stroke-width="0.7"/>
<text x="519.6" y="388.28" font-size="8" text-anchor="middle" fill="#222">2</text>
<line x1="551.5" y1="377.9" x2="551.5" y2="380.4" stroke="#8a8a8a" stroke-width="0.7"/>
<text x="551.5" y="388.28" font-size="8" text-anchor="middle" fill="#222">3</text>
<line x1="583.4" y1="377.9" x2="583.4" y2="380.4" stroke="#8a8a8a" stroke-width="0.7"/>
<text x="583.4" y="388.28" font-size="8" text-anchor="middle" fill="#222">4</text>
<line x1="615.3" y1="377.9" x2="615.3" y2="380.4" stroke="#8a8a8a" stroke-width="0.7"/>
<text x="615.3" y="388.28" font-size="8" text-anchor="middle" fill="#222">5</text>
<text x="530" y="397.74" font-size="7.6" text-anchor="middle" fill="#222">t [s]</text>
<line x1="552.3" y1="212.5" x2="552.3" y2="251.4" stroke="#b4b4b4" stroke-width="0.9"/>
<line x1="552.3" y1="259.2" x2="552.3" y2="312.3" stroke="#b4b4b4" stroke-width="0.9"/>
<line x1="552.3" y1="323.2" x2="552.3" y2="376.2" stroke="#b4b4b4" stroke-width="0.9"/>
<path d="M503 272.89 L502.77 278.31 M504.49 274.45 L504.5 279.39 M504.49 274.45 l1.3 -0.94 M505.57 274.95 L505.3 278.44 M506.84 273.66 L506.95 276.49 M508.44 273.06 L508.25 275.84 M508.44 273.06 l1.3 -1.07 M509.61 275.86 L509.36 281.68 M509.61 275.86 l1.3 -0.89 M511.31 275.12 L511.37 276.72 M511.31 275.12 l1.3 0.05 M512.95 275.94 L513.19 278.61 M514.87 272.01 L515.26 275.62 M514.87 272.01 l1.3 0.94 M516.42 275.08 L516.04 278.77 M516.42 275.08 l1.3 -1.17 M517.67 275.86 L517.92 280.2 M519.3 275.25 L519.63 280.92 M520.4 273.44 L520.44 275.1 M521.45 272.75 L521.25 275.9 M522.8 274.56 L522.87 278.28 M524.75 272.45 L524.62 277.74 M524.75 272.45 l1.3 -0.35 M526.26 275.84 L525.87 279.02 M527.37 273.91 L527.38 279.24 M527.37 273.91 l1.3 0.9 M528.39 274.29 L528.78 277.64 M529.44 272.76 L529.6 276.3 M529.44 272.76 l1.3 -0.42 M531.36 275.81 L531.68 279.15 M531.36 275.81 l1.3 -1.25 M532.89 274.64 L533.26 280.16 M534.65 274.84 L534.86 279.5 M536.02 272.33 L535.8 274.91 M536.02 272.33 l1.3 0.93 M537.08 273.8 L536.89 278.96 M537.08 273.8 l1.3 -0.77 M538.17 275.23 L537.92 277.5 M539.98 274.36 L539.63 279.97 M541.55 273.21 L541.68 278.43 M542.66 274.32 L542.78 277.95 M542.66 274.32 l1.3 -1.41 M544.2 273.46 L544.17 278.97 M544.2 273.46 l1.3 0.4 M545.73 275.84 L545.72 280.9 M545.73 275.84 l1.3 0.31 M547.48 275.02 L547.25 280.99 M547.48 275.02 l1.3 -0.23 M548.79 273.46 L548.83 277.11 M548.79 273.46 l1.3 -1.1 M550.1 272.55 L550.24 275.48 M552.09 274.24 L552.21 278.21 M553.71 274.35 L553.59 278.58 M555.31 273.24 L554.97 275.84 M555.31 273.24 l1.3 -1.46 M556.48 272.24 L556.36 274.99 M558.25 274.5 L558.57 276.72 M559.75 274.57 L559.49 278.37 M561.74 275.08 L561.44 277.4 M563.65 275 L563.37 279.92 M564.84 272.62 L564.44 275.95 M566 274.96 L566.22 279.08 M567.97 273.52 L567.84 277.26" stroke="#f0a06a" stroke-width="0.75" fill="none" stroke-opacity="0.9"/>
<path d="M503 364.07 L503.26 367.07 M503 364.07 l1.3 -1.18 M504.6 362.62 L504.46 366 M506.03 363.44 L506.1 367.27 M508.02 363.78 L508.32 367.14 M509.08 363.37 L509.27 368.48 M510.62 361 L510.54 366.81 M510.62 361 l1.3 0.65 M512.61 361.52 L512.69 366.04 M514.55 361.91 L514.47 364.55 M516.27 362.12 L516.23 368.08 M516.27 362.12 l1.3 0.63 M517.36 362.09 L517.57 367.06 M517.36 362.09 l1.3 -0.93 M518.83 361.84 L518.58 366.65 M518.83 361.84 l1.3 1.03 M520.44 364.04 L520.71 369.94 M520.44 364.04 l1.3 0.36 M521.92 362.12 L522.18 366.96 M523.06 363.31 L522.81 365.08 M524.46 361.09 L524.19 365.66 M525.72 360.67 L525.37 366.48 M527.06 363.14 L527.14 368.44 M528.17 363.34 L528.17 365.76 M528.17 363.34 l1.3 -0.55 M530.04 362.73 L529.93 366.69 M531.31 361 L531.13 365.04 M532.49 363.63 L532.13 367.87 M534.16 364.25 L534.36 369.29 M534.16 364.25 l1.3 -1.37 M535.98 360.55 L536.03 364.53 M535.98 360.55 l1.3 -1.31 M537.55 362.44 L537.18 365.3 M538.68 360.55 L538.52 363.29 M538.68 360.55 l1.3 -1.3 M540.46 362.1 L540.47 364.71 M540.46 362.1 l1.3 1.06 M541.94 362.99 L541.82 368.87 M541.94 362.99 l1.3 1.44 M543.53 364.43 L543.69 370.29 M543.53 364.43 l1.3 0.34 M544.78 361.02 L544.54 364.17 M546.71 360.61 L546.52 363.26 M546.71 360.61 l1.3 1.35 M547.96 361.92 L547.75 363.64 M549.92 363.12 L549.57 365.96 M551.08 361.58 L550.88 365.55 M552.58 362.44 L552.91 368.01 M552.58 362.44 l1.3 -1.44 M554.25 361.58 L553.93 363.15 M554.25 361.58 l1.3 -1.14 M555.46 363.48 L555.15 367.03 M555.46 363.48 l1.3 1.29 M556.46 363.07 L556.61 367.47 M558.25 363.79 L557.99 368.2 M559.53 363.87 L559.2 367.93 M561 364.27 L560.68 365.95 M562.04 362.31 L561.97 367.48 M562.04 362.31 l1.3 1.03 M563.15 361.65 L563.12 364.13 M563.15 361.65 l1.3 1.23 M564.93 363.32 L565.02 365.45 M566.85 363.15 L566.68 365.81" stroke="#8ccc70" stroke-width="0.75" fill="none" stroke-opacity="0.9"/>
<path d="M497 373.6 l0.6 0.4" stroke="#8ccc70" stroke-width="0.9" fill="none"/>
<line x1="636" y1="258.6" x2="636" y2="313.4" stroke="#444" stroke-width="0.9"/>
<line x1="634" y1="276" x2="636" y2="276" stroke="#444" stroke-width="0.6"/>
<line x1="634" y1="312" x2="636" y2="312" stroke="#444" stroke-width="0.6"/>
<path d="M638 259 L638 259.68 L638 260.35 L638 261.02 L638 261.7 L638 262.38 L638 263.05 L638 263.73 L638 264.4 L638 265.07 L638 265.75 L638 266.43 L638 267.1 L638 267.77 L638.01 268.45 L638.05 269.12 L638.18 269.8 L638.55 270.48 L639.44 271.15 L641.34 271.82 L644.85 272.5 L650.37 273.18 L657.7 273.85 L665.65 274.52 L672.2 275.2 L675.29 275.88 L673.84 276.55 L668.36 277.23 L660.67 277.9 L652.92 278.57 L646.65 279.25 L642.42 279.93 L639.99 280.6 L638.79 281.27 L638.28 281.95 L638.09 282.62 L638.02 283.3 L638.01 283.98 L638 284.65 L638 285.32 L638 286 L638 286.68 L638 287.35 L638 288.02 L638 288.7 L638 289.38 L638 290.05 L638 290.73 L638 291.4 L638 292.07 L638 292.75 L638 293.43 L638 294.1 L638 294.77 L638 295.45 L638 296.12 L638 296.8 L638 297.48 L638 298.15 L638 298.82 L638 299.5 L638 300.18 L638 300.85 L638 301.52 L638 302.2 L638 302.88 L638 303.55 L638 304.23 L638 304.9 L638 305.57 L638 306.25 L638 306.93 L638 307.6 L638 308.27 L638 308.95 L638 309.62 L638 310.3 L638 310.98 L638 311.65 L638 312.32 L638 313" stroke="#333" stroke-width="0.9" fill="none"/>
<path d="M638 259 L638 259.68 L638 260.35 L638 261.02 L638 261.7 L638 262.38 L638 263.05 L638 263.73 L638 264.4 L638 265.07 L638 265.75 L638.01 266.43 L638.02 267.1 L638.06 267.77 L638.18 268.45 L638.46 269.12 L639.08 269.8 L640.27 270.48 L642.37 271.15 L645.65 271.82 L650.18 272.5 L655.66 273.18 L661.31 273.85 L665.99 274.52 L668.59 275.2 L668.43 275.88 L665.55 276.55 L660.7 277.23 L655.03 277.9 L649.62 278.57 L645.22 279.25 L642.08 279.93 L640.1 280.6 L638.98 281.27 L638.42 281.95 L638.16 282.62 L638.06 283.3 L638.02 283.98 L638.01 284.65 L638 285.32 L638 286 L638 286.68 L638 287.35 L638 288.02 L638 288.7 L638 289.38 L638 290.05 L638 290.73 L638 291.4 L638 292.07 L638 292.75 L638 293.43 L638 294.1 L638 294.77 L638 295.45 L638 296.12 L638 296.8 L638 297.48 L638 298.15 L638 298.82 L638 299.5 L638 300.18 L638 300.85 L638 301.52 L638 302.2 L638 302.88 L638 303.55 L638 304.23 L638 304.9 L638 305.57 L638 306.25 L638 306.93 L638 307.6 L638 308.27 L638 308.95 L638 309.62 L638 310.3 L638 310.98 L638 311.65 L638 312.32 L638 313" stroke="#f08a3c" stroke-width="0.9" fill="none"/>
<rect x="638.5" y="292.3" width="37" height="18" fill="#ffffff" stroke="#d8d8d8" stroke-width="0.5" fill-opacity="0.85"/>
<line x1="640.5" y1="297" x2="650" y2="297" stroke="#333" stroke-width="0.9"/>
<text x="653.5" y="299.16" font-size="6" text-anchor="start" fill="#222">target</text>
<line x1="640.5" y1="305.3" x2="650" y2="305.3" stroke="#f08a3c" stroke-width="0.9"/>
<text x="653.5" y="307.46" font-size="6" text-anchor="start" fill="#222">actual</text>
<line x1="636" y1="322.5" x2="636" y2="377" stroke="#444" stroke-width="0.9"/>
<line x1="636" y1="377" x2="680" y2="377" stroke="#444" stroke-width="0.9"/>
<line x1="634" y1="342" x2="636" y2="342" stroke="#444" stroke-width="0.6"/>
<line x1="634" y1="374.5" x2="636" y2="374.5" stroke="#444" stroke-width="0.6"/>
<path d="M638 323 L638 323.68 L638 324.35 L638 325.02 L638 325.7 L638 326.38 L638 327.05 L638 327.73 L638 328.4 L638 329.07 L638 329.75 L638 330.43 L638 331.1 L638 331.77 L638 332.45 L638 333.12 L638 333.8 L638 334.48 L638 335.15 L638 335.82 L638 336.5 L638 337.18 L638 337.85 L638 338.52 L638 339.2 L638 339.88 L638 340.55 L638 341.23 L638 341.9 L638 342.57 L638 343.25 L638 343.93 L638 344.6 L638 345.27 L638 345.95 L638 346.62 L638 347.3 L638 347.98 L638 348.65 L638 349.32 L638 350 L638 350.68 L638 351.35 L638 352.02 L638 352.7 L638 353.38 L638 354.05 L638 354.73 L638 355.4 L638 356.07 L638.01 356.75 L638.04 357.43 L638.13 358.1 L638.35 358.77 L638.85 359.45 L639.89 360.12 L641.82 360.8 L645.01 361.48 L649.72 362.15 L655.85 362.82 L662.72 363.5 L669.18 364.18 L673.78 364.85 L675.37 365.52 L673.53 366.2 L668.74 366.88 L662.21 367.55 L655.36 368.23 L649.32 368.9 L644.72 369.57 L641.63 370.25 L639.79 370.93 L638.8 371.6 L638.33 372.27 L638.12 372.95 L638.04 373.62 L638.01 374.3 L638 374.98 L638 375.65 L638 376.32 L638 377" stroke="#333" stroke-width="0.9" fill="none"/>
<path d="M638 323 L638 323.68 L638 324.35 L638 325.02 L638 325.7 L638 326.38 L638 327.05 L638 327.73 L638 328.4 L638 329.07 L638 329.75 L638 330.43 L638 331.1 L638 331.77 L638 332.45 L638 333.12 L638 333.8 L638 334.48 L638 335.15 L638 335.82 L638 336.5 L638 337.18 L638 337.85 L638 338.52 L638 339.2 L638 339.88 L638 340.55 L638 341.23 L638 341.9 L638 342.57 L638 343.25 L638 343.93 L638 344.6 L638 345.27 L638 345.95 L638 346.62 L638 347.3 L638 347.98 L638 348.65 L638 349.32 L638 350 L638 350.68 L638 351.35 L638 352.02 L638 352.7 L638.01 353.38 L638.02 354.05 L638.03 354.73 L638.07 355.4 L638.15 356.07 L638.28 356.75 L638.53 357.43 L638.94 358.1 L639.59 358.77 L640.6 359.45 L642.05 360.12 L644.05 360.8 L646.64 361.48 L649.82 362.15 L653.5 362.82 L657.47 363.5 L661.45 364.18 L665.1 364.85 L668.06 365.52 L670.04 366.2 L670.83 366.88 L670.37 367.55 L668.75 368.23 L666.16 368.9 L662.87 369.57 L659.2 370.25 L655.44 370.93 L651.85 371.6 L648.62 372.27 L645.84 372.95 L643.58 373.62 L641.83 374.3 L640.52 374.98 L639.59 375.65 L638.97 376.32 L638.56 377" stroke="#70c060" stroke-width="0.9" fill="none"/>
<rect x="638.5" y="326" width="37" height="16.5" fill="#ffffff" stroke="#d8d8d8" stroke-width="0.5" fill-opacity="0.85"/>
<line x1="640.5" y1="330.2" x2="650" y2="330.2" stroke="#555" stroke-width="0.9"/>
<text x="653.5" y="332.36" font-size="6" text-anchor="start" fill="#222">target</text>
<line x1="640.5" y1="338" x2="650" y2="338" stroke="#70c060" stroke-width="0.9"/>
<text x="653.5" y="340.16" font-size="6" text-anchor="start" fill="#222">actual</text>
<line x1="638" y1="377" x2="638" y2="379.5" stroke="#555" stroke-width="0.7"/>
<text x="638" y="387.38" font-size="8" text-anchor="middle" fill="#222">0</text>
<line x1="670.5" y1="377" x2="670.5" y2="379.5" stroke="#555" stroke-width="0.7"/>
<text x="670.5" y="387.38" font-size="8" text-anchor="middle" fill="#222">20</text>
<text x="657" y="396.74" font-size="7.6" text-anchor="middle" fill="#222">Inst. act. [Hz]</text>
<rect x="18.5" y="421.6" width="157.5" height="165.4" fill="#ffffff" stroke="#555" stroke-width="0.9"/>
<rect x="25.2" y="518.07" width="20.2" height="68.93" fill="#5b9bc9" stroke="#888" stroke-width="0.4"/>
<line x1="35.3" y1="515.36" x2="35.3" y2="520.78" stroke="#333" stroke-width="0.9"/>
<text x="35.3" y="594.69" font-size="5.8" text-anchor="middle" fill="#222">SF-DIR</text>
<rect x="50.05" y="514.68" width="20.2" height="72.32" fill="#ef9348" stroke="#888" stroke-width="0.4"/>
<line x1="60.15" y1="512.65" x2="60.15" y2="516.71" stroke="#333" stroke-width="0.9"/>
<text x="60.15" y="594.69" font-size="5.8" text-anchor="middle" fill="#222">SC-BIO</text>
<rect x="74.9" y="437.84" width="20.2" height="149.16" fill="#f0be8a" stroke="#888" stroke-width="0.4"/>
<line x1="85" y1="431.51" x2="85" y2="444.17" stroke="#333" stroke-width="0.9"/>
<text x="85" y="594.69" font-size="5.8" text-anchor="middle" fill="#222">NO INH</text>
<rect x="99.75" y="497.05" width="20.2" height="89.95" fill="#f0be8a" stroke="#888" stroke-width="0.4"/>
<line x1="109.85" y1="495.24" x2="109.85" y2="498.86" stroke="#333" stroke-width="0.9"/>
<text x="109.85" y="594.69" font-size="5.8" text-anchor="middle" fill="#222">Feedback</text>
<text x="109.85" y="600.29" font-size="5.8" text-anchor="middle" fill="#222">INH</text>
<rect x="124.6" y="515.36" width="20.2" height="71.64" fill="#f0be8a" stroke="#888" stroke-width="0.4"/>
<line x1="134.7" y1="513.1" x2="134.7" y2="517.62" stroke="#333" stroke-width="0.9"/>
<text x="134.7" y="594.69" font-size="5.8" text-anchor="middle" fill="#222">Combined</text>
<text x="134.7" y="600.29" font-size="5.8" text-anchor="middle" fill="#222">INH</text>
<rect x="149.45" y="485.75" width="20.2" height="101.25" fill="#9c9c9c" stroke="#888" stroke-width="0.4"/>
<line x1="159.55" y1="484.4" x2="159.55" y2="487.11" stroke="#333" stroke-width="0.9"/>
<text x="159.55" y="594.69" font-size="5.8" text-anchor="middle" fill="#222">STO-AI</text>
<rect x="18.5" y="421.6" width="157.5" height="165.4" fill="none" stroke="#555" stroke-width="0.9"/>
<line x1="16" y1="587" x2="18.5" y2="587" stroke="#555" stroke-width="0.7"/>
<text x="14.8" y="589.88" font-size="8" text-anchor="end" fill="#222">0</text>
<line x1="16" y1="564.4" x2="18.5" y2="564.4" stroke="#555" stroke-width="0.7"/>
<text x="14.8" y="567.28" font-size="8" text-anchor="end" fill="#222">1</text>
<line x1="16" y1="541.8" x2="18.5" y2="541.8" stroke="#555" stroke-width="0.7"/>
<text x="14.8" y="544.68" font-size="8" text-anchor="end" fill="#222">2</text>
<line x1="16" y1="519.2" x2="18.5" y2="519.2" stroke="#555" stroke-width="0.7"/>
<text x="14.8" y="522.08" font-size="8" text-anchor="end" fill="#222">3</text>
<line x1="16" y1="496.6" x2="18.5" y2="496.6" stroke="#555" stroke-width="0.7"/>
<text x="14.8" y="499.48" font-size="8" text-anchor="end" fill="#222">4</text>
<line x1="16" y1="474" x2="18.5" y2="474" stroke="#555" stroke-width="0.7"/>
<text x="14.8" y="476.88" font-size="8" text-anchor="end" fill="#222">5</text>
<line x1="16" y1="451.4" x2="18.5" y2="451.4" stroke="#555" stroke-width="0.7"/>
<text x="14.8" y="454.28" font-size="8" text-anchor="end" fill="#222">6</text>
<line x1="16" y1="428.8" x2="18.5" y2="428.8" stroke="#555" stroke-width="0.7"/>
<text x="14.8" y="431.68" font-size="8" text-anchor="end" fill="#222">7</text>
<text x="97.5" y="607.5" font-size="6.4" text-anchor="middle" fill="#222">Architecture</text>
<text x="3.8" y="503.81" font-size="7.8" text-anchor="middle" fill="#222" transform="rotate(-90 3.8 501)">Median Localization Error [mm]</text>
<path d="M35.3 507 L35.3 502.6 L60.1 502.6 L60.1 507" stroke="#333" stroke-width="0.8" fill="none"/>
<text x="47.7" y="499.3" font-size="5.6" text-anchor="middle" fill="#222">** (p &lt; 10<tspan dy="-2" font-size="4">-2</tspan><tspan dy="2">)</tspan></text>
<rect x="212.8" y="421.5" width="177.6" height="165" fill="#ffffff" stroke="none" stroke-width="0.8"/>
<circle cx="287.46" cy="431.11" r="1.6" fill="#ccdee8" stroke="#b2b8be" stroke-width="0.45"/>
<circle cx="290.83" cy="430.7" r="1.6" fill="#e9eef2" stroke="#b2b8be" stroke-width="0.45"/>
<circle cx="295.28" cy="431.23" r="1.6" fill="#ccdee8" stroke="#b2b8be" stroke-width="0.45"/>
<circle cx="298.45" cy="430.52" r="1.6" fill="#e5eef2" stroke="#b2b8be" stroke-width="0.45"/>
<circle cx="302.28" cy="430.86" r="1.6" fill="#afcce1" stroke="#b2b8be" stroke-width="0.45"/>
<circle cx="306.12" cy="430.57" r="1.6" fill="#a6c8df" stroke="#b2b8be" stroke-width="0.45"/>
<circle cx="310.47" cy="430.68" r="1.6" fill="#99c1dd" stroke="#b2b8be" stroke-width="0.45"/>
<circle cx="314.03" cy="430.48" r="1.6" fill="#e6eef2" stroke="#b2b8be" stroke-width="0.45"/>
<circle cx="317.8" cy="430.6" r="1.6" fill="#eaeef2" stroke="#b2b8be" stroke-width="0.45"/>
<circle cx="322.12" cy="430.85" r="1.6" fill="#e7eef2" stroke="#b2b8be" stroke-width="0.45"/>
<circle cx="326" cy="430.7" r="1.6" fill="#e5eef2" stroke="#b2b8be" stroke-width="0.45"/>
<circle cx="329.43" cy="431" r="1.6" fill="#83b3d8" stroke="#8aa0b8" stroke-width="0.45"/>
<circle cx="333.21" cy="431.19" r="1.6" fill="#c8d9e5" stroke="#b2b8be" stroke-width="0.45"/>
<circle cx="337.49" cy="431.21" r="1.6" fill="#a6c7df" stroke="#b2b8be" stroke-width="0.45"/>
<circle cx="341.16" cy="430.52" r="1.6" fill="#e7eef2" stroke="#b2b8be" stroke-width="0.45"/>
<circle cx="345.26" cy="430.99" r="1.6" fill="#e7eef2" stroke="#b2b8be" stroke-width="0.45"/>
<circle cx="258.67" cy="434.47" r="1.6" fill="#bcd3e3" stroke="#b2b8be" stroke-width="0.45"/>
<circle cx="262.21" cy="434.24" r="1.6" fill="#eaeef2" stroke="#b2b8be" stroke-width="0.45"/>
<circle cx="265.93" cy="433.99" r="1.6" fill="#e9eef2" stroke="#b2b8be" stroke-width="0.45"/>
<circle cx="273.52" cy="433.99" r="1.6" fill="#ebeef2" stroke="#b2b8be" stroke-width="0.45"/>
<circle cx="277.61" cy="434.17" r="1.6" fill="#a0c4de" stroke="#b2b8be" stroke-width="0.45"/>
<circle cx="281.54" cy="434.54" r="1.6" fill="#ccdee8" stroke="#b2b8be" stroke-width="0.45"/>
<circle cx="289.46" cy="434.32" r="1.6" fill="#e6eef2" stroke="#b2b8be" stroke-width="0.45"/>
<circle cx="292.83" cy="433.8" r="1.6" fill="#ebeef2" stroke="#b2b8be" stroke-width="0.45"/>
<circle cx="297.22" cy="434.6" r="1.6" fill="#eaeef2" stroke="#b2b8be" stroke-width="0.45"/>
<circle cx="304.98" cy="434.43" r="1.6" fill="#ccdee8" stroke="#b2b8be" stroke-width="0.45"/>
<circle cx="308.63" cy="434.56" r="1.6" fill="#e6eef2" stroke="#b2b8be" stroke-width="0.45"/>
<circle cx="312.61" cy="433.77" r="1.6" fill="#5892c8" stroke="#8aa0b8" stroke-width="0.45"/>
<circle cx="319.93" cy="434.27" r="1.6" fill="#e9eef2" stroke="#b2b8be" stroke-width="0.45"/>
<circle cx="323.74" cy="434.5" r="1.6" fill="#e8eef2" stroke="#b2b8be" stroke-width="0.45"/>
<circle cx="327.8" cy="434.58" r="1.6" fill="#ebeef2" stroke="#b2b8be" stroke-width="0.45"/>
<circle cx="331.46" cy="433.83" r="1.6" fill="#7daed6" stroke="#8aa0b8" stroke-width="0.45"/>
<circle cx="335.38" cy="434.36" r="1.6" fill="#e6eef2" stroke="#b2b8be" stroke-width="0.45"/>
<circle cx="339.33" cy="434.54" r="1.6" fill="#e9eef2" stroke="#b2b8be" stroke-width="0.45"/>
<circle cx="343.11" cy="434.38" r="1.6" fill="#e7eef2" stroke="#b2b8be" stroke-width="0.45"/>
<circle cx="347" cy="434.37" r="1.6" fill="#e8eef2" stroke="#b2b8be" stroke-width="0.45"/>
<circle cx="350.33" cy="434.06" r="1.6" fill="#ebeef2" stroke="#b2b8be" stroke-width="0.45"/>
<circle cx="354.53" cy="434.52" r="1.6" fill="#e7eef2" stroke="#b2b8be" stroke-width="0.45"/>
<circle cx="358.27" cy="434.54" r="1.6" fill="#e9eef2" stroke="#b2b8be" stroke-width="0.45"/>
<circle cx="244.72" cy="437.51" r="1.6" fill="#e8eef2" stroke="#b2b8be" stroke-width="0.45"/>
<circle cx="252.56" cy="437.13" r="1.6" fill="#ebeef2" stroke="#b2b8be" stroke-width="0.45"/>
<circle cx="256.84" cy="437.94" r="1.6" fill="#ccdee8" stroke="#b2b8be" stroke-width="0.45"/>
<circle cx="259.93" cy="437.95" r="1.6" fill="#e7eef2" stroke="#b2b8be" stroke-width="0.45"/>
<circle cx="264.01" cy="437.15" r="1.6" fill="#ebeef2" stroke="#b2b8be" stroke-width="0.45"/>
<circle cx="268.33" cy="437.17" r="1.6" fill="#e4eef2" stroke="#b2b8be" stroke-width="0.45"/>
<circle cx="271.63" cy="437.3" r="1.6" fill="#e5eef2" stroke="#b2b8be" stroke-width="0.45"/>
<circle cx="275.23" cy="437.25" r="1.6" fill="#113d79" stroke="#8aa0b8" stroke-width="0.45"/>
<circle cx="279.37" cy="437.73" r="1.6" fill="#e9eef2" stroke="#b2b8be" stroke-width="0.45"/>
<circle cx="283.57" cy="437.27" r="1.6" fill="#e7eef2" stroke="#b2b8be" stroke-width="0.45"/>
<circle cx="287.62" cy="437.92" r="1.6" fill="#ebeef2" stroke="#b2b8be" stroke-width="0.45"/>
<circle cx="291.51" cy="437.88" r="1.6" fill="#e5eef2" stroke="#b2b8be" stroke-width="0.45"/>
<circle cx="294.95" cy="437.2" r="1.6" fill="#e6eef2" stroke="#b2b8be" stroke-width="0.45"/>
<circle cx="299.19" cy="437.49" r="1.6" fill="#e5eef2" stroke="#b2b8be" stroke-width="0.45"/>
<circle cx="302.27" cy="437.4" r="1.6" fill="#e7eef2" stroke="#b2b8be" stroke-width="0.45"/>
<circle cx="306.84" cy="437.99" r="1.6" fill="#e6eef2" stroke="#b2b8be" stroke-width="0.45"/>
<circle cx="310.5" cy="437.59" r="1.6" fill="#e8eef2" stroke="#b2b8be" stroke-width="0.45"/>
<circle cx="318.37" cy="437.44" r="1.6" fill="#ebeef2" stroke="#b2b8be" stroke-width="0.45"/>
<circle cx="322.12" cy="437.51" r="1.6" fill="#b5cfe2" stroke="#b2b8be" stroke-width="0.45"/>
<circle cx="325.75" cy="437.9" r="1.6" fill="#eaeef2" stroke="#b2b8be" stroke-width="0.45"/>
<circle cx="329.99" cy="437.33" r="1.6" fill="#e6eef2" stroke="#b2b8be" stroke-width="0.45"/>
<circle cx="333.87" cy="437.86" r="1.6" fill="#e9eef2" stroke="#b2b8be" stroke-width="0.45"/>
<circle cx="337.49" cy="437.47" r="1.6" fill="#ccdee8" stroke="#b2b8be" stroke-width="0.45"/>
<circle cx="341.34" cy="437.99" r="1.6" fill="#e8eef2" stroke="#b2b8be" stroke-width="0.45"/>
<circle cx="345.2" cy="437.46" r="1.6" fill="#e5eef2" stroke="#b2b8be" stroke-width="0.45"/>
<circle cx="348.54" cy="437.8" r="1.6" fill="#e8eef2" stroke="#b2b8be" stroke-width="0.45"/>
<circle cx="353.02" cy="437.97" r="1.6" fill="#e9eef2" stroke="#b2b8be" stroke-width="0.45"/>
<circle cx="356.7" cy="437.28" r="1.6" fill="#ccdee8" stroke="#b2b8be" stroke-width="0.45"/>
<circle cx="360.33" cy="437.8" r="1.6" fill="#e5eef2" stroke="#b2b8be" stroke-width="0.45"/>
<circle cx="364.25" cy="437.65" r="1.6" fill="#7caed5" stroke="#8aa0b8" stroke-width="0.45"/>
<circle cx="235.24" cy="441.32" r="1.6" fill="#eaeef2" stroke="#b2b8be" stroke-width="0.45"/>
<circle cx="238.91" cy="441.18" r="1.6" fill="#e6eef2" stroke="#b2b8be" stroke-width="0.45"/>
<circle cx="242.86" cy="440.78" r="1.6" fill="#e7eef2" stroke="#b2b8be" stroke-width="0.45"/>
<circle cx="247.08" cy="441.06" r="1.6" fill="#e6eef2" stroke="#b2b8be" stroke-width="0.45"/>
<circle cx="250.25" cy="441.15" r="1.6" fill="#90bcdc" stroke="#8aa0b8" stroke-width="0.45"/>
<circle cx="254.14" cy="440.66" r="1.6" fill="#ccdee8" stroke="#b2b8be" stroke-width="0.45"/>
<circle cx="258.8" cy="441.27" r="1.6" fill="#ccdee8" stroke="#b2b8be" stroke-width="0.45"/>
<circle cx="262.35" cy="440.77" r="1.6" fill="#ccdee8" stroke="#b2b8be" stroke-width="0.45"/>
<circle cx="266.04" cy="440.79" r="1.6" fill="#eaeef2" stroke="#b2b8be" stroke-width="0.45"/>
<circle cx="270.02" cy="440.77" r="1.6" fill="#cadae5" stroke="#b2b8be" stroke-width="0.45"/>
<circle cx="273.48" cy="441.31" r="1.6" fill="#c5d8e4" stroke="#b2b8be" stroke-width="0.45"/>
<circle cx="277.52" cy="440.84" r="1.6" fill="#e5eef2" stroke="#b2b8be" stroke-width="0.45"/>
<circle cx="281.15" cy="440.54" r="1.6" fill="#b8d1e2" stroke="#b2b8be" stroke-width="0.45"/>
<circle cx="285.59" cy="440.62" r="1.6" fill="#e5eef2" stroke="#b2b8be" stroke-width="0.45"/>
<circle cx="288.93" cy="440.76" r="1.6" fill="#e7eef2" stroke="#b2b8be" stroke-width="0.45"/>
<circle cx="293.22" cy="441.26" r="1.6" fill="#ccdee8" stroke="#b2b8be" stroke-width="0.45"/>
<circle cx="296.87" cy="440.62" r="1.6" fill="#eaeef2" stroke="#b2b8be" stroke-width="0.45"/>
<circle cx="300.29" cy="441.2" r="1.6" fill="#e7eef2" stroke="#b2b8be" stroke-width="0.45"/>
<circle cx="304.93" cy="441.19" r="1.6" fill="#e9eef2" stroke="#b2b8be" stroke-width="0.45"/>
<circle cx="308.48" cy="441.12" r="1.6" fill="#ebeef2" stroke="#b2b8be" stroke-width="0.45"/>
<circle cx="312.38" cy="440.74" r="1.6" fill="#ccdee8" stroke="#b2b8be" stroke-width="0.45"/>
<circle cx="315.67" cy="440.94" r="1.6" fill="#e5eef2" stroke="#b2b8be" stroke-width="0.45"/>
<circle cx="319.75" cy="440.8" r="1.6" fill="#ccdee8" stroke="#b2b8be" stroke-width="0.45"/>
<circle cx="324.24" cy="440.57" r="1.6" fill="#ccdee8" stroke="#b2b8be" stroke-width="0.45"/>
<circle cx="327.57" cy="440.89" r="1.6" fill="#e7eef2" stroke="#b2b8be" stroke-width="0.45"/>
<circle cx="331.56" cy="440.98" r="1.6" fill="#e8eef2" stroke="#b2b8be" stroke-width="0.45"/>
<circle cx="335.15" cy="440.76" r="1.6" fill="#e7eef2" stroke="#b2b8be" stroke-width="0.45"/>
<circle cx="339.31" cy="441.2" r="1.6" fill="#eaeef2" stroke="#b2b8be" stroke-width="0.45"/>
<circle cx="343.44" cy="440.95" r="1.6" fill="#e6eef2" stroke="#b2b8be" stroke-width="0.45"/>
<circle cx="347.08" cy="440.67" r="1.6" fill="#e9eef2" stroke="#b2b8be" stroke-width="0.45"/>
<circle cx="350.75" cy="440.5" r="1.6" fill="#eaeef2" stroke="#b2b8be" stroke-width="0.45"/>
<circle cx="354.34" cy="440.5" r="1.6" fill="#ebeef2" stroke="#b2b8be" stroke-width="0.45"/>
<circle cx="358.5" cy="440.92" r="1.6" fill="#5d96ca" stroke="#8aa0b8" stroke-width="0.45"/>
<circle cx="361.98" cy="441.34" r="1.6" fill="#e7eef2" stroke="#b2b8be" stroke-width="0.45"/>
<circle cx="370.44" cy="440.63" r="1.6" fill="#c0d5e4" stroke="#b2b8be" stroke-width="0.45"/>
<circle cx="229.8" cy="444.38" r="1.6" fill="#e8eef2" stroke="#b2b8be" stroke-width="0.45"/>
<circle cx="233.1" cy="444.39" r="1.6" fill="#e6eef2" stroke="#b2b8be" stroke-width="0.45"/>
<circle cx="236.95" cy="443.93" r="1.6" fill="#e8eef2" stroke="#b2b8be" stroke-width="0.45"/>
<circle cx="241.46" cy="444.01" r="1.6" fill="#ccdee8" stroke="#b2b8be" stroke-width="0.45"/>
<circle cx="244.97" cy="444.42" r="1.6" fill="#ebeef2" stroke="#b2b8be" stroke-width="0.45"/>
<circle cx="248.7" cy="443.86" r="1.6" fill="#e5eef2" stroke="#b2b8be" stroke-width="0.45"/>
<circle cx="252.69" cy="444.55" r="1.6" fill="#e5eef2" stroke="#b2b8be" stroke-width="0.45"/>
<circle cx="256.44" cy="444.6" r="1.6" fill="#e7eef2" stroke="#b2b8be" stroke-width="0.45"/>
<circle cx="263.76" cy="444.4" r="1.6" fill="#e5eef2" stroke="#b2b8be" stroke-width="0.45"/>
<circle cx="272.06" cy="444.5" r="1.6" fill="#aac9e0" stroke="#b2b8be" stroke-width="0.45"/>
<circle cx="275.61" cy="444.07" r="1.6" fill="#e7eef2" stroke="#b2b8be" stroke-width="0.45"/>
<circle cx="279.21" cy="444.04" r="1.6" fill="#e8eef2" stroke="#b2b8be" stroke-width="0.45"/>
<circle cx="283.81" cy="444.15" r="1.6" fill="#ccdee8" stroke="#b2b8be" stroke-width="0.45"/>
<circle cx="287.51" cy="444.08" r="1.6" fill="#e9eef2" stroke="#b2b8be" stroke-width="0.45"/>
<circle cx="291.12" cy="444.32" r="1.6" fill="#e6eef2" stroke="#b2b8be" stroke-width="0.45"/>
<circle cx="294.68" cy="443.9" r="1.6" fill="#e7eef2" stroke="#b2b8be" stroke-width="0.45"/>
<circle cx="299.2" cy="444.42" r="1.6" fill="#e6eef2" stroke="#b2b8be" stroke-width="0.45"/>
<circle cx="302.36" cy="443.81" r="1.6" fill="#e6eef2" stroke="#b2b8be" stroke-width="0.45"/>
<circle cx="306.62" cy="444.29" r="1.6" fill="#ccdee8" stroke="#b2b8be" stroke-width="0.45"/>
<circle cx="310.29" cy="444.59" r="1.6" fill="#ccdee8" stroke="#b2b8be" stroke-width="0.45"/>
<circle cx="313.76" cy="443.86" r="1.6" fill="#e6eef2" stroke="#b2b8be" stroke-width="0.45"/>
<circle cx="318.38" cy="444.25" r="1.6" fill="#ccdee8" stroke="#b2b8be" stroke-width="0.45"/>
<circle cx="321.65" cy="443.93" r="1.6" fill="#e5eef2" stroke="#b2b8be" stroke-width="0.45"/>
<circle cx="326.05" cy="444.07" r="1.6" fill="#ccdee8" stroke="#b2b8be" stroke-width="0.45"/>
<circle cx="329.4" cy="444.44" r="1.6" fill="#e8eef2" stroke="#b2b8be" stroke-width="0.45"/>
<circle cx="333.28" cy="443.86" r="1.6" fill="#ccdee8" stroke="#b2b8be" stroke-width="0.45"/>
<circle cx="336.9" cy="444.35" r="1.6" fill="#e5eef2" stroke="#b2b8be" stroke-width="0.45"/>
<circle cx="340.87" cy="443.83" r="1.6" fill="#ccdee8" stroke="#b2b8be" stroke-width="0.45"/>
<circle cx="344.87" cy="443.9" r="1.6" fill="#ccdee8" stroke="#b2b8be" stroke-width="0.45"/>
<circle cx="348.39" cy="444.66" r="1.6" fill="#eaeef2" stroke="#b2b8be" stroke-width="0.45"/>
<circle cx="352.49" cy="443.87" r="1.6" fill="#eaeef2" stroke="#b2b8be" stroke-width="0.45"/>
<circle cx="360.1" cy="444.21" r="1.6" fill="#ccdee8" stroke="#b2b8be" stroke-width="0.45"/>
<circle cx="364.16" cy="444" r="1.6" fill="#e9eef2" stroke="#b2b8be" stroke-width="0.45"/>
<circle cx="368.24" cy="444.63" r="1.6" fill="#eceef2" stroke="#b2b8be" stroke-width="0.45"/>
<circle cx="371.85" cy="444.55" r="1.6" fill="#9bc2de" stroke="#b2b8be" stroke-width="0.45"/>
<circle cx="375.39" cy="443.89" r="1.6" fill="#8cbadb" stroke="#8aa0b8" stroke-width="0.45"/>
<circle cx="227.29" cy="447.16" r="1.6" fill="#e8eef2" stroke="#b2b8be" stroke-width="0.45"/>
<circle cx="230.95" cy="447.4" r="1.6" fill="#e9eef2" stroke="#b2b8be" stroke-width="0.45"/>
<circle cx="239.55" cy="447.59" r="1.6" fill="#eaeef2" stroke="#b2b8be" stroke-width="0.45"/>
<circle cx="242.87" cy="447.69" r="1.6" fill="#e9eef2" stroke="#b2b8be" stroke-width="0.45"/>
<circle cx="246.92" cy="447.96" r="1.6" fill="#e9eef2" stroke="#b2b8be" stroke-width="0.45"/>
<circle cx="250.29" cy="447.39" r="1.6" fill="#e4eef2" stroke="#b2b8be" stroke-width="0.45"/>
<circle cx="254.42" cy="447.26" r="1.6" fill="#e9eef2" stroke="#b2b8be" stroke-width="0.45"/>
<circle cx="258.42" cy="447.5" r="1.6" fill="#e7eef2" stroke="#b2b8be" stroke-width="0.45"/>
<circle cx="262.06" cy="447.66" r="1.6" fill="#e6eef2" stroke="#b2b8be" stroke-width="0.45"/>
<circle cx="266.42" cy="447.92" r="1.6" fill="#a5c7df" stroke="#b2b8be" stroke-width="0.45"/>
<circle cx="269.96" cy="447.2" r="1.6" fill="#9cc3de" stroke="#b2b8be" stroke-width="0.45"/>
<circle cx="273.64" cy="447.81" r="1.6" fill="#e8eef2" stroke="#b2b8be" stroke-width="0.45"/>
<circle cx="277.57" cy="447.6" r="1.6" fill="#a5c7df" stroke="#b2b8be" stroke-width="0.45"/>
<circle cx="281.67" cy="447.44" r="1.6" fill="#ebeef2" stroke="#b2b8be" stroke-width="0.45"/>
<circle cx="285.04" cy="447.57" r="1.6" fill="#ccdee8" stroke="#b2b8be" stroke-width="0.45"/>
<circle cx="289.11" cy="447.35" r="1.6" fill="#e9eef2" stroke="#b2b8be" stroke-width="0.45"/>
<circle cx="292.72" cy="447.65" r="1.6" fill="#e9eef2" stroke="#b2b8be" stroke-width="0.45"/>
<circle cx="296.44" cy="448.04" r="1.6" fill="#e8eef2" stroke="#b2b8be" stroke-width="0.45"/>
<circle cx="300.43" cy="447.36" r="1.6" fill="#e7eef2" stroke="#b2b8be" stroke-width="0.45"/>
<circle cx="304.72" cy="447.8" r="1.6" fill="#e6eef2" stroke="#b2b8be" stroke-width="0.45"/>
<circle cx="308.41" cy="447.19" r="1.6" fill="#ccdee8" stroke="#b2b8be" stroke-width="0.45"/>
<circle cx="312.22" cy="447.52" r="1.6" fill="#e9eef2" stroke="#b2b8be" stroke-width="0.45"/>
<circle cx="315.76" cy="447.23" r="1.6" fill="#e7eef2" stroke="#b2b8be" stroke-width="0.45"/>
<circle cx="320.25" cy="447.39" r="1.6" fill="#ccdee8" stroke="#b2b8be" stroke-width="0.45"/>
<circle cx="323.85" cy="447.39" r="1.6" fill="#e5eef2" stroke="#b2b8be" stroke-width="0.45"/>
<circle cx="327.63" cy="448.04" r="1.6" fill="#ebeef2" stroke="#b2b8be" stroke-width="0.45"/>
<circle cx="331.63" cy="447.94" r="1.6" fill="#ccdee8" stroke="#b2b8be" stroke-width="0.45"/>
<circle cx="335.23" cy="447.6" r="1.6" fill="#e8eef2" stroke="#b2b8be" stroke-width="0.45"/>
<circle cx="338.94" cy="447.5" r="1.6" fill="#e9eef2" stroke="#b2b8be" stroke-width="0.45"/>
<circle cx="343.06" cy="447.23" r="1.6" fill="#eceef2" stroke="#b2b8be" stroke-width="0.45"/>
<circle cx="347.17" cy="447.53" r="1.6" fill="#ccdee8" stroke="#b2b8be" stroke-width="0.45"/>
<circle cx="350.94" cy="447.93" r="1.6" fill="#ebeef2" stroke="#b2b8be" stroke-width="0.45"/>
<circle cx="354.44" cy="447.3" r="1.6" fill="#eaeef2" stroke="#b2b8be" stroke-width="0.45"/>
<circle cx="358.39" cy="447.38" r="1.6" fill="#eceef2" stroke="#b2b8be" stroke-width="0.45"/>
<circle cx="362.09" cy="447.78" r="1.6" fill="#ebeef2" stroke="#b2b8be" stroke-width="0.45"/>
<circle cx="366.56" cy="447.37" r="1.6" fill="#6ca1cf" stroke="#8aa0b8" stroke-width="0.45"/>
<circle cx="370.06" cy="447.87" r="1.6" fill="#adcbe1" stroke="#b2b8be" stroke-width="0.45"/>
<circle cx="373.84" cy="447.7" r="1.6" fill="#6fa4d1" stroke="#8aa0b8" stroke-width="0.45"/>
<circle cx="377.71" cy="447.57" r="1.6" fill="#bdd4e3" stroke="#b2b8be" stroke-width="0.45"/>
<circle cx="225.34" cy="451.1" r="1.6" fill="#b1cde1" stroke="#b2b8be" stroke-width="0.45"/>
<circle cx="229.63" cy="450.52" r="1.6" fill="#b4cfe2" stroke="#b2b8be" stroke-width="0.45"/>
<circle cx="233.21" cy="450.71" r="1.6" fill="#699fce" stroke="#8aa0b8" stroke-width="0.45"/>
<circle cx="237.13" cy="450.67" r="1.6" fill="#ccdee8" stroke="#b2b8be" stroke-width="0.45"/>
<circle cx="241.4" cy="450.51" r="1.6" fill="#e6eef2" stroke="#b2b8be" stroke-width="0.45"/>
<circle cx="245.21" cy="450.73" r="1.6" fill="#ccdee8" stroke="#b2b8be" stroke-width="0.45"/>
<circle cx="249.16" cy="451.31" r="1.6" fill="#ccdee8" stroke="#b2b8be" stroke-width="0.45"/>
<circle cx="252.43" cy="451.28" r="1.6" fill="#e5eef2" stroke="#b2b8be" stroke-width="0.45"/>
<circle cx="256.49" cy="450.7" r="1.6" fill="#e9eef2" stroke="#b2b8be" stroke-width="0.45"/>
<circle cx="260.51" cy="451.2" r="1.6" fill="#e8eef2" stroke="#b2b8be" stroke-width="0.45"/>
<circle cx="264.03" cy="450.91" r="1.6" fill="#ccdee8" stroke="#b2b8be" stroke-width="0.45"/>
<circle cx="267.69" cy="450.66" r="1.6" fill="#cadae5" stroke="#b2b8be" stroke-width="0.45"/>
<circle cx="271.43" cy="450.86" r="1.6" fill="#285e9c" stroke="#8aa0b8" stroke-width="0.45"/>
<circle cx="275.55" cy="450.89" r="1.6" fill="#cadae5" stroke="#b2b8be" stroke-width="0.45"/>
<circle cx="279.55" cy="451.33" r="1.6" fill="#e7eef2" stroke="#b2b8be" stroke-width="0.45"/>
<circle cx="283.22" cy="450.89" r="1.6" fill="#ccdee8" stroke="#b2b8be" stroke-width="0.45"/>
<circle cx="287.57" cy="451.19" r="1.6" fill="#e5eef2" stroke="#b2b8be" stroke-width="0.45"/>
<circle cx="290.81" cy="450.51" r="1.6" fill="#e5eef2" stroke="#b2b8be" stroke-width="0.45"/>
<circle cx="298.46" cy="451.14" r="1.6" fill="#e7eef2" stroke="#b2b8be" stroke-width="0.45"/>
<circle cx="302.97" cy="450.78" r="1.6" fill="#ebeef2" stroke="#b2b8be" stroke-width="0.45"/>
<circle cx="306.91" cy="451.3" r="1.6" fill="#e6eef2" stroke="#b2b8be" stroke-width="0.45"/>
<circle cx="314.03" cy="450.91" r="1.6" fill="#eaeef2" stroke="#b2b8be" stroke-width="0.45"/>
<circle cx="317.59" cy="451.21" r="1.6" fill="#ccdee8" stroke="#b2b8be" stroke-width="0.45"/>
<circle cx="322" cy="450.98" r="1.6" fill="#e7eef2" stroke="#b2b8be" stroke-width="0.45"/>
<circle cx="325.28" cy="451.08" r="1.6" fill="#e5eef2" stroke="#b2b8be" stroke-width="0.45"/>
<circle cx="329.96" cy="450.91" r="1.6" fill="#ebeef2" stroke="#b2b8be" stroke-width="0.45"/>
<circle cx="333.57" cy="450.96" r="1.6" fill="#e6eef2" stroke="#b2b8be" stroke-width="0.45"/>
<circle cx="337.64" cy="451.13" r="1.6" fill="#ebeef2" stroke="#b2b8be" stroke-width="0.45"/>
<circle cx="340.82" cy="450.72" r="1.6" fill="#ccdee8" stroke="#b2b8be" stroke-width="0.45"/>
<circle cx="344.8" cy="450.5" r="1.6" fill="#e7eef2" stroke="#b2b8be" stroke-width="0.45"/>
<circle cx="349.11" cy="450.58" r="1.6" fill="#e9eef2" stroke="#b2b8be" stroke-width="0.45"/>
<circle cx="352.58" cy="451.01" r="1.6" fill="#ebeef2" stroke="#b2b8be" stroke-width="0.45"/>
<circle cx="356.79" cy="451.29" r="1.6" fill="#ebeef2" stroke="#b2b8be" stroke-width="0.45"/>
<circle cx="360.67" cy="450.86" r="1.6" fill="#e6eef2" stroke="#b2b8be" stroke-width="0.45"/>
<circle cx="364.15" cy="451.15" r="1.6" fill="#e5eef2" stroke="#b2b8be" stroke-width="0.45"/>
<circle cx="368.02" cy="451.03" r="1.6" fill="#5e97ca" stroke="#8aa0b8" stroke-width="0.45"/>
<circle cx="372.11" cy="451.15" r="1.6" fill="#669dcd" stroke="#8aa0b8" stroke-width="0.45"/>
<circle cx="375.98" cy="451" r="1.6" fill="#9cc2de" stroke="#b2b8be" stroke-width="0.45"/>
<circle cx="379.67" cy="450.51" r="1.6" fill="#b7d0e2" stroke="#b2b8be" stroke-width="0.45"/>
<circle cx="224" cy="454.4" r="1.6" fill="#a8c9e0" stroke="#b2b8be" stroke-width="0.45"/>
<circle cx="227.98" cy="454.46" r="1.6" fill="#c9d9e5" stroke="#b2b8be" stroke-width="0.45"/>
<circle cx="231.53" cy="454.59" r="1.6" fill="#ccdee8" stroke="#b2b8be" stroke-width="0.45"/>
<circle cx="235.57" cy="453.97" r="1.6" fill="#b8d1e2" stroke="#b2b8be" stroke-width="0.45"/>
<circle cx="238.66" cy="454.73" r="1.6" fill="#ccdee8" stroke="#b2b8be" stroke-width="0.45"/>
<circle cx="242.73" cy="453.98" r="1.6" fill="#e8eef2" stroke="#b2b8be" stroke-width="0.45"/>
<circle cx="246.87" cy="453.85" r="1.6" fill="#e5eef2" stroke="#b2b8be" stroke-width="0.45"/>
<circle cx="250.98" cy="454.36" r="1.6" fill="#ccdee8" stroke="#b2b8be" stroke-width="0.45"/>
<circle cx="254.92" cy="454.48" r="1.6" fill="#e8eef2" stroke="#b2b8be" stroke-width="0.45"/>
<circle cx="262.41" cy="454.57" r="1.6" fill="#e7eef2" stroke="#b2b8be" stroke-width="0.45"/>
<circle cx="265.94" cy="454.6" r="1.6" fill="#76a9d3" stroke="#8aa0b8" stroke-width="0.45"/>
<circle cx="269.84" cy="454.15" r="1.6" fill="#9fc4de" stroke="#b2b8be" stroke-width="0.45"/>
<circle cx="273.96" cy="454.03" r="1.6" fill="#a7c8e0" stroke="#b2b8be" stroke-width="0.45"/>
<circle cx="278.04" cy="453.94" r="1.6" fill="#e8eef2" stroke="#b2b8be" stroke-width="0.45"/>
<circle cx="281.04" cy="454.3" r="1.6" fill="#e7eef2" stroke="#b2b8be" stroke-width="0.45"/>
<circle cx="284.89" cy="454.3" r="1.6" fill="#e9eef2" stroke="#b2b8be" stroke-width="0.45"/>
<circle cx="292.91" cy="454.58" r="1.6" fill="#e9eef2" stroke="#b2b8be" stroke-width="0.45"/>
<circle cx="296.58" cy="454.49" r="1.6" fill="#e9eef2" stroke="#b2b8be" stroke-width="0.45"/>
<circle cx="300.39" cy="454.65" r="1.6" fill="#e7eef2" stroke="#b2b8be" stroke-width="0.45"/>
<circle cx="304.83" cy="454.34" r="1.6" fill="#e8eef2" stroke="#b2b8be" stroke-width="0.45"/>
<circle cx="308.12" cy="453.99" r="1.6" fill="#c2d6e4" stroke="#b2b8be" stroke-width="0.45"/>
<circle cx="311.9" cy="454.19" r="1.6" fill="#e9eef2" stroke="#b2b8be" stroke-width="0.45"/>
<circle cx="316.05" cy="454.73" r="1.6" fill="#ccdee8" stroke="#b2b8be" stroke-width="0.45"/>
<circle cx="320.34" cy="454" r="1.6" fill="#ccdee8" stroke="#b2b8be" stroke-width="0.45"/>
<circle cx="324.11" cy="453.96" r="1.6" fill="#eaeef2" stroke="#b2b8be" stroke-width="0.45"/>
<circle cx="327.85" cy="453.93" r="1.6" fill="#e7eef2" stroke="#b2b8be" stroke-width="0.45"/>
<circle cx="331.39" cy="454.58" r="1.6" fill="#ccdee8" stroke="#b2b8be" stroke-width="0.45"/>
<circle cx="335.74" cy="454.34" r="1.6" fill="#e7eef2" stroke="#b2b8be" stroke-width="0.45"/>
<circle cx="339.12" cy="454.55" r="1.6" fill="#e9eef2" stroke="#b2b8be" stroke-width="0.45"/>
<circle cx="343.02" cy="453.88" r="1.6" fill="#e9eef2" stroke="#b2b8be" stroke-width="0.45"/>
<circle cx="346.49" cy="454.47" r="1.6" fill="#e6eef2" stroke="#b2b8be" stroke-width="0.45"/>
<circle cx="351.08" cy="453.98" r="1.6" fill="#78abd4" stroke="#8aa0b8" stroke-width="0.45"/>
<circle cx="354.67" cy="454.42" r="1.6" fill="#e7eef2" stroke="#b2b8be" stroke-width="0.45"/>
<circle cx="358.86" cy="454.19" r="1.6" fill="#e4eef2" stroke="#b2b8be" stroke-width="0.45"/>
<circle cx="362.45" cy="454.26" r="1.6" fill="#e6eef2" stroke="#b2b8be" stroke-width="0.45"/>
<circle cx="370.01" cy="454.69" r="1.6" fill="#ebeef2" stroke="#b2b8be" stroke-width="0.45"/>
<circle cx="373.49" cy="454.02" r="1.6" fill="#ccdee8" stroke="#b2b8be" stroke-width="0.45"/>
<circle cx="377.72" cy="454.61" r="1.6" fill="#accae0" stroke="#b2b8be" stroke-width="0.45"/>
<circle cx="221.92" cy="457.21" r="1.6" fill="#adcbe0" stroke="#b2b8be" stroke-width="0.45"/>
<circle cx="225.35" cy="457.89" r="1.6" fill="#5c95c9" stroke="#8aa0b8" stroke-width="0.45"/>
<circle cx="229.91" cy="457.76" r="1.6" fill="#c8d9e5" stroke="#b2b8be" stroke-width="0.45"/>
<circle cx="233.41" cy="457.31" r="1.6" fill="#e8eef2" stroke="#b2b8be" stroke-width="0.45"/>
<circle cx="237.59" cy="457.5" r="1.6" fill="#ccdee8" stroke="#b2b8be" stroke-width="0.45"/>
<circle cx="241.01" cy="457.6" r="1.6" fill="#e6eef2" stroke="#b2b8be" stroke-width="0.45"/>
<circle cx="245.08" cy="457.51" r="1.6" fill="#e8eef2" stroke="#b2b8be" stroke-width="0.45"/>
<circle cx="249.01" cy="457.71" r="1.6" fill="#e6eef2" stroke="#b2b8be" stroke-width="0.45"/>
<circle cx="252.3" cy="457.35" r="1.6" fill="#e8eef2" stroke="#b2b8be" stroke-width="0.45"/>
<circle cx="256.78" cy="457.72" r="1.6" fill="#ccdee8" stroke="#b2b8be" stroke-width="0.45"/>
<circle cx="260.12" cy="458.07" r="1.6" fill="#eceef2" stroke="#b2b8be" stroke-width="0.45"/>
<circle cx="267.59" cy="457.9" r="1.6" fill="#91bddc" stroke="#8aa0b8" stroke-width="0.45"/>
<circle cx="271.91" cy="457.96" r="1.6" fill="#699fce" stroke="#8aa0b8" stroke-width="0.45"/>
<circle cx="276.05" cy="457.72" r="1.6" fill="#e9eef2" stroke="#b2b8be" stroke-width="0.45"/>
<circle cx="279.08" cy="457.7" r="1.6" fill="#eaeef2" stroke="#b2b8be" stroke-width="0.45"/>
<circle cx="283.37" cy="457.64" r="1.6" fill="#ebeef2" stroke="#b2b8be" stroke-width="0.45"/>
<circle cx="287" cy="457.47" r="1.6" fill="#eaeef2" stroke="#b2b8be" stroke-width="0.45"/>
<circle cx="291.51" cy="457.58" r="1.6" fill="#e4eef2" stroke="#b2b8be" stroke-width="0.45"/>
<circle cx="295.24" cy="457.99" r="1.6" fill="#e5eef2" stroke="#b2b8be" stroke-width="0.45"/>
<circle cx="298.69" cy="457.75" r="1.6" fill="#ccdee8" stroke="#b2b8be" stroke-width="0.45"/>
<circle cx="302.39" cy="458.03" r="1.6" fill="#e4eef2" stroke="#b2b8be" stroke-width="0.45"/>
<circle cx="306.05" cy="457.93" r="1.6" fill="#e9eef2" stroke="#b2b8be" stroke-width="0.45"/>
<circle cx="314.13" cy="457.51" r="1.6" fill="#eaeef2" stroke="#b2b8be" stroke-width="0.45"/>
<circle cx="318.33" cy="457.41" r="1.6" fill="#e9eef2" stroke="#b2b8be" stroke-width="0.45"/>
<circle cx="322.18" cy="457.44" r="1.6" fill="#e8eef2" stroke="#b2b8be" stroke-width="0.45"/>
<circle cx="326.1" cy="457.56" r="1.6" fill="#e5eef2" stroke="#b2b8be" stroke-width="0.45"/>
<circle cx="329.27" cy="457.31" r="1.6" fill="#ccdee8" stroke="#b2b8be" stroke-width="0.45"/>
<circle cx="333.43" cy="457.86" r="1.6" fill="#e6eef2" stroke="#b2b8be" stroke-width="0.45"/>
<circle cx="337.44" cy="457.2" r="1.6" fill="#e6eef2" stroke="#b2b8be" stroke-width="0.45"/>
<circle cx="341.34" cy="457.38" r="1.6" fill="#e8eef2" stroke="#b2b8be" stroke-width="0.45"/>
<circle cx="345.03" cy="458" r="1.6" fill="#e5eef2" stroke="#b2b8be" stroke-width="0.45"/>
<circle cx="348.63" cy="457.32" r="1.6" fill="#eaeef2" stroke="#b2b8be" stroke-width="0.45"/>
<circle cx="352.92" cy="457.47" r="1.6" fill="#e7eef2" stroke="#b2b8be" stroke-width="0.45"/>
<circle cx="356.68" cy="457.9" r="1.6" fill="#ccdee8" stroke="#b2b8be" stroke-width="0.45"/>
<circle cx="360.35" cy="457.81" r="1.6" fill="#e7eef2" stroke="#b2b8be" stroke-width="0.45"/>
<circle cx="363.99" cy="457.41" r="1.6" fill="#e4eef2" stroke="#b2b8be" stroke-width="0.45"/>
<circle cx="371.62" cy="457.95" r="1.6" fill="#b4cfe2" stroke="#b2b8be" stroke-width="0.45"/>
<circle cx="375.67" cy="457.56" r="1.6" fill="#9ac1dd" stroke="#b2b8be" stroke-width="0.45"/>
<circle cx="379.23" cy="458.06" r="1.6" fill="#b9d1e2" stroke="#b2b8be" stroke-width="0.45"/>
<circle cx="219.9" cy="461.18" r="1.6" fill="#e6eef2" stroke="#b2b8be" stroke-width="0.45"/>
<circle cx="223.26" cy="460.8" r="1.6" fill="#eaeef2" stroke="#b2b8be" stroke-width="0.45"/>
<circle cx="227.24" cy="460.73" r="1.6" fill="#e4eef2" stroke="#b2b8be" stroke-width="0.45"/>
<circle cx="231.81" cy="460.61" r="1.6" fill="#e4eef2" stroke="#b2b8be" stroke-width="0.45"/>
<circle cx="234.87" cy="461.35" r="1.6" fill="#e9eef2" stroke="#b2b8be" stroke-width="0.45"/>
<circle cx="239.11" cy="461.22" r="1.6" fill="#e5eef2" stroke="#b2b8be" stroke-width="0.45"/>
<circle cx="243.39" cy="461.38" r="1.6" fill="#ebeef2" stroke="#b2b8be" stroke-width="0.45"/>
<circle cx="246.63" cy="461.1" r="1.6" fill="#e6eef2" stroke="#b2b8be" stroke-width="0.45"/>
<circle cx="250.59" cy="460.75" r="1.6" fill="#eaeef2" stroke="#b2b8be" stroke-width="0.45"/>
<circle cx="254.56" cy="461.32" r="1.6" fill="#e5eef2" stroke="#b2b8be" stroke-width="0.45"/>
<circle cx="258.07" cy="460.69" r="1.6" fill="#b4cfe2" stroke="#b2b8be" stroke-width="0.45"/>
<circle cx="262.06" cy="460.83" r="1.6" fill="#508cc5" stroke="#8aa0b8" stroke-width="0.45"/>
<circle cx="266.28" cy="461" r="1.6" fill="#0d3974" stroke="#8aa0b8" stroke-width="0.45"/>
<circle cx="269.71" cy="460.7" r="1.6" fill="#a1c5df" stroke="#b2b8be" stroke-width="0.45"/>
<circle cx="273.93" cy="460.72" r="1.6" fill="#cadae5" stroke="#b2b8be" stroke-width="0.45"/>
<circle cx="277.92" cy="461.22" r="1.6" fill="#bbd2e3" stroke="#b2b8be" stroke-width="0.45"/>
<circle cx="281.23" cy="460.99" r="1.6" fill="#eaeef2" stroke="#b2b8be" stroke-width="0.45"/>
<circle cx="285.74" cy="460.62" r="1.6" fill="#ebeef2" stroke="#b2b8be" stroke-width="0.45"/>
<circle cx="289.18" cy="460.6" r="1.6" fill="#e9eef2" stroke="#b2b8be" stroke-width="0.45"/>
<circle cx="292.98" cy="460.92" r="1.6" fill="#e9eef2" stroke="#b2b8be" stroke-width="0.45"/>
<circle cx="297.21" cy="461.26" r="1.6" fill="#e7eef2" stroke="#b2b8be" stroke-width="0.45"/>
<circle cx="300.39" cy="460.84" r="1.6" fill="#e9eef2" stroke="#b2b8be" stroke-width="0.45"/>
<circle cx="304.93" cy="461.14" r="1.6" fill="#e6eef2" stroke="#b2b8be" stroke-width="0.45"/>
<circle cx="311.99" cy="460.92" r="1.6" fill="#e6eef2" stroke="#b2b8be" stroke-width="0.45"/>
<circle cx="315.82" cy="460.77" r="1.6" fill="#e5eef2" stroke="#b2b8be" stroke-width="0.45"/>
<circle cx="319.73" cy="460.6" r="1.6" fill="#e8eef2" stroke="#b2b8be" stroke-width="0.45"/>
<circle cx="324.12" cy="461.44" r="1.6" fill="#ebeef2" stroke="#b2b8be" stroke-width="0.45"/>
<circle cx="327.91" cy="460.85" r="1.6" fill="#ccdee8" stroke="#b2b8be" stroke-width="0.45"/>
<circle cx="331.87" cy="460.8" r="1.6" fill="#e8eef2" stroke="#b2b8be" stroke-width="0.45"/>
<circle cx="335.69" cy="460.63" r="1.6" fill="#ccdee8" stroke="#b2b8be" stroke-width="0.45"/>
<circle cx="338.8" cy="461.01" r="1.6" fill="#eaeef2" stroke="#b2b8be" stroke-width="0.45"/>
<circle cx="342.81" cy="461.13" r="1.6" fill="#e9eef2" stroke="#b2b8be" stroke-width="0.45"/>
<circle cx="346.95" cy="461.18" r="1.6" fill="#ebeef2" stroke="#b2b8be" stroke-width="0.45"/>
<circle cx="350.76" cy="461.14" r="1.6" fill="#eaeef2" stroke="#b2b8be" stroke-width="0.45"/>
<circle cx="354.98" cy="461.24" r="1.6" fill="#e8eef2" stroke="#b2b8be" stroke-width="0.45"/>
<circle cx="358.54" cy="460.62" r="1.6" fill="#ccdee8" stroke="#b2b8be" stroke-width="0.45"/>
<circle cx="361.88" cy="460.61" r="1.6" fill="#e5eef2" stroke="#b2b8be" stroke-width="0.45"/>
<circle cx="365.97" cy="461.14" r="1.6" fill="#ebeef2" stroke="#b2b8be" stroke-width="0.45"/>
<circle cx="370.06" cy="460.9" r="1.6" fill="#b8d1e2" stroke="#b2b8be" stroke-width="0.45"/>
<circle cx="373.52" cy="461.35" r="1.6" fill="#ccdee8" stroke="#b2b8be" stroke-width="0.45"/>
<circle cx="377.64" cy="460.89" r="1.6" fill="#e5eef2" stroke="#b2b8be" stroke-width="0.45"/>
<circle cx="381.41" cy="460.92" r="1.6" fill="#5e97cb" stroke="#8aa0b8" stroke-width="0.45"/>
<circle cx="221.97" cy="464.51" r="1.6" fill="#ebeef2" stroke="#b2b8be" stroke-width="0.45"/>
<circle cx="225.86" cy="464.38" r="1.6" fill="#ebeef2" stroke="#b2b8be" stroke-width="0.45"/>
<circle cx="229.18" cy="464.45" r="1.6" fill="#c6d8e5" stroke="#b2b8be" stroke-width="0.45"/>
<circle cx="232.89" cy="463.9" r="1.6" fill="#9bc2de" stroke="#b2b8be" stroke-width="0.45"/>
<circle cx="237.35" cy="464.37" r="1.6" fill="#9cc2de" stroke="#b2b8be" stroke-width="0.45"/>
<circle cx="240.68" cy="464.59" r="1.6" fill="#ebeef2" stroke="#b2b8be" stroke-width="0.45"/>
<circle cx="244.61" cy="464.32" r="1.6" fill="#6ba1cf" stroke="#8aa0b8" stroke-width="0.45"/>
<circle cx="248.88" cy="464.3" r="1.6" fill="#e7eef2" stroke="#b2b8be" stroke-width="0.45"/>
<circle cx="252.94" cy="464.14" r="1.6" fill="#e7eef2" stroke="#b2b8be" stroke-width="0.45"/>
<circle cx="256.63" cy="464.24" r="1.6" fill="#e9eef2" stroke="#b2b8be" stroke-width="0.45"/>
<circle cx="259.9" cy="464.45" r="1.6" fill="#e6eef2" stroke="#b2b8be" stroke-width="0.45"/>
<circle cx="263.81" cy="464.13" r="1.6" fill="#ccdee8" stroke="#b2b8be" stroke-width="0.45"/>
<circle cx="267.83" cy="464.44" r="1.6" fill="#e8eef2" stroke="#b2b8be" stroke-width="0.45"/>
<circle cx="271.4" cy="464.1" r="1.6" fill="#b0cde1" stroke="#b2b8be" stroke-width="0.45"/>
<circle cx="275.98" cy="464.11" r="1.6" fill="#e9eef2" stroke="#b2b8be" stroke-width="0.45"/>
<circle cx="279.74" cy="464.45" r="1.6" fill="#e8eef2" stroke="#b2b8be" stroke-width="0.45"/>
<circle cx="283.72" cy="464.08" r="1.6" fill="#ebeef2" stroke="#b2b8be" stroke-width="0.45"/>
<circle cx="286.9" cy="464.25" r="1.6" fill="#e5eef2" stroke="#b2b8be" stroke-width="0.45"/>
<circle cx="291.03" cy="464.35" r="1.6" fill="#e6eef2" stroke="#b2b8be" stroke-width="0.45"/>
<circle cx="295.06" cy="464.4" r="1.6" fill="#e5eef2" stroke="#b2b8be" stroke-width="0.45"/>
<circle cx="298.41" cy="464.59" r="1.6" fill="#ebeef2" stroke="#b2b8be" stroke-width="0.45"/>
<circle cx="302.6" cy="464.49" r="1.6" fill="#e8eef2" stroke="#b2b8be" stroke-width="0.45"/>
<circle cx="306.58" cy="464.08" r="1.6" fill="#e6eef2" stroke="#b2b8be" stroke-width="0.45"/>
<circle cx="310.74" cy="464.27" r="1.6" fill="#eceef2" stroke="#b2b8be" stroke-width="0.45"/>
<circle cx="318.09" cy="464.7" r="1.6" fill="#e5eef2" stroke="#b2b8be" stroke-width="0.45"/>
<circle cx="322.24" cy="463.97" r="1.6" fill="#e7eef2" stroke="#b2b8be" stroke-width="0.45"/>
<circle cx="325.86" cy="464.61" r="1.6" fill="#ccdee8" stroke="#b2b8be" stroke-width="0.45"/>
<circle cx="329.77" cy="464.56" r="1.6" fill="#ccdee8" stroke="#b2b8be" stroke-width="0.45"/>
<circle cx="333.45" cy="464.48" r="1.6" fill="#e5eef2" stroke="#b2b8be" stroke-width="0.45"/>
<circle cx="337.03" cy="464.44" r="1.6" fill="#e8eef2" stroke="#b2b8be" stroke-width="0.45"/>
<circle cx="341.17" cy="464.53" r="1.6" fill="#e5eef2" stroke="#b2b8be" stroke-width="0.45"/>
<circle cx="344.72" cy="464.14" r="1.6" fill="#ccdee8" stroke="#b2b8be" stroke-width="0.45"/>
<circle cx="348.63" cy="463.91" r="1.6" fill="#e7eef2" stroke="#b2b8be" stroke-width="0.45"/>
<circle cx="352.43" cy="464.68" r="1.6" fill="#e7eef2" stroke="#b2b8be" stroke-width="0.45"/>
<circle cx="356.85" cy="464.75" r="1.6" fill="#ccdee8" stroke="#b2b8be" stroke-width="0.45"/>
<circle cx="360.76" cy="464.62" r="1.6" fill="#ccdee8" stroke="#b2b8be" stroke-width="0.45"/>
<circle cx="363.79" cy="464.29" r="1.6" fill="#ebeef2" stroke="#b2b8be" stroke-width="0.45"/>
<circle cx="368.06" cy="464.5" r="1.6" fill="#e5eef2" stroke="#b2b8be" stroke-width="0.45"/>
<circle cx="372.09" cy="463.99" r="1.6" fill="#e9eef2" stroke="#b2b8be" stroke-width="0.45"/>
<circle cx="375.81" cy="463.91" r="1.6" fill="#9ec4de" stroke="#b2b8be" stroke-width="0.45"/>
<circle cx="379.58" cy="464.68" r="1.6" fill="#b1cde1" stroke="#b2b8be" stroke-width="0.45"/>
<circle cx="219.99" cy="467.71" r="1.6" fill="#c4d7e4" stroke="#b2b8be" stroke-width="0.45"/>
<circle cx="223.85" cy="467.31" r="1.6" fill="#bbd3e3" stroke="#b2b8be" stroke-width="0.45"/>
<circle cx="227.76" cy="467.34" r="1.6" fill="#ccdee8" stroke="#b2b8be" stroke-width="0.45"/>
<circle cx="231.83" cy="467.43" r="1.6" fill="#e8eef2" stroke="#b2b8be" stroke-width="0.45"/>
<circle cx="235.05" cy="467.27" r="1.6" fill="#bdd3e3" stroke="#b2b8be" stroke-width="0.45"/>
<circle cx="238.69" cy="468.01" r="1.6" fill="#e9eef2" stroke="#b2b8be" stroke-width="0.45"/>
<circle cx="242.73" cy="467.89" r="1.6" fill="#ebeef2" stroke="#b2b8be" stroke-width="0.45"/>
<circle cx="246.66" cy="467.43" r="1.6" fill="#e8eef2" stroke="#b2b8be" stroke-width="0.45"/>
<circle cx="250.88" cy="467.83" r="1.6" fill="#ccdee8" stroke="#b2b8be" stroke-width="0.45"/>
<circle cx="254.42" cy="467.41" r="1.6" fill="#ebeef2" stroke="#b2b8be" stroke-width="0.45"/>
<circle cx="258.55" cy="468.13" r="1.6" fill="#ccdee8" stroke="#b2b8be" stroke-width="0.45"/>
<circle cx="262.23" cy="467.89" r="1.6" fill="#e7eef2" stroke="#b2b8be" stroke-width="0.45"/>
<circle cx="266.47" cy="467.32" r="1.6" fill="#ccdee8" stroke="#b2b8be" stroke-width="0.45"/>
<circle cx="270.29" cy="467.28" r="1.6" fill="#a3c6df" stroke="#b2b8be" stroke-width="0.45"/>
<circle cx="273.43" cy="467.99" r="1.6" fill="#e6eef2" stroke="#b2b8be" stroke-width="0.45"/>
<circle cx="277.68" cy="467.73" r="1.6" fill="#e8eef2" stroke="#b2b8be" stroke-width="0.45"/>
<circle cx="281.01" cy="467.34" r="1.6" fill="#eaeef2" stroke="#b2b8be" stroke-width="0.45"/>
<circle cx="285.48" cy="468.06" r="1.6" fill="#eaeef2" stroke="#b2b8be" stroke-width="0.45"/>
<circle cx="288.71" cy="468.05" r="1.6" fill="#e9eef2" stroke="#b2b8be" stroke-width="0.45"/>
<circle cx="292.58" cy="467.61" r="1.6" fill="#bfd5e3" stroke="#b2b8be" stroke-width="0.45"/>
<circle cx="297.07" cy="467.4" r="1.6" fill="#ccdee8" stroke="#b2b8be" stroke-width="0.45"/>
<circle cx="300.29" cy="468.04" r="1.6" fill="#e7eef2" stroke="#b2b8be" stroke-width="0.45"/>
<circle cx="304.3" cy="467.85" r="1.6" fill="#e5eef2" stroke="#b2b8be" stroke-width="0.45"/>
<circle cx="308.38" cy="467.55" r="1.6" fill="#ccdee8" stroke="#b2b8be" stroke-width="0.45"/>
<circle cx="312.52" cy="467.59" r="1.6" fill="#ebeef2" stroke="#b2b8be" stroke-width="0.45"/>
<circle cx="315.71" cy="467.33" r="1.6" fill="#eceef2" stroke="#b2b8be" stroke-width="0.45"/>
<circle cx="320.28" cy="467.48" r="1.6" fill="#e5eef2" stroke="#b2b8be" stroke-width="0.45"/>
<circle cx="324.19" cy="467.79" r="1.6" fill="#8cbadb" stroke="#8aa0b8" stroke-width="0.45"/>
<circle cx="327.47" cy="467.48" r="1.6" fill="#76a9d3" stroke="#8aa0b8" stroke-width="0.45"/>
<circle cx="335.6" cy="467.41" r="1.6" fill="#ccdee8" stroke="#b2b8be" stroke-width="0.45"/>
<circle cx="339.23" cy="467.32" r="1.6" fill="#eaeef2" stroke="#b2b8be" stroke-width="0.45"/>
<circle cx="343.49" cy="467.72" r="1.6" fill="#ccdee8" stroke="#b2b8be" stroke-width="0.45"/>
<circle cx="347.31" cy="467.37" r="1.6" fill="#eaeef2" stroke="#b2b8be" stroke-width="0.45"/>
<circle cx="351.04" cy="467.91" r="1.6" fill="#ccdee8" stroke="#b2b8be" stroke-width="0.45"/>
<circle cx="354.5" cy="467.32" r="1.6" fill="#eaeef2" stroke="#b2b8be" stroke-width="0.45"/>
<circle cx="358.69" cy="467.42" r="1.6" fill="#e7eef2" stroke="#b2b8be" stroke-width="0.45"/>
<circle cx="361.99" cy="467.81" r="1.6" fill="#eaeef2" stroke="#b2b8be" stroke-width="0.45"/>
<circle cx="366.01" cy="467.43" r="1.6" fill="#e7eef2" stroke="#b2b8be" stroke-width="0.45"/>
<circle cx="369.59" cy="467.33" r="1.6" fill="#0b3671" stroke="#8aa0b8" stroke-width="0.45"/>
<circle cx="374.08" cy="467.3" r="1.6" fill="#9bc2de" stroke="#b2b8be" stroke-width="0.45"/>
<circle cx="377.99" cy="468.11" r="1.6" fill="#b4cfe2" stroke="#b2b8be" stroke-width="0.45"/>
<circle cx="381.77" cy="468.03" r="1.6" fill="#bad2e3" stroke="#b2b8be" stroke-width="0.45"/>
<circle cx="221.33" cy="471.34" r="1.6" fill="#84b4d8" stroke="#8aa0b8" stroke-width="0.45"/>
<circle cx="225.97" cy="471.12" r="1.6" fill="#a0c4de" stroke="#b2b8be" stroke-width="0.45"/>
<circle cx="229.48" cy="470.98" r="1.6" fill="#5f97cb" stroke="#8aa0b8" stroke-width="0.45"/>
<circle cx="232.9" cy="470.93" r="1.6" fill="#e5eef2" stroke="#b2b8be" stroke-width="0.45"/>
<circle cx="236.98" cy="470.93" r="1.6" fill="#96bfdd" stroke="#8aa0b8" stroke-width="0.45"/>
<circle cx="241.25" cy="470.97" r="1.6" fill="#ccdee8" stroke="#b2b8be" stroke-width="0.45"/>
<circle cx="245.27" cy="470.8" r="1.6" fill="#e9eef2" stroke="#b2b8be" stroke-width="0.45"/>
<circle cx="248.6" cy="471.39" r="1.6" fill="#e6eef2" stroke="#b2b8be" stroke-width="0.45"/>
<circle cx="252.64" cy="471.37" r="1.6" fill="#ccdee8" stroke="#b2b8be" stroke-width="0.45"/>
<circle cx="256.2" cy="471.25" r="1.6" fill="#e6eef2" stroke="#b2b8be" stroke-width="0.45"/>
<circle cx="259.9" cy="470.79" r="1.6" fill="#eaeef2" stroke="#b2b8be" stroke-width="0.45"/>
<circle cx="263.95" cy="470.72" r="1.6" fill="#ebeef2" stroke="#b2b8be" stroke-width="0.45"/>
<circle cx="268.2" cy="470.97" r="1.6" fill="#c6d8e5" stroke="#b2b8be" stroke-width="0.45"/>
<circle cx="271.97" cy="471.44" r="1.6" fill="#6ca1cf" stroke="#8aa0b8" stroke-width="0.45"/>
<circle cx="276.02" cy="471.26" r="1.6" fill="#e5eef2" stroke="#b2b8be" stroke-width="0.45"/>
<circle cx="279.76" cy="470.87" r="1.6" fill="#e5eef2" stroke="#b2b8be" stroke-width="0.45"/>
<circle cx="283.54" cy="470.82" r="1.6" fill="#e5eef2" stroke="#b2b8be" stroke-width="0.45"/>
<circle cx="287.4" cy="470.69" r="1.6" fill="#ccdee8" stroke="#b2b8be" stroke-width="0.45"/>
<circle cx="291.35" cy="471.23" r="1.6" fill="#ebeef2" stroke="#b2b8be" stroke-width="0.45"/>
<circle cx="294.96" cy="471" r="1.6" fill="#ccdee8" stroke="#b2b8be" stroke-width="0.45"/>
<circle cx="298.96" cy="470.92" r="1.6" fill="#e6eef2" stroke="#b2b8be" stroke-width="0.45"/>
<circle cx="302.31" cy="471.34" r="1.6" fill="#e8eef2" stroke="#b2b8be" stroke-width="0.45"/>
<circle cx="306.39" cy="471.3" r="1.6" fill="#eaeef2" stroke="#b2b8be" stroke-width="0.45"/>
<circle cx="309.88" cy="470.99" r="1.6" fill="#ebeef2" stroke="#b2b8be" stroke-width="0.45"/>
<circle cx="313.98" cy="470.69" r="1.6" fill="#e6eef2" stroke="#b2b8be" stroke-width="0.45"/>
<circle cx="317.74" cy="470.97" r="1.6" fill="#e6eef2" stroke="#b2b8be" stroke-width="0.45"/>
<circle cx="321.68" cy="470.87" r="1.6" fill="#ebeef2" stroke="#b2b8be" stroke-width="0.45"/>
<circle cx="326.1" cy="471.12" r="1.6" fill="#eceef2" stroke="#b2b8be" stroke-width="0.45"/>
<circle cx="329.84" cy="470.74" r="1.6" fill="#cadae5" stroke="#b2b8be" stroke-width="0.45"/>
<circle cx="333.65" cy="471.07" r="1.6" fill="#5c95ca" stroke="#8aa0b8" stroke-width="0.45"/>
<circle cx="337.29" cy="471.09" r="1.6" fill="#e8eef2" stroke="#b2b8be" stroke-width="0.45"/>
<circle cx="340.98" cy="471.44" r="1.6" fill="#eaeef2" stroke="#b2b8be" stroke-width="0.45"/>
<circle cx="344.79" cy="470.95" r="1.6" fill="#e8eef2" stroke="#b2b8be" stroke-width="0.45"/>
<circle cx="348.52" cy="471.41" r="1.6" fill="#e6eef2" stroke="#b2b8be" stroke-width="0.45"/>
<circle cx="352.44" cy="471.08" r="1.6" fill="#e9eef2" stroke="#b2b8be" stroke-width="0.45"/>
<circle cx="356.27" cy="470.66" r="1.6" fill="#e6eef2" stroke="#b2b8be" stroke-width="0.45"/>
<circle cx="360.63" cy="471.36" r="1.6" fill="#e8eef2" stroke="#b2b8be" stroke-width="0.45"/>
<circle cx="363.83" cy="470.72" r="1.6" fill="#eaeef2" stroke="#b2b8be" stroke-width="0.45"/>
<circle cx="372.01" cy="470.77" r="1.6" fill="#e5eef2" stroke="#b2b8be" stroke-width="0.45"/>
<circle cx="376" cy="471.41" r="1.6" fill="#5c95c9" stroke="#8aa0b8" stroke-width="0.45"/>
<circle cx="379.64" cy="471.16" r="1.6" fill="#75a9d3" stroke="#8aa0b8" stroke-width="0.45"/>
<circle cx="383.22" cy="470.91" r="1.6" fill="#5c95ca" stroke="#8aa0b8" stroke-width="0.45"/>
<circle cx="219.63" cy="474.69" r="1.6" fill="#eaeef2" stroke="#b2b8be" stroke-width="0.45"/>
<circle cx="223.31" cy="474.65" r="1.6" fill="#9bc2de" stroke="#b2b8be" stroke-width="0.45"/>
<circle cx="227.82" cy="474.39" r="1.6" fill="#c2d6e4" stroke="#b2b8be" stroke-width="0.45"/>
<circle cx="231.17" cy="474.13" r="1.6" fill="#e4eef2" stroke="#b2b8be" stroke-width="0.45"/>
<circle cx="235.45" cy="474.73" r="1.6" fill="#ebeef2" stroke="#b2b8be" stroke-width="0.45"/>
<circle cx="238.72" cy="474.37" r="1.6" fill="#e6eef2" stroke="#b2b8be" stroke-width="0.45"/>
<circle cx="243.06" cy="474.64" r="1.6" fill="#ccdee8" stroke="#b2b8be" stroke-width="0.45"/>
<circle cx="246.68" cy="474.56" r="1.6" fill="#e8eef2" stroke="#b2b8be" stroke-width="0.45"/>
<circle cx="250.99" cy="473.99" r="1.6" fill="#eaeef2" stroke="#b2b8be" stroke-width="0.45"/>
<circle cx="258.72" cy="474.37" r="1.6" fill="#e7eef2" stroke="#b2b8be" stroke-width="0.45"/>
<circle cx="262.48" cy="474.08" r="1.6" fill="#9ac1dd" stroke="#b2b8be" stroke-width="0.45"/>
<circle cx="266.48" cy="474.15" r="1.6" fill="#ccdee8" stroke="#b2b8be" stroke-width="0.45"/>
<circle cx="270" cy="474.46" r="1.6" fill="#548fc7" stroke="#8aa0b8" stroke-width="0.45"/>
<circle cx="274.07" cy="474.27" r="1.6" fill="#ccdee8" stroke="#b2b8be" stroke-width="0.45"/>
<circle cx="277.81" cy="474.63" r="1.6" fill="#ccdee8" stroke="#b2b8be" stroke-width="0.45"/>
<circle cx="281.36" cy="474.73" r="1.6" fill="#e5eef2" stroke="#b2b8be" stroke-width="0.45"/>
<circle cx="285.1" cy="474.21" r="1.6" fill="#e7eef2" stroke="#b2b8be" stroke-width="0.45"/>
<circle cx="293.28" cy="474.66" r="1.6" fill="#e8eef2" stroke="#b2b8be" stroke-width="0.45"/>
<circle cx="296.63" cy="474.43" r="1.6" fill="#e6eef2" stroke="#b2b8be" stroke-width="0.45"/>
<circle cx="300.82" cy="474.4" r="1.6" fill="#e6eef2" stroke="#b2b8be" stroke-width="0.45"/>
<circle cx="304.18" cy="473.94" r="1.6" fill="#ccdee8" stroke="#b2b8be" stroke-width="0.45"/>
<circle cx="312.62" cy="473.96" r="1.6" fill="#e4eef2" stroke="#b2b8be" stroke-width="0.45"/>
<circle cx="316.08" cy="473.99" r="1.6" fill="#ebeef2" stroke="#b2b8be" stroke-width="0.45"/>
<circle cx="319.83" cy="474.61" r="1.6" fill="#e7eef2" stroke="#b2b8be" stroke-width="0.45"/>
<circle cx="323.5" cy="474.61" r="1.6" fill="#e6eef2" stroke="#b2b8be" stroke-width="0.45"/>
<circle cx="327.26" cy="474.03" r="1.6" fill="#e9eef2" stroke="#b2b8be" stroke-width="0.45"/>
<circle cx="331.95" cy="474.26" r="1.6" fill="#679dcd" stroke="#8aa0b8" stroke-width="0.45"/>
<circle cx="335.79" cy="474.65" r="1.6" fill="#1f518d" stroke="#8aa0b8" stroke-width="0.45"/>
<circle cx="339.1" cy="474.02" r="1.6" fill="#e5eef2" stroke="#b2b8be" stroke-width="0.45"/>
<circle cx="343.04" cy="474.59" r="1.6" fill="#e7eef2" stroke="#b2b8be" stroke-width="0.45"/>
<circle cx="346.77" cy="474.75" r="1.6" fill="#ccdee8" stroke="#b2b8be" stroke-width="0.45"/>
<circle cx="350.52" cy="474.34" r="1.6" fill="#ccdee8" stroke="#b2b8be" stroke-width="0.45"/>
<circle cx="358.31" cy="474.3" r="1.6" fill="#ebeef2" stroke="#b2b8be" stroke-width="0.45"/>
<circle cx="362.08" cy="474.65" r="1.6" fill="#ebeef2" stroke="#b2b8be" stroke-width="0.45"/>
<circle cx="366.23" cy="474.36" r="1.6" fill="#ebeef2" stroke="#b2b8be" stroke-width="0.45"/>
<circle cx="369.57" cy="474.18" r="1.6" fill="#eaeef2" stroke="#b2b8be" stroke-width="0.45"/>
<circle cx="374.09" cy="474.46" r="1.6" fill="#e5eef2" stroke="#b2b8be" stroke-width="0.45"/>
<circle cx="377.72" cy="474.05" r="1.6" fill="#a7c8e0" stroke="#b2b8be" stroke-width="0.45"/>
<circle cx="381.59" cy="474.46" r="1.6" fill="#ccdee8" stroke="#b2b8be" stroke-width="0.45"/>
<circle cx="218.01" cy="477.99" r="1.6" fill="#eceef2" stroke="#b2b8be" stroke-width="0.45"/>
<circle cx="221.98" cy="478.02" r="1.6" fill="#ccdee8" stroke="#b2b8be" stroke-width="0.45"/>
<circle cx="225.91" cy="477.41" r="1.6" fill="#c2d6e4" stroke="#b2b8be" stroke-width="0.45"/>
<circle cx="229.64" cy="477.99" r="1.6" fill="#548fc7" stroke="#8aa0b8" stroke-width="0.45"/>
<circle cx="232.98" cy="477.61" r="1.6" fill="#e8eef2" stroke="#b2b8be" stroke-width="0.45"/>
<circle cx="240.87" cy="478.04" r="1.6" fill="#e5eef2" stroke="#b2b8be" stroke-width="0.45"/>
<circle cx="244.87" cy="477.43" r="1.6" fill="#e5eef2" stroke="#b2b8be" stroke-width="0.45"/>
<circle cx="248.53" cy="477.43" r="1.6" fill="#e7eef2" stroke="#b2b8be" stroke-width="0.45"/>
<circle cx="252.61" cy="477.46" r="1.6" fill="#e7eef2" stroke="#b2b8be" stroke-width="0.45"/>
<circle cx="256.28" cy="477.61" r="1.6" fill="#ccdee8" stroke="#b2b8be" stroke-width="0.45"/>
<circle cx="259.92" cy="477.51" r="1.6" fill="#e6eef2" stroke="#b2b8be" stroke-width="0.45"/>
<circle cx="264.56" cy="478.09" r="1.6" fill="#bdd4e3" stroke="#b2b8be" stroke-width="0.45"/>
<circle cx="268.17" cy="478.04" r="1.6" fill="#c4d7e4" stroke="#b2b8be" stroke-width="0.45"/>
<circle cx="271.71" cy="477.52" r="1.6" fill="#b3cee1" stroke="#b2b8be" stroke-width="0.45"/>
<circle cx="275.94" cy="477.53" r="1.6" fill="#ccdee8" stroke="#b2b8be" stroke-width="0.45"/>
<circle cx="279.55" cy="477.88" r="1.6" fill="#e7eef2" stroke="#b2b8be" stroke-width="0.45"/>
<circle cx="283.13" cy="477.78" r="1.6" fill="#e8eef2" stroke="#b2b8be" stroke-width="0.45"/>
<circle cx="287.17" cy="477.72" r="1.6" fill="#ebeef2" stroke="#b2b8be" stroke-width="0.45"/>
<circle cx="291.06" cy="477.82" r="1.6" fill="#ccdee8" stroke="#b2b8be" stroke-width="0.45"/>
<circle cx="294.53" cy="477.71" r="1.6" fill="#e5eef2" stroke="#b2b8be" stroke-width="0.45"/>
<circle cx="298.42" cy="478.13" r="1.6" fill="#e7eef2" stroke="#b2b8be" stroke-width="0.45"/>
<circle cx="302.22" cy="477.55" r="1.6" fill="#ccdee8" stroke="#b2b8be" stroke-width="0.45"/>
<circle cx="306.91" cy="477.75" r="1.6" fill="#bfd4e3" stroke="#b2b8be" stroke-width="0.45"/>
<circle cx="310.15" cy="477.65" r="1.6" fill="#eaeef2" stroke="#b2b8be" stroke-width="0.45"/>
<circle cx="314.09" cy="478.07" r="1.6" fill="#e6eef2" stroke="#b2b8be" stroke-width="0.45"/>
<circle cx="318.02" cy="477.38" r="1.6" fill="#eceef2" stroke="#b2b8be" stroke-width="0.45"/>
<circle cx="321.89" cy="477.75" r="1.6" fill="#e7eef2" stroke="#b2b8be" stroke-width="0.45"/>
<circle cx="325.68" cy="477.58" r="1.6" fill="#82b2d8" stroke="#8aa0b8" stroke-width="0.45"/>
<circle cx="329.9" cy="477.36" r="1.6" fill="#a3c6df" stroke="#b2b8be" stroke-width="0.45"/>
<circle cx="333.13" cy="478.1" r="1.6" fill="#538ec6" stroke="#8aa0b8" stroke-width="0.45"/>
<circle cx="336.97" cy="477.82" r="1.6" fill="#ebeef2" stroke="#b2b8be" stroke-width="0.45"/>
<circle cx="341.43" cy="477.39" r="1.6" fill="#e5eef2" stroke="#b2b8be" stroke-width="0.45"/>
<circle cx="344.65" cy="477.84" r="1.6" fill="#eaeef2" stroke="#b2b8be" stroke-width="0.45"/>
<circle cx="348.5" cy="477.62" r="1.6" fill="#e6eef2" stroke="#b2b8be" stroke-width="0.45"/>
<circle cx="353" cy="477.4" r="1.6" fill="#e7eef2" stroke="#b2b8be" stroke-width="0.45"/>
<circle cx="356.25" cy="477.59" r="1.6" fill="#e6eef2" stroke="#b2b8be" stroke-width="0.45"/>
<circle cx="360.38" cy="477.34" r="1.6" fill="#e7eef2" stroke="#b2b8be" stroke-width="0.45"/>
<circle cx="364.52" cy="477.89" r="1.6" fill="#e5eef2" stroke="#b2b8be" stroke-width="0.45"/>
<circle cx="368.26" cy="477.97" r="1.6" fill="#eaeef2" stroke="#b2b8be" stroke-width="0.45"/>
<circle cx="371.87" cy="477.94" r="1.6" fill="#ccdee8" stroke="#b2b8be" stroke-width="0.45"/>
<circle cx="376.05" cy="477.99" r="1.6" fill="#e8eef2" stroke="#b2b8be" stroke-width="0.45"/>
<circle cx="380.04" cy="477.54" r="1.6" fill="#e7eef2" stroke="#b2b8be" stroke-width="0.45"/>
<circle cx="383.59" cy="477.33" r="1.6" fill="#ccdee8" stroke="#b2b8be" stroke-width="0.45"/>
<circle cx="219.46" cy="481.5" r="1.6" fill="#ccdee8" stroke="#b2b8be" stroke-width="0.45"/>
<circle cx="223.92" cy="481.49" r="1.6" fill="#9cc3de" stroke="#b2b8be" stroke-width="0.45"/>
<circle cx="227.36" cy="481.16" r="1.6" fill="#afcce1" stroke="#b2b8be" stroke-width="0.45"/>
<circle cx="231.76" cy="480.97" r="1.6" fill="#ccdee8" stroke="#b2b8be" stroke-width="0.45"/>
<circle cx="234.8" cy="480.87" r="1.6" fill="#abcae0" stroke="#b2b8be" stroke-width="0.45"/>
<circle cx="239.02" cy="480.9" r="1.6" fill="#e5eef2" stroke="#b2b8be" stroke-width="0.45"/>
<circle cx="242.77" cy="481.31" r="1.6" fill="#e7eef2" stroke="#b2b8be" stroke-width="0.45"/>
<circle cx="246.82" cy="480.82" r="1.6" fill="#ccdee8" stroke="#b2b8be" stroke-width="0.45"/>
<circle cx="250.96" cy="481.23" r="1.6" fill="#e7eef2" stroke="#b2b8be" stroke-width="0.45"/>
<circle cx="254.07" cy="481.41" r="1.6" fill="#e8eef2" stroke="#b2b8be" stroke-width="0.45"/>
<circle cx="258.56" cy="480.8" r="1.6" fill="#ccdee8" stroke="#b2b8be" stroke-width="0.45"/>
<circle cx="262.25" cy="481.4" r="1.6" fill="#e8eef2" stroke="#b2b8be" stroke-width="0.45"/>
<circle cx="266.02" cy="481.25" r="1.6" fill="#e7eef2" stroke="#b2b8be" stroke-width="0.45"/>
<circle cx="269.7" cy="481.54" r="1.6" fill="#0a336e" stroke="#8aa0b8" stroke-width="0.45"/>
<circle cx="273.99" cy="481.03" r="1.6" fill="#e8eef2" stroke="#b2b8be" stroke-width="0.45"/>
<circle cx="278.02" cy="481.3" r="1.6" fill="#ccdee8" stroke="#b2b8be" stroke-width="0.45"/>
<circle cx="281.31" cy="480.85" r="1.6" fill="#e9eef2" stroke="#b2b8be" stroke-width="0.45"/>
<circle cx="284.94" cy="481.33" r="1.6" fill="#e8eef2" stroke="#b2b8be" stroke-width="0.45"/>
<circle cx="288.77" cy="481.01" r="1.6" fill="#e9eef2" stroke="#b2b8be" stroke-width="0.45"/>
<circle cx="293.2" cy="481.37" r="1.6" fill="#eaeef2" stroke="#b2b8be" stroke-width="0.45"/>
<circle cx="296.68" cy="481.42" r="1.6" fill="#e6eef2" stroke="#b2b8be" stroke-width="0.45"/>
<circle cx="300.63" cy="481.46" r="1.6" fill="#e4eef2" stroke="#b2b8be" stroke-width="0.45"/>
<circle cx="304.51" cy="481.5" r="1.6" fill="#e8eef2" stroke="#b2b8be" stroke-width="0.45"/>
<circle cx="308.09" cy="481.42" r="1.6" fill="#e5eef2" stroke="#b2b8be" stroke-width="0.45"/>
<circle cx="311.82" cy="481.53" r="1.6" fill="#eaeef2" stroke="#b2b8be" stroke-width="0.45"/>
<circle cx="319.69" cy="480.74" r="1.6" fill="#e9eef2" stroke="#b2b8be" stroke-width="0.45"/>
<circle cx="324.09" cy="480.68" r="1.6" fill="#e8eef2" stroke="#b2b8be" stroke-width="0.45"/>
<circle cx="327.99" cy="481.08" r="1.6" fill="#e8eef2" stroke="#b2b8be" stroke-width="0.45"/>
<circle cx="331.19" cy="481.41" r="1.6" fill="#9fc4de" stroke="#b2b8be" stroke-width="0.45"/>
<circle cx="335.33" cy="480.96" r="1.6" fill="#ebeef2" stroke="#b2b8be" stroke-width="0.45"/>
<circle cx="338.97" cy="481.32" r="1.6" fill="#ccdee8" stroke="#b2b8be" stroke-width="0.45"/>
<circle cx="343.26" cy="480.78" r="1.6" fill="#e5eef2" stroke="#b2b8be" stroke-width="0.45"/>
<circle cx="346.76" cy="481.38" r="1.6" fill="#e7eef2" stroke="#b2b8be" stroke-width="0.45"/>
<circle cx="350.35" cy="481.3" r="1.6" fill="#e5eef2" stroke="#b2b8be" stroke-width="0.45"/>
<circle cx="354.42" cy="480.76" r="1.6" fill="#ccdee8" stroke="#b2b8be" stroke-width="0.45"/>
<circle cx="358.87" cy="480.73" r="1.6" fill="#ebeef2" stroke="#b2b8be" stroke-width="0.45"/>
<circle cx="362.75" cy="480.92" r="1.6" fill="#ccdee8" stroke="#b2b8be" stroke-width="0.45"/>
<circle cx="365.93" cy="481.01" r="1.6" fill="#ccdee8" stroke="#b2b8be" stroke-width="0.45"/>
<circle cx="369.7" cy="481.53" r="1.6" fill="#99c1dd" stroke="#b2b8be" stroke-width="0.45"/>
<circle cx="373.53" cy="481.01" r="1.6" fill="#adcbe0" stroke="#b2b8be" stroke-width="0.45"/>
<circle cx="378.06" cy="480.79" r="1.6" fill="#8cbadb" stroke="#8aa0b8" stroke-width="0.45"/>
<circle cx="381.83" cy="481.38" r="1.6" fill="#ccdee8" stroke="#b2b8be" stroke-width="0.45"/>
<circle cx="218.36" cy="484.71" r="1.6" fill="#bed4e3" stroke="#b2b8be" stroke-width="0.45"/>
<circle cx="221.53" cy="484.01" r="1.6" fill="#e8eef2" stroke="#b2b8be" stroke-width="0.45"/>
<circle cx="226.02" cy="484.09" r="1.6" fill="#b0cde1" stroke="#b2b8be" stroke-width="0.45"/>
<circle cx="229.36" cy="484.1" r="1.6" fill="#89b8da" stroke="#8aa0b8" stroke-width="0.45"/>
<circle cx="233.25" cy="484.78" r="1.6" fill="#e9eef2" stroke="#b2b8be" stroke-width="0.45"/>
<circle cx="237.43" cy="484.76" r="1.6" fill="#e7eef2" stroke="#b2b8be" stroke-width="0.45"/>
<circle cx="240.72" cy="484.23" r="1.6" fill="#e7eef2" stroke="#b2b8be" stroke-width="0.45"/>
<circle cx="244.79" cy="484.14" r="1.6" fill="#e6eef2" stroke="#b2b8be" stroke-width="0.45"/>
<circle cx="248.62" cy="484.79" r="1.6" fill="#ccdee8" stroke="#b2b8be" stroke-width="0.45"/>
<circle cx="252.38" cy="484.57" r="1.6" fill="#eaeef2" stroke="#b2b8be" stroke-width="0.45"/>
<circle cx="256.87" cy="484.55" r="1.6" fill="#e5eef2" stroke="#b2b8be" stroke-width="0.45"/>
<circle cx="264.01" cy="484.68" r="1.6" fill="#e9eef2" stroke="#b2b8be" stroke-width="0.45"/>
<circle cx="267.67" cy="484.24" r="1.6" fill="#548fc7" stroke="#8aa0b8" stroke-width="0.45"/>
<circle cx="272" cy="484.42" r="1.6" fill="#e8eef2" stroke="#b2b8be" stroke-width="0.45"/>
<circle cx="275.79" cy="484.19" r="1.6" fill="#accae0" stroke="#b2b8be" stroke-width="0.45"/>
<circle cx="279.5" cy="484.27" r="1.6" fill="#eaeef2" stroke="#b2b8be" stroke-width="0.45"/>
<circle cx="283.3" cy="484.63" r="1.6" fill="#e9eef2" stroke="#b2b8be" stroke-width="0.45"/>
<circle cx="287.07" cy="484.35" r="1.6" fill="#ccdee8" stroke="#b2b8be" stroke-width="0.45"/>
<circle cx="291.32" cy="484.42" r="1.6" fill="#ebeef2" stroke="#b2b8be" stroke-width="0.45"/>
<circle cx="294.51" cy="484.09" r="1.6" fill="#e5eef2" stroke="#b2b8be" stroke-width="0.45"/>
<circle cx="298.41" cy="484.74" r="1.6" fill="#e5eef2" stroke="#b2b8be" stroke-width="0.45"/>
<circle cx="302.87" cy="484.24" r="1.6" fill="#ebeef2" stroke="#b2b8be" stroke-width="0.45"/>
<circle cx="306.19" cy="484.22" r="1.6" fill="#eaeef2" stroke="#b2b8be" stroke-width="0.45"/>
<circle cx="310.28" cy="484.3" r="1.6" fill="#ccdee8" stroke="#b2b8be" stroke-width="0.45"/>
<circle cx="313.98" cy="484.06" r="1.6" fill="#ccdee8" stroke="#b2b8be" stroke-width="0.45"/>
<circle cx="317.62" cy="484.69" r="1.6" fill="#ebeef2" stroke="#b2b8be" stroke-width="0.45"/>
<circle cx="322.16" cy="484.83" r="1.6" fill="#eaeef2" stroke="#b2b8be" stroke-width="0.45"/>
<circle cx="325.48" cy="484.68" r="1.6" fill="#e7eef2" stroke="#b2b8be" stroke-width="0.45"/>
<circle cx="333.11" cy="484.85" r="1.6" fill="#ccdee8" stroke="#b2b8be" stroke-width="0.45"/>
<circle cx="337.15" cy="484.25" r="1.6" fill="#ebeef2" stroke="#b2b8be" stroke-width="0.45"/>
<circle cx="341.06" cy="484.27" r="1.6" fill="#e9eef2" stroke="#b2b8be" stroke-width="0.45"/>
<circle cx="344.72" cy="484.52" r="1.6" fill="#ccdee8" stroke="#b2b8be" stroke-width="0.45"/>
<circle cx="349.26" cy="484.81" r="1.6" fill="#e9eef2" stroke="#b2b8be" stroke-width="0.45"/>
<circle cx="353.09" cy="484.09" r="1.6" fill="#e9eef2" stroke="#b2b8be" stroke-width="0.45"/>
<circle cx="356.51" cy="484.79" r="1.6" fill="#ebeef2" stroke="#b2b8be" stroke-width="0.45"/>
<circle cx="360.27" cy="484.46" r="1.6" fill="#ccdee8" stroke="#b2b8be" stroke-width="0.45"/>
<circle cx="364.34" cy="484.27" r="1.6" fill="#ebeef2" stroke="#b2b8be" stroke-width="0.45"/>
<circle cx="368.37" cy="484.44" r="1.6" fill="#eaeef2" stroke="#b2b8be" stroke-width="0.45"/>
<circle cx="371.82" cy="484.44" r="1.6" fill="#e8eef2" stroke="#b2b8be" stroke-width="0.45"/>
<circle cx="376.01" cy="484.47" r="1.6" fill="#b3cee2" stroke="#b2b8be" stroke-width="0.45"/>
<circle cx="379.69" cy="484.57" r="1.6" fill="#ccdee8" stroke="#b2b8be" stroke-width="0.45"/>
<circle cx="219.71" cy="488.2" r="1.6" fill="#ebeef2" stroke="#b2b8be" stroke-width="0.45"/>
<circle cx="223.83" cy="488.2" r="1.6" fill="#e9eef2" stroke="#b2b8be" stroke-width="0.45"/>
<circle cx="227.97" cy="487.4" r="1.6" fill="#e5eef2" stroke="#b2b8be" stroke-width="0.45"/>
<circle cx="231.45" cy="487.91" r="1.6" fill="#b3cee2" stroke="#b2b8be" stroke-width="0.45"/>
<circle cx="235.34" cy="487.45" r="1.6" fill="#b8d1e2" stroke="#b2b8be" stroke-width="0.45"/>
<circle cx="239.47" cy="488.05" r="1.6" fill="#e5eef2" stroke="#b2b8be" stroke-width="0.45"/>
<circle cx="242.93" cy="488.08" r="1.6" fill="#e9eef2" stroke="#b2b8be" stroke-width="0.45"/>
<circle cx="246.79" cy="487.69" r="1.6" fill="#eceef2" stroke="#b2b8be" stroke-width="0.45"/>
<circle cx="250.55" cy="487.59" r="1.6" fill="#eaeef2" stroke="#b2b8be" stroke-width="0.45"/>
<circle cx="254.71" cy="487.73" r="1.6" fill="#ccdee8" stroke="#b2b8be" stroke-width="0.45"/>
<circle cx="258.4" cy="488.04" r="1.6" fill="#ebeef2" stroke="#b2b8be" stroke-width="0.45"/>
<circle cx="261.91" cy="487.6" r="1.6" fill="#e6eef2" stroke="#b2b8be" stroke-width="0.45"/>
<circle cx="266.34" cy="487.82" r="1.6" fill="#a4c6df" stroke="#b2b8be" stroke-width="0.45"/>
<circle cx="269.58" cy="488.13" r="1.6" fill="#cadae5" stroke="#b2b8be" stroke-width="0.45"/>
<circle cx="273.6" cy="487.65" r="1.6" fill="#ccdee8" stroke="#b2b8be" stroke-width="0.45"/>
<circle cx="277.87" cy="487.71" r="1.6" fill="#6fa4d1" stroke="#8aa0b8" stroke-width="0.45"/>
<circle cx="281.89" cy="487.93" r="1.6" fill="#ccdee8" stroke="#b2b8be" stroke-width="0.45"/>
<circle cx="285.2" cy="487.59" r="1.6" fill="#e9eef2" stroke="#b2b8be" stroke-width="0.45"/>
<circle cx="289.38" cy="487.39" r="1.6" fill="#ebeef2" stroke="#b2b8be" stroke-width="0.45"/>
<circle cx="292.67" cy="487.81" r="1.6" fill="#ccdee8" stroke="#b2b8be" stroke-width="0.45"/>
<circle cx="297.16" cy="487.34" r="1.6" fill="#e9eef2" stroke="#b2b8be" stroke-width="0.45"/>
<circle cx="301.04" cy="488.14" r="1.6" fill="#ccdee8" stroke="#b2b8be" stroke-width="0.45"/>
<circle cx="304.53" cy="488.19" r="1.6" fill="#ccdee8" stroke="#b2b8be" stroke-width="0.45"/>
<circle cx="308.58" cy="487.73" r="1.6" fill="#e9eef2" stroke="#b2b8be" stroke-width="0.45"/>
<circle cx="312.07" cy="487.44" r="1.6" fill="#ebeef2" stroke="#b2b8be" stroke-width="0.45"/>
<circle cx="316.37" cy="487.92" r="1.6" fill="#ebeef2" stroke="#b2b8be" stroke-width="0.45"/>
<circle cx="320.21" cy="488.12" r="1.6" fill="#ccdee8" stroke="#b2b8be" stroke-width="0.45"/>
<circle cx="323.56" cy="487.64" r="1.6" fill="#e6eef2" stroke="#b2b8be" stroke-width="0.45"/>
<circle cx="327.42" cy="487.76" r="1.6" fill="#e7eef2" stroke="#b2b8be" stroke-width="0.45"/>
<circle cx="331.19" cy="487.45" r="1.6" fill="#b8d1e2" stroke="#b2b8be" stroke-width="0.45"/>
<circle cx="334.92" cy="487.78" r="1.6" fill="#eaeef2" stroke="#b2b8be" stroke-width="0.45"/>
<circle cx="338.88" cy="487.4" r="1.6" fill="#9bc2de" stroke="#b2b8be" stroke-width="0.45"/>
<circle cx="343.15" cy="488" r="1.6" fill="#ccdee8" stroke="#b2b8be" stroke-width="0.45"/>
<circle cx="346.93" cy="487.36" r="1.6" fill="#eaeef2" stroke="#b2b8be" stroke-width="0.45"/>
<circle cx="350.7" cy="487.89" r="1.6" fill="#e8eef2" stroke="#b2b8be" stroke-width="0.45"/>
<circle cx="354.23" cy="487.66" r="1.6" fill="#e8eef2" stroke="#b2b8be" stroke-width="0.45"/>
<circle cx="358.8" cy="488.14" r="1.6" fill="#e9eef2" stroke="#b2b8be" stroke-width="0.45"/>
<circle cx="361.93" cy="487.89" r="1.6" fill="#eceef2" stroke="#b2b8be" stroke-width="0.45"/>
<circle cx="366.06" cy="487.54" r="1.6" fill="#e7eef2" stroke="#b2b8be" stroke-width="0.45"/>
<circle cx="369.76" cy="487.52" r="1.6" fill="#eaeef2" stroke="#b2b8be" stroke-width="0.45"/>
<circle cx="373.91" cy="488.15" r="1.6" fill="#ebeef2" stroke="#b2b8be" stroke-width="0.45"/>
<circle cx="378.1" cy="488.11" r="1.6" fill="#a0c4de" stroke="#b2b8be" stroke-width="0.45"/>
<circle cx="381.91" cy="487.8" r="1.6" fill="#e8eef2" stroke="#b2b8be" stroke-width="0.45"/>
<circle cx="217.7" cy="491.56" r="1.6" fill="#ebeef2" stroke="#b2b8be" stroke-width="0.45"/>
<circle cx="221.44" cy="490.73" r="1.6" fill="#9dc3de" stroke="#b2b8be" stroke-width="0.45"/>
<circle cx="225.36" cy="491.05" r="1.6" fill="#689ece" stroke="#8aa0b8" stroke-width="0.45"/>
<circle cx="229.05" cy="491.15" r="1.6" fill="#8bb9db" stroke="#8aa0b8" stroke-width="0.45"/>
<circle cx="233.13" cy="490.95" r="1.6" fill="#ccdee8" stroke="#b2b8be" stroke-width="0.45"/>
<circle cx="236.79" cy="491.16" r="1.6" fill="#8bb9db" stroke="#8aa0b8" stroke-width="0.45"/>
<circle cx="240.62" cy="490.82" r="1.6" fill="#eaeef2" stroke="#b2b8be" stroke-width="0.45"/>
<circle cx="244.69" cy="490.71" r="1.6" fill="#ccdee8" stroke="#b2b8be" stroke-width="0.45"/>
<circle cx="248.68" cy="491.13" r="1.6" fill="#ebeef2" stroke="#b2b8be" stroke-width="0.45"/>
<circle cx="252.46" cy="491.39" r="1.6" fill="#e7eef2" stroke="#b2b8be" stroke-width="0.45"/>
<circle cx="256.07" cy="491.31" r="1.6" fill="#e7eef2" stroke="#b2b8be" stroke-width="0.45"/>
<circle cx="260.1" cy="491.31" r="1.6" fill="#ccdee8" stroke="#b2b8be" stroke-width="0.45"/>
<circle cx="264.11" cy="490.86" r="1.6" fill="#b1cde1" stroke="#b2b8be" stroke-width="0.45"/>
<circle cx="268.33" cy="490.98" r="1.6" fill="#e9eef2" stroke="#b2b8be" stroke-width="0.45"/>
<circle cx="272.14" cy="491.03" r="1.6" fill="#9bc2de" stroke="#b2b8be" stroke-width="0.45"/>
<circle cx="275.25" cy="491.24" r="1.6" fill="#9bc2de" stroke="#b2b8be" stroke-width="0.45"/>
<circle cx="279.91" cy="491.07" r="1.6" fill="#a4c7df" stroke="#b2b8be" stroke-width="0.45"/>
<circle cx="283.48" cy="491.01" r="1.6" fill="#ccdee8" stroke="#b2b8be" stroke-width="0.45"/>
<circle cx="287.26" cy="491.36" r="1.6" fill="#e7eef2" stroke="#b2b8be" stroke-width="0.45"/>
<circle cx="291.29" cy="491.35" r="1.6" fill="#eaeef2" stroke="#b2b8be" stroke-width="0.45"/>
<circle cx="295.09" cy="491.08" r="1.6" fill="#e8eef2" stroke="#b2b8be" stroke-width="0.45"/>
<circle cx="298.37" cy="490.93" r="1.6" fill="#e4eef2" stroke="#b2b8be" stroke-width="0.45"/>
<circle cx="302.67" cy="491.18" r="1.6" fill="#e5eef2" stroke="#b2b8be" stroke-width="0.45"/>
<circle cx="306.11" cy="491.1" r="1.6" fill="#e8eef2" stroke="#b2b8be" stroke-width="0.45"/>
<circle cx="309.88" cy="490.89" r="1.6" fill="#e7eef2" stroke="#b2b8be" stroke-width="0.45"/>
<circle cx="313.78" cy="491.26" r="1.6" fill="#e5eef2" stroke="#b2b8be" stroke-width="0.45"/>
<circle cx="318.13" cy="490.75" r="1.6" fill="#e7eef2" stroke="#b2b8be" stroke-width="0.45"/>
<circle cx="321.94" cy="491.17" r="1.6" fill="#e7eef2" stroke="#b2b8be" stroke-width="0.45"/>
<circle cx="325.89" cy="490.94" r="1.6" fill="#e8eef2" stroke="#b2b8be" stroke-width="0.45"/>
<circle cx="329.7" cy="490.87" r="1.6" fill="#ebeef2" stroke="#b2b8be" stroke-width="0.45"/>
<circle cx="333.3" cy="490.83" r="1.6" fill="#6fa4d0" stroke="#8aa0b8" stroke-width="0.45"/>
<circle cx="337.42" cy="491.48" r="1.6" fill="#e5eef2" stroke="#b2b8be" stroke-width="0.45"/>
<circle cx="341.53" cy="490.76" r="1.6" fill="#e7eef2" stroke="#b2b8be" stroke-width="0.45"/>
<circle cx="344.7" cy="491.34" r="1.6" fill="#e5eef2" stroke="#b2b8be" stroke-width="0.45"/>
<circle cx="348.64" cy="491.11" r="1.6" fill="#eaeef2" stroke="#b2b8be" stroke-width="0.45"/>
<circle cx="352.44" cy="490.74" r="1.6" fill="#ccdee8" stroke="#b2b8be" stroke-width="0.45"/>
<circle cx="356.59" cy="491.39" r="1.6" fill="#e5eef2" stroke="#b2b8be" stroke-width="0.45"/>
<circle cx="359.97" cy="491.07" r="1.6" fill="#e8eef2" stroke="#b2b8be" stroke-width="0.45"/>
<circle cx="364.26" cy="491.49" r="1.6" fill="#ccdee8" stroke="#b2b8be" stroke-width="0.45"/>
<circle cx="367.95" cy="491.37" r="1.6" fill="#ebeef2" stroke="#b2b8be" stroke-width="0.45"/>
<circle cx="371.99" cy="490.81" r="1.6" fill="#bdd3e3" stroke="#b2b8be" stroke-width="0.45"/>
<circle cx="375.53" cy="490.75" r="1.6" fill="#b0cde1" stroke="#b2b8be" stroke-width="0.45"/>
<circle cx="379.3" cy="491.04" r="1.6" fill="#e9eef2" stroke="#b2b8be" stroke-width="0.45"/>
<circle cx="383.18" cy="491.13" r="1.6" fill="#255a97" stroke="#8aa0b8" stroke-width="0.45"/>
<circle cx="219.41" cy="494.74" r="1.6" fill="#84b3d8" stroke="#8aa0b8" stroke-width="0.45"/>
<circle cx="223.79" cy="494.68" r="1.6" fill="#eceef2" stroke="#b2b8be" stroke-width="0.45"/>
<circle cx="227.83" cy="494.67" r="1.6" fill="#9fc4de" stroke="#b2b8be" stroke-width="0.45"/>
<circle cx="231.09" cy="494.81" r="1.6" fill="#e6eef2" stroke="#b2b8be" stroke-width="0.45"/>
<circle cx="235.62" cy="494.83" r="1.6" fill="#ccdee8" stroke="#b2b8be" stroke-width="0.45"/>
<circle cx="239.12" cy="494.78" r="1.6" fill="#e4eef2" stroke="#b2b8be" stroke-width="0.45"/>
<circle cx="243.18" cy="494.81" r="1.6" fill="#ccdee8" stroke="#b2b8be" stroke-width="0.45"/>
<circle cx="246.59" cy="494.57" r="1.6" fill="#e7eef2" stroke="#b2b8be" stroke-width="0.45"/>
<circle cx="250.85" cy="494.08" r="1.6" fill="#ccdee8" stroke="#b2b8be" stroke-width="0.45"/>
<circle cx="254.86" cy="494.52" r="1.6" fill="#e7eef2" stroke="#b2b8be" stroke-width="0.45"/>
<circle cx="257.91" cy="494.39" r="1.6" fill="#eaeef2" stroke="#b2b8be" stroke-width="0.45"/>
<circle cx="262.29" cy="494.79" r="1.6" fill="#ccdee8" stroke="#b2b8be" stroke-width="0.45"/>
<circle cx="265.64" cy="494.65" r="1.6" fill="#e6eef2" stroke="#b2b8be" stroke-width="0.45"/>
<circle cx="270.08" cy="494.26" r="1.6" fill="#bbd2e3" stroke="#b2b8be" stroke-width="0.45"/>
<circle cx="273.48" cy="494.89" r="1.6" fill="#bbd2e3" stroke="#b2b8be" stroke-width="0.45"/>
<circle cx="278.01" cy="494.04" r="1.6" fill="#b6d0e2" stroke="#b2b8be" stroke-width="0.45"/>
<circle cx="281.84" cy="494.77" r="1.6" fill="#e6eef2" stroke="#b2b8be" stroke-width="0.45"/>
<circle cx="289.33" cy="494.34" r="1.6" fill="#e5eef2" stroke="#b2b8be" stroke-width="0.45"/>
<circle cx="292.84" cy="494.29" r="1.6" fill="#e5eef2" stroke="#b2b8be" stroke-width="0.45"/>
<circle cx="296.92" cy="494.43" r="1.6" fill="#e7eef2" stroke="#b2b8be" stroke-width="0.45"/>
<circle cx="301.11" cy="494.71" r="1.6" fill="#e7eef2" stroke="#b2b8be" stroke-width="0.45"/>
<circle cx="304.35" cy="494.72" r="1.6" fill="#abcae0" stroke="#b2b8be" stroke-width="0.45"/>
<circle cx="308.32" cy="494.4" r="1.6" fill="#78aad4" stroke="#8aa0b8" stroke-width="0.45"/>
<circle cx="312.28" cy="494.26" r="1.6" fill="#ccdee8" stroke="#b2b8be" stroke-width="0.45"/>
<circle cx="316.28" cy="494.65" r="1.6" fill="#eceef2" stroke="#b2b8be" stroke-width="0.45"/>
<circle cx="320.25" cy="494.85" r="1.6" fill="#e4eef2" stroke="#b2b8be" stroke-width="0.45"/>
<circle cx="323.52" cy="494.8" r="1.6" fill="#e5eef2" stroke="#b2b8be" stroke-width="0.45"/>
<circle cx="327.85" cy="494.48" r="1.6" fill="#eaeef2" stroke="#b2b8be" stroke-width="0.45"/>
<circle cx="331.6" cy="494.46" r="1.6" fill="#e7eef2" stroke="#b2b8be" stroke-width="0.45"/>
<circle cx="335.15" cy="494.25" r="1.6" fill="#9fc4de" stroke="#b2b8be" stroke-width="0.45"/>
<circle cx="339.41" cy="494.83" r="1.6" fill="#eceef2" stroke="#b2b8be" stroke-width="0.45"/>
<circle cx="342.81" cy="494.37" r="1.6" fill="#e8eef2" stroke="#b2b8be" stroke-width="0.45"/>
<circle cx="347.17" cy="494.39" r="1.6" fill="#eaeef2" stroke="#b2b8be" stroke-width="0.45"/>
<circle cx="351.08" cy="494.86" r="1.6" fill="#e5eef2" stroke="#b2b8be" stroke-width="0.45"/>
<circle cx="354.16" cy="494.74" r="1.6" fill="#ebeef2" stroke="#b2b8be" stroke-width="0.45"/>
<circle cx="358.44" cy="494.09" r="1.6" fill="#e8eef2" stroke="#b2b8be" stroke-width="0.45"/>
<circle cx="362.18" cy="494.77" r="1.6" fill="#eaeef2" stroke="#b2b8be" stroke-width="0.45"/>
<circle cx="366.57" cy="494.52" r="1.6" fill="#e6eef2" stroke="#b2b8be" stroke-width="0.45"/>
<circle cx="369.64" cy="494.28" r="1.6" fill="#c1d5e4" stroke="#b2b8be" stroke-width="0.45"/>
<circle cx="373.94" cy="494.32" r="1.6" fill="#a2c6df" stroke="#b2b8be" stroke-width="0.45"/>
<circle cx="377.55" cy="494.35" r="1.6" fill="#a6c7df" stroke="#b2b8be" stroke-width="0.45"/>
<circle cx="381.59" cy="494.56" r="1.6" fill="#5c95ca" stroke="#8aa0b8" stroke-width="0.45"/>
<circle cx="385.17" cy="494.28" r="1.6" fill="#b8d1e2" stroke="#b2b8be" stroke-width="0.45"/>
<circle cx="221.77" cy="497.75" r="1.6" fill="#eaeef2" stroke="#b2b8be" stroke-width="0.45"/>
<circle cx="225.7" cy="498.12" r="1.6" fill="#a7c8e0" stroke="#b2b8be" stroke-width="0.45"/>
<circle cx="229.75" cy="497.54" r="1.6" fill="#ebeef2" stroke="#b2b8be" stroke-width="0.45"/>
<circle cx="233.41" cy="497.48" r="1.6" fill="#ccdee8" stroke="#b2b8be" stroke-width="0.45"/>
<circle cx="236.99" cy="497.75" r="1.6" fill="#eaeef2" stroke="#b2b8be" stroke-width="0.45"/>
<circle cx="241.11" cy="497.65" r="1.6" fill="#e5eef2" stroke="#b2b8be" stroke-width="0.45"/>
<circle cx="244.97" cy="497.71" r="1.6" fill="#ebeef2" stroke="#b2b8be" stroke-width="0.45"/>
<circle cx="252.49" cy="497.42" r="1.6" fill="#e6eef2" stroke="#b2b8be" stroke-width="0.45"/>
<circle cx="256.51" cy="497.8" r="1.6" fill="#ebeef2" stroke="#b2b8be" stroke-width="0.45"/>
<circle cx="259.88" cy="497.52" r="1.6" fill="#e7eef2" stroke="#b2b8be" stroke-width="0.45"/>
<circle cx="264.46" cy="497.44" r="1.6" fill="#ccdee8" stroke="#b2b8be" stroke-width="0.45"/>
<circle cx="268.13" cy="498.24" r="1.6" fill="#ccdee8" stroke="#b2b8be" stroke-width="0.45"/>
<circle cx="272.07" cy="497.72" r="1.6" fill="#b4cfe2" stroke="#b2b8be" stroke-width="0.45"/>
<circle cx="276.11" cy="497.41" r="1.6" fill="#c0d5e4" stroke="#b2b8be" stroke-width="0.45"/>
<circle cx="279.53" cy="498.06" r="1.6" fill="#98c0dd" stroke="#8aa0b8" stroke-width="0.45"/>
<circle cx="283.46" cy="497.95" r="1.6" fill="#e8eef2" stroke="#b2b8be" stroke-width="0.45"/>
<circle cx="287.02" cy="497.81" r="1.6" fill="#e7eef2" stroke="#b2b8be" stroke-width="0.45"/>
<circle cx="290.63" cy="498.13" r="1.6" fill="#e5eef2" stroke="#b2b8be" stroke-width="0.45"/>
<circle cx="295.09" cy="498.16" r="1.6" fill="#e7eef2" stroke="#b2b8be" stroke-width="0.45"/>
<circle cx="298.9" cy="497.95" r="1.6" fill="#e6eef2" stroke="#b2b8be" stroke-width="0.45"/>
<circle cx="302.44" cy="497.42" r="1.6" fill="#ebeef2" stroke="#b2b8be" stroke-width="0.45"/>
<circle cx="306.91" cy="497.94" r="1.6" fill="#ebeef2" stroke="#b2b8be" stroke-width="0.45"/>
<circle cx="309.97" cy="497.61" r="1.6" fill="#e6eef2" stroke="#b2b8be" stroke-width="0.45"/>
<circle cx="314.39" cy="498.23" r="1.6" fill="#eaeef2" stroke="#b2b8be" stroke-width="0.45"/>
<circle cx="317.99" cy="497.74" r="1.6" fill="#ccdee8" stroke="#b2b8be" stroke-width="0.45"/>
<circle cx="321.43" cy="498.13" r="1.6" fill="#e8eef2" stroke="#b2b8be" stroke-width="0.45"/>
<circle cx="325.46" cy="497.73" r="1.6" fill="#e9eef2" stroke="#b2b8be" stroke-width="0.45"/>
<circle cx="329.87" cy="497.83" r="1.6" fill="#a8c8e0" stroke="#b2b8be" stroke-width="0.45"/>
<circle cx="333.44" cy="497.96" r="1.6" fill="#accae0" stroke="#b2b8be" stroke-width="0.45"/>
<circle cx="336.83" cy="497.89" r="1.6" fill="#e8eef2" stroke="#b2b8be" stroke-width="0.45"/>
<circle cx="340.76" cy="497.96" r="1.6" fill="#ccdee8" stroke="#b2b8be" stroke-width="0.45"/>
<circle cx="345.17" cy="498.21" r="1.6" fill="#e8eef2" stroke="#b2b8be" stroke-width="0.45"/>
<circle cx="348.86" cy="498.01" r="1.6" fill="#ccdee8" stroke="#b2b8be" stroke-width="0.45"/>
<circle cx="352.23" cy="498.2" r="1.6" fill="#e5eef2" stroke="#b2b8be" stroke-width="0.45"/>
<circle cx="356.11" cy="497.93" r="1.6" fill="#e5eef2" stroke="#b2b8be" stroke-width="0.45"/>
<circle cx="360.14" cy="497.81" r="1.6" fill="#e9eef2" stroke="#b2b8be" stroke-width="0.45"/>
<circle cx="363.96" cy="497.88" r="1.6" fill="#e8eef2" stroke="#b2b8be" stroke-width="0.45"/>
<circle cx="367.9" cy="497.55" r="1.6" fill="#e5eef2" stroke="#b2b8be" stroke-width="0.45"/>
<circle cx="371.95" cy="497.97" r="1.6" fill="#e6eef2" stroke="#b2b8be" stroke-width="0.45"/>
<circle cx="376.04" cy="498.24" r="1.6" fill="#a8c8e0" stroke="#b2b8be" stroke-width="0.45"/>
<circle cx="379.6" cy="498.26" r="1.6" fill="#74a8d2" stroke="#8aa0b8" stroke-width="0.45"/>
<circle cx="383.84" cy="497.53" r="1.6" fill="#528ec6" stroke="#8aa0b8" stroke-width="0.45"/>
<circle cx="220.03" cy="501.32" r="1.6" fill="#ebeef2" stroke="#b2b8be" stroke-width="0.45"/>
<circle cx="223.63" cy="501.07" r="1.6" fill="#b9d1e2" stroke="#b2b8be" stroke-width="0.45"/>
<circle cx="227.73" cy="500.82" r="1.6" fill="#80b1d7" stroke="#8aa0b8" stroke-width="0.45"/>
<circle cx="231.11" cy="501.07" r="1.6" fill="#e7eef2" stroke="#b2b8be" stroke-width="0.45"/>
<circle cx="235.23" cy="501.59" r="1.6" fill="#14427e" stroke="#8aa0b8" stroke-width="0.45"/>
<circle cx="239.1" cy="501.19" r="1.6" fill="#e8eef2" stroke="#b2b8be" stroke-width="0.45"/>
<circle cx="243.06" cy="501.16" r="1.6" fill="#eceef2" stroke="#b2b8be" stroke-width="0.45"/>
<circle cx="247.16" cy="501.21" r="1.6" fill="#e9eef2" stroke="#b2b8be" stroke-width="0.45"/>
<circle cx="254.5" cy="501.14" r="1.6" fill="#e6eef2" stroke="#b2b8be" stroke-width="0.45"/>
<circle cx="258.14" cy="501.62" r="1.6" fill="#ccdee8" stroke="#b2b8be" stroke-width="0.45"/>
<circle cx="262.27" cy="500.91" r="1.6" fill="#e9eef2" stroke="#b2b8be" stroke-width="0.45"/>
<circle cx="266.13" cy="501.53" r="1.6" fill="#eaeef2" stroke="#b2b8be" stroke-width="0.45"/>
<circle cx="270.12" cy="500.97" r="1.6" fill="#e8eef2" stroke="#b2b8be" stroke-width="0.45"/>
<circle cx="273.68" cy="501.63" r="1.6" fill="#9ac1de" stroke="#b2b8be" stroke-width="0.45"/>
<circle cx="277.55" cy="500.79" r="1.6" fill="#9bc2de" stroke="#b2b8be" stroke-width="0.45"/>
<circle cx="281.65" cy="501.47" r="1.6" fill="#e8eef2" stroke="#b2b8be" stroke-width="0.45"/>
<circle cx="284.96" cy="500.87" r="1.6" fill="#ccdee8" stroke="#b2b8be" stroke-width="0.45"/>
<circle cx="289.25" cy="501.54" r="1.6" fill="#eaeef2" stroke="#b2b8be" stroke-width="0.45"/>
<circle cx="292.99" cy="501.34" r="1.6" fill="#ebeef2" stroke="#b2b8be" stroke-width="0.45"/>
<circle cx="297.27" cy="500.82" r="1.6" fill="#e7eef2" stroke="#b2b8be" stroke-width="0.45"/>
<circle cx="300.98" cy="501.05" r="1.6" fill="#e6eef2" stroke="#b2b8be" stroke-width="0.45"/>
<circle cx="304.51" cy="500.82" r="1.6" fill="#5590c7" stroke="#8aa0b8" stroke-width="0.45"/>
<circle cx="308.55" cy="501.52" r="1.6" fill="#e8eef2" stroke="#b2b8be" stroke-width="0.45"/>
<circle cx="312.15" cy="501.21" r="1.6" fill="#e7eef2" stroke="#b2b8be" stroke-width="0.45"/>
<circle cx="316.21" cy="501.31" r="1.6" fill="#a3c6df" stroke="#b2b8be" stroke-width="0.45"/>
<circle cx="320.16" cy="501.03" r="1.6" fill="#e7eef2" stroke="#b2b8be" stroke-width="0.45"/>
<circle cx="323.97" cy="501.36" r="1.6" fill="#e9eef2" stroke="#b2b8be" stroke-width="0.45"/>
<circle cx="327.88" cy="500.81" r="1.6" fill="#e9eef2" stroke="#b2b8be" stroke-width="0.45"/>
<circle cx="335.15" cy="500.78" r="1.6" fill="#ccdee8" stroke="#b2b8be" stroke-width="0.45"/>
<circle cx="338.9" cy="501.16" r="1.6" fill="#ebeef2" stroke="#b2b8be" stroke-width="0.45"/>
<circle cx="343.12" cy="501.16" r="1.6" fill="#e5eef2" stroke="#b2b8be" stroke-width="0.45"/>
<circle cx="346.9" cy="500.79" r="1.6" fill="#ccdee8" stroke="#b2b8be" stroke-width="0.45"/>
<circle cx="351.07" cy="501.15" r="1.6" fill="#e7eef2" stroke="#b2b8be" stroke-width="0.45"/>
<circle cx="354.69" cy="500.86" r="1.6" fill="#e6eef2" stroke="#b2b8be" stroke-width="0.45"/>
<circle cx="358.88" cy="501.21" r="1.6" fill="#e8eef2" stroke="#b2b8be" stroke-width="0.45"/>
<circle cx="362.11" cy="501.51" r="1.6" fill="#ebeef2" stroke="#b2b8be" stroke-width="0.45"/>
<circle cx="366.47" cy="501.01" r="1.6" fill="#e5eef2" stroke="#b2b8be" stroke-width="0.45"/>
<circle cx="370.2" cy="500.82" r="1.6" fill="#538ec6" stroke="#8aa0b8" stroke-width="0.45"/>
<circle cx="373.68" cy="501.24" r="1.6" fill="#e6eef2" stroke="#b2b8be" stroke-width="0.45"/>
<circle cx="378.14" cy="500.83" r="1.6" fill="#eaeef2" stroke="#b2b8be" stroke-width="0.45"/>
<circle cx="381.29" cy="500.92" r="1.6" fill="#a5c7df" stroke="#b2b8be" stroke-width="0.45"/>
<circle cx="385.7" cy="501.39" r="1.6" fill="#e5eef2" stroke="#b2b8be" stroke-width="0.45"/>
<circle cx="221.7" cy="504.47" r="1.6" fill="#ebeef2" stroke="#b2b8be" stroke-width="0.45"/>
<circle cx="226.03" cy="504.98" r="1.6" fill="#96bfdd" stroke="#8aa0b8" stroke-width="0.45"/>
<circle cx="229.87" cy="504.22" r="1.6" fill="#b7d0e2" stroke="#b2b8be" stroke-width="0.45"/>
<circle cx="232.96" cy="504.26" r="1.6" fill="#508cc5" stroke="#8aa0b8" stroke-width="0.45"/>
<circle cx="237.48" cy="504.19" r="1.6" fill="#ccdee8" stroke="#b2b8be" stroke-width="0.45"/>
<circle cx="241" cy="504.61" r="1.6" fill="#e5eef2" stroke="#b2b8be" stroke-width="0.45"/>
<circle cx="244.56" cy="504.73" r="1.6" fill="#e9eef2" stroke="#b2b8be" stroke-width="0.45"/>
<circle cx="248.28" cy="504.45" r="1.6" fill="#e7eef2" stroke="#b2b8be" stroke-width="0.45"/>
<circle cx="252.26" cy="504.81" r="1.6" fill="#e8eef2" stroke="#b2b8be" stroke-width="0.45"/>
<circle cx="256.47" cy="504.44" r="1.6" fill="#e5eef2" stroke="#b2b8be" stroke-width="0.45"/>
<circle cx="260.29" cy="504.48" r="1.6" fill="#e8eef2" stroke="#b2b8be" stroke-width="0.45"/>
<circle cx="267.9" cy="504.89" r="1.6" fill="#e7eef2" stroke="#b2b8be" stroke-width="0.45"/>
<circle cx="271.6" cy="504.86" r="1.6" fill="#afcce1" stroke="#b2b8be" stroke-width="0.45"/>
<circle cx="275.65" cy="504.33" r="1.6" fill="#cbdbe5" stroke="#b2b8be" stroke-width="0.45"/>
<circle cx="279.59" cy="504.43" r="1.6" fill="#eaeef2" stroke="#b2b8be" stroke-width="0.45"/>
<circle cx="283.62" cy="504.3" r="1.6" fill="#e7eef2" stroke="#b2b8be" stroke-width="0.45"/>
<circle cx="287.66" cy="504.16" r="1.6" fill="#e8eef2" stroke="#b2b8be" stroke-width="0.45"/>
<circle cx="291.43" cy="504.61" r="1.6" fill="#eaeef2" stroke="#b2b8be" stroke-width="0.45"/>
<circle cx="294.82" cy="504.42" r="1.6" fill="#e9eef2" stroke="#b2b8be" stroke-width="0.45"/>
<circle cx="299.22" cy="504.7" r="1.6" fill="#e8eef2" stroke="#b2b8be" stroke-width="0.45"/>
<circle cx="306.77" cy="504.32" r="1.6" fill="#ebeef2" stroke="#b2b8be" stroke-width="0.45"/>
<circle cx="310.09" cy="504.29" r="1.6" fill="#ebeef2" stroke="#b2b8be" stroke-width="0.45"/>
<circle cx="314.26" cy="504.95" r="1.6" fill="#ccdee8" stroke="#b2b8be" stroke-width="0.45"/>
<circle cx="317.93" cy="504.89" r="1.6" fill="#e8eef2" stroke="#b2b8be" stroke-width="0.45"/>
<circle cx="321.63" cy="504.44" r="1.6" fill="#e9eef2" stroke="#b2b8be" stroke-width="0.45"/>
<circle cx="325.78" cy="504.22" r="1.6" fill="#e4eef2" stroke="#b2b8be" stroke-width="0.45"/>
<circle cx="329.68" cy="504.76" r="1.6" fill="#90bcdc" stroke="#8aa0b8" stroke-width="0.45"/>
<circle cx="333.77" cy="504.84" r="1.6" fill="#eaeef2" stroke="#b2b8be" stroke-width="0.45"/>
<circle cx="336.91" cy="504.52" r="1.6" fill="#ebeef2" stroke="#b2b8be" stroke-width="0.45"/>
<circle cx="341.29" cy="504.49" r="1.6" fill="#e5eef2" stroke="#b2b8be" stroke-width="0.45"/>
<circle cx="344.92" cy="504.62" r="1.6" fill="#ebeef2" stroke="#b2b8be" stroke-width="0.45"/>
<circle cx="348.66" cy="504.97" r="1.6" fill="#e9eef2" stroke="#b2b8be" stroke-width="0.45"/>
<circle cx="352.97" cy="504.25" r="1.6" fill="#e9eef2" stroke="#b2b8be" stroke-width="0.45"/>
<circle cx="360.3" cy="504.17" r="1.6" fill="#e8eef2" stroke="#b2b8be" stroke-width="0.45"/>
<circle cx="364.67" cy="504.96" r="1.6" fill="#e8eef2" stroke="#b2b8be" stroke-width="0.45"/>
<circle cx="368.24" cy="504.3" r="1.6" fill="#e5eef2" stroke="#b2b8be" stroke-width="0.45"/>
<circle cx="371.68" cy="504.54" r="1.6" fill="#e9eef2" stroke="#b2b8be" stroke-width="0.45"/>
<circle cx="375.67" cy="504.23" r="1.6" fill="#91bddc" stroke="#8aa0b8" stroke-width="0.45"/>
<circle cx="379.29" cy="504.96" r="1.6" fill="#c0d5e4" stroke="#b2b8be" stroke-width="0.45"/>
<circle cx="383.04" cy="504.22" r="1.6" fill="#e7eef2" stroke="#b2b8be" stroke-width="0.45"/>
<circle cx="220.19" cy="507.56" r="1.6" fill="#ebeef2" stroke="#b2b8be" stroke-width="0.45"/>
<circle cx="223.46" cy="508.12" r="1.6" fill="#1d4f8c" stroke="#8aa0b8" stroke-width="0.45"/>
<circle cx="227.94" cy="507.56" r="1.6" fill="#aecbe1" stroke="#b2b8be" stroke-width="0.45"/>
<circle cx="231.51" cy="507.75" r="1.6" fill="#bbd2e3" stroke="#b2b8be" stroke-width="0.45"/>
<circle cx="235.22" cy="507.53" r="1.6" fill="#e5eef2" stroke="#b2b8be" stroke-width="0.45"/>
<circle cx="238.76" cy="507.84" r="1.6" fill="#e5eef2" stroke="#b2b8be" stroke-width="0.45"/>
<circle cx="243.15" cy="508.25" r="1.6" fill="#e7eef2" stroke="#b2b8be" stroke-width="0.45"/>
<circle cx="246.41" cy="508.05" r="1.6" fill="#ccdee8" stroke="#b2b8be" stroke-width="0.45"/>
<circle cx="250.88" cy="507.57" r="1.6" fill="#a4c7df" stroke="#b2b8be" stroke-width="0.45"/>
<circle cx="254.38" cy="508.34" r="1.6" fill="#e7eef2" stroke="#b2b8be" stroke-width="0.45"/>
<circle cx="258.37" cy="507.58" r="1.6" fill="#eceef2" stroke="#b2b8be" stroke-width="0.45"/>
<circle cx="262.14" cy="507.63" r="1.6" fill="#ebeef2" stroke="#b2b8be" stroke-width="0.45"/>
<circle cx="266.09" cy="507.86" r="1.6" fill="#5892c8" stroke="#8aa0b8" stroke-width="0.45"/>
<circle cx="270.02" cy="507.68" r="1.6" fill="#accae0" stroke="#b2b8be" stroke-width="0.45"/>
<circle cx="273.35" cy="507.58" r="1.6" fill="#164581" stroke="#8aa0b8" stroke-width="0.45"/>
<circle cx="277.74" cy="507.98" r="1.6" fill="#b7d0e2" stroke="#b2b8be" stroke-width="0.45"/>
<circle cx="281.42" cy="508.07" r="1.6" fill="#e9eef2" stroke="#b2b8be" stroke-width="0.45"/>
<circle cx="285.69" cy="507.8" r="1.6" fill="#e8eef2" stroke="#b2b8be" stroke-width="0.45"/>
<circle cx="289.42" cy="507.8" r="1.6" fill="#ebeef2" stroke="#b2b8be" stroke-width="0.45"/>
<circle cx="293" cy="507.96" r="1.6" fill="#eaeef2" stroke="#b2b8be" stroke-width="0.45"/>
<circle cx="296.72" cy="508.18" r="1.6" fill="#e5eef2" stroke="#b2b8be" stroke-width="0.45"/>
<circle cx="301.07" cy="507.49" r="1.6" fill="#e9eef2" stroke="#b2b8be" stroke-width="0.45"/>
<circle cx="304.84" cy="508.18" r="1.6" fill="#a3c6df" stroke="#b2b8be" stroke-width="0.45"/>
<circle cx="308" cy="507.46" r="1.6" fill="#e5eef2" stroke="#b2b8be" stroke-width="0.45"/>
<circle cx="311.9" cy="508.07" r="1.6" fill="#e7eef2" stroke="#b2b8be" stroke-width="0.45"/>
<circle cx="316.09" cy="508.11" r="1.6" fill="#e5eef2" stroke="#b2b8be" stroke-width="0.45"/>
<circle cx="320.32" cy="507.83" r="1.6" fill="#e7eef2" stroke="#b2b8be" stroke-width="0.45"/>
<circle cx="324" cy="507.93" r="1.6" fill="#b2cee1" stroke="#b2b8be" stroke-width="0.45"/>
<circle cx="327.83" cy="508.1" r="1.6" fill="#b6d0e2" stroke="#b2b8be" stroke-width="0.45"/>
<circle cx="331.82" cy="508.15" r="1.6" fill="#e9eef2" stroke="#b2b8be" stroke-width="0.45"/>
<circle cx="335.12" cy="507.58" r="1.6" fill="#ebeef2" stroke="#b2b8be" stroke-width="0.45"/>
<circle cx="339.06" cy="507.97" r="1.6" fill="#e9eef2" stroke="#b2b8be" stroke-width="0.45"/>
<circle cx="346.7" cy="507.63" r="1.6" fill="#4f8bc5" stroke="#8aa0b8" stroke-width="0.45"/>
<circle cx="350.95" cy="508.21" r="1.6" fill="#ccdee8" stroke="#b2b8be" stroke-width="0.45"/>
<circle cx="354.26" cy="507.57" r="1.6" fill="#ebeef2" stroke="#b2b8be" stroke-width="0.45"/>
<circle cx="358.22" cy="508.17" r="1.6" fill="#e8eef2" stroke="#b2b8be" stroke-width="0.45"/>
<circle cx="362.38" cy="508.24" r="1.6" fill="#e5eef2" stroke="#b2b8be" stroke-width="0.45"/>
<circle cx="366.12" cy="508.16" r="1.6" fill="#e9eef2" stroke="#b2b8be" stroke-width="0.45"/>
<circle cx="369.58" cy="507.87" r="1.6" fill="#ccdee8" stroke="#b2b8be" stroke-width="0.45"/>
<circle cx="374.03" cy="508.01" r="1.6" fill="#ebeef2" stroke="#b2b8be" stroke-width="0.45"/>
<circle cx="377.95" cy="507.84" r="1.6" fill="#15437e" stroke="#8aa0b8" stroke-width="0.45"/>
<circle cx="381.6" cy="507.71" r="1.6" fill="#77aad4" stroke="#8aa0b8" stroke-width="0.45"/>
<circle cx="384.99" cy="507.62" r="1.6" fill="#e9eef2" stroke="#b2b8be" stroke-width="0.45"/>
<circle cx="217.98" cy="511.13" r="1.6" fill="#ebeef2" stroke="#b2b8be" stroke-width="0.45"/>
<circle cx="221.82" cy="511.41" r="1.6" fill="#c7d9e5" stroke="#b2b8be" stroke-width="0.45"/>
<circle cx="225.8" cy="511.44" r="1.6" fill="#a4c6df" stroke="#b2b8be" stroke-width="0.45"/>
<circle cx="229.11" cy="511.26" r="1.6" fill="#e8eef2" stroke="#b2b8be" stroke-width="0.45"/>
<circle cx="233.45" cy="510.96" r="1.6" fill="#6ea3d0" stroke="#8aa0b8" stroke-width="0.45"/>
<circle cx="237.07" cy="511.66" r="1.6" fill="#a5c7df" stroke="#b2b8be" stroke-width="0.45"/>
<circle cx="241.36" cy="511.65" r="1.6" fill="#eaeef2" stroke="#b2b8be" stroke-width="0.45"/>
<circle cx="245.21" cy="511.48" r="1.6" fill="#ebeef2" stroke="#b2b8be" stroke-width="0.45"/>
<circle cx="249.14" cy="510.83" r="1.6" fill="#e7eef2" stroke="#b2b8be" stroke-width="0.45"/>
<circle cx="252.2" cy="511.48" r="1.6" fill="#eceef2" stroke="#b2b8be" stroke-width="0.45"/>
<circle cx="256.62" cy="510.95" r="1.6" fill="#ccdee8" stroke="#b2b8be" stroke-width="0.45"/>
<circle cx="260.05" cy="511.63" r="1.6" fill="#eceef2" stroke="#b2b8be" stroke-width="0.45"/>
<circle cx="264.28" cy="511.43" r="1.6" fill="#cbdbe5" stroke="#b2b8be" stroke-width="0.45"/>
<circle cx="267.83" cy="511.35" r="1.6" fill="#bbd2e3" stroke="#b2b8be" stroke-width="0.45"/>
<circle cx="272.03" cy="511.37" r="1.6" fill="#b1cde1" stroke="#b2b8be" stroke-width="0.45"/>
<circle cx="275.68" cy="510.8" r="1.6" fill="#e9eef2" stroke="#b2b8be" stroke-width="0.45"/>
<circle cx="279.96" cy="510.99" r="1.6" fill="#ebeef2" stroke="#b2b8be" stroke-width="0.45"/>
<circle cx="283.73" cy="511.28" r="1.6" fill="#e9eef2" stroke="#b2b8be" stroke-width="0.45"/>
<circle cx="287.56" cy="510.85" r="1.6" fill="#ccdee8" stroke="#b2b8be" stroke-width="0.45"/>
<circle cx="291.26" cy="511.05" r="1.6" fill="#ebeef2" stroke="#b2b8be" stroke-width="0.45"/>
<circle cx="295.01" cy="510.94" r="1.6" fill="#e6eef2" stroke="#b2b8be" stroke-width="0.45"/>
<circle cx="298.53" cy="511.03" r="1.6" fill="#e6eef2" stroke="#b2b8be" stroke-width="0.45"/>
<circle cx="302.73" cy="511.29" r="1.6" fill="#e6eef2" stroke="#b2b8be" stroke-width="0.45"/>
<circle cx="306.11" cy="511.26" r="1.6" fill="#e5eef2" stroke="#b2b8be" stroke-width="0.45"/>
<circle cx="310.09" cy="511.54" r="1.6" fill="#e9eef2" stroke="#b2b8be" stroke-width="0.45"/>
<circle cx="313.95" cy="511.59" r="1.6" fill="#e5eef2" stroke="#b2b8be" stroke-width="0.45"/>
<circle cx="318.31" cy="511.51" r="1.6" fill="#e5eef2" stroke="#b2b8be" stroke-width="0.45"/>
<circle cx="322.29" cy="511.42" r="1.6" fill="#e9eef2" stroke="#b2b8be" stroke-width="0.45"/>
<circle cx="325.91" cy="510.96" r="1.6" fill="#ebeef2" stroke="#b2b8be" stroke-width="0.45"/>
<circle cx="329.87" cy="511.01" r="1.6" fill="#e4eef2" stroke="#b2b8be" stroke-width="0.45"/>
<circle cx="333.58" cy="511.07" r="1.6" fill="#9bc2de" stroke="#b2b8be" stroke-width="0.45"/>
<circle cx="337.47" cy="510.95" r="1.6" fill="#e6eef2" stroke="#b2b8be" stroke-width="0.45"/>
<circle cx="341.29" cy="511.19" r="1.6" fill="#ccdee8" stroke="#b2b8be" stroke-width="0.45"/>
<circle cx="344.89" cy="511.5" r="1.6" fill="#eaeef2" stroke="#b2b8be" stroke-width="0.45"/>
<circle cx="348.8" cy="511.35" r="1.6" fill="#ccdee8" stroke="#b2b8be" stroke-width="0.45"/>
<circle cx="352.27" cy="511.51" r="1.6" fill="#eaeef2" stroke="#b2b8be" stroke-width="0.45"/>
<circle cx="356.89" cy="510.95" r="1.6" fill="#e6eef2" stroke="#b2b8be" stroke-width="0.45"/>
<circle cx="360.8" cy="511.64" r="1.6" fill="#e9eef2" stroke="#b2b8be" stroke-width="0.45"/>
<circle cx="364.3" cy="511.47" r="1.6" fill="#ccdee8" stroke="#b2b8be" stroke-width="0.45"/>
<circle cx="367.79" cy="511.58" r="1.6" fill="#ebeef2" stroke="#b2b8be" stroke-width="0.45"/>
<circle cx="372.36" cy="511.21" r="1.6" fill="#99c1dd" stroke="#8aa0b8" stroke-width="0.45"/>
<circle cx="379.4" cy="510.94" r="1.6" fill="#b8d1e2" stroke="#b2b8be" stroke-width="0.45"/>
<circle cx="383.35" cy="511.2" r="1.6" fill="#e8eef2" stroke="#b2b8be" stroke-width="0.45"/>
<circle cx="219.57" cy="514.28" r="1.6" fill="#5a94c9" stroke="#8aa0b8" stroke-width="0.45"/>
<circle cx="223.86" cy="514.59" r="1.6" fill="#225592" stroke="#8aa0b8" stroke-width="0.45"/>
<circle cx="227.32" cy="514.97" r="1.6" fill="#accbe0" stroke="#b2b8be" stroke-width="0.45"/>
<circle cx="231.53" cy="514.58" r="1.6" fill="#e9eef2" stroke="#b2b8be" stroke-width="0.45"/>
<circle cx="235.59" cy="514.83" r="1.6" fill="#ebeef2" stroke="#b2b8be" stroke-width="0.45"/>
<circle cx="238.69" cy="514.14" r="1.6" fill="#e5eef2" stroke="#b2b8be" stroke-width="0.45"/>
<circle cx="242.83" cy="514.87" r="1.6" fill="#e8eef2" stroke="#b2b8be" stroke-width="0.45"/>
<circle cx="246.44" cy="514.15" r="1.6" fill="#e9eef2" stroke="#b2b8be" stroke-width="0.45"/>
<circle cx="250.49" cy="514.31" r="1.6" fill="#e6eef2" stroke="#b2b8be" stroke-width="0.45"/>
<circle cx="254.35" cy="514.43" r="1.6" fill="#eaeef2" stroke="#b2b8be" stroke-width="0.45"/>
<circle cx="258.51" cy="514.82" r="1.6" fill="#e8eef2" stroke="#b2b8be" stroke-width="0.45"/>
<circle cx="261.8" cy="514.75" r="1.6" fill="#bdd4e3" stroke="#b2b8be" stroke-width="0.45"/>
<circle cx="265.71" cy="514.18" r="1.6" fill="#e8eef2" stroke="#b2b8be" stroke-width="0.45"/>
<circle cx="269.95" cy="514.79" r="1.6" fill="#89b8da" stroke="#8aa0b8" stroke-width="0.45"/>
<circle cx="273.67" cy="514.42" r="1.6" fill="#b6d0e2" stroke="#b2b8be" stroke-width="0.45"/>
<circle cx="277.96" cy="515.01" r="1.6" fill="#e5eef2" stroke="#b2b8be" stroke-width="0.45"/>
<circle cx="281.86" cy="514.58" r="1.6" fill="#e5eef2" stroke="#b2b8be" stroke-width="0.45"/>
<circle cx="285.14" cy="514.75" r="1.6" fill="#ccdee8" stroke="#b2b8be" stroke-width="0.45"/>
<circle cx="289.57" cy="514.97" r="1.6" fill="#e8eef2" stroke="#b2b8be" stroke-width="0.45"/>
<circle cx="292.7" cy="514.21" r="1.6" fill="#e5eef2" stroke="#b2b8be" stroke-width="0.45"/>
<circle cx="304.55" cy="514.43" r="1.6" fill="#ccdee8" stroke="#b2b8be" stroke-width="0.45"/>
<circle cx="308.6" cy="514.39" r="1.6" fill="#ebeef2" stroke="#b2b8be" stroke-width="0.45"/>
<circle cx="312.43" cy="514.89" r="1.6" fill="#ccdee8" stroke="#b2b8be" stroke-width="0.45"/>
<circle cx="315.72" cy="514.89" r="1.6" fill="#ebeef2" stroke="#b2b8be" stroke-width="0.45"/>
<circle cx="320.38" cy="514.36" r="1.6" fill="#e9eef2" stroke="#b2b8be" stroke-width="0.45"/>
<circle cx="323.46" cy="514.99" r="1.6" fill="#ebeef2" stroke="#b2b8be" stroke-width="0.45"/>
<circle cx="328.04" cy="514.29" r="1.6" fill="#e5eef2" stroke="#b2b8be" stroke-width="0.45"/>
<circle cx="331.12" cy="514.21" r="1.6" fill="#518dc6" stroke="#8aa0b8" stroke-width="0.45"/>
<circle cx="335.67" cy="514.59" r="1.6" fill="#ccdee8" stroke="#b2b8be" stroke-width="0.45"/>
<circle cx="339.64" cy="514.82" r="1.6" fill="#ebeef2" stroke="#b2b8be" stroke-width="0.45"/>
<circle cx="343.06" cy="514.65" r="1.6" fill="#e6eef2" stroke="#b2b8be" stroke-width="0.45"/>
<circle cx="346.96" cy="514.65" r="1.6" fill="#e7eef2" stroke="#b2b8be" stroke-width="0.45"/>
<circle cx="351.16" cy="514.42" r="1.6" fill="#e7eef2" stroke="#b2b8be" stroke-width="0.45"/>
<circle cx="354.37" cy="514.68" r="1.6" fill="#ccdee8" stroke="#b2b8be" stroke-width="0.45"/>
<circle cx="358.16" cy="514.36" r="1.6" fill="#ccdee8" stroke="#b2b8be" stroke-width="0.45"/>
<circle cx="361.87" cy="514.68" r="1.6" fill="#eaeef2" stroke="#b2b8be" stroke-width="0.45"/>
<circle cx="366.59" cy="514.61" r="1.6" fill="#ccdee8" stroke="#b2b8be" stroke-width="0.45"/>
<circle cx="369.57" cy="514.22" r="1.6" fill="#e6eef2" stroke="#b2b8be" stroke-width="0.45"/>
<circle cx="373.75" cy="514.45" r="1.6" fill="#e7eef2" stroke="#b2b8be" stroke-width="0.45"/>
<circle cx="377.84" cy="514.85" r="1.6" fill="#74a7d2" stroke="#8aa0b8" stroke-width="0.45"/>
<circle cx="381.75" cy="514.96" r="1.6" fill="#c5d8e4" stroke="#b2b8be" stroke-width="0.45"/>
<circle cx="217.48" cy="517.8" r="1.6" fill="#9ec3de" stroke="#b2b8be" stroke-width="0.45"/>
<circle cx="225.94" cy="517.76" r="1.6" fill="#98c0dd" stroke="#8aa0b8" stroke-width="0.45"/>
<circle cx="229.22" cy="517.56" r="1.6" fill="#92bddc" stroke="#8aa0b8" stroke-width="0.45"/>
<circle cx="233.21" cy="518.19" r="1.6" fill="#e7eef2" stroke="#b2b8be" stroke-width="0.45"/>
<circle cx="237.31" cy="518.18" r="1.6" fill="#eceef2" stroke="#b2b8be" stroke-width="0.45"/>
<circle cx="240.91" cy="517.82" r="1.6" fill="#eaeef2" stroke="#b2b8be" stroke-width="0.45"/>
<circle cx="244.64" cy="517.99" r="1.6" fill="#ccdee8" stroke="#b2b8be" stroke-width="0.45"/>
<circle cx="248.82" cy="517.87" r="1.6" fill="#e6eef2" stroke="#b2b8be" stroke-width="0.45"/>
<circle cx="252.68" cy="517.53" r="1.6" fill="#ccdee8" stroke="#b2b8be" stroke-width="0.45"/>
<circle cx="256.57" cy="518.05" r="1.6" fill="#5f98cb" stroke="#8aa0b8" stroke-width="0.45"/>
<circle cx="260.36" cy="518.24" r="1.6" fill="#ebeef2" stroke="#b2b8be" stroke-width="0.45"/>
<circle cx="263.86" cy="517.7" r="1.6" fill="#e6eef2" stroke="#b2b8be" stroke-width="0.45"/>
<circle cx="267.73" cy="517.97" r="1.6" fill="#ebeef2" stroke="#b2b8be" stroke-width="0.45"/>
<circle cx="271.82" cy="517.83" r="1.6" fill="#e5eef2" stroke="#b2b8be" stroke-width="0.45"/>
<circle cx="276.1" cy="517.62" r="1.6" fill="#c8d9e5" stroke="#b2b8be" stroke-width="0.45"/>
<circle cx="279.71" cy="517.53" r="1.6" fill="#ccdee8" stroke="#b2b8be" stroke-width="0.45"/>
<circle cx="283.33" cy="518.37" r="1.6" fill="#e6eef2" stroke="#b2b8be" stroke-width="0.45"/>
<circle cx="287.16" cy="517.68" r="1.6" fill="#eaeef2" stroke="#b2b8be" stroke-width="0.45"/>
<circle cx="290.89" cy="517.64" r="1.6" fill="#eaeef2" stroke="#b2b8be" stroke-width="0.45"/>
<circle cx="294.72" cy="517.99" r="1.6" fill="#ebeef2" stroke="#b2b8be" stroke-width="0.45"/>
<circle cx="298.91" cy="518.31" r="1.6" fill="#e7eef2" stroke="#b2b8be" stroke-width="0.45"/>
<circle cx="302.58" cy="517.67" r="1.6" fill="#e8eef2" stroke="#b2b8be" stroke-width="0.45"/>
<circle cx="306.06" cy="518.23" r="1.6" fill="#e7eef2" stroke="#b2b8be" stroke-width="0.45"/>
<circle cx="310.36" cy="517.81" r="1.6" fill="#b1cde1" stroke="#b2b8be" stroke-width="0.45"/>
<circle cx="314.12" cy="517.98" r="1.6" fill="#eceef2" stroke="#b2b8be" stroke-width="0.45"/>
<circle cx="318.3" cy="517.5" r="1.6" fill="#e7eef2" stroke="#b2b8be" stroke-width="0.45"/>
<circle cx="321.56" cy="517.81" r="1.6" fill="#e9eef2" stroke="#b2b8be" stroke-width="0.45"/>
<circle cx="325.44" cy="518.11" r="1.6" fill="#ccdee8" stroke="#b2b8be" stroke-width="0.45"/>
<circle cx="330" cy="518.16" r="1.6" fill="#9cc2de" stroke="#b2b8be" stroke-width="0.45"/>
<circle cx="333.02" cy="517.78" r="1.6" fill="#eaeef2" stroke="#b2b8be" stroke-width="0.45"/>
<circle cx="337.02" cy="517.94" r="1.6" fill="#e7eef2" stroke="#b2b8be" stroke-width="0.45"/>
<circle cx="341.18" cy="517.81" r="1.6" fill="#e9eef2" stroke="#b2b8be" stroke-width="0.45"/>
<circle cx="349.23" cy="517.95" r="1.6" fill="#ebeef2" stroke="#b2b8be" stroke-width="0.45"/>
<circle cx="353.04" cy="518.15" r="1.6" fill="#e4eef2" stroke="#b2b8be" stroke-width="0.45"/>
<circle cx="356.26" cy="517.91" r="1.6" fill="#eaeef2" stroke="#b2b8be" stroke-width="0.45"/>
<circle cx="359.98" cy="517.88" r="1.6" fill="#e9eef2" stroke="#b2b8be" stroke-width="0.45"/>
<circle cx="364.11" cy="517.84" r="1.6" fill="#e7eef2" stroke="#b2b8be" stroke-width="0.45"/>
<circle cx="368.09" cy="518.11" r="1.6" fill="#e5eef2" stroke="#b2b8be" stroke-width="0.45"/>
<circle cx="372.06" cy="517.51" r="1.6" fill="#ccdee8" stroke="#b2b8be" stroke-width="0.45"/>
<circle cx="375.76" cy="517.95" r="1.6" fill="#e9eef2" stroke="#b2b8be" stroke-width="0.45"/>
<circle cx="379.21" cy="518.11" r="1.6" fill="#c6d8e5" stroke="#b2b8be" stroke-width="0.45"/>
<circle cx="383.24" cy="518.33" r="1.6" fill="#ccdee8" stroke="#b2b8be" stroke-width="0.45"/>
<circle cx="220.23" cy="521.16" r="1.6" fill="#b9d1e2" stroke="#b2b8be" stroke-width="0.45"/>
<circle cx="223.79" cy="521.33" r="1.6" fill="#9bc2de" stroke="#b2b8be" stroke-width="0.45"/>
<circle cx="231.66" cy="521.58" r="1.6" fill="#a9c9e0" stroke="#b2b8be" stroke-width="0.45"/>
<circle cx="234.96" cy="521.12" r="1.6" fill="#eaeef2" stroke="#b2b8be" stroke-width="0.45"/>
<circle cx="238.71" cy="520.85" r="1.6" fill="#ebeef2" stroke="#b2b8be" stroke-width="0.45"/>
<circle cx="246.99" cy="521.59" r="1.6" fill="#ebeef2" stroke="#b2b8be" stroke-width="0.45"/>
<circle cx="250.64" cy="521.39" r="1.6" fill="#e9eef2" stroke="#b2b8be" stroke-width="0.45"/>
<circle cx="254.91" cy="521.63" r="1.6" fill="#e5eef2" stroke="#b2b8be" stroke-width="0.45"/>
<circle cx="258.05" cy="521.02" r="1.6" fill="#eaeef2" stroke="#b2b8be" stroke-width="0.45"/>
<circle cx="262.49" cy="521.16" r="1.6" fill="#ccdee8" stroke="#b2b8be" stroke-width="0.45"/>
<circle cx="265.93" cy="521.23" r="1.6" fill="#ccdee8" stroke="#b2b8be" stroke-width="0.45"/>
<circle cx="270.29" cy="521.71" r="1.6" fill="#99c1dd" stroke="#b2b8be" stroke-width="0.45"/>
<circle cx="273.71" cy="521.61" r="1.6" fill="#e7eef2" stroke="#b2b8be" stroke-width="0.45"/>
<circle cx="277.98" cy="520.96" r="1.6" fill="#b2cee1" stroke="#b2b8be" stroke-width="0.45"/>
<circle cx="285.39" cy="521.29" r="1.6" fill="#eaeef2" stroke="#b2b8be" stroke-width="0.45"/>
<circle cx="289.57" cy="521.08" r="1.6" fill="#538ec6" stroke="#8aa0b8" stroke-width="0.45"/>
<circle cx="292.77" cy="521.45" r="1.6" fill="#e8eef2" stroke="#b2b8be" stroke-width="0.45"/>
<circle cx="296.45" cy="520.97" r="1.6" fill="#e5eef2" stroke="#b2b8be" stroke-width="0.45"/>
<circle cx="300.73" cy="521.36" r="1.6" fill="#ccdee8" stroke="#b2b8be" stroke-width="0.45"/>
<circle cx="304.97" cy="521.59" r="1.6" fill="#c2d6e4" stroke="#b2b8be" stroke-width="0.45"/>
<circle cx="308.7" cy="521.52" r="1.6" fill="#eaeef2" stroke="#b2b8be" stroke-width="0.45"/>
<circle cx="311.91" cy="521.13" r="1.6" fill="#e8eef2" stroke="#b2b8be" stroke-width="0.45"/>
<circle cx="315.66" cy="521.58" r="1.6" fill="#ccdee8" stroke="#b2b8be" stroke-width="0.45"/>
<circle cx="319.9" cy="521.42" r="1.6" fill="#eceef2" stroke="#b2b8be" stroke-width="0.45"/>
<circle cx="323.58" cy="520.85" r="1.6" fill="#ccdee8" stroke="#b2b8be" stroke-width="0.45"/>
<circle cx="327.75" cy="521.52" r="1.6" fill="#b5cfe2" stroke="#b2b8be" stroke-width="0.45"/>
<circle cx="331.53" cy="521.47" r="1.6" fill="#a1c5df" stroke="#b2b8be" stroke-width="0.45"/>
<circle cx="335.61" cy="521.72" r="1.6" fill="#91bddc" stroke="#8aa0b8" stroke-width="0.45"/>
<circle cx="338.97" cy="520.95" r="1.6" fill="#ebeef2" stroke="#b2b8be" stroke-width="0.45"/>
<circle cx="342.73" cy="521.54" r="1.6" fill="#e7eef2" stroke="#b2b8be" stroke-width="0.45"/>
<circle cx="346.51" cy="521.68" r="1.6" fill="#eaeef2" stroke="#b2b8be" stroke-width="0.45"/>
<circle cx="350.94" cy="521.27" r="1.6" fill="#e8eef2" stroke="#b2b8be" stroke-width="0.45"/>
<circle cx="354.21" cy="521.5" r="1.6" fill="#eceef2" stroke="#b2b8be" stroke-width="0.45"/>
<circle cx="358.15" cy="520.94" r="1.6" fill="#e9eef2" stroke="#b2b8be" stroke-width="0.45"/>
<circle cx="366.5" cy="521.11" r="1.6" fill="#e6eef2" stroke="#b2b8be" stroke-width="0.45"/>
<circle cx="370.4" cy="521.71" r="1.6" fill="#e8eef2" stroke="#b2b8be" stroke-width="0.45"/>
<circle cx="373.46" cy="521.11" r="1.6" fill="#b9d1e2" stroke="#b2b8be" stroke-width="0.45"/>
<circle cx="377.99" cy="521.57" r="1.6" fill="#ccdee8" stroke="#b2b8be" stroke-width="0.45"/>
<circle cx="382" cy="521.42" r="1.6" fill="#b2cee1" stroke="#b2b8be" stroke-width="0.45"/>
<circle cx="217.64" cy="524.86" r="1.6" fill="#e5eef2" stroke="#b2b8be" stroke-width="0.45"/>
<circle cx="221.67" cy="524.99" r="1.6" fill="#9ec3de" stroke="#b2b8be" stroke-width="0.45"/>
<circle cx="225.41" cy="524.46" r="1.6" fill="#bad2e3" stroke="#b2b8be" stroke-width="0.45"/>
<circle cx="229.54" cy="524.54" r="1.6" fill="#e6eef2" stroke="#b2b8be" stroke-width="0.45"/>
<circle cx="233.54" cy="524.45" r="1.6" fill="#ccdee8" stroke="#b2b8be" stroke-width="0.45"/>
<circle cx="237.17" cy="524.59" r="1.6" fill="#e8eef2" stroke="#b2b8be" stroke-width="0.45"/>
<circle cx="241.41" cy="524.92" r="1.6" fill="#eaeef2" stroke="#b2b8be" stroke-width="0.45"/>
<circle cx="244.71" cy="524.98" r="1.6" fill="#ccdee8" stroke="#b2b8be" stroke-width="0.45"/>
<circle cx="248.71" cy="524.69" r="1.6" fill="#c8d9e5" stroke="#b2b8be" stroke-width="0.45"/>
<circle cx="252.8" cy="524.87" r="1.6" fill="#e8eef2" stroke="#b2b8be" stroke-width="0.45"/>
<circle cx="256.14" cy="524.24" r="1.6" fill="#e9eef2" stroke="#b2b8be" stroke-width="0.45"/>
<circle cx="259.84" cy="524.26" r="1.6" fill="#eaeef2" stroke="#b2b8be" stroke-width="0.45"/>
<circle cx="264" cy="524.73" r="1.6" fill="#e7eef2" stroke="#b2b8be" stroke-width="0.45"/>
<circle cx="268.27" cy="524.55" r="1.6" fill="#c1d6e4" stroke="#b2b8be" stroke-width="0.45"/>
<circle cx="271.99" cy="524.7" r="1.6" fill="#ccdee8" stroke="#b2b8be" stroke-width="0.45"/>
<circle cx="275.61" cy="524.78" r="1.6" fill="#a7c8e0" stroke="#b2b8be" stroke-width="0.45"/>
<circle cx="279.47" cy="524.83" r="1.6" fill="#e6eef2" stroke="#b2b8be" stroke-width="0.45"/>
<circle cx="283.31" cy="524.66" r="1.6" fill="#e5eef2" stroke="#b2b8be" stroke-width="0.45"/>
<circle cx="287.24" cy="524.53" r="1.6" fill="#e8eef2" stroke="#b2b8be" stroke-width="0.45"/>
<circle cx="291.12" cy="524.28" r="1.6" fill="#e9eef2" stroke="#b2b8be" stroke-width="0.45"/>
<circle cx="294.74" cy="524.28" r="1.6" fill="#ccdee8" stroke="#b2b8be" stroke-width="0.45"/>
<circle cx="298.42" cy="524.51" r="1.6" fill="#ccdee8" stroke="#b2b8be" stroke-width="0.45"/>
<circle cx="302.33" cy="524.39" r="1.6" fill="#5b95c9" stroke="#8aa0b8" stroke-width="0.45"/>
<circle cx="306.36" cy="524.22" r="1.6" fill="#e9eef2" stroke="#b2b8be" stroke-width="0.45"/>
<circle cx="310.67" cy="524.88" r="1.6" fill="#e6eef2" stroke="#b2b8be" stroke-width="0.45"/>
<circle cx="314.62" cy="524.47" r="1.6" fill="#e8eef2" stroke="#b2b8be" stroke-width="0.45"/>
<circle cx="318.26" cy="524.63" r="1.6" fill="#e5eef2" stroke="#b2b8be" stroke-width="0.45"/>
<circle cx="329.74" cy="524.46" r="1.6" fill="#e8eef2" stroke="#b2b8be" stroke-width="0.45"/>
<circle cx="333.06" cy="524.33" r="1.6" fill="#ccdee8" stroke="#b2b8be" stroke-width="0.45"/>
<circle cx="336.92" cy="525.07" r="1.6" fill="#ccdee8" stroke="#b2b8be" stroke-width="0.45"/>
<circle cx="341.29" cy="525.07" r="1.6" fill="#e9eef2" stroke="#b2b8be" stroke-width="0.45"/>
<circle cx="344.74" cy="524.36" r="1.6" fill="#e9eef2" stroke="#b2b8be" stroke-width="0.45"/>
<circle cx="349.27" cy="524.37" r="1.6" fill="#eaeef2" stroke="#b2b8be" stroke-width="0.45"/>
<circle cx="352.24" cy="524.62" r="1.6" fill="#e9eef2" stroke="#b2b8be" stroke-width="0.45"/>
<circle cx="356.42" cy="524.21" r="1.6" fill="#e6eef2" stroke="#b2b8be" stroke-width="0.45"/>
<circle cx="360.51" cy="524.75" r="1.6" fill="#e7eef2" stroke="#b2b8be" stroke-width="0.45"/>
<circle cx="364.17" cy="524.99" r="1.6" fill="#e9eef2" stroke="#b2b8be" stroke-width="0.45"/>
<circle cx="367.66" cy="524.44" r="1.6" fill="#eaeef2" stroke="#b2b8be" stroke-width="0.45"/>
<circle cx="372.3" cy="524.45" r="1.6" fill="#ccdee8" stroke="#b2b8be" stroke-width="0.45"/>
<circle cx="376.17" cy="524.88" r="1.6" fill="#b7d0e2" stroke="#b2b8be" stroke-width="0.45"/>
<circle cx="383.12" cy="524.54" r="1.6" fill="#b3cee1" stroke="#b2b8be" stroke-width="0.45"/>
<circle cx="220.25" cy="527.86" r="1.6" fill="#e6eef2" stroke="#b2b8be" stroke-width="0.45"/>
<circle cx="223.95" cy="527.73" r="1.6" fill="#eaeef2" stroke="#b2b8be" stroke-width="0.45"/>
<circle cx="227.87" cy="527.71" r="1.6" fill="#c5d8e4" stroke="#b2b8be" stroke-width="0.45"/>
<circle cx="230.97" cy="527.99" r="1.6" fill="#eaeef2" stroke="#b2b8be" stroke-width="0.45"/>
<circle cx="235.56" cy="528.27" r="1.6" fill="#e9eef2" stroke="#b2b8be" stroke-width="0.45"/>
<circle cx="239.26" cy="528.43" r="1.6" fill="#eceef2" stroke="#b2b8be" stroke-width="0.45"/>
<circle cx="242.51" cy="528" r="1.6" fill="#e6eef2" stroke="#b2b8be" stroke-width="0.45"/>
<circle cx="246.98" cy="527.95" r="1.6" fill="#e9eef2" stroke="#b2b8be" stroke-width="0.45"/>
<circle cx="250.51" cy="528.21" r="1.6" fill="#ccdee8" stroke="#b2b8be" stroke-width="0.45"/>
<circle cx="254.87" cy="527.68" r="1.6" fill="#e8eef2" stroke="#b2b8be" stroke-width="0.45"/>
<circle cx="258.79" cy="528.3" r="1.6" fill="#ccdee8" stroke="#b2b8be" stroke-width="0.45"/>
<circle cx="262.43" cy="527.88" r="1.6" fill="#e5eef2" stroke="#b2b8be" stroke-width="0.45"/>
<circle cx="265.88" cy="527.85" r="1.6" fill="#e7eef2" stroke="#b2b8be" stroke-width="0.45"/>
<circle cx="270.16" cy="528.35" r="1.6" fill="#b1cde1" stroke="#b2b8be" stroke-width="0.45"/>
<circle cx="273.49" cy="527.75" r="1.6" fill="#c4d7e4" stroke="#b2b8be" stroke-width="0.45"/>
<circle cx="277.6" cy="527.73" r="1.6" fill="#8ebbdc" stroke="#8aa0b8" stroke-width="0.45"/>
<circle cx="281.06" cy="527.71" r="1.6" fill="#ebeef2" stroke="#b2b8be" stroke-width="0.45"/>
<circle cx="285.69" cy="527.66" r="1.6" fill="#e5eef2" stroke="#b2b8be" stroke-width="0.45"/>
<circle cx="288.85" cy="528.26" r="1.6" fill="#ebeef2" stroke="#b2b8be" stroke-width="0.45"/>
<circle cx="293.17" cy="528.2" r="1.6" fill="#eaeef2" stroke="#b2b8be" stroke-width="0.45"/>
<circle cx="297.04" cy="527.92" r="1.6" fill="#e8eef2" stroke="#b2b8be" stroke-width="0.45"/>
<circle cx="300.83" cy="528.4" r="1.6" fill="#c8d9e5" stroke="#b2b8be" stroke-width="0.45"/>
<circle cx="304.81" cy="527.59" r="1.6" fill="#e4eef2" stroke="#b2b8be" stroke-width="0.45"/>
<circle cx="308.46" cy="527.55" r="1.6" fill="#e6eef2" stroke="#b2b8be" stroke-width="0.45"/>
<circle cx="312.49" cy="528.01" r="1.6" fill="#eceef2" stroke="#b2b8be" stroke-width="0.45"/>
<circle cx="316.16" cy="528.18" r="1.6" fill="#e8eef2" stroke="#b2b8be" stroke-width="0.45"/>
<circle cx="320.32" cy="527.87" r="1.6" fill="#eaeef2" stroke="#b2b8be" stroke-width="0.45"/>
<circle cx="323.93" cy="528.13" r="1.6" fill="#ccdee8" stroke="#b2b8be" stroke-width="0.45"/>
<circle cx="327.23" cy="528.39" r="1.6" fill="#96bfdd" stroke="#8aa0b8" stroke-width="0.45"/>
<circle cx="331.23" cy="527.61" r="1.6" fill="#c3d7e4" stroke="#b2b8be" stroke-width="0.45"/>
<circle cx="335.49" cy="528.31" r="1.6" fill="#ebeef2" stroke="#b2b8be" stroke-width="0.45"/>
<circle cx="339.38" cy="528.27" r="1.6" fill="#e7eef2" stroke="#b2b8be" stroke-width="0.45"/>
<circle cx="343.49" cy="527.96" r="1.6" fill="#e8eef2" stroke="#b2b8be" stroke-width="0.45"/>
<circle cx="346.5" cy="528.4" r="1.6" fill="#e7eef2" stroke="#b2b8be" stroke-width="0.45"/>
<circle cx="350.4" cy="527.62" r="1.6" fill="#e7eef2" stroke="#b2b8be" stroke-width="0.45"/>
<circle cx="354.65" cy="527.98" r="1.6" fill="#e6eef2" stroke="#b2b8be" stroke-width="0.45"/>
<circle cx="358.42" cy="527.98" r="1.6" fill="#e5eef2" stroke="#b2b8be" stroke-width="0.45"/>
<circle cx="362.4" cy="527.96" r="1.6" fill="#e5eef2" stroke="#b2b8be" stroke-width="0.45"/>
<circle cx="365.76" cy="527.94" r="1.6" fill="#e6eef2" stroke="#b2b8be" stroke-width="0.45"/>
<circle cx="373.7" cy="528.04" r="1.6" fill="#ccdbe5" stroke="#b2b8be" stroke-width="0.45"/>
<circle cx="377.99" cy="527.66" r="1.6" fill="#679dce" stroke="#8aa0b8" stroke-width="0.45"/>
<circle cx="381.77" cy="528.42" r="1.6" fill="#eceef2" stroke="#b2b8be" stroke-width="0.45"/>
<circle cx="221.73" cy="531.41" r="1.6" fill="#e5eef2" stroke="#b2b8be" stroke-width="0.45"/>
<circle cx="225.22" cy="531.52" r="1.6" fill="#7fb0d7" stroke="#8aa0b8" stroke-width="0.45"/>
<circle cx="229.85" cy="531.43" r="1.6" fill="#e9eef2" stroke="#b2b8be" stroke-width="0.45"/>
<circle cx="233.68" cy="531.11" r="1.6" fill="#eaeef2" stroke="#b2b8be" stroke-width="0.45"/>
<circle cx="237.09" cy="530.99" r="1.6" fill="#ccdee8" stroke="#b2b8be" stroke-width="0.45"/>
<circle cx="241.11" cy="531.53" r="1.6" fill="#e8eef2" stroke="#b2b8be" stroke-width="0.45"/>
<circle cx="244.89" cy="531.52" r="1.6" fill="#ebeef2" stroke="#b2b8be" stroke-width="0.45"/>
<circle cx="248.9" cy="531.57" r="1.6" fill="#e6eef2" stroke="#b2b8be" stroke-width="0.45"/>
<circle cx="252.57" cy="531.01" r="1.6" fill="#eaeef2" stroke="#b2b8be" stroke-width="0.45"/>
<circle cx="256.34" cy="531.23" r="1.6" fill="#ebeef2" stroke="#b2b8be" stroke-width="0.45"/>
<circle cx="260.03" cy="531.76" r="1.6" fill="#e8eef2" stroke="#b2b8be" stroke-width="0.45"/>
<circle cx="264.04" cy="531.64" r="1.6" fill="#e6eef2" stroke="#b2b8be" stroke-width="0.45"/>
<circle cx="267.78" cy="531.02" r="1.6" fill="#6199cb" stroke="#8aa0b8" stroke-width="0.45"/>
<circle cx="271.68" cy="531.65" r="1.6" fill="#a2c5df" stroke="#b2b8be" stroke-width="0.45"/>
<circle cx="275.4" cy="531.33" r="1.6" fill="#accbe0" stroke="#b2b8be" stroke-width="0.45"/>
<circle cx="279.82" cy="531.3" r="1.6" fill="#e7eef2" stroke="#b2b8be" stroke-width="0.45"/>
<circle cx="283.21" cy="531.2" r="1.6" fill="#eaeef2" stroke="#b2b8be" stroke-width="0.45"/>
<circle cx="286.95" cy="530.89" r="1.6" fill="#e7eef2" stroke="#b2b8be" stroke-width="0.45"/>
<circle cx="290.82" cy="531.45" r="1.6" fill="#e5eef2" stroke="#b2b8be" stroke-width="0.45"/>
<circle cx="294.85" cy="531.62" r="1.6" fill="#ccdee8" stroke="#b2b8be" stroke-width="0.45"/>
<circle cx="298.54" cy="531.44" r="1.6" fill="#e4eef2" stroke="#b2b8be" stroke-width="0.45"/>
<circle cx="302.45" cy="530.93" r="1.6" fill="#e5eef2" stroke="#b2b8be" stroke-width="0.45"/>
<circle cx="306.44" cy="531.19" r="1.6" fill="#e6eef2" stroke="#b2b8be" stroke-width="0.45"/>
<circle cx="310.19" cy="530.96" r="1.6" fill="#ccdee8" stroke="#b2b8be" stroke-width="0.45"/>
<circle cx="313.84" cy="530.92" r="1.6" fill="#ccdee8" stroke="#b2b8be" stroke-width="0.45"/>
<circle cx="317.73" cy="531.28" r="1.6" fill="#e9eef2" stroke="#b2b8be" stroke-width="0.45"/>
<circle cx="321.71" cy="531.6" r="1.6" fill="#e7eef2" stroke="#b2b8be" stroke-width="0.45"/>
<circle cx="325.55" cy="531.3" r="1.6" fill="#a1c5df" stroke="#b2b8be" stroke-width="0.45"/>
<circle cx="329.38" cy="531.61" r="1.6" fill="#e6eef2" stroke="#b2b8be" stroke-width="0.45"/>
<circle cx="333.67" cy="531.05" r="1.6" fill="#eceef2" stroke="#b2b8be" stroke-width="0.45"/>
<circle cx="337.29" cy="531.63" r="1.6" fill="#ccdee8" stroke="#b2b8be" stroke-width="0.45"/>
<circle cx="341.19" cy="531.4" r="1.6" fill="#e8eef2" stroke="#b2b8be" stroke-width="0.45"/>
<circle cx="345.33" cy="531.58" r="1.6" fill="#e6eef2" stroke="#b2b8be" stroke-width="0.45"/>
<circle cx="348.61" cy="531" r="1.6" fill="#ccdee8" stroke="#b2b8be" stroke-width="0.45"/>
<circle cx="352.77" cy="531.13" r="1.6" fill="#e8eef2" stroke="#b2b8be" stroke-width="0.45"/>
<circle cx="356.09" cy="530.91" r="1.6" fill="#e4eef2" stroke="#b2b8be" stroke-width="0.45"/>
<circle cx="360.33" cy="530.94" r="1.6" fill="#e5eef2" stroke="#b2b8be" stroke-width="0.45"/>
<circle cx="364.29" cy="531.63" r="1.6" fill="#e4eef2" stroke="#b2b8be" stroke-width="0.45"/>
<circle cx="367.92" cy="530.94" r="1.6" fill="#e4eef2" stroke="#b2b8be" stroke-width="0.45"/>
<circle cx="371.94" cy="531.72" r="1.6" fill="#e6eef2" stroke="#b2b8be" stroke-width="0.45"/>
<circle cx="376.18" cy="531.16" r="1.6" fill="#ccdee8" stroke="#b2b8be" stroke-width="0.45"/>
<circle cx="379.69" cy="531.16" r="1.6" fill="#88b7da" stroke="#8aa0b8" stroke-width="0.45"/>
<circle cx="383.24" cy="531.14" r="1.6" fill="#e6eef2" stroke="#b2b8be" stroke-width="0.45"/>
<circle cx="220.19" cy="535.06" r="1.6" fill="#74a7d2" stroke="#8aa0b8" stroke-width="0.45"/>
<circle cx="223.94" cy="534.44" r="1.6" fill="#bcd3e3" stroke="#b2b8be" stroke-width="0.45"/>
<circle cx="235.68" cy="534.91" r="1.6" fill="#b4cfe2" stroke="#b2b8be" stroke-width="0.45"/>
<circle cx="238.75" cy="534.59" r="1.6" fill="#e5eef2" stroke="#b2b8be" stroke-width="0.45"/>
<circle cx="243.15" cy="534.36" r="1.6" fill="#ccdee8" stroke="#b2b8be" stroke-width="0.45"/>
<circle cx="247.06" cy="534.5" r="1.6" fill="#e6eef2" stroke="#b2b8be" stroke-width="0.45"/>
<circle cx="250.96" cy="534.85" r="1.6" fill="#ccdee8" stroke="#b2b8be" stroke-width="0.45"/>
<circle cx="254.08" cy="534.98" r="1.6" fill="#e5eef2" stroke="#b2b8be" stroke-width="0.45"/>
<circle cx="258.01" cy="534.96" r="1.6" fill="#ccdee8" stroke="#b2b8be" stroke-width="0.45"/>
<circle cx="262.25" cy="534.32" r="1.6" fill="#ccdee8" stroke="#b2b8be" stroke-width="0.45"/>
<circle cx="266.27" cy="535.11" r="1.6" fill="#ccdee8" stroke="#b2b8be" stroke-width="0.45"/>
<circle cx="270.1" cy="534.59" r="1.6" fill="#5690c7" stroke="#8aa0b8" stroke-width="0.45"/>
<circle cx="273.63" cy="534.55" r="1.6" fill="#b6d0e2" stroke="#b2b8be" stroke-width="0.45"/>
<circle cx="277.96" cy="534.79" r="1.6" fill="#a7c8e0" stroke="#b2b8be" stroke-width="0.45"/>
<circle cx="281.27" cy="534.61" r="1.6" fill="#e8eef2" stroke="#b2b8be" stroke-width="0.45"/>
<circle cx="285.16" cy="534.55" r="1.6" fill="#ccdee8" stroke="#b2b8be" stroke-width="0.45"/>
<circle cx="289.41" cy="534.7" r="1.6" fill="#e6eef2" stroke="#b2b8be" stroke-width="0.45"/>
<circle cx="292.73" cy="534.64" r="1.6" fill="#e7eef2" stroke="#b2b8be" stroke-width="0.45"/>
<circle cx="296.63" cy="534.24" r="1.6" fill="#e7eef2" stroke="#b2b8be" stroke-width="0.45"/>
<circle cx="301.05" cy="534.86" r="1.6" fill="#e5eef2" stroke="#b2b8be" stroke-width="0.45"/>
<circle cx="304.28" cy="534.42" r="1.6" fill="#e8eef2" stroke="#b2b8be" stroke-width="0.45"/>
<circle cx="308.11" cy="534.83" r="1.6" fill="#e8eef2" stroke="#b2b8be" stroke-width="0.45"/>
<circle cx="312.12" cy="534.66" r="1.6" fill="#eaeef2" stroke="#b2b8be" stroke-width="0.45"/>
<circle cx="316.4" cy="534.43" r="1.6" fill="#eaeef2" stroke="#b2b8be" stroke-width="0.45"/>
<circle cx="320.11" cy="534.24" r="1.6" fill="#699fce" stroke="#8aa0b8" stroke-width="0.45"/>
<circle cx="323.43" cy="534.45" r="1.6" fill="#ccdee8" stroke="#b2b8be" stroke-width="0.45"/>
<circle cx="327.86" cy="534.83" r="1.6" fill="#bfd4e3" stroke="#b2b8be" stroke-width="0.45"/>
<circle cx="331.6" cy="534.94" r="1.6" fill="#ccdee8" stroke="#b2b8be" stroke-width="0.45"/>
<circle cx="335.42" cy="534.68" r="1.6" fill="#e9eef2" stroke="#b2b8be" stroke-width="0.45"/>
<circle cx="338.8" cy="534.5" r="1.6" fill="#e4eef2" stroke="#b2b8be" stroke-width="0.45"/>
<circle cx="342.91" cy="534.98" r="1.6" fill="#e8eef2" stroke="#b2b8be" stroke-width="0.45"/>
<circle cx="347.3" cy="534.51" r="1.6" fill="#eceef2" stroke="#b2b8be" stroke-width="0.45"/>
<circle cx="350.37" cy="534.28" r="1.6" fill="#e7eef2" stroke="#b2b8be" stroke-width="0.45"/>
<circle cx="354.46" cy="535.12" r="1.6" fill="#ccdee8" stroke="#b2b8be" stroke-width="0.45"/>
<circle cx="358.11" cy="534.87" r="1.6" fill="#e4eef2" stroke="#b2b8be" stroke-width="0.45"/>
<circle cx="361.88" cy="534.36" r="1.6" fill="#e5eef2" stroke="#b2b8be" stroke-width="0.45"/>
<circle cx="366.05" cy="534.32" r="1.6" fill="#ccdee8" stroke="#b2b8be" stroke-width="0.45"/>
<circle cx="370.39" cy="534.26" r="1.6" fill="#bad2e3" stroke="#b2b8be" stroke-width="0.45"/>
<circle cx="373.53" cy="534.42" r="1.6" fill="#bcd3e3" stroke="#b2b8be" stroke-width="0.45"/>
<circle cx="377.99" cy="534.58" r="1.6" fill="#9bc2de" stroke="#b2b8be" stroke-width="0.45"/>
<circle cx="381.51" cy="534.51" r="1.6" fill="#89b7da" stroke="#8aa0b8" stroke-width="0.45"/>
<circle cx="221.51" cy="537.97" r="1.6" fill="#e4eef2" stroke="#b2b8be" stroke-width="0.45"/>
<circle cx="225.52" cy="537.69" r="1.6" fill="#649ccd" stroke="#8aa0b8" stroke-width="0.45"/>
<circle cx="229.03" cy="538.18" r="1.6" fill="#b5cfe2" stroke="#b2b8be" stroke-width="0.45"/>
<circle cx="233.14" cy="538.19" r="1.6" fill="#ccdee8" stroke="#b2b8be" stroke-width="0.45"/>
<circle cx="237.45" cy="538.25" r="1.6" fill="#e8eef2" stroke="#b2b8be" stroke-width="0.45"/>
<circle cx="240.65" cy="538" r="1.6" fill="#e6eef2" stroke="#b2b8be" stroke-width="0.45"/>
<circle cx="244.65" cy="538.01" r="1.6" fill="#e5eef2" stroke="#b2b8be" stroke-width="0.45"/>
<circle cx="248.36" cy="537.96" r="1.6" fill="#e7eef2" stroke="#b2b8be" stroke-width="0.45"/>
<circle cx="252.53" cy="537.8" r="1.6" fill="#ccdee8" stroke="#b2b8be" stroke-width="0.45"/>
<circle cx="256.12" cy="537.91" r="1.6" fill="#e9eef2" stroke="#b2b8be" stroke-width="0.45"/>
<circle cx="260.67" cy="537.9" r="1.6" fill="#eceef2" stroke="#b2b8be" stroke-width="0.45"/>
<circle cx="264.31" cy="538.19" r="1.6" fill="#ccdee8" stroke="#b2b8be" stroke-width="0.45"/>
<circle cx="268.22" cy="538.42" r="1.6" fill="#eaeef2" stroke="#b2b8be" stroke-width="0.45"/>
<circle cx="271.68" cy="537.89" r="1.6" fill="#ebeef2" stroke="#b2b8be" stroke-width="0.45"/>
<circle cx="275.37" cy="538.23" r="1.6" fill="#e6eef2" stroke="#b2b8be" stroke-width="0.45"/>
<circle cx="279.23" cy="538.06" r="1.6" fill="#eaeef2" stroke="#b2b8be" stroke-width="0.45"/>
<circle cx="283.2" cy="538.24" r="1.6" fill="#eaeef2" stroke="#b2b8be" stroke-width="0.45"/>
<circle cx="287.18" cy="538.34" r="1.6" fill="#e7eef2" stroke="#b2b8be" stroke-width="0.45"/>
<circle cx="290.64" cy="537.76" r="1.6" fill="#e7eef2" stroke="#b2b8be" stroke-width="0.45"/>
<circle cx="295.25" cy="538.37" r="1.6" fill="#ccdee8" stroke="#b2b8be" stroke-width="0.45"/>
<circle cx="298.43" cy="538.31" r="1.6" fill="#ebeef2" stroke="#b2b8be" stroke-width="0.45"/>
<circle cx="303.02" cy="537.84" r="1.6" fill="#e8eef2" stroke="#b2b8be" stroke-width="0.45"/>
<circle cx="306.88" cy="537.86" r="1.6" fill="#e7eef2" stroke="#b2b8be" stroke-width="0.45"/>
<circle cx="310.37" cy="538.31" r="1.6" fill="#e5eef2" stroke="#b2b8be" stroke-width="0.45"/>
<circle cx="313.77" cy="538.47" r="1.6" fill="#ebeef2" stroke="#b2b8be" stroke-width="0.45"/>
<circle cx="317.81" cy="538.48" r="1.6" fill="#e6eef2" stroke="#b2b8be" stroke-width="0.45"/>
<circle cx="322.03" cy="537.98" r="1.6" fill="#e5eef2" stroke="#b2b8be" stroke-width="0.45"/>
<circle cx="325.65" cy="537.8" r="1.6" fill="#e5eef2" stroke="#b2b8be" stroke-width="0.45"/>
<circle cx="329.27" cy="537.64" r="1.6" fill="#ccdee8" stroke="#b2b8be" stroke-width="0.45"/>
<circle cx="337.41" cy="537.77" r="1.6" fill="#e5eef2" stroke="#b2b8be" stroke-width="0.45"/>
<circle cx="341.01" cy="537.82" r="1.6" fill="#e6eef2" stroke="#b2b8be" stroke-width="0.45"/>
<circle cx="344.75" cy="538.34" r="1.6" fill="#e9eef2" stroke="#b2b8be" stroke-width="0.45"/>
<circle cx="348.4" cy="538.33" r="1.6" fill="#eaeef2" stroke="#b2b8be" stroke-width="0.45"/>
<circle cx="352.92" cy="538.37" r="1.6" fill="#e7eef2" stroke="#b2b8be" stroke-width="0.45"/>
<circle cx="356.67" cy="538.44" r="1.6" fill="#ccdee8" stroke="#b2b8be" stroke-width="0.45"/>
<circle cx="360.41" cy="538.27" r="1.6" fill="#ebeef2" stroke="#b2b8be" stroke-width="0.45"/>
<circle cx="364.22" cy="537.65" r="1.6" fill="#e8eef2" stroke="#b2b8be" stroke-width="0.45"/>
<circle cx="368.18" cy="537.75" r="1.6" fill="#e7eef2" stroke="#b2b8be" stroke-width="0.45"/>
<circle cx="376.02" cy="537.85" r="1.6" fill="#a9c9e0" stroke="#b2b8be" stroke-width="0.45"/>
<circle cx="379.25" cy="538.32" r="1.6" fill="#629acc" stroke="#8aa0b8" stroke-width="0.45"/>
<circle cx="219.59" cy="541.06" r="1.6" fill="#c3d7e4" stroke="#b2b8be" stroke-width="0.45"/>
<circle cx="223.34" cy="541.56" r="1.6" fill="#9ac1dd" stroke="#b2b8be" stroke-width="0.45"/>
<circle cx="227.7" cy="541.28" r="1.6" fill="#96bfdd" stroke="#8aa0b8" stroke-width="0.45"/>
<circle cx="231.79" cy="541.77" r="1.6" fill="#9cc3de" stroke="#b2b8be" stroke-width="0.45"/>
<circle cx="235.08" cy="541.56" r="1.6" fill="#ebeef2" stroke="#b2b8be" stroke-width="0.45"/>
<circle cx="239.26" cy="541.34" r="1.6" fill="#e9eef2" stroke="#b2b8be" stroke-width="0.45"/>
<circle cx="243.3" cy="541" r="1.6" fill="#e7eef2" stroke="#b2b8be" stroke-width="0.45"/>
<circle cx="246.78" cy="541.2" r="1.6" fill="#ebeef2" stroke="#b2b8be" stroke-width="0.45"/>
<circle cx="251.08" cy="541.57" r="1.6" fill="#ebeef2" stroke="#b2b8be" stroke-width="0.45"/>
<circle cx="254.05" cy="541.52" r="1.6" fill="#e9eef2" stroke="#b2b8be" stroke-width="0.45"/>
<circle cx="258" cy="541.5" r="1.6" fill="#e7eef2" stroke="#b2b8be" stroke-width="0.45"/>
<circle cx="262.58" cy="541.03" r="1.6" fill="#e8eef2" stroke="#b2b8be" stroke-width="0.45"/>
<circle cx="265.95" cy="541.67" r="1.6" fill="#a4c7df" stroke="#b2b8be" stroke-width="0.45"/>
<circle cx="269.97" cy="541.09" r="1.6" fill="#6da2d0" stroke="#8aa0b8" stroke-width="0.45"/>
<circle cx="273.32" cy="541.05" r="1.6" fill="#518cc5" stroke="#8aa0b8" stroke-width="0.45"/>
<circle cx="277.69" cy="541.11" r="1.6" fill="#5993c9" stroke="#8aa0b8" stroke-width="0.45"/>
<circle cx="281.78" cy="541.66" r="1.6" fill="#e7eef2" stroke="#b2b8be" stroke-width="0.45"/>
<circle cx="285.21" cy="541.51" r="1.6" fill="#e5eef2" stroke="#b2b8be" stroke-width="0.45"/>
<circle cx="289.46" cy="541.73" r="1.6" fill="#e7eef2" stroke="#b2b8be" stroke-width="0.45"/>
<circle cx="293.41" cy="541.61" r="1.6" fill="#e7eef2" stroke="#b2b8be" stroke-width="0.45"/>
<circle cx="296.87" cy="541.01" r="1.6" fill="#e6eef2" stroke="#b2b8be" stroke-width="0.45"/>
<circle cx="300.78" cy="541.4" r="1.6" fill="#ccdee8" stroke="#b2b8be" stroke-width="0.45"/>
<circle cx="304.93" cy="541.02" r="1.6" fill="#ccdee8" stroke="#b2b8be" stroke-width="0.45"/>
<circle cx="308.61" cy="541.65" r="1.6" fill="#e6eef2" stroke="#b2b8be" stroke-width="0.45"/>
<circle cx="316.07" cy="541.31" r="1.6" fill="#e5eef2" stroke="#b2b8be" stroke-width="0.45"/>
<circle cx="319.51" cy="541.58" r="1.6" fill="#9cc2de" stroke="#b2b8be" stroke-width="0.45"/>
<circle cx="323.86" cy="541.29" r="1.6" fill="#9dc3de" stroke="#b2b8be" stroke-width="0.45"/>
<circle cx="327.99" cy="541.04" r="1.6" fill="#ebeef2" stroke="#b2b8be" stroke-width="0.45"/>
<circle cx="331.8" cy="541.68" r="1.6" fill="#e5eef2" stroke="#b2b8be" stroke-width="0.45"/>
<circle cx="335.09" cy="541.81" r="1.6" fill="#e8eef2" stroke="#b2b8be" stroke-width="0.45"/>
<circle cx="339.11" cy="541.04" r="1.6" fill="#e7eef2" stroke="#b2b8be" stroke-width="0.45"/>
<circle cx="343.31" cy="541.7" r="1.6" fill="#ccdee8" stroke="#b2b8be" stroke-width="0.45"/>
<circle cx="347.17" cy="540.99" r="1.6" fill="#ccdee8" stroke="#b2b8be" stroke-width="0.45"/>
<circle cx="350.53" cy="541.47" r="1.6" fill="#eaeef2" stroke="#b2b8be" stroke-width="0.45"/>
<circle cx="354.53" cy="541.67" r="1.6" fill="#ccdee8" stroke="#b2b8be" stroke-width="0.45"/>
<circle cx="358.22" cy="541.17" r="1.6" fill="#e5eef2" stroke="#b2b8be" stroke-width="0.45"/>
<circle cx="362.16" cy="541.11" r="1.6" fill="#e5eef2" stroke="#b2b8be" stroke-width="0.45"/>
<circle cx="365.82" cy="541.34" r="1.6" fill="#e9eef2" stroke="#b2b8be" stroke-width="0.45"/>
<circle cx="374" cy="541.23" r="1.6" fill="#c9dae5" stroke="#b2b8be" stroke-width="0.45"/>
<circle cx="377.76" cy="541.71" r="1.6" fill="#14427e" stroke="#8aa0b8" stroke-width="0.45"/>
<circle cx="381.73" cy="541.09" r="1.6" fill="#a3c6df" stroke="#b2b8be" stroke-width="0.45"/>
<circle cx="222.11" cy="544.54" r="1.6" fill="#639bcc" stroke="#8aa0b8" stroke-width="0.45"/>
<circle cx="225.28" cy="544.8" r="1.6" fill="#e5eef2" stroke="#b2b8be" stroke-width="0.45"/>
<circle cx="229.09" cy="545.13" r="1.6" fill="#c0d5e4" stroke="#b2b8be" stroke-width="0.45"/>
<circle cx="233.72" cy="544.77" r="1.6" fill="#eaeef2" stroke="#b2b8be" stroke-width="0.45"/>
<circle cx="237.39" cy="544.31" r="1.6" fill="#e7eef2" stroke="#b2b8be" stroke-width="0.45"/>
<circle cx="240.99" cy="544.87" r="1.6" fill="#e9eef2" stroke="#b2b8be" stroke-width="0.45"/>
<circle cx="245.15" cy="545.08" r="1.6" fill="#ccdee8" stroke="#b2b8be" stroke-width="0.45"/>
<circle cx="248.53" cy="544.47" r="1.6" fill="#e5eef2" stroke="#b2b8be" stroke-width="0.45"/>
<circle cx="252.21" cy="544.77" r="1.6" fill="#ccdee8" stroke="#b2b8be" stroke-width="0.45"/>
<circle cx="256.1" cy="544.31" r="1.6" fill="#ccdee8" stroke="#b2b8be" stroke-width="0.45"/>
<circle cx="260.01" cy="544.95" r="1.6" fill="#bad2e3" stroke="#b2b8be" stroke-width="0.45"/>
<circle cx="264.24" cy="544.58" r="1.6" fill="#ccdee8" stroke="#b2b8be" stroke-width="0.45"/>
<circle cx="268.31" cy="545.01" r="1.6" fill="#eceef2" stroke="#b2b8be" stroke-width="0.45"/>
<circle cx="271.45" cy="544.68" r="1.6" fill="#699fce" stroke="#8aa0b8" stroke-width="0.45"/>
<circle cx="279.57" cy="544.46" r="1.6" fill="#ccdee8" stroke="#b2b8be" stroke-width="0.45"/>
<circle cx="283.7" cy="544.82" r="1.6" fill="#ccdee8" stroke="#b2b8be" stroke-width="0.45"/>
<circle cx="287.16" cy="545.16" r="1.6" fill="#e5eef2" stroke="#b2b8be" stroke-width="0.45"/>
<circle cx="290.86" cy="545.15" r="1.6" fill="#eceef2" stroke="#b2b8be" stroke-width="0.45"/>
<circle cx="295.29" cy="544.81" r="1.6" fill="#e6eef2" stroke="#b2b8be" stroke-width="0.45"/>
<circle cx="298.33" cy="544.32" r="1.6" fill="#ccdee8" stroke="#b2b8be" stroke-width="0.45"/>
<circle cx="302.26" cy="544.78" r="1.6" fill="#eaeef2" stroke="#b2b8be" stroke-width="0.45"/>
<circle cx="310.32" cy="544.81" r="1.6" fill="#e6eef2" stroke="#b2b8be" stroke-width="0.45"/>
<circle cx="314.09" cy="544.92" r="1.6" fill="#e5eef2" stroke="#b2b8be" stroke-width="0.45"/>
<circle cx="317.74" cy="545.13" r="1.6" fill="#e5eef2" stroke="#b2b8be" stroke-width="0.45"/>
<circle cx="325.93" cy="544.37" r="1.6" fill="#e8eef2" stroke="#b2b8be" stroke-width="0.45"/>
<circle cx="329.54" cy="544.77" r="1.6" fill="#ebeef2" stroke="#b2b8be" stroke-width="0.45"/>
<circle cx="333.83" cy="544.73" r="1.6" fill="#e6eef2" stroke="#b2b8be" stroke-width="0.45"/>
<circle cx="337.37" cy="544.6" r="1.6" fill="#ebeef2" stroke="#b2b8be" stroke-width="0.45"/>
<circle cx="341.08" cy="544.83" r="1.6" fill="#e6eef2" stroke="#b2b8be" stroke-width="0.45"/>
<circle cx="345.3" cy="544.91" r="1.6" fill="#e9eef2" stroke="#b2b8be" stroke-width="0.45"/>
<circle cx="349.21" cy="544.83" r="1.6" fill="#ccdee8" stroke="#b2b8be" stroke-width="0.45"/>
<circle cx="352.43" cy="544.66" r="1.6" fill="#ccdee8" stroke="#b2b8be" stroke-width="0.45"/>
<circle cx="356.52" cy="545.1" r="1.6" fill="#e8eef2" stroke="#b2b8be" stroke-width="0.45"/>
<circle cx="359.98" cy="544.89" r="1.6" fill="#eaeef2" stroke="#b2b8be" stroke-width="0.45"/>
<circle cx="364.36" cy="544.86" r="1.6" fill="#ccdee8" stroke="#b2b8be" stroke-width="0.45"/>
<circle cx="367.77" cy="545.16" r="1.6" fill="#ccdee8" stroke="#b2b8be" stroke-width="0.45"/>
<circle cx="371.76" cy="545.12" r="1.6" fill="#ebeef2" stroke="#b2b8be" stroke-width="0.45"/>
<circle cx="375.8" cy="544.7" r="1.6" fill="#eceef2" stroke="#b2b8be" stroke-width="0.45"/>
<circle cx="379.65" cy="544.94" r="1.6" fill="#e9eef2" stroke="#b2b8be" stroke-width="0.45"/>
<circle cx="224.11" cy="547.77" r="1.6" fill="#6ba0cf" stroke="#8aa0b8" stroke-width="0.45"/>
<circle cx="227.84" cy="548.33" r="1.6" fill="#e9eef2" stroke="#b2b8be" stroke-width="0.45"/>
<circle cx="231.07" cy="548.47" r="1.6" fill="#eceef2" stroke="#b2b8be" stroke-width="0.45"/>
<circle cx="235.2" cy="548.16" r="1.6" fill="#ccdee8" stroke="#b2b8be" stroke-width="0.45"/>
<circle cx="238.78" cy="548.13" r="1.6" fill="#eaeef2" stroke="#b2b8be" stroke-width="0.45"/>
<circle cx="243.03" cy="548.06" r="1.6" fill="#e6eef2" stroke="#b2b8be" stroke-width="0.45"/>
<circle cx="247.22" cy="548.07" r="1.6" fill="#eceef2" stroke="#b2b8be" stroke-width="0.45"/>
<circle cx="250.71" cy="548.2" r="1.6" fill="#ccdee8" stroke="#b2b8be" stroke-width="0.45"/>
<circle cx="254.68" cy="548.42" r="1.6" fill="#e5eef2" stroke="#b2b8be" stroke-width="0.45"/>
<circle cx="258.08" cy="548.23" r="1.6" fill="#eaeef2" stroke="#b2b8be" stroke-width="0.45"/>
<circle cx="262.51" cy="548.25" r="1.6" fill="#ccdee8" stroke="#b2b8be" stroke-width="0.45"/>
<circle cx="265.91" cy="548.2" r="1.6" fill="#eaeef2" stroke="#b2b8be" stroke-width="0.45"/>
<circle cx="270.34" cy="547.99" r="1.6" fill="#ccdee8" stroke="#b2b8be" stroke-width="0.45"/>
<circle cx="273.31" cy="548.4" r="1.6" fill="#c9dae5" stroke="#b2b8be" stroke-width="0.45"/>
<circle cx="277.55" cy="548.4" r="1.6" fill="#e8eef2" stroke="#b2b8be" stroke-width="0.45"/>
<circle cx="281.42" cy="548.29" r="1.6" fill="#ebeef2" stroke="#b2b8be" stroke-width="0.45"/>
<circle cx="285.49" cy="547.81" r="1.6" fill="#e7eef2" stroke="#b2b8be" stroke-width="0.45"/>
<circle cx="288.82" cy="548.22" r="1.6" fill="#e9eef2" stroke="#b2b8be" stroke-width="0.45"/>
<circle cx="292.57" cy="547.98" r="1.6" fill="#e9eef2" stroke="#b2b8be" stroke-width="0.45"/>
<circle cx="296.74" cy="548.24" r="1.6" fill="#e8eef2" stroke="#b2b8be" stroke-width="0.45"/>
<circle cx="300.82" cy="547.76" r="1.6" fill="#eaeef2" stroke="#b2b8be" stroke-width="0.45"/>
<circle cx="304.28" cy="547.66" r="1.6" fill="#eaeef2" stroke="#b2b8be" stroke-width="0.45"/>
<circle cx="308.61" cy="547.83" r="1.6" fill="#e8eef2" stroke="#b2b8be" stroke-width="0.45"/>
<circle cx="311.82" cy="547.65" r="1.6" fill="#e9eef2" stroke="#b2b8be" stroke-width="0.45"/>
<circle cx="316.18" cy="548.18" r="1.6" fill="#eceef2" stroke="#b2b8be" stroke-width="0.45"/>
<circle cx="319.58" cy="547.79" r="1.6" fill="#e8eef2" stroke="#b2b8be" stroke-width="0.45"/>
<circle cx="324.09" cy="548.38" r="1.6" fill="#c8d9e5" stroke="#b2b8be" stroke-width="0.45"/>
<circle cx="327.97" cy="547.75" r="1.6" fill="#ccdee8" stroke="#b2b8be" stroke-width="0.45"/>
<circle cx="331.93" cy="548.05" r="1.6" fill="#ccdee8" stroke="#b2b8be" stroke-width="0.45"/>
<circle cx="334.97" cy="548.21" r="1.6" fill="#e7eef2" stroke="#b2b8be" stroke-width="0.45"/>
<circle cx="339.51" cy="548.19" r="1.6" fill="#e5eef2" stroke="#b2b8be" stroke-width="0.45"/>
<circle cx="343.28" cy="547.66" r="1.6" fill="#e9eef2" stroke="#b2b8be" stroke-width="0.45"/>
<circle cx="346.76" cy="547.84" r="1.6" fill="#e6eef2" stroke="#b2b8be" stroke-width="0.45"/>
<circle cx="350.5" cy="547.89" r="1.6" fill="#eaeef2" stroke="#b2b8be" stroke-width="0.45"/>
<circle cx="354.63" cy="548.45" r="1.6" fill="#ebeef2" stroke="#b2b8be" stroke-width="0.45"/>
<circle cx="358.75" cy="548.32" r="1.6" fill="#eaeef2" stroke="#b2b8be" stroke-width="0.45"/>
<circle cx="362.41" cy="548.29" r="1.6" fill="#e8eef2" stroke="#b2b8be" stroke-width="0.45"/>
<circle cx="365.86" cy="547.72" r="1.6" fill="#ebeef2" stroke="#b2b8be" stroke-width="0.45"/>
<circle cx="370.07" cy="547.96" r="1.6" fill="#225693" stroke="#8aa0b8" stroke-width="0.45"/>
<circle cx="373.78" cy="547.89" r="1.6" fill="#c5d7e4" stroke="#b2b8be" stroke-width="0.45"/>
<circle cx="377.75" cy="548.29" r="1.6" fill="#afcce1" stroke="#b2b8be" stroke-width="0.45"/>
<circle cx="226.03" cy="551.84" r="1.6" fill="#275c9a" stroke="#8aa0b8" stroke-width="0.45"/>
<circle cx="229.51" cy="551.39" r="1.6" fill="#bed4e3" stroke="#b2b8be" stroke-width="0.45"/>
<circle cx="233.29" cy="551.53" r="1.6" fill="#bdd3e3" stroke="#b2b8be" stroke-width="0.45"/>
<circle cx="236.87" cy="551.08" r="1.6" fill="#6098cb" stroke="#8aa0b8" stroke-width="0.45"/>
<circle cx="240.96" cy="551.6" r="1.6" fill="#e8eef2" stroke="#b2b8be" stroke-width="0.45"/>
<circle cx="244.59" cy="551.71" r="1.6" fill="#ebeef2" stroke="#b2b8be" stroke-width="0.45"/>
<circle cx="249.05" cy="551.18" r="1.6" fill="#e5eef2" stroke="#b2b8be" stroke-width="0.45"/>
<circle cx="252.24" cy="551.08" r="1.6" fill="#ebeef2" stroke="#b2b8be" stroke-width="0.45"/>
<circle cx="256.39" cy="551.85" r="1.6" fill="#e9eef2" stroke="#b2b8be" stroke-width="0.45"/>
<circle cx="259.99" cy="551.39" r="1.6" fill="#e9eef2" stroke="#b2b8be" stroke-width="0.45"/>
<circle cx="264.12" cy="551.83" r="1.6" fill="#e5eef2" stroke="#b2b8be" stroke-width="0.45"/>
<circle cx="268.26" cy="551.49" r="1.6" fill="#eaeef2" stroke="#b2b8be" stroke-width="0.45"/>
<circle cx="271.78" cy="551.05" r="1.6" fill="#e8eef2" stroke="#b2b8be" stroke-width="0.45"/>
<circle cx="275.25" cy="551.15" r="1.6" fill="#ebeef2" stroke="#b2b8be" stroke-width="0.45"/>
<circle cx="283.71" cy="551.14" r="1.6" fill="#ccdee8" stroke="#b2b8be" stroke-width="0.45"/>
<circle cx="287.15" cy="551.83" r="1.6" fill="#ccdee8" stroke="#b2b8be" stroke-width="0.45"/>
<circle cx="291.27" cy="551.35" r="1.6" fill="#e8eef2" stroke="#b2b8be" stroke-width="0.45"/>
<circle cx="294.73" cy="551.09" r="1.6" fill="#e6eef2" stroke="#b2b8be" stroke-width="0.45"/>
<circle cx="298.86" cy="551.4" r="1.6" fill="#e9eef2" stroke="#b2b8be" stroke-width="0.45"/>
<circle cx="302.6" cy="550.99" r="1.6" fill="#e6eef2" stroke="#b2b8be" stroke-width="0.45"/>
<circle cx="306.7" cy="551.45" r="1.6" fill="#e5eef2" stroke="#b2b8be" stroke-width="0.45"/>
<circle cx="310.2" cy="551.59" r="1.6" fill="#ccdee8" stroke="#b2b8be" stroke-width="0.45"/>
<circle cx="314.49" cy="551.81" r="1.6" fill="#8cbadb" stroke="#8aa0b8" stroke-width="0.45"/>
<circle cx="318.19" cy="551.27" r="1.6" fill="#e6eef2" stroke="#b2b8be" stroke-width="0.45"/>
<circle cx="321.43" cy="551.71" r="1.6" fill="#5892c8" stroke="#8aa0b8" stroke-width="0.45"/>
<circle cx="326.16" cy="551.28" r="1.6" fill="#c0d5e4" stroke="#b2b8be" stroke-width="0.45"/>
<circle cx="330.02" cy="551.65" r="1.6" fill="#699fce" stroke="#8aa0b8" stroke-width="0.45"/>
<circle cx="333.29" cy="551.44" r="1.6" fill="#ebeef2" stroke="#b2b8be" stroke-width="0.45"/>
<circle cx="337.61" cy="551.32" r="1.6" fill="#e7eef2" stroke="#b2b8be" stroke-width="0.45"/>
<circle cx="340.74" cy="551.41" r="1.6" fill="#e5eef2" stroke="#b2b8be" stroke-width="0.45"/>
<circle cx="345.08" cy="550.98" r="1.6" fill="#e7eef2" stroke="#b2b8be" stroke-width="0.45"/>
<circle cx="348.54" cy="551.03" r="1.6" fill="#eaeef2" stroke="#b2b8be" stroke-width="0.45"/>
<circle cx="352.57" cy="551.21" r="1.6" fill="#ccdee8" stroke="#b2b8be" stroke-width="0.45"/>
<circle cx="356.56" cy="551.69" r="1.6" fill="#eaeef2" stroke="#b2b8be" stroke-width="0.45"/>
<circle cx="360.5" cy="551.1" r="1.6" fill="#b3cee1" stroke="#b2b8be" stroke-width="0.45"/>
<circle cx="364.12" cy="551.69" r="1.6" fill="#e6eef2" stroke="#b2b8be" stroke-width="0.45"/>
<circle cx="368.43" cy="551.52" r="1.6" fill="#86b5d9" stroke="#8aa0b8" stroke-width="0.45"/>
<circle cx="372.12" cy="551.16" r="1.6" fill="#a6c8df" stroke="#b2b8be" stroke-width="0.45"/>
<circle cx="375.86" cy="551.22" r="1.6" fill="#85b4d9" stroke="#8aa0b8" stroke-width="0.45"/>
<circle cx="231.05" cy="554.58" r="1.6" fill="#6ea3d0" stroke="#8aa0b8" stroke-width="0.45"/>
<circle cx="235.66" cy="555.06" r="1.6" fill="#e6eef2" stroke="#b2b8be" stroke-width="0.45"/>
<circle cx="238.68" cy="554.63" r="1.6" fill="#eaeef2" stroke="#b2b8be" stroke-width="0.45"/>
<circle cx="247.19" cy="554.51" r="1.6" fill="#ccdee8" stroke="#b2b8be" stroke-width="0.45"/>
<circle cx="250.35" cy="554.51" r="1.6" fill="#e4eef2" stroke="#b2b8be" stroke-width="0.45"/>
<circle cx="254.53" cy="554.45" r="1.6" fill="#e6eef2" stroke="#b2b8be" stroke-width="0.45"/>
<circle cx="258.46" cy="554.95" r="1.6" fill="#e5eef2" stroke="#b2b8be" stroke-width="0.45"/>
<circle cx="262.11" cy="554.47" r="1.6" fill="#ccdee8" stroke="#b2b8be" stroke-width="0.45"/>
<circle cx="266" cy="555.2" r="1.6" fill="#ebeef2" stroke="#b2b8be" stroke-width="0.45"/>
<circle cx="270.19" cy="555.23" r="1.6" fill="#e7eef2" stroke="#b2b8be" stroke-width="0.45"/>
<circle cx="273.84" cy="554.83" r="1.6" fill="#e5eef2" stroke="#b2b8be" stroke-width="0.45"/>
<circle cx="277.31" cy="554.85" r="1.6" fill="#e7eef2" stroke="#b2b8be" stroke-width="0.45"/>
<circle cx="281.06" cy="555.14" r="1.6" fill="#528ec6" stroke="#8aa0b8" stroke-width="0.45"/>
<circle cx="284.9" cy="555.19" r="1.6" fill="#eceef2" stroke="#b2b8be" stroke-width="0.45"/>
<circle cx="289.57" cy="554.36" r="1.6" fill="#e6eef2" stroke="#b2b8be" stroke-width="0.45"/>
<circle cx="292.84" cy="554.98" r="1.6" fill="#ebeef2" stroke="#b2b8be" stroke-width="0.45"/>
<circle cx="296.52" cy="554.41" r="1.6" fill="#e7eef2" stroke="#b2b8be" stroke-width="0.45"/>
<circle cx="300.98" cy="554.87" r="1.6" fill="#6aa0cf" stroke="#8aa0b8" stroke-width="0.45"/>
<circle cx="304.98" cy="554.99" r="1.6" fill="#ccdee8" stroke="#b2b8be" stroke-width="0.45"/>
<circle cx="308.14" cy="554.83" r="1.6" fill="#e8eef2" stroke="#b2b8be" stroke-width="0.45"/>
<circle cx="312.23" cy="554.67" r="1.6" fill="#ccdee8" stroke="#b2b8be" stroke-width="0.45"/>
<circle cx="315.74" cy="554.36" r="1.6" fill="#e8eef2" stroke="#b2b8be" stroke-width="0.45"/>
<circle cx="319.83" cy="554.87" r="1.6" fill="#8dbbdb" stroke="#8aa0b8" stroke-width="0.45"/>
<circle cx="323.53" cy="554.56" r="1.6" fill="#75a8d3" stroke="#8aa0b8" stroke-width="0.45"/>
<circle cx="327.61" cy="555.03" r="1.6" fill="#a2c5df" stroke="#b2b8be" stroke-width="0.45"/>
<circle cx="331.73" cy="555.01" r="1.6" fill="#e4eef2" stroke="#b2b8be" stroke-width="0.45"/>
<circle cx="334.91" cy="554.4" r="1.6" fill="#e5eef2" stroke="#b2b8be" stroke-width="0.45"/>
<circle cx="339.18" cy="555.01" r="1.6" fill="#ccdee8" stroke="#b2b8be" stroke-width="0.45"/>
<circle cx="343.38" cy="554.7" r="1.6" fill="#ebeef2" stroke="#b2b8be" stroke-width="0.45"/>
<circle cx="346.9" cy="554.8" r="1.6" fill="#e8eef2" stroke="#b2b8be" stroke-width="0.45"/>
<circle cx="350.43" cy="554.65" r="1.6" fill="#e8eef2" stroke="#b2b8be" stroke-width="0.45"/>
<circle cx="354.91" cy="554.61" r="1.6" fill="#ccdee8" stroke="#b2b8be" stroke-width="0.45"/>
<circle cx="358.41" cy="555.12" r="1.6" fill="#e7eef2" stroke="#b2b8be" stroke-width="0.45"/>
<circle cx="362.07" cy="554.52" r="1.6" fill="#eceef2" stroke="#b2b8be" stroke-width="0.45"/>
<circle cx="366.33" cy="555.15" r="1.6" fill="#e6eef2" stroke="#b2b8be" stroke-width="0.45"/>
<circle cx="370.1" cy="555.09" r="1.6" fill="#b6d0e2" stroke="#b2b8be" stroke-width="0.45"/>
<circle cx="373.47" cy="554.9" r="1.6" fill="#bcd3e3" stroke="#b2b8be" stroke-width="0.45"/>
<circle cx="233.32" cy="557.98" r="1.6" fill="#eaeef2" stroke="#b2b8be" stroke-width="0.45"/>
<circle cx="236.75" cy="558.25" r="1.6" fill="#639acc" stroke="#8aa0b8" stroke-width="0.45"/>
<circle cx="240.98" cy="557.77" r="1.6" fill="#e5eef2" stroke="#b2b8be" stroke-width="0.45"/>
<circle cx="245.06" cy="558.09" r="1.6" fill="#e8eef2" stroke="#b2b8be" stroke-width="0.45"/>
<circle cx="249.1" cy="558.12" r="1.6" fill="#e5eef2" stroke="#b2b8be" stroke-width="0.45"/>
<circle cx="252.35" cy="557.69" r="1.6" fill="#eaeef2" stroke="#b2b8be" stroke-width="0.45"/>
<circle cx="256.76" cy="558.46" r="1.6" fill="#e6eef2" stroke="#b2b8be" stroke-width="0.45"/>
<circle cx="260.23" cy="558.01" r="1.6" fill="#eaeef2" stroke="#b2b8be" stroke-width="0.45"/>
<circle cx="264.3" cy="557.98" r="1.6" fill="#e6eef2" stroke="#b2b8be" stroke-width="0.45"/>
<circle cx="267.85" cy="557.72" r="1.6" fill="#e9eef2" stroke="#b2b8be" stroke-width="0.45"/>
<circle cx="271.87" cy="558.41" r="1.6" fill="#e9eef2" stroke="#b2b8be" stroke-width="0.45"/>
<circle cx="275.78" cy="558.36" r="1.6" fill="#e9eef2" stroke="#b2b8be" stroke-width="0.45"/>
<circle cx="279.08" cy="557.76" r="1.6" fill="#78abd4" stroke="#8aa0b8" stroke-width="0.45"/>
<circle cx="283.44" cy="558.43" r="1.6" fill="#ebeef2" stroke="#b2b8be" stroke-width="0.45"/>
<circle cx="287.65" cy="558.46" r="1.6" fill="#2d65a3" stroke="#8aa0b8" stroke-width="0.45"/>
<circle cx="290.82" cy="557.86" r="1.6" fill="#ccdee8" stroke="#b2b8be" stroke-width="0.45"/>
<circle cx="295.08" cy="558.21" r="1.6" fill="#e7eef2" stroke="#b2b8be" stroke-width="0.45"/>
<circle cx="298.73" cy="558.49" r="1.6" fill="#ccdee8" stroke="#b2b8be" stroke-width="0.45"/>
<circle cx="303.06" cy="557.92" r="1.6" fill="#e9eef2" stroke="#b2b8be" stroke-width="0.45"/>
<circle cx="306.9" cy="558.11" r="1.6" fill="#e7eef2" stroke="#b2b8be" stroke-width="0.45"/>
<circle cx="310.35" cy="557.75" r="1.6" fill="#eaeef2" stroke="#b2b8be" stroke-width="0.45"/>
<circle cx="313.92" cy="558.28" r="1.6" fill="#eceef2" stroke="#b2b8be" stroke-width="0.45"/>
<circle cx="318.08" cy="558.32" r="1.6" fill="#ccdee8" stroke="#b2b8be" stroke-width="0.45"/>
<circle cx="321.8" cy="557.93" r="1.6" fill="#a0c5df" stroke="#b2b8be" stroke-width="0.45"/>
<circle cx="325.59" cy="558.03" r="1.6" fill="#ccdee8" stroke="#b2b8be" stroke-width="0.45"/>
<circle cx="333.61" cy="558.24" r="1.6" fill="#e6eef2" stroke="#b2b8be" stroke-width="0.45"/>
<circle cx="336.96" cy="558.15" r="1.6" fill="#ccdee8" stroke="#b2b8be" stroke-width="0.45"/>
<circle cx="341" cy="558.45" r="1.6" fill="#e8eef2" stroke="#b2b8be" stroke-width="0.45"/>
<circle cx="344.62" cy="557.91" r="1.6" fill="#e8eef2" stroke="#b2b8be" stroke-width="0.45"/>
<circle cx="348.72" cy="557.99" r="1.6" fill="#e7eef2" stroke="#b2b8be" stroke-width="0.45"/>
<circle cx="353.06" cy="558.58" r="1.6" fill="#5590c7" stroke="#8aa0b8" stroke-width="0.45"/>
<circle cx="356.31" cy="558.22" r="1.6" fill="#ccdee8" stroke="#b2b8be" stroke-width="0.45"/>
<circle cx="360.66" cy="558.58" r="1.6" fill="#e5eef2" stroke="#b2b8be" stroke-width="0.45"/>
<circle cx="364.67" cy="557.78" r="1.6" fill="#e6eef2" stroke="#b2b8be" stroke-width="0.45"/>
<circle cx="367.8" cy="557.93" r="1.6" fill="#e7eef2" stroke="#b2b8be" stroke-width="0.45"/>
<circle cx="371.67" cy="558.08" r="1.6" fill="#c5d8e4" stroke="#b2b8be" stroke-width="0.45"/>
<circle cx="239.24" cy="561.47" r="1.6" fill="#528ec6" stroke="#8aa0b8" stroke-width="0.45"/>
<circle cx="242.52" cy="561.6" r="1.6" fill="#ccdee8" stroke="#b2b8be" stroke-width="0.45"/>
<circle cx="247.16" cy="561.84" r="1.6" fill="#e9eef2" stroke="#b2b8be" stroke-width="0.45"/>
<circle cx="250.96" cy="561.92" r="1.6" fill="#ccdee8" stroke="#b2b8be" stroke-width="0.45"/>
<circle cx="254.58" cy="561.25" r="1.6" fill="#e5eef2" stroke="#b2b8be" stroke-width="0.45"/>
<circle cx="258.75" cy="561.16" r="1.6" fill="#ebeef2" stroke="#b2b8be" stroke-width="0.45"/>
<circle cx="261.81" cy="561.78" r="1.6" fill="#e9eef2" stroke="#b2b8be" stroke-width="0.45"/>
<circle cx="265.61" cy="561.5" r="1.6" fill="#9ec4de" stroke="#b2b8be" stroke-width="0.45"/>
<circle cx="270.05" cy="561.44" r="1.6" fill="#ccdee8" stroke="#b2b8be" stroke-width="0.45"/>
<circle cx="273.79" cy="561.57" r="1.6" fill="#e7eef2" stroke="#b2b8be" stroke-width="0.45"/>
<circle cx="277.75" cy="561.42" r="1.6" fill="#e9eef2" stroke="#b2b8be" stroke-width="0.45"/>
<circle cx="281.22" cy="561.68" r="1.6" fill="#c3d7e4" stroke="#b2b8be" stroke-width="0.45"/>
<circle cx="285.39" cy="561.84" r="1.6" fill="#9ac1dd" stroke="#b2b8be" stroke-width="0.45"/>
<circle cx="289.48" cy="561.76" r="1.6" fill="#98c0dd" stroke="#8aa0b8" stroke-width="0.45"/>
<circle cx="296.64" cy="561.62" r="1.6" fill="#e8eef2" stroke="#b2b8be" stroke-width="0.45"/>
<circle cx="300.5" cy="561.43" r="1.6" fill="#e7eef2" stroke="#b2b8be" stroke-width="0.45"/>
<circle cx="304.96" cy="561.7" r="1.6" fill="#ebeef2" stroke="#b2b8be" stroke-width="0.45"/>
<circle cx="308.85" cy="561.2" r="1.6" fill="#ccdee8" stroke="#b2b8be" stroke-width="0.45"/>
<circle cx="312.57" cy="561.75" r="1.6" fill="#ebeef2" stroke="#b2b8be" stroke-width="0.45"/>
<circle cx="315.81" cy="561.6" r="1.6" fill="#e9eef2" stroke="#b2b8be" stroke-width="0.45"/>
<circle cx="319.98" cy="561.47" r="1.6" fill="#e4eef2" stroke="#b2b8be" stroke-width="0.45"/>
<circle cx="323.78" cy="561.83" r="1.6" fill="#89b7da" stroke="#8aa0b8" stroke-width="0.45"/>
<circle cx="328.09" cy="561.71" r="1.6" fill="#e9eef2" stroke="#b2b8be" stroke-width="0.45"/>
<circle cx="331.72" cy="561.77" r="1.6" fill="#eaeef2" stroke="#b2b8be" stroke-width="0.45"/>
<circle cx="335.31" cy="561.24" r="1.6" fill="#e5eef2" stroke="#b2b8be" stroke-width="0.45"/>
<circle cx="339.07" cy="561.67" r="1.6" fill="#e5eef2" stroke="#b2b8be" stroke-width="0.45"/>
<circle cx="343.06" cy="561.19" r="1.6" fill="#e7eef2" stroke="#b2b8be" stroke-width="0.45"/>
<circle cx="347.19" cy="561.53" r="1.6" fill="#e5eef2" stroke="#b2b8be" stroke-width="0.45"/>
<circle cx="350.37" cy="561.91" r="1.6" fill="#ebeef2" stroke="#b2b8be" stroke-width="0.45"/>
<circle cx="354.2" cy="561.67" r="1.6" fill="#eaeef2" stroke="#b2b8be" stroke-width="0.45"/>
<circle cx="358.56" cy="561.66" r="1.6" fill="#ccdee8" stroke="#b2b8be" stroke-width="0.45"/>
<circle cx="362.65" cy="561.77" r="1.6" fill="#c9dae5" stroke="#b2b8be" stroke-width="0.45"/>
<circle cx="244.59" cy="565.05" r="1.6" fill="#eaeef2" stroke="#b2b8be" stroke-width="0.45"/>
<circle cx="249.05" cy="564.74" r="1.6" fill="#5d96ca" stroke="#8aa0b8" stroke-width="0.45"/>
<circle cx="252.3" cy="564.49" r="1.6" fill="#e4eef2" stroke="#b2b8be" stroke-width="0.45"/>
<circle cx="256.63" cy="564.67" r="1.6" fill="#669dcd" stroke="#8aa0b8" stroke-width="0.45"/>
<circle cx="260.32" cy="565.2" r="1.6" fill="#eaeef2" stroke="#b2b8be" stroke-width="0.45"/>
<circle cx="263.75" cy="565.2" r="1.6" fill="#e8eef2" stroke="#b2b8be" stroke-width="0.45"/>
<circle cx="267.75" cy="565.24" r="1.6" fill="#ebeef2" stroke="#b2b8be" stroke-width="0.45"/>
<circle cx="271.45" cy="564.94" r="1.6" fill="#eaeef2" stroke="#b2b8be" stroke-width="0.45"/>
<circle cx="275.67" cy="564.81" r="1.6" fill="#e8eef2" stroke="#b2b8be" stroke-width="0.45"/>
<circle cx="279.11" cy="564.94" r="1.6" fill="#e5eef2" stroke="#b2b8be" stroke-width="0.45"/>
<circle cx="283.77" cy="564.61" r="1.6" fill="#e5eef2" stroke="#b2b8be" stroke-width="0.45"/>
<circle cx="287.31" cy="564.8" r="1.6" fill="#e8eef2" stroke="#b2b8be" stroke-width="0.45"/>
<circle cx="290.93" cy="564.99" r="1.6" fill="#7daed6" stroke="#8aa0b8" stroke-width="0.45"/>
<circle cx="294.55" cy="564.89" r="1.6" fill="#1e508c" stroke="#8aa0b8" stroke-width="0.45"/>
<circle cx="298.42" cy="564.78" r="1.6" fill="#e9eef2" stroke="#b2b8be" stroke-width="0.45"/>
<circle cx="302.19" cy="564.79" r="1.6" fill="#e5eef2" stroke="#b2b8be" stroke-width="0.45"/>
<circle cx="306.72" cy="564.5" r="1.6" fill="#e5eef2" stroke="#b2b8be" stroke-width="0.45"/>
<circle cx="310.77" cy="565.24" r="1.6" fill="#e6eef2" stroke="#b2b8be" stroke-width="0.45"/>
<circle cx="313.92" cy="565.08" r="1.6" fill="#e5eef2" stroke="#b2b8be" stroke-width="0.45"/>
<circle cx="321.95" cy="564.43" r="1.6" fill="#eaeef2" stroke="#b2b8be" stroke-width="0.45"/>
<circle cx="325.58" cy="565.22" r="1.6" fill="#cbdbe5" stroke="#b2b8be" stroke-width="0.45"/>
<circle cx="329.83" cy="565" r="1.6" fill="#ebeef2" stroke="#b2b8be" stroke-width="0.45"/>
<circle cx="333.36" cy="564.78" r="1.6" fill="#ebeef2" stroke="#b2b8be" stroke-width="0.45"/>
<circle cx="336.89" cy="564.94" r="1.6" fill="#e4eef2" stroke="#b2b8be" stroke-width="0.45"/>
<circle cx="341.29" cy="564.39" r="1.6" fill="#e7eef2" stroke="#b2b8be" stroke-width="0.45"/>
<circle cx="344.59" cy="564.61" r="1.6" fill="#e7eef2" stroke="#b2b8be" stroke-width="0.45"/>
<circle cx="348.7" cy="564.97" r="1.6" fill="#e6eef2" stroke="#b2b8be" stroke-width="0.45"/>
<circle cx="352.9" cy="564.95" r="1.6" fill="#e9eef2" stroke="#b2b8be" stroke-width="0.45"/>
<circle cx="356.55" cy="564.63" r="1.6" fill="#e7eef2" stroke="#b2b8be" stroke-width="0.45"/>
<circle cx="254.82" cy="567.93" r="1.6" fill="#c1d5e4" stroke="#b2b8be" stroke-width="0.45"/>
<circle cx="258.77" cy="567.85" r="1.6" fill="#eaeef2" stroke="#b2b8be" stroke-width="0.45"/>
<circle cx="261.79" cy="568.06" r="1.6" fill="#ccdee8" stroke="#b2b8be" stroke-width="0.45"/>
<circle cx="270.02" cy="567.93" r="1.6" fill="#e4eef2" stroke="#b2b8be" stroke-width="0.45"/>
<circle cx="274.18" cy="567.91" r="1.6" fill="#a6c8df" stroke="#b2b8be" stroke-width="0.45"/>
<circle cx="277.18" cy="567.73" r="1.6" fill="#e7eef2" stroke="#b2b8be" stroke-width="0.45"/>
<circle cx="281.79" cy="568.16" r="1.6" fill="#e4eef2" stroke="#b2b8be" stroke-width="0.45"/>
<circle cx="284.98" cy="568.05" r="1.6" fill="#e9eef2" stroke="#b2b8be" stroke-width="0.45"/>
<circle cx="292.62" cy="568.4" r="1.6" fill="#a6c8df" stroke="#b2b8be" stroke-width="0.45"/>
<circle cx="296.61" cy="568.38" r="1.6" fill="#7caed5" stroke="#8aa0b8" stroke-width="0.45"/>
<circle cx="300.31" cy="568.18" r="1.6" fill="#ccdee8" stroke="#b2b8be" stroke-width="0.45"/>
<circle cx="304.98" cy="567.92" r="1.6" fill="#e5eef2" stroke="#b2b8be" stroke-width="0.45"/>
<circle cx="308.51" cy="568.34" r="1.6" fill="#e7eef2" stroke="#b2b8be" stroke-width="0.45"/>
<circle cx="312.25" cy="568.43" r="1.6" fill="#e6eef2" stroke="#b2b8be" stroke-width="0.45"/>
<circle cx="316.5" cy="568.01" r="1.6" fill="#ebeef2" stroke="#b2b8be" stroke-width="0.45"/>
<circle cx="320.27" cy="568.36" r="1.6" fill="#ccdee8" stroke="#b2b8be" stroke-width="0.45"/>
<circle cx="323.87" cy="567.83" r="1.6" fill="#84b4d8" stroke="#8aa0b8" stroke-width="0.45"/>
<circle cx="327.84" cy="568.41" r="1.6" fill="#a9c9e0" stroke="#b2b8be" stroke-width="0.45"/>
<circle cx="331.56" cy="568.25" r="1.6" fill="#e5eef2" stroke="#b2b8be" stroke-width="0.45"/>
<circle cx="335.32" cy="567.75" r="1.6" fill="#eaeef2" stroke="#b2b8be" stroke-width="0.45"/>
<circle cx="339.45" cy="568.05" r="1.6" fill="#ebeef2" stroke="#b2b8be" stroke-width="0.45"/>
<circle cx="343.23" cy="568.24" r="1.6" fill="#e9eef2" stroke="#b2b8be" stroke-width="0.45"/>
<circle cx="347.03" cy="567.95" r="1.6" fill="#e6eef2" stroke="#b2b8be" stroke-width="0.45"/>
<circle cx="264.08" cy="571.09" r="1.6" fill="#8bb9db" stroke="#8aa0b8" stroke-width="0.45"/>
<circle cx="267.84" cy="571.9" r="1.6" fill="#eaeef2" stroke="#b2b8be" stroke-width="0.45"/>
<circle cx="271.51" cy="571.25" r="1.6" fill="#e6eef2" stroke="#b2b8be" stroke-width="0.45"/>
<circle cx="279.85" cy="571.48" r="1.6" fill="#eceef2" stroke="#b2b8be" stroke-width="0.45"/>
<circle cx="287.39" cy="571.63" r="1.6" fill="#ccdee8" stroke="#b2b8be" stroke-width="0.45"/>
<circle cx="290.96" cy="571.35" r="1.6" fill="#e9eef2" stroke="#b2b8be" stroke-width="0.45"/>
<circle cx="294.72" cy="571.12" r="1.6" fill="#abcae0" stroke="#b2b8be" stroke-width="0.45"/>
<circle cx="298.88" cy="571.8" r="1.6" fill="#bcd3e3" stroke="#b2b8be" stroke-width="0.45"/>
<circle cx="302.65" cy="571.3" r="1.6" fill="#e8eef2" stroke="#b2b8be" stroke-width="0.45"/>
<circle cx="306.08" cy="571.81" r="1.6" fill="#e7eef2" stroke="#b2b8be" stroke-width="0.45"/>
<circle cx="310.63" cy="571.12" r="1.6" fill="#eceef2" stroke="#b2b8be" stroke-width="0.45"/>
<circle cx="314.1" cy="571.76" r="1.6" fill="#e6eef2" stroke="#b2b8be" stroke-width="0.45"/>
<circle cx="318.43" cy="571.88" r="1.6" fill="#e9eef2" stroke="#b2b8be" stroke-width="0.45"/>
<circle cx="321.65" cy="571.95" r="1.6" fill="#e5eef2" stroke="#b2b8be" stroke-width="0.45"/>
<circle cx="325.58" cy="571.62" r="1.6" fill="#7fb0d7" stroke="#8aa0b8" stroke-width="0.45"/>
<circle cx="329.76" cy="571.43" r="1.6" fill="#e8eef2" stroke="#b2b8be" stroke-width="0.45"/>
<circle cx="333.01" cy="571.84" r="1.6" fill="#ccdee8" stroke="#b2b8be" stroke-width="0.45"/>
<circle cx="337.63" cy="571.25" r="1.6" fill="#ccdee8" stroke="#b2b8be" stroke-width="0.45"/>
<circle cx="341.42" cy="571.56" r="1.6" fill="#e7eef2" stroke="#b2b8be" stroke-width="0.45"/>
<circle cx="277.97" cy="574.49" r="1.6" fill="#103d78" stroke="#8aa0b8" stroke-width="0.45"/>
<circle cx="281.39" cy="575.01" r="1.6" fill="#9ac1dd" stroke="#b2b8be" stroke-width="0.45"/>
<circle cx="284.95" cy="575" r="1.6" fill="#99c1dd" stroke="#8aa0b8" stroke-width="0.45"/>
<circle cx="289.47" cy="575.15" r="1.6" fill="#e8eef2" stroke="#b2b8be" stroke-width="0.45"/>
<circle cx="293.26" cy="574.79" r="1.6" fill="#e6eef2" stroke="#b2b8be" stroke-width="0.45"/>
<circle cx="297.11" cy="574.58" r="1.6" fill="#1c4d89" stroke="#8aa0b8" stroke-width="0.45"/>
<circle cx="300.52" cy="574.8" r="1.6" fill="#08316c" stroke="#8aa0b8" stroke-width="0.45"/>
<circle cx="304.1" cy="575" r="1.6" fill="#e6eef2" stroke="#b2b8be" stroke-width="0.45"/>
<circle cx="308.25" cy="575.04" r="1.6" fill="#eaeef2" stroke="#b2b8be" stroke-width="0.45"/>
<circle cx="311.98" cy="574.57" r="1.6" fill="#e7eef2" stroke="#b2b8be" stroke-width="0.45"/>
<circle cx="315.94" cy="574.89" r="1.6" fill="#ccdee8" stroke="#b2b8be" stroke-width="0.45"/>
<circle cx="319.65" cy="575.18" r="1.6" fill="#ccdee8" stroke="#b2b8be" stroke-width="0.45"/>
<circle cx="323.8" cy="575.33" r="1.6" fill="#c2d6e4" stroke="#b2b8be" stroke-width="0.45"/>
<circle cx="327.7" cy="574.49" r="1.6" fill="#7eb0d6" stroke="#8aa0b8" stroke-width="0.45"/>
<circle cx="331.18" cy="574.52" r="1.6" fill="#a0c5df" stroke="#b2b8be" stroke-width="0.45"/>
<circle cx="291.25" cy="578.36" r="1.6" fill="#e6eef2" stroke="#b2b8be" stroke-width="0.45"/>
<circle cx="294.96" cy="578.1" r="1.6" fill="#e8eef2" stroke="#b2b8be" stroke-width="0.45"/>
<circle cx="298.83" cy="578.13" r="1.6" fill="#b0cde1" stroke="#b2b8be" stroke-width="0.45"/>
<circle cx="302.35" cy="578.25" r="1.6" fill="#abcae0" stroke="#b2b8be" stroke-width="0.45"/>
<circle cx="306.68" cy="578.16" r="1.6" fill="#e8eef2" stroke="#b2b8be" stroke-width="0.45"/>
<circle cx="310.46" cy="578.07" r="1.6" fill="#e6eef2" stroke="#b2b8be" stroke-width="0.45"/>
<path d="M237.8 441.7 L242.2 446.1 M237.8 446.1 L242.2 441.7" stroke="#ee3333" stroke-width="0.9" fill="none"/>
<path d="M277.3 442 L281.7 446.4 M277.3 446.4 L281.7 442" stroke="#ee3333" stroke-width="0.9" fill="none"/>
<path d="M321.3 442.3 L325.7 446.7 M321.3 446.7 L325.7 442.3" stroke="#ee3333" stroke-width="0.9" fill="none"/>
<path d="M360.8 441.3 L365.2 445.7 M360.8 445.7 L365.2 441.3" stroke="#ee3333" stroke-width="0.9" fill="none"/>
<path d="M239.3 463.8 L243.7 468.2 M239.3 468.2 L243.7 463.8" stroke="#ee3333" stroke-width="0.9" fill="none"/>
<path d="M278.8 464.3 L283.2 468.7 M278.8 468.7 L283.2 464.3" stroke="#ee3333" stroke-width="0.9" fill="none"/>
<path d="M319.8 465.4 L324.2 469.8 M319.8 469.8 L324.2 465.4" stroke="#ee3333" stroke-width="0.9" fill="none"/>
<path d="M363.8 463.8 L368.2 468.2 M363.8 468.2 L368.2 463.8" stroke="#ee3333" stroke-width="0.9" fill="none"/>
<path d="M232.8 485.8 L237.2 490.2 M232.8 490.2 L237.2 485.8" stroke="#ee3333" stroke-width="0.9" fill="none"/>
<path d="M363.8 485.8 L368.2 490.2 M363.8 490.2 L368.2 485.8" stroke="#ee3333" stroke-width="0.9" fill="none"/>
<path d="M232.8 507.8 L237.2 512.2 M232.8 512.2 L237.2 507.8" stroke="#ee3333" stroke-width="0.9" fill="none"/>
<path d="M270.3 506.8 L274.7 511.2 M270.3 511.2 L274.7 506.8" stroke="#ee3333" stroke-width="0.9" fill="none"/>
<path d="M328.3 507.8 L332.7 512.2 M328.3 512.2 L332.7 507.8" stroke="#ee3333" stroke-width="0.9" fill="none"/>
<path d="M365.8 508.3 L370.2 512.7 M365.8 512.7 L370.2 508.3" stroke="#ee3333" stroke-width="0.9" fill="none"/>
<path d="M232.8 530.4 L237.2 534.8 M232.8 534.8 L237.2 530.4" stroke="#ee3333" stroke-width="0.9" fill="none"/>
<path d="M271.5 529.2 L275.9 533.6 M271.5 533.6 L275.9 529.2" stroke="#ee3333" stroke-width="0.9" fill="none"/>
<path d="M327.8 529.2 L332.2 533.6 M327.8 533.6 L332.2 529.2" stroke="#ee3333" stroke-width="0.9" fill="none"/>
<path d="M365.8 530.4 L370.2 534.8 M365.8 534.8 L370.2 530.4" stroke="#ee3333" stroke-width="0.9" fill="none"/>
<path d="M232.8 552.6 L237.2 557 M232.8 557 L237.2 552.6" stroke="#ee3333" stroke-width="0.9" fill="none"/>
<path d="M299.5 558.8 L303.9 563.2 M299.5 563.2 L303.9 558.8" stroke="#ee3333" stroke-width="0.9" fill="none"/>
<path d="M365.8 552.6 L370.2 557 M365.8 557 L370.2 552.6" stroke="#ee3333" stroke-width="0.9" fill="none"/>
<rect x="216.5" y="570" width="68" height="12.8" fill="#ffffff" stroke="#d8d8d8" stroke-width="0.6" rx="1.5" fill-opacity="0.85"/>
<path d="M225.3 573.9 L229.7 578.3 M225.3 578.3 L229.7 573.9" stroke="#ee3333" stroke-width="0.9" fill="none"/>
<text x="240.5" y="579.08" font-size="8" text-anchor="start" fill="#222">FBG sensors</text>
<rect x="212.8" y="421.5" width="177.6" height="165" fill="none" stroke="#555" stroke-width="0.9"/>
<line x1="210.3" y1="584.2" x2="212.8" y2="584.2" stroke="#555" stroke-width="0.7"/>
<text x="209.1" y="587.08" font-size="8" text-anchor="end" fill="#222">0</text>
<line x1="210.3" y1="562.27" x2="212.8" y2="562.27" stroke="#555" stroke-width="0.7"/>
<text x="209.1" y="565.15" font-size="8" text-anchor="end" fill="#222">20</text>
<line x1="210.3" y1="540.34" x2="212.8" y2="540.34" stroke="#555" stroke-width="0.7"/>
<text x="209.1" y="543.22" font-size="8" text-anchor="end" fill="#222">40</text>
<line x1="210.3" y1="518.41" x2="212.8" y2="518.41" stroke="#555" stroke-width="0.7"/>
<text x="209.1" y="521.29" font-size="8" text-anchor="end" fill="#222">60</text>
<line x1="210.3" y1="496.48" x2="212.8" y2="496.48" stroke="#555" stroke-width="0.7"/>
<text x="209.1" y="499.36" font-size="8" text-anchor="end" fill="#222">80</text>
<line x1="210.3" y1="474.56" x2="212.8" y2="474.56" stroke="#555" stroke-width="0.7"/>
<text x="209.1" y="477.44" font-size="8" text-anchor="end" fill="#222">100</text>
<line x1="210.3" y1="452.63" x2="212.8" y2="452.63" stroke="#555" stroke-width="0.7"/>
<text x="209.1" y="455.51" font-size="8" text-anchor="end" fill="#222">120</text>
<line x1="210.3" y1="430.7" x2="212.8" y2="430.7" stroke="#555" stroke-width="0.7"/>
<text x="209.1" y="433.58" font-size="8" text-anchor="end" fill="#222">140</text>
<line x1="224.1" y1="586.5" x2="224.1" y2="589" stroke="#555" stroke-width="0.7"/>
<text x="224.1" y="596.88" font-size="8" text-anchor="middle" fill="#222">0.5</text>
<line x1="259.9" y1="586.5" x2="259.9" y2="589" stroke="#555" stroke-width="0.7"/>
<text x="259.9" y="596.88" font-size="8" text-anchor="middle" fill="#222">1.0</text>
<line x1="295.7" y1="586.5" x2="295.7" y2="589" stroke="#555" stroke-width="0.7"/>
<text x="295.7" y="596.88" font-size="8" text-anchor="middle" fill="#222">1.5</text>
<line x1="331.5" y1="586.5" x2="331.5" y2="589" stroke="#555" stroke-width="0.7"/>
<text x="331.5" y="596.88" font-size="8" text-anchor="middle" fill="#222">2.0</text>
<line x1="367.3" y1="586.5" x2="367.3" y2="589" stroke="#555" stroke-width="0.7"/>
<text x="367.3" y="596.88" font-size="8" text-anchor="middle" fill="#222">2.5</text>
<text x="192" y="506.74" font-size="7.6" text-anchor="middle" fill="#222" transform="rotate(-90 192 504)">z [mm]</text>
<text x="302" y="606.04" font-size="7.6" text-anchor="middle" fill="#222">&#952; [rad]</text>
<path d="M401.5 586.5 L401.5 429.2 L405.8 420.6 L410.1 429.2 L410.1 586.5 Z" stroke="#888" stroke-width="0.6" fill="url(#gF)"/>
<line x1="410.1" y1="564.7" x2="412.4" y2="564.7" stroke="#555" stroke-width="0.7"/>
<text x="413.8" y="567.58" font-size="8" text-anchor="start" fill="#222">2</text>
<line x1="410.1" y1="537.6" x2="412.4" y2="537.6" stroke="#555" stroke-width="0.7"/>
<text x="413.8" y="540.48" font-size="8" text-anchor="start" fill="#222">4</text>
<line x1="410.1" y1="510.5" x2="412.4" y2="510.5" stroke="#555" stroke-width="0.7"/>
<text x="413.8" y="513.38" font-size="8" text-anchor="start" fill="#222">6</text>
<line x1="410.1" y1="483.4" x2="412.4" y2="483.4" stroke="#555" stroke-width="0.7"/>
<text x="413.8" y="486.28" font-size="8" text-anchor="start" fill="#222">8</text>
<line x1="410.1" y1="456.3" x2="412.4" y2="456.3" stroke="#555" stroke-width="0.7"/>
<text x="413.8" y="459.18" font-size="8" text-anchor="start" fill="#222">10</text>
<line x1="410.1" y1="429.2" x2="412.4" y2="429.2" stroke="#555" stroke-width="0.7"/>
<text x="413.8" y="432.08" font-size="8" text-anchor="start" fill="#222">12</text>
<text x="427.4" y="510.68" font-size="7.45" text-anchor="middle" fill="#222" transform="rotate(-90 427.4 508)">Error [mm]</text>
<rect x="461.7" y="421.5" width="221.8" height="165" fill="#ffffff" stroke="none" stroke-width="0.8"/>
<g clip-path="url(#clipG)">
<rect x="461.7" y="538.6" width="221.8" height="3.8" fill="#c4dcee" stroke="none" stroke-width="0.8" fill-opacity="0.75"/>
<rect x="461.7" y="562.12" width="221.8" height="3.8" fill="#fae0c8" stroke="none" stroke-width="0.8" fill-opacity="0.75"/>
<rect x="461.7" y="572.38" width="221.8" height="3.8" fill="#cdeccd" stroke="none" stroke-width="0.8" fill-opacity="0.75"/>
<rect x="461.7" y="575.09" width="221.8" height="3.8" fill="#f4c4c4" stroke="none" stroke-width="0.8" fill-opacity="0.75"/>
<line x1="461.7" y1="540.5" x2="683.5" y2="540.5" stroke="#9cc2e2" stroke-width="0.9" stroke-dasharray="3 2"/>
<line x1="461.7" y1="564.02" x2="683.5" y2="564.02" stroke="#f0883a" stroke-width="0.9" stroke-dasharray="3 2"/>
<line x1="461.7" y1="574.28" x2="683.5" y2="574.28" stroke="#48a848" stroke-width="0.9" stroke-dasharray="3 2"/>
<line x1="461.7" y1="576.99" x2="683.5" y2="576.99" stroke="#e07070" stroke-width="0.9" stroke-dasharray="3 2"/>
</g>
<path d="M471.8 431.92 L473.82 437.12 L475.84 442.06 L477.85 446.77 L479.87 451.25 L481.89 455.52 L483.91 459.58 L485.93 463.45 L487.94 467.13 L489.96 470.64 L491.98 473.98 L494 477.16 L496.02 480.19 L498.03 483.08 L500.05 485.82 L502.07 488.44 L504.09 490.93 L506.11 493.3 L508.12 495.55 L510.14 497.7 L512.16 499.75 L514.18 501.7 L516.2 503.55 L518.21 505.32 L520.23 507 L522.25 508.6 L524.27 510.13 L526.29 511.58 L528.3 512.97 L530.32 514.28 L532.34 515.54 L534.36 516.73 L536.38 517.87 L538.39 518.95 L540.41 519.98 L542.43 520.96 L544.45 521.89 L546.47 522.78 L548.48 523.63 L550.5 524.44 L552.52 525.21 L554.54 525.94 L556.56 526.63 L558.57 527.3 L560.59 527.93 L562.61 528.53 L564.63 529.1 L566.65 529.65 L568.66 530.17 L570.68 530.66 L572.7 531.13 L574.72 531.58 L576.74 532.01 L578.75 532.41 L580.77 532.8 L582.79 533.17 L584.81 533.52 L586.83 533.85 L588.84 534.17 L590.86 534.47 L592.88 534.76 L594.9 535.03 L596.92 535.3 L598.93 535.54 L600.95 535.78 L602.97 536.01 L604.99 536.22 L607.01 536.43 L609.02 536.62 L611.04 536.81 L613.06 536.98 L615.08 537.15 L617.1 537.31 L619.11 537.46 L621.13 537.61 L623.15 537.75 L625.17 537.88 L627.19 538 L629.2 538.12 L631.22 538.24 L633.24 538.35 L635.26 538.45 L637.28 538.55 L639.29 538.64 L641.31 538.73 L643.33 538.81 L645.35 538.89 L647.37 538.97 L649.38 539.04 L651.4 539.11 L653.42 539.18 L655.44 539.24 L657.46 539.3 L659.47 539.36 L661.49 539.42 L663.51 539.47 L665.53 539.52 L667.55 539.56 L669.56 539.61 L671.58 539.65 L673.6 539.69" stroke="#4a90c8" stroke-width="0.9" fill="none"/>
<line x1="471.8" y1="428.3" x2="471.8" y2="435.54" stroke="#4a90c8" stroke-width="0.9"/>
<line x1="512.16" y1="492.21" x2="512.16" y2="507.29" stroke="#4a90c8" stroke-width="0.9"/>
<line x1="552.52" y1="522.19" x2="552.52" y2="528.22" stroke="#4a90c8" stroke-width="0.9"/>
<line x1="592.88" y1="531.74" x2="592.88" y2="537.78" stroke="#4a90c8" stroke-width="0.9"/>
<line x1="633.24" y1="535.33" x2="633.24" y2="541.36" stroke="#4a90c8" stroke-width="0.9"/>
<line x1="673.6" y1="536.68" x2="673.6" y2="542.71" stroke="#4a90c8" stroke-width="0.9"/>
<path d="M471.8 466 L473.82 471.39 L475.84 476.48 L477.85 481.29 L479.87 485.83 L481.89 490.13 L483.91 494.19 L485.93 498.02 L487.94 501.65 L489.96 505.08 L491.98 508.31 L494 511.37 L496.02 514.27 L498.03 517 L500.05 519.58 L502.07 522.02 L504.09 524.33 L506.11 526.51 L508.12 528.57 L510.14 530.52 L512.16 532.36 L514.18 534.1 L516.2 535.74 L518.21 537.3 L520.23 538.77 L522.25 540.15 L524.27 541.46 L526.29 542.7 L528.3 543.88 L530.32 544.98 L532.34 546.03 L534.36 547.02 L536.38 547.95 L538.39 548.83 L540.41 549.67 L542.43 550.46 L544.45 551.2 L546.47 551.91 L548.48 552.57 L550.5 553.2 L552.52 553.8 L554.54 554.36 L556.56 554.89 L558.57 555.39 L560.59 555.87 L562.61 556.31 L564.63 556.74 L566.65 557.14 L568.66 557.52 L570.68 557.87 L572.7 558.21 L574.72 558.53 L576.74 558.83 L578.75 559.12 L580.77 559.39 L582.79 559.64 L584.81 559.88 L586.83 560.11 L588.84 560.33 L590.86 560.53 L592.88 560.72 L594.9 560.9 L596.92 561.07 L598.93 561.24 L600.95 561.39 L602.97 561.53 L604.99 561.67 L607.01 561.8 L609.02 561.92 L611.04 562.04 L613.06 562.15 L615.08 562.25 L617.1 562.35 L619.11 562.44 L621.13 562.53 L623.15 562.61 L625.17 562.69 L627.19 562.76 L629.2 562.83 L631.22 562.9 L633.24 562.96 L635.26 563.02 L637.28 563.07 L639.29 563.12 L641.31 563.17 L643.33 563.22 L645.35 563.26 L647.37 563.31 L649.38 563.35 L651.4 563.38 L653.42 563.42 L655.44 563.45 L657.46 563.48 L659.47 563.51 L661.49 563.54 L663.51 563.57 L665.53 563.59 L667.55 563.62 L669.56 563.64 L671.58 563.66 L673.6 563.68" stroke="#f08a3c" stroke-width="0.9" fill="none"/>
<line x1="471.8" y1="462.39" x2="471.8" y2="469.62" stroke="#f08a3c" stroke-width="0.9"/>
<line x1="512.16" y1="529.35" x2="512.16" y2="535.38" stroke="#f08a3c" stroke-width="0.9"/>
<line x1="552.52" y1="550.78" x2="552.52" y2="556.81" stroke="#f08a3c" stroke-width="0.9"/>
<line x1="592.88" y1="557.7" x2="592.88" y2="563.74" stroke="#f08a3c" stroke-width="0.9"/>
<line x1="633.24" y1="559.94" x2="633.24" y2="565.97" stroke="#f08a3c" stroke-width="0.9"/>
<line x1="673.6" y1="560.66" x2="673.6" y2="566.7" stroke="#f08a3c" stroke-width="0.9"/>
<path d="M471.8 502.5 L473.82 506.37 L475.84 510.04 L477.85 513.51 L479.87 516.79 L481.89 519.89 L483.91 522.83 L485.93 525.61 L487.94 528.23 L489.96 530.72 L491.98 533.07 L494 535.3 L496.02 537.4 L498.03 539.39 L500.05 541.28 L502.07 543.06 L504.09 544.74 L506.11 546.34 L508.12 547.85 L510.14 549.27 L512.16 550.62 L514.18 551.9 L516.2 553.11 L518.21 554.25 L520.23 555.33 L522.25 556.36 L524.27 557.32 L526.29 558.24 L528.3 559.1 L530.32 559.92 L532.34 560.7 L534.36 561.43 L536.38 562.13 L538.39 562.78 L540.41 563.4 L542.43 563.99 L544.45 564.55 L546.47 565.07 L548.48 565.57 L550.5 566.04 L552.52 566.48 L554.54 566.9 L556.56 567.3 L558.57 567.68 L560.59 568.04 L562.61 568.37 L564.63 568.69 L566.65 568.99 L568.66 569.28 L570.68 569.55 L572.7 569.8 L574.72 570.05 L576.74 570.27 L578.75 570.49 L580.77 570.69 L582.79 570.89 L584.81 571.07 L586.83 571.24 L588.84 571.41 L590.86 571.56 L592.88 571.71 L594.9 571.85 L596.92 571.98 L598.93 572.1 L600.95 572.22 L602.97 572.33 L604.99 572.44 L607.01 572.54 L609.02 572.63 L611.04 572.72 L613.06 572.8 L615.08 572.88 L617.1 572.96 L619.11 573.03 L621.13 573.1 L623.15 573.16 L625.17 573.22 L627.19 573.28 L629.2 573.33 L631.22 573.38 L633.24 573.43 L635.26 573.48 L637.28 573.52 L639.29 573.56 L641.31 573.6 L643.33 573.64 L645.35 573.67 L647.37 573.71 L649.38 573.74 L651.4 573.77 L653.42 573.79 L655.44 573.82 L657.46 573.84 L659.47 573.87 L661.49 573.89 L663.51 573.91 L665.53 573.93 L667.55 573.95 L669.56 573.97 L671.58 573.98 L673.6 574" stroke="#4cb050" stroke-width="0.9" fill="none"/>
<line x1="471.8" y1="498.88" x2="471.8" y2="506.12" stroke="#4cb050" stroke-width="0.9"/>
<line x1="512.16" y1="547.61" x2="512.16" y2="553.64" stroke="#4cb050" stroke-width="0.9"/>
<line x1="552.52" y1="563.47" x2="552.52" y2="569.5" stroke="#4cb050" stroke-width="0.9"/>
<line x1="592.88" y1="568.69" x2="592.88" y2="574.73" stroke="#4cb050" stroke-width="0.9"/>
<line x1="633.24" y1="570.42" x2="633.24" y2="576.45" stroke="#4cb050" stroke-width="0.9"/>
<line x1="673.6" y1="570.98" x2="673.6" y2="577.02" stroke="#4cb050" stroke-width="0.9"/>
<path d="M471.8 516.67 L473.82 519.96 L475.84 523.06 L477.85 526 L479.87 528.78 L481.89 531.4 L483.91 533.89 L485.93 536.24 L487.94 538.45 L489.96 540.55 L491.98 542.54 L494 544.41 L496.02 546.19 L498.03 547.87 L500.05 549.45 L502.07 550.95 L504.09 552.37 L506.11 553.71 L508.12 554.98 L510.14 556.18 L512.16 557.31 L514.18 558.38 L516.2 559.4 L518.21 560.36 L520.23 561.26 L522.25 562.12 L524.27 562.93 L526.29 563.69 L528.3 564.42 L530.32 565.1 L532.34 565.75 L534.36 566.36 L536.38 566.94 L538.39 567.49 L540.41 568.01 L542.43 568.5 L544.45 568.96 L546.47 569.4 L548.48 569.81 L550.5 570.2 L552.52 570.57 L554.54 570.92 L556.56 571.25 L558.57 571.57 L560.59 571.86 L562.61 572.14 L564.63 572.4 L566.65 572.65 L568.66 572.89 L570.68 573.11 L572.7 573.33 L574.72 573.53 L576.74 573.71 L578.75 573.89 L580.77 574.06 L582.79 574.22 L584.81 574.37 L586.83 574.52 L588.84 574.65 L590.86 574.78 L592.88 574.9 L594.9 575.01 L596.92 575.12 L598.93 575.22 L600.95 575.32 L602.97 575.41 L604.99 575.5 L607.01 575.58 L609.02 575.65 L611.04 575.73 L613.06 575.8 L615.08 575.86 L617.1 575.92 L619.11 575.98 L621.13 576.04 L623.15 576.09 L625.17 576.14 L627.19 576.18 L629.2 576.23 L631.22 576.27 L633.24 576.31 L635.26 576.35 L637.28 576.38 L639.29 576.42 L641.31 576.45 L643.33 576.48 L645.35 576.51 L647.37 576.53 L649.38 576.56 L651.4 576.58 L653.42 576.6 L655.44 576.62 L657.46 576.64 L659.47 576.66 L661.49 576.68 L663.51 576.7 L665.53 576.71 L667.55 576.73 L669.56 576.74 L671.58 576.76 L673.6 576.77" stroke="#e05050" stroke-width="0.9" fill="none"/>
<line x1="471.8" y1="513.05" x2="471.8" y2="520.29" stroke="#e05050" stroke-width="0.9"/>
<line x1="512.16" y1="554.3" x2="512.16" y2="560.33" stroke="#e05050" stroke-width="0.9"/>
<line x1="552.52" y1="567.56" x2="552.52" y2="573.59" stroke="#e05050" stroke-width="0.9"/>
<line x1="592.88" y1="571.88" x2="592.88" y2="577.91" stroke="#e05050" stroke-width="0.9"/>
<line x1="633.24" y1="573.29" x2="633.24" y2="579.33" stroke="#e05050" stroke-width="0.9"/>
<line x1="673.6" y1="573.75" x2="673.6" y2="579.79" stroke="#e05050" stroke-width="0.9"/>
<rect x="461.7" y="421.5" width="221.8" height="165" fill="none" stroke="#555" stroke-width="0.9"/>
<line x1="459.2" y1="578.2" x2="461.7" y2="578.2" stroke="#555" stroke-width="0.7"/>
<text x="458" y="581.08" font-size="8" text-anchor="end" fill="#222">3</text>
<line x1="459.2" y1="548.04" x2="461.7" y2="548.04" stroke="#555" stroke-width="0.7"/>
<text x="458" y="550.92" font-size="8" text-anchor="end" fill="#222">4</text>
<line x1="459.2" y1="517.88" x2="461.7" y2="517.88" stroke="#555" stroke-width="0.7"/>
<text x="458" y="520.76" font-size="8" text-anchor="end" fill="#222">5</text>
<line x1="459.2" y1="487.72" x2="461.7" y2="487.72" stroke="#555" stroke-width="0.7"/>
<text x="458" y="490.6" font-size="8" text-anchor="end" fill="#222">6</text>
<line x1="459.2" y1="457.56" x2="461.7" y2="457.56" stroke="#555" stroke-width="0.7"/>
<text x="458" y="460.44" font-size="8" text-anchor="end" fill="#222">7</text>
<line x1="459.2" y1="427.4" x2="461.7" y2="427.4" stroke="#555" stroke-width="0.7"/>
<text x="458" y="430.28" font-size="8" text-anchor="end" fill="#222">8</text>
<line x1="471.8" y1="586.5" x2="471.8" y2="589" stroke="#555" stroke-width="0.7"/>
<text x="471.8" y="596.88" font-size="8" text-anchor="middle" fill="#222">2</text>
<line x1="512.16" y1="586.5" x2="512.16" y2="589" stroke="#555" stroke-width="0.7"/>
<text x="512.16" y="596.88" font-size="8" text-anchor="middle" fill="#222">3</text>
<line x1="552.52" y1="586.5" x2="552.52" y2="589" stroke="#555" stroke-width="0.7"/>
<text x="552.52" y="596.88" font-size="8" text-anchor="middle" fill="#222">4</text>
<line x1="592.88" y1="586.5" x2="592.88" y2="589" stroke="#555" stroke-width="0.7"/>
<text x="592.88" y="596.88" font-size="8" text-anchor="middle" fill="#222">5</text>
<line x1="633.24" y1="586.5" x2="633.24" y2="589" stroke="#555" stroke-width="0.7"/>
<text x="633.24" y="596.88" font-size="8" text-anchor="middle" fill="#222">6</text>
<line x1="673.6" y1="586.5" x2="673.6" y2="589" stroke="#555" stroke-width="0.7"/>
<text x="673.6" y="596.88" font-size="8" text-anchor="middle" fill="#222">7</text>
<text x="446.8" y="505.92" font-size="8.1" text-anchor="middle" fill="#222" transform="rotate(-90 446.8 503)">Median Error [mm]</text>
<text x="573" y="605.54" font-size="7.6" text-anchor="middle" fill="#222">Number of bit (weight quantization)</text>
<rect x="643.4" y="425.5" width="36" height="43.5" fill="#ffffff" stroke="#dcdcdc" stroke-width="0.6" rx="1.5"/>
<line x1="645.9" y1="430.6" x2="661.4" y2="430.6" stroke="#6ea4d4" stroke-width="1.1"/>
<text x="667" y="433.5" font-size="8" fill="#222">12<tspan dy="-3" font-size="5.5">2</tspan></text>
<line x1="645.9" y1="441.05" x2="661.4" y2="441.05" stroke="#f4a060" stroke-width="1.1"/>
<text x="667" y="443.95" font-size="8" fill="#222">16<tspan dy="-3" font-size="5.5">2</tspan></text>
<line x1="645.9" y1="451.5" x2="661.4" y2="451.5" stroke="#5cb85c" stroke-width="1.1"/>
<text x="667" y="454.4" font-size="8" fill="#222">23<tspan dy="-3" font-size="5.5">2</tspan></text>
<line x1="645.9" y1="461.95" x2="661.4" y2="461.95" stroke="#f0a8a8" stroke-width="1.6"/>
<text x="667" y="464.85" font-size="8" fill="#222">32<tspan dy="-3" font-size="5.5">2</tspan></text>
<rect x="555.1" y="441.6" width="66.6" height="45.7" fill="#ffffff" stroke="#555" stroke-width="0.8"/>
<path d="M558 485.38 L578.2 480.01 L598.3 467.12 L618.5 443.31" stroke="#6ea4d4" stroke-width="0.9" fill="none"/>
<line x1="558" y1="487.3" x2="558" y2="489.5" stroke="#444" stroke-width="0.7"/>
<text x="559.2" y="497.6" font-size="8" text-anchor="middle" fill="#222">12<tspan dy="-3" font-size="5">2</tspan></text>
<line x1="578.2" y1="487.3" x2="578.2" y2="489.5" stroke="#444" stroke-width="0.7"/>
<text x="579.4" y="497.6" font-size="8" text-anchor="middle" fill="#222">16<tspan dy="-3" font-size="5">2</tspan></text>
<line x1="598.3" y1="487.3" x2="598.3" y2="489.5" stroke="#444" stroke-width="0.7"/>
<text x="599.5" y="497.6" font-size="8" text-anchor="middle" fill="#222">23<tspan dy="-3" font-size="5">2</tspan></text>
<line x1="618.5" y1="487.3" x2="618.5" y2="489.5" stroke="#444" stroke-width="0.7"/>
<text x="619.7" y="497.6" font-size="8" text-anchor="middle" fill="#222">32<tspan dy="-3" font-size="5">2</tspan></text>
<line x1="552.9" y1="474.1" x2="555.1" y2="474.1" stroke="#444" stroke-width="0.7"/>
<text x="551.7" y="476.98" font-size="8" text-anchor="end" fill="#222">2</text>
<line x1="552.9" y1="456.2" x2="555.1" y2="456.2" stroke="#444" stroke-width="0.7"/>
<text x="551.7" y="459.08" font-size="8" text-anchor="end" fill="#222">4</text>
<text x="541.0" y="465.5" font-size="7.6" text-anchor="middle" fill="#222" transform="rotate(-90 541.0 465.5)" dy="2.7">Density [units/cm<tspan dy="-2.8" font-size="5.2">2</tspan><tspan dy="2.8">]</tspan></text>
<text x="587.5" y="503.5" font-size="7.6" text-anchor="middle" fill="#222">N<tspan dy="2" font-size="5">LLN</tspan></text>
</svg></body></html>
